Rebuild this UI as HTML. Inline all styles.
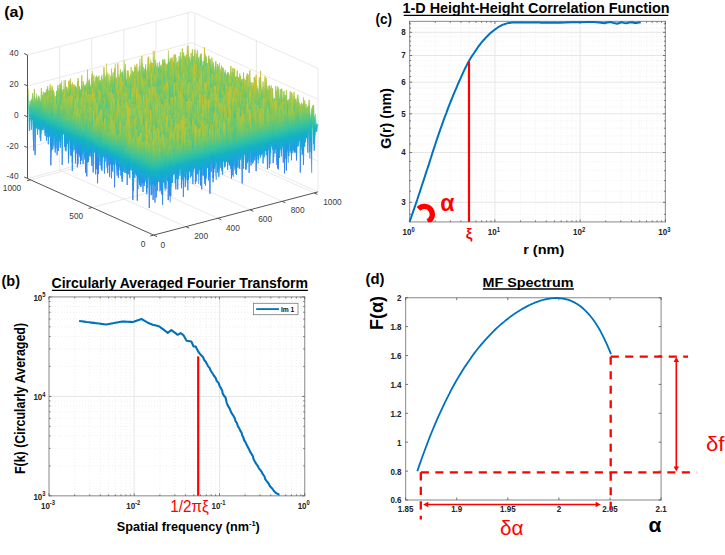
<!DOCTYPE html><html><head><meta charset="utf-8"><style>html,body{margin:0;padding:0;background:#fff;}svg{display:block;}</style></head><body>
<svg width="725" height="555" viewBox="0 0 725 555" font-family='"Liberation Sans", sans-serif'>
<rect width="725" height="555" fill="#fff"/>
<defs><linearGradient id="pz" gradientUnits="userSpaceOnUse" x1="0" y1="76" x2="0" y2="-80"><stop offset="0.000" stop-color="#f8d820"/><stop offset="0.167" stop-color="#f0b428"/><stop offset="0.244" stop-color="#c0c434"/><stop offset="0.321" stop-color="#84c858"/><stop offset="0.410" stop-color="#38c49c"/><stop offset="0.487" stop-color="#12b2c4"/><stop offset="0.577" stop-color="#1aa0e0"/><stop offset="0.718" stop-color="#2c80f2"/><stop offset="1.000" stop-color="#3050e8"/></linearGradient></defs>
<line x1="185.8" y1="226.7" x2="59.6" y2="170.1" stroke="#e3e3e3" stroke-width="0.8"/>
<line x1="217.9" y1="218.2" x2="91.7" y2="161.6" stroke="#e3e3e3" stroke-width="0.8"/>
<line x1="250" y1="209.8" x2="123.8" y2="153.2" stroke="#e3e3e3" stroke-width="0.8"/>
<line x1="282.1" y1="201.3" x2="155.9" y2="144.8" stroke="#e3e3e3" stroke-width="0.8"/>
<line x1="92.1" y1="207.5" x2="256.4" y2="164.3" stroke="#e3e3e3" stroke-width="0.8"/>
<line x1="30.5" y1="179.8" x2="194.8" y2="136.6" stroke="#e3e3e3" stroke-width="0.8"/>
<line x1="314.1" y1="192.9" x2="187.9" y2="136.3" stroke="#e3e3e3" stroke-width="0.8"/>
<line x1="27.5" y1="178.5" x2="191.8" y2="135.3" stroke="#e3e3e3" stroke-width="0.8"/>
<line x1="318" y1="191.9" x2="191.8" y2="135.3" stroke="#e3e3e3" stroke-width="0.8"/>
<line x1="59.6" y1="170.1" x2="59.6" y2="46.6" stroke="#e3e3e3" stroke-width="0.8"/>
<line x1="91.7" y1="161.6" x2="91.7" y2="38.1" stroke="#e3e3e3" stroke-width="0.8"/>
<line x1="123.8" y1="153.2" x2="123.8" y2="29.7" stroke="#e3e3e3" stroke-width="0.8"/>
<line x1="155.9" y1="144.8" x2="155.9" y2="21.2" stroke="#e3e3e3" stroke-width="0.8"/>
<line x1="187.9" y1="136.3" x2="187.9" y2="12.8" stroke="#e3e3e3" stroke-width="0.8"/>
<line x1="27.5" y1="147.6" x2="191.8" y2="104.4" stroke="#e3e3e3" stroke-width="0.8"/>
<line x1="27.5" y1="116.8" x2="191.8" y2="73.6" stroke="#e3e3e3" stroke-width="0.8"/>
<line x1="27.5" y1="85.9" x2="191.8" y2="42.7" stroke="#e3e3e3" stroke-width="0.8"/>
<line x1="27.5" y1="55" x2="191.8" y2="11.8" stroke="#e3e3e3" stroke-width="0.8"/>
<line x1="256.4" y1="164.3" x2="256.4" y2="40.8" stroke="#e3e3e3" stroke-width="0.8"/>
<line x1="194.8" y1="136.6" x2="194.8" y2="13.1" stroke="#e3e3e3" stroke-width="0.8"/>
<line x1="318" y1="161" x2="191.8" y2="104.4" stroke="#e3e3e3" stroke-width="0.8"/>
<line x1="318" y1="130.2" x2="191.8" y2="73.6" stroke="#e3e3e3" stroke-width="0.8"/>
<line x1="318" y1="99.3" x2="191.8" y2="42.7" stroke="#e3e3e3" stroke-width="0.8"/>
<line x1="318" y1="68.4" x2="191.8" y2="11.8" stroke="#e3e3e3" stroke-width="0.8"/>
<line x1="318" y1="191.9" x2="318" y2="68.4" stroke="#e3e3e3" stroke-width="0.8"/>
<g fill="url(#pz)" stroke="url(#pz)" stroke-width="0.45" stroke-linejoin="round">
<path transform="matrix(0.63192 -0.16615 0 -0.77187 28.762 117.316)" d="M-2,15.2l1,22 1-25 1,0 1,4 1-21 1,28 1-24 1,10 1-13 1-7 1,8 1-3 1,9 1,25 1-16 1-12 1,14 1-14 1,23 1-4 1-16 1,5 1,1 1-16 1-2 1,16 1-12 1,13 1,11 1-14 1,11 1,15 1-28 1,24 1-31 1-5 1,20 1-5 1-21 1,40 1-5 1-26 1,12 1,1 1-18 1,24 1-26 1-8 1,48 1-27 1-2 1,8 1-8 1,38 1-22 1,5 1,1 1,16 1-69 1,52 1-8 1-1 1,14 1-7 1-38 1,33 1-6 1,17 1-52 1,46 1-7 1,7 1-3 1-43 1,47 1-10 1-11 1,24 1-13 1,22 1-7 1-32 1,28 1-11 1,0 1-1 1,15 1-25 1,17 1-31 1,30 1-24 1-1 1,20 1-17 1,32 1-31 1,37 1-10 1-9 1,7 1-6 1,27 1-23 1-15 1,14 1-10 1,4 1-8 1,1 1,19 1-12 1,11 1-15 1,3 1-5 1,23 1,5 1-23 1,13 1-35 1,4 1,29 1-39 1,64 1-21 1,9 1-23 1-21 1,9 1,0 1,24 1-27 1,4 1,32 1-39 1,10 1,27 1,13 1-59 1-19 1,37 1,12 1-3 1-7 1-13 1,32 1-18 1-3 1,10 1,19 1-17 1,30 1-37 1,13 1-48 1,30 1,10 1-10 1-2 1,4 1-7 1,7 1,9 1,4 1-22 1,14 1-9 1,24 1,11 1-21 1,3 1-9 1,10 1-9 1-17 1,36 1,13 1-21 1-8 1,6 1,16 1-28 1,16 1-8 1-42 1,35 1,13 1-3 1-6 1-19 1,23 1-1 1,5 1,17 1-23 1,14 1-8 1,28 1-28 1,27 1-49 1-4 1,26 1-8 1,19 1-7 1,0 1-22 1,11 1,12 1-19 1,8 1,16 1-17 1,4 1,13 1-10 1-30 1,25 1-1 1,4 1,25 1-14 1-13 1-12 1,21 1-9 1,15 1-13 1,9 1-25 1,9 1,3 1-12 1,17 1-10 1,0 1-5 1,9 1-27 1,40 1-7 1,2 1,9 1-13 1-7 1,21 1-23 1,8 1-42 1,32 1,7 1,9 1-2 1,6 1-20 1,0 1,10 1-14L260,-14l-1-4 -1,27 -1,7 -1,0 -1-27 -1,13 -1,20 -1-37 -1,26 -1-19 -1,17 -1-1 -1,1 -1,3 -1-7 -1,12 -1,20 -1-20 -1-5 -1-7 -1,17 -1-44 -1,41 -1-29 -1-1 -1,6 -1,16 -1,19 -1,1 -1-42 -1,19 -1,4 -1,5 -1-32 -1,34 -1,9 -1-17 -1-1 -1-17 -1-30 -1,42 -1-3 -1-34 -1,52 -1-16 -1-3 -1,27 -1-21 -1,11 -1-39 -1,32 -1,9 -1,3 -1-46 -1,35 -1-6 -1-3 -1,1 -1,8 -1-18 -1,20 -1-17 -1,18 -1-59 -1,40 -1,16 -1-3 -1-11 -1,11 -1,1 -1-3 -1,7 -1,6 -1-21 -1,24 -1-12 -1-22 -1,12 -1,25 -1-19 -1,34 -1-30 -1,5 -1-27 -1,35 -1-39 -1,18 -1-22 -1-17 -1,45 -1,0 -1,8 -1-37 -1,36 -1,1 -1,8 -1-29 -1,17 -1-3 -1-62 -1,62 -1-6 -1-3 -1-4 -1,13 -1,3 -1,3 -1-14 -1-4 -1-3 -1,5 -1,27 -1-1 -1-13 -1,7 -1-7 -1,4 -1-7 -1-15 -1,4 -1,4 -1-5 -1-2 -1-29 -1,46 -1-8 -1-4 -1,14 -1-7 -1,5 -1,7 -1-49 -1,36 -1,1 -1,1 -1-7 -1,16 -1-21 -1,15 -1,3 -1-3 -1-14 -1,14 -1-3 -1-23 -1,27 -1-9 -1-21 -1,26 -1-17 -1-1 -1,25 -1,15 -1-38 -1,9 -1,10 -1-33 -1,41 -1-4 -1-13 -1-13 -1,16 -1,3 -1,12 -1-17 -1-16 -1,28 -1-9 -1-8 -1-5 -1,29 -1-5 -1-1 -1-23 -1,9 -1-4 -1-6 -1,22 -1-12 -1,20 -1-12 -1,23 -1-40 -1,12 -1-5 -1,24 -1-21 -1,8 -1-52 -1,42 -1-8 -1,6 -1,11 -1-14 -1,7 -1-16 -1,2 -1,9 -1,0 -1,9 -1,19 -1,0 -1-26 -1,5 -1,9 -1-3 -1-3 -1-2 -1,26 -1-2 -1-18 -1-28 -1,23 -1,24 -1-20 -1-3 -1,2 -1-24 -1-3 -1-17 -1,60 -1-16 -1-4 -1,1 -1,2 -1-6 -1-2 -1,26 -1-33 -1,39 -1-8 -1,4 -1-14 -1-6 -1,16 -1-33 -1,13 -1-11 -1,0 -1,16 -1-6 -1,5 -1,7 -1-26 -1,19 -1,2 -1-16 -1,13 -1,1 -1-12 -1,7 -1-50 -1,20 -1,31 -1,15 -1-38 -1,23 -1,15 -1-39 -1,28Z" vector-effect="non-scaling-stroke"/>
<path transform="matrix(0.63192 -0.16615 0 -0.77187 30.024 117.882)" d="M-2,11.2l1-28 1,39 1-15 1-23 1,38 1-15 1-31 1-20 1,50 1-7 1,12 1-1 1-13 1,16 1-2 1-19 1,26 1-7 1-5 1,6 1-16 1,0 1,11 1-13 1,33 1-16 1,6 1,14 1-4 1,8 1-39 1,33 1-26 1,2 1,6 1-2 1-1 1,4 1,16 1-60 1,17 1,3 1,24 1-2 1,3 1,20 1-24 1-23 1,28 1,18 1,2 1-26 1,2 1,3 1,3 1-9 1-5 1,26 1,0 1-19 1-9 1,0 1-9 1-2 1,16 1-7 1,14 1-11 1-6 1,8 1-42 1,52 1-8 1,21 1-24 1,5 1-12 1,40 1-23 1,12 1-20 1,12 1-22 1,6 1,4 1-9 1,23 1,1 1,5 1-29 1,5 1,8 1,9 1-28 1,16 1,17 1-12 1-3 1-16 1,13 1,13 1,4 1-41 1,33 1-10 1-9 1,38 1-15 1-25 1,1 1,17 1-26 1,21 1,9 1-27 1,23 1,3 1-14 1,14 1,3 1-3 1-15 1,21 1-16 1,7 1-1 1-1 1-36 1,49 1-7 1-5 1,7 1-14 1,4 1,8 1-46 1,29 1,2 1,5 1-4 1-4 1,15 1,7 1-4 1,7 1-7 1,13 1,1 1-27 1-5 1,3 1,4 1,14 1-3 1-3 1-13 1,4 1,3 1,6 1-62 1,62 1,3 1-17 1,29 1-8 1-1 1-36 1,37 1-8 1,0 1-45 1,17 1,22 1-18 1,39 1-35 1,27 1-5 1,30 1-34 1,19 1-25 1-12 1,22 1,12 1-24 1,21 1-6 1-7 1,3 1-1 1-11 1,11 1,3 1-16 1-40 1,59 1-18 1,17 1-20 1,18 1-8 1-1 1,3 1,6 1-35 1,46 1-3 1-9 1-32 1,39 1-11 1,21 1-27 1,3 1,16 1-52 1,34 1,3 1-42 1,30 1,17 1,1 1,17 1-9 1-34 1,32 1-5 1-4 1-19 1,42 1-1 1-19 1-16 1-6 1,1 1,29 1-41 1,44 1-17 1,7 1,5 1,20 1-20 1-12 1,7 1-3 1-1 1,1 1-17 1,19 1-26 1,37 1-20 1-13 1,27 1,0 1-7 1-27 1,4L260,15l-1-3 -1-17 -1-16 -1,44 -1-33 -1,5 -1,11 -1,7 -1-26 -1,19 -1,11 -1-8 -1,11 -1-6 -1,8 -1-19 -1-24 -1,29 -1-25 -1,18 -1-5 -1,38 -1-20 -1,15 -1-42 -1,18 -1,10 -1-41 -1,54 -1-6 -1-31 -1,15 -1,4 -1,11 -1-11 -1-9 -1,9 -1-17 -1,28 -1-8 -1-19 -1,6 -1-1 -1,7 -1-15 -1-4 -1,22 -1-9 -1,11 -1-35 -1,45 -1-6 -1-18 -1,17 -1,7 -1-5 -1-14 -1-1 -1,2 -1,3 -1,7 -1,9 -1-13 -1-25 -1,2 -1,22 -1,3 -1-36 -1,53 -1-25 -1,12 -1-5 -1-5 -1-4 -1-2 -1-5 -1,36 -1-27 -1,12 -1-8 -1-7 -1,0 -1,11 -1-2 -1-31 -1,25 -1-25 -1,14 -1,2 -1,13 -1,16 -1,6 -1,1 -1-1 -1-40 -1,17 -1,3 -1-10 -1,1 -1,6 -1,1 -1-6 -1,16 -1-16 -1,13 -1,3 -1-11 -1,6 -1,15 -1,4 -1-21 -1-1 -1-20 -1-3 -1-1 -1-17 -1,64 -1-13 -1-10 -1,11 -1-18 -1,17 -1,3 -1-15 -1,0 -1-13 -1,37 -1-21 -1-29 -1,5 -1,28 -1-17 -1,0 -1-2 -1-15 -1,7 -1,11 -1,18 -1,6 -1-7 -1-9 -1,21 -1-33 -1,19 -1-11 -1-5 -1,32 -1-19 -1,14 -1-18 -1,25 -1-21 -1,20 -1-18 -1,18 -1-21 -1,4 -1-9 -1,0 -1,2 -1-4 -1,2 -1,17 -1-17 -1-16 -1,40 -1-14 -1-8 -1,23 -1-33 -1,11 -1,14 -1-19 -1,4 -1,14 -1-12 -1,11 -1,4 -1-26 -1,15 -1-9 -1,5 -1,1 -1,21 -1-40 -1-6 -1,25 -1,3 -1-10 -1-3 -1-12 -1,39 -1-29 -1,8 -1,7 -1,25 -1-24 -1,22 -1-26 -1-40 -1,26 -1,23 -1-8 -1-64 -1,70 -1-3 -1-30 -1,24 -1,1 -1,6 -1-33 -1,19 -1,33 -1-22 -1-20 -1,17 -1,4 -1,14 -1-51 -1,41 -1-5 -1-1 -1-3 -1,15 -1-8 -1-5 -1-16 -1,22 -1,13 -1-17 -1-10 -1,3 -1,10 -1-31 -1,45 -1-2 -1-23 -1-9 -1,16 -1,5 -1-26 -1,21 -1-5 -1,13 -1-37 -1,38 -1,7 -1-27 -1,13 -1,13 -1-20 -1-55 -1,86 -1-12 -1-23 -1,30 -1-17 -1-6 -1,6 -1-4Z" vector-effect="non-scaling-stroke"/>
<path transform="matrix(0.63192 -0.16615 0 -0.77187 31.286 118.448)" d="M-2,11.2l1,4 1-6 1,6 1,17 1-30 1,23 1,12 1-86 1,55 1,20 1-13 1-13 1,27 1-7 1-38 1,37 1-13 1,5 1-21 1,26 1-5 1-16 1,9 1,23 1,2 1-45 1,31 1-10 1-3 1,10 1,17 1-13 1-22 1,16 1,5 1,8 1-15 1,3 1,1 1,5 1-41 1,51 1-14 1-4 1-17 1,20 1,22 1-33 1-19 1,33 1-6 1-1 1-24 1,30 1,3 1-70 1,64 1,8 1-23 1-26 1,40 1,26 1-22 1,24 1-25 1-7 1-8 1,29 1-39 1,12 1,3 1,10 1-3 1-25 1,6 1,40 1-21 1-1 1-5 1,9 1-15 1,26 1-4 1-11 1,12 1-14 1-4 1,19 1-14 1-11 1,33 1-23 1,8 1,14 1-40 1,16 1,17 1-17 1-2 1,4 1-2 1,0 1,9 1-4 1,21 1-18 1,18 1-20 1,21 1-25 1,18 1-14 1,19 1-32 1,5 1,11 1-19 1,33 1-21 1,9 1,7 1-6 1-18 1-11 1-7 1,15 1,2 1,0 1,17 1-28 1-5 1,29 1,21 1-37 1,13 1,0 1,15 1-3 1-17 1,18 1-11 1,10 1,13 1-64 1,17 1,1 1,3 1,20 1,1 1,21 1-4 1-15 1-6 1,11 1-3 1-13 1,16 1-16 1,6 1-1 1-6 1-1 1,10 1-3 1-17 1,40 1,1 1-1 1-6 1-16 1-13 1-2 1-14 1,25 1-25 1,31 1,2 1-11 1,0 1,7 1,8 1-12 1,27 1-36 1,5 1,2 1,4 1,5 1,5 1-12 1,25 1-53 1,36 1-3 1-22 1-2 1,25 1,13 1-9 1-7 1-3 1-2 1,1 1,14 1,5 1-7 1-17 1,18 1,6 1-45 1,35 1-11 1,9 1-22 1,4 1,15 1-7 1,1 1-6 1,19 1,8 1-28 1,17 1-9 1,9 1,11 1-11 1-4 1-15 1,31 1,6 1-54 1,41 1-10 1-18 1,42 1-15 1,20 1-38 1,5 1-18 1,25 1-29 1,24 1,19 1-8 1,6 1-11 1,8 1-11 1-19 1,26 1-7 1-11 1-5 1,33 1-44 1,16 1,17 1,3L260,-19l-1,22 -1,3 -1-28 -1,44 -1,4 -1-30 -1,7 -1,9 -1-11 -1,15 -1-24 -1,49 -1-37 -1-1 -1-11 -1,11 -1-11 -1,16 -1,4 -1-18 -1,29 -1-17 -1,8 -1-12 -1,4 -1,11 -1-2 -1,9 -1-20 -1,5 -1,14 -1-7 -1-14 -1-5 -1,3 -1,10 -1-3 -1,0 -1,2 -1-2 -1,19 -1-16 -1-11 -1-25 -1,49 -1-11 -1-5 -1,15 -1-37 -1,14 -1,21 -1,12 -1-29 -1-4 -1-2 -1,2 -1,1 -1,0 -1,0 -1-2 -1-3 -1-6 -1,19 -1-26 -1,26 -1-10 -1,9 -1-28 -1,25 -1,0 -1,2 -1-23 -1,22 -1,35 -1-1 -1-28 -1-11 -1,0 -1,5 -1,2 -1,9 -1,5 -1-8 -1-35 -1,32 -1,13 -1-31 -1-14 -1,39 -1,7 -1-26 -1,3 -1,18 -1,6 -1-13 -1,12 -1-7 -1-2 -1-6 -1-44 -1,45 -1,3 -1-8 -1,6 -1-9 -1,9 -1-27 -1,30 -1,0 -1-23 -1,18 -1,13 -1-23 -1,12 -1-3 -1-7 -1,7 -1-4 -1,3 -1,9 -1-24 -1,29 -1-6 -1-5 -1,9 -1-28 -1,29 -1-42 -1,32 -1,8 -1-18 -1,3 -1,17 -1-10 -1,6 -1-30 -1-34 -1,68 -1-19 -1,9 -1,0 -1,5 -1-43 -1,52 -1,18 -1-28 -1,0 -1,3 -1-27 -1,17 -1-25 -1,17 -1,9 -1,8 -1-24 -1,30 -1-10 -1,8 -1-19 -1,1 -1,6 -1-17 -1,10 -1,36 -1-32 -1,5 -1-8 -1-9 -1-3 -1-17 -1,71 -1-37 -1,5 -1,10 -1-14 -1,10 -1,3 -1-17 -1,20 -1-15 -1-2 -1-6 -1,21 -1-49 -1,15 -1,44 -1-20 -1-19 -1,33 -1-17 -1-19 -1,34 -1-24 -1-34 -1,59 -1-15 -1,2 -1-12 -1-2 -1,15 -1,2 -1-6 -1-23 -1,28 -1-1 -1,8 -1-36 -1-17 -1,53 -1-1 -1-14 -1-9 -1,12 -1-2 -1-9 -1,12 -1-3 -1,5 -1,6 -1-12 -1-11 -1,17 -1,0 -1-19 -1,11 -1,10 -1,21 -1-10 -1-67 -1,38 -1,4 -1,1 -1,0 -1-3 -1-10 -1,4 -1,20 -1-36 -1,45 -1-16 -1-24 -1,43 -1-30 -1,42 -1-31 -1,14 -1-15 -1-12 -1,21 -1,7 -1-28 -1,28 -1-31 -1,17 -1,1 -1-9 -1,20 -1-20 -1,3 -1,21Z" vector-effect="non-scaling-stroke"/>
<path transform="matrix(0.63192 -0.16615 0 -0.77187 32.548 119.014)" d="M-2,23.2l1-21 1-3 1,20 1-20 1,9 1-1 1-17 1,31 1-28 1,28 1-7 1-21 1,12 1,15 1-14 1,31 1-42 1,30 1-43 1,24 1,16 1-45 1,36 1-20 1-4 1,10 1,3 1,0 1-1 1-4 1-38 1,67 1,10 1-21 1-10 1-11 1,19 1,0 1-17 1,11 1,12 1-6 1-5 1,3 1-12 1,9 1,2 1-12 1,9 1,14 1,1 1-53 1,17 1,36 1-8 1,1 1-28 1,23 1,6 1-2 1-15 1,2 1,12 1-2 1,15 1-59 1,34 1,24 1-34 1,19 1,17 1-33 1,19 1,20 1-44 1-15 1,49 1-21 1,6 1,2 1,15 1-20 1,17 1-3 1-10 1,14 1-10 1-5 1,37 1-71 1,17 1,3 1,9 1,8 1-5 1,32 1-36 1-10 1,17 1-6 1-1 1,19 1-8 1,10 1-30 1,24 1-8 1-9 1-17 1,25 1-17 1,27 1-3 1,0 1,28 1-18 1-52 1,43 1-5 1,0 1-9 1,19 1-68 1,34 1,30 1-6 1,10 1-17 1-3 1,18 1-8 1-32 1,42 1-29 1,28 1-9 1,5 1,6 1-29 1,24 1-9 1-3 1,4 1-7 1,7 1,3 1-12 1,23 1-13 1-18 1,23 1,0 1-30 1,27 1-9 1,9 1-6 1,8 1-3 1-45 1,44 1,6 1,2 1,7 1-12 1,13 1-6 1-18 1-3 1,26 1-7 1-39 1,14 1,31 1-13 1-32 1,35 1,8 1-5 1-9 1-2 1-5 1,0 1,11 1,28 1,1 1-35 1-22 1,23 1-2 1,0 1-25 1,28 1-9 1,10 1-26 1,26 1-19 1,6 1,3 1,2 1,0 1,0 1-1 1-2 1,2 1,4 1,29 1-12 1-21 1-14 1,37 1-15 1,5 1,11 1-49 1,25 1,11 1,16 1-19 1,2 1-2 1,0 1,3 1-10 1-3 1,5 1,14 1,7 1-14 1-5 1,20 1-9 1,2 1-11 1-4 1,12 1-8 1,17 1-29 1,18 1-4 1-16 1,11 1-11 1,11 1,1 1,37 1-49 1,24 1-15 1,11 1-9 1-7 1,30 1-4 1-44 1,28 1-3 1-22L260,9l-1-19 -1,20 -1-25 -1,20 -1-40 -1,26 -1,45 -1-18 -1-1 -1-2 -1,1 -1,8 -1-7 -1,18 -1-31 -1-1 -1,27 -1-27 -1,9 -1,18 -1-22 -1-9 -1,4 -1,0 -1,14 -1,5 -1-35 -1,29 -1-29 -1,17 -1-2 -1,5 -1,1 -1-9 -1,8 -1,28 -1-27 -1,13 -1,1 -1-18 -1,25 -1-1 -1-32 -1,10 -1,17 -1-26 -1,28 -1-9 -1-15 -1,25 -1-24 -1,11 -1-5 -1-15 -1-13 -1,27 -1-6 -1-15 -1,20 -1,2 -1,11 -1-9 -1,14 -1-43 -1,45 -1,9 -1-41 -1,25 -1-17 -1,22 -1-31 -1,40 -1-24 -1,6 -1-3 -1-3 -1-17 -1,3 -1,14 -1-8 -1,17 -1,5 -1,4 -1-29 -1,9 -1,13 -1-4 -1,1 -1-28 -1,10 -1,18 -1-12 -1-13 -1,24 -1-8 -1-7 -1,6 -1,3 -1-4 -1-19 -1,33 -1-14 -1-22 -1,27 -1-32 -1,24 -1,5 -1-2 -1-7 -1,7 -1,0 -1-10 -1,43 -1-21 -1-5 -1-16 -1,20 -1-14 -1,16 -1-41 -1,49 -1-26 -1,1 -1-44 -1,48 -1-15 -1,9 -1,7 -1,11 -1,20 -1-39 -1,8 -1-13 -1,6 -1,23 -1,6 -1-21 -1-6 -1-15 -1,16 -1,7 -1-8 -1,25 -1-20 -1,0 -1-12 -1-13 -1,29 -1-1 -1,9 -1-26 -1,34 -1-11 -1-4 -1,16 -1-33 -1,11 -1,4 -1-13 -1-10 -1,7 -1,11 -1-4 -1-2 -1,15 -1-26 -1,8 -1-10 -1-2 -1,21 -1-1 -1,27 -1-32 -1,4 -1-3 -1,2 -1-19 -1,39 -1-23 -1,13 -1-19 -1,30 -1-13 -1-4 -1,15 -1-20 -1-20 -1,20 -1,6 -1,1 -1,12 -1-6 -1,2 -1-13 -1-4 -1,25 -1-19 -1,21 -1-20 -1,1 -1,7 -1-6 -1-6 -1,21 -1-9 -1,16 -1-28 -1,37 -1-39 -1-21 -1,46 -1,3 -1-21 -1-6 -1-1 -1,17 -1-6 -1-23 -1,16 -1-3 -1-25 -1,22 -1,10 -1,7 -1,7 -1-32 -1,19 -1-2 -1-8 -1-33 -1,43 -1,25 -1-51 -1,19 -1,9 -1,13 -1-35 -1,17 -1-7 -1,13 -1,18 -1-41 -1,10 -1,10 -1,19 -1-7 -1-13 -1,10 -1-14 -1,7 -1,13 -1-27 -1,7 -1-4 -1-2 -1,16 -1,9 -1-13 -1,11 -1-9Z" vector-effect="non-scaling-stroke"/>
<path transform="matrix(0.63192 -0.16615 0 -0.77187 33.810 119.580)" d="M-2,13.2l1,9 1-11 1,13 1-9 1-16 1,2 1,4 1-7 1,27 1-13 1-7 1,14 1-10 1,13 1,7 1-19 1-10 1-10 1,41 1-18 1-13 1,7 1-17 1,35 1-13 1-9 1-19 1,51 1-25 1-43 1,33 1,8 1,2 1-19 1,32 1-7 1-7 1-10 1-22 1,25 1,3 1-16 1,23 1,6 1-17 1,1 1,6 1,21 1-3 1-46 1,21 1,39 1-37 1,28 1-16 1,9 1-21 1,6 1,6 1-7 1-1 1,20 1-21 1,19 1-25 1,4 1,13 1-2 1,6 1-12 1-1 1-6 1-20 1,20 1,20 1-15 1,4 1,13 1-30 1,19 1-13 1,23 1-39 1,19 1-2 1,3 1-4 1,32 1-27 1,1 1-21 1,2 1,10 1-8 1,26 1-15 1,2 1,4 1-11 1-7 1,10 1,13 1-4 1-11 1,33 1-16 1,4 1,11 1-34 1,26 1-9 1,1 1-29 1,13 1,12 1,0 1,20 1-25 1,8 1-7 1-16 1,15 1,6 1,21 1-6 1-23 1-6 1,13 1-8 1,39 1-20 1-11 1-7 1-9 1,15 1-48 1,44 1-1 1,26 1-49 1,41 1-16 1,14 1-20 1,16 1,5 1,21 1-43 1,10 1,0 1-7 1,7 1,2 1-5 1-24 1,32 1-27 1,22 1,14 1-33 1,19 1,4 1-3 1-6 1,7 1,8 1-24 1,13 1,12 1-18 1-10 1,28 1-1 1,4 1-13 1-9 1,29 1-4 1-5 1-17 1,8 1-14 1-3 1,17 1,3 1,3 1-6 1,24 1-40 1,31 1-22 1,17 1-25 1,41 1-9 1-45 1,43 1-14 1,9 1-11 1-2 1-20 1,15 1,6 1-27 1,13 1,15 1,5 1-11 1,24 1-25 1,15 1,9 1-28 1,26 1-17 1-10 1,32 1,1 1-25 1,18 1-1 1-13 1,27 1-28 1-8 1,9 1-1 1-5 1,2 1-17 1,29 1-29 1,35 1-5 1-14 1,0 1-4 1,9 1,22 1-18 1-9 1,27 1-27 1,1 1,31 1-18 1,7 1-8 1-1 1,2 1,1 1,18 1-45 1-26 1,40 1-20 1,25 1-20 1,19L260,5l-1,29 -1-8 -1-45 -1,33 -1,22 -1-13 -1-27 -1,9 -1-9 -1-16 -1,16 -1-25 -1,29 -1,10 -1-20 -1,1 -1-11 -1-12 -1,53 -1-13 -1,4 -1-20 -1,44 -1-21 -1-12 -1,1 -1,2 -1-24 -1-2 -1-24 -1,58 -1-3 -1-41 -1,54 -1-32 -1,20 -1-11 -1,19 -1-15 -1,14 -1-16 -1-9 -1,14 -1-17 -1,7 -1,16 -1-17 -1,27 -1-27 -1,7 -1,22 -1,1 -1,7 -1-9 -1,3 -1-22 -1-5 -1-5 -1,20 -1-11 -1,27 -1-43 -1,12 -1-1 -1,11 -1-13 -1-18 -1,44 -1-17 -1,7 -1-15 -1,9 -1-16 -1,11 -1,18 -1,4 -1-43 -1,29 -1,7 -1-20 -1,1 -1-4 -1,4 -1,17 -1-24 -1,4 -1,9 -1-9 -1-16 -1,32 -1-14 -1,20 -1,15 -1-32 -1-1 -1,17 -1-27 -1,18 -1-16 -1,9 -1-41 -1,34 -1,12 -1,16 -1-33 -1,34 -1-60 -1,46 -1,8 -1-9 -1,24 -1-39 -1,14 -1,14 -1-72 -1,59 -1,1 -1-1 -1-21 -1,13 -1,7 -1-10 -1,15 -1-14 -1,2 -1-2 -1,12 -1-1 -1,13 -1-27 -1,21 -1,3 -1,0 -1-37 -1,18 -1,12 -1-3 -1,8 -1-9 -1,9 -1-11 -1,0 -1,3 -1-12 -1-9 -1,22 -1,2 -1,5 -1-13 -1,24 -1-27 -1,8 -1-36 -1,27 -1,18 -1-1 -1-31 -1,36 -1-10 -1-37 -1,46 -1-12 -1-1 -1-13 -1,16 -1-42 -1,35 -1,31 -1-67 -1,54 -1-22 -1,10 -1-12 -1,26 -1-3 -1-11 -1-1 -1,16 -1-32 -1,15 -1-15 -1,40 -1-35 -1,43 -1-31 -1-10 -1-3 -1,16 -1-8 -1,0 -1-27 -1,28 -1-2 -1,4 -1,4 -1-18 -1-1 -1-1 -1,30 -1-7 -1-49 -1,26 -1,5 -1,8 -1,8 -1-6 -1,7 -1-11 -1-6 -1,6 -1-9 -1-13 -1,17 -1,18 -1-15 -1,14 -1-42 -1,22 -1,16 -1-9 -1,21 -1-13 -1,5 -1-8 -1-22 -1,12 -1,9 -1,12 -1-9 -1-4 -1,12 -1-19 -1-12 -1,54 -1-35 -1-1 -1-11 -1,6 -1,19 -1-17 -1,25 -1-17 -1,21 -1-33 -1,13 -1-21 -1,2 -1,12 -1,3 -1-3 -1,6 -1-19 -1,36 -1-47 -1,15 -1,33 -1-18 -1,17 -1-29 -1,11Z" vector-effect="non-scaling-stroke"/>
<path transform="matrix(0.63192 -0.16615 0 -0.77187 35.072 120.146)" d="M-2,9.2l1-11 1,29 1-17 1,18 1-33 1-15 1,47 1-36 1,19 1-6 1,3 1-3 1-12 1-2 1,21 1-13 1,33 1-21 1,17 1-25 1,17 1-19 1-6 1,11 1,1 1,35 1-54 1,12 1,19 1-12 1,4 1,9 1-12 1-9 1-12 1,22 1,8 1-5 1,13 1-21 1,9 1-16 1-22 1,42 1-14 1,15 1-18 1-17 1,13 1,9 1-6 1,6 1,11 1-7 1,6 1-8 1-8 1-5 1-26 1,49 1,7 1-30 1,1 1,1 1,18 1-4 1-4 1,2 1-28 1,27 1,0 1,8 1-16 1,3 1,10 1,31 1-43 1,35 1-40 1,15 1-15 1,32 1-16 1,1 1,11 1,3 1-26 1,12 1-10 1,22 1-54 1,67 1-31 1-35 1,42 1-16 1,13 1,1 1,12 1-46 1,37 1,10 1-36 1,31 1,1 1-18 1-27 1,36 1-8 1,27 1-24 1,13 1-5 1-2 1-22 1,9 1,12 1-3 1,0 1,11 1-9 1,9 1-8 1,3 1-12 1-18 1,37 1,0 1-3 1-21 1,27 1-13 1,1 1-12 1,2 1-2 1,14 1-15 1,10 1-7 1-13 1,21 1,1 1-1 1-59 1,72 1-14 1-14 1,39 1-24 1,9 1-8 1-46 1,60 1-34 1,33 1-16 1-12 1-34 1,41 1-9 1,16 1-18 1,27 1-17 1,1 1,32 1-15 1-20 1,14 1-32 1,16 1,9 1-9 1-4 1,24 1-17 1-4 1,4 1-1 1,20 1-7 1-29 1,43 1-4 1-18 1-11 1,16 1-9 1,15 1-7 1,17 1-44 1,18 1,13 1-11 1,1 1-12 1,43 1-27 1,11 1-20 1,5 1,5 1,22 1-3 1,9 1-7 1-1 1-22 1-7 1,27 1-27 1,17 1-16 1-7 1,17 1-14 1,9 1,16 1-14 1,15 1-19 1,11 1-20 1,32 1-54 1,41 1,3 1-58 1,24 1,2 1,24 1-2 1-1 1,12 1,21 1-44 1,20 1-4 1,13 1-53 1,12 1,11 1-1 1,20 1-10 1-29 1,25 1-16 1,16 1,9 1-9 1,27 1,13 1-22 1-33 1,45 1,8 1-29L260,10l-1,1 -1,7 -1-21 -1,22 -1-22 -1-5 -1-15 -1,41 -1,11 -1-12 -1-18 -1,28 -1-31 -1,9 -1,21 -1-11 -1-1 -1-23 -1,8 -1-5 -1,24 -1-27 -1,14 -1,3 -1-27 -1,44 -1-19 -1-20 -1,31 -1-30 -1,32 -1-4 -1-28 -1,3 -1,25 -1-1 -1-10 -1,2 -1,4 -1-9 -1-24 -1,35 -1-9 -1,30 -1-33 -1-3 -1-8 -1,26 -1-3 -1,16 -1-13 -1-26 -1,18 -1-40 -1,37 -1,16 -1-21 -1,14 -1,9 -1-14 -1,20 -1-15 -1,16 -1-29 -1,10 -1-28 -1,47 -1-15 -1-9 -1-28 -1,2 -1,3 -1,41 -1-21 -1,2 -1-15 -1,10 -1,7 -1,15 -1-11 -1-5 -1-10 -1-1 -1,24 -1-16 -1-1 -1,24 -1-28 -1,6 -1,15 -1-15 -1,18 -1-4 -1-16 -1,7 -1,9 -1-13 -1-14 -1,39 -1-24 -1,20 -1-26 -1,21 -1-6 -1-14 -1-1 -1,17 -1-8 -1,19 -1-24 -1,14 -1-21 -1,1 -1-11 -1-7 -1,33 -1,1 -1,1 -1-43 -1,52 -1-20 -1-3 -1,25 -1-22 -1-5 -1,19 -1-12 -1,1 -1-33 -1,48 -1-17 -1,8 -1-17 -1,20 -1-13 -1,21 -1-11 -1,19 -1-13 -1,0 -1-22 -1,13 -1-4 -1,2 -1,10 -1-8 -1-15 -1,27 -1-16 -1-10 -1,19 -1-17 -1,18 -1-21 -1,28 -1-15 -1,5 -1-3 -1-10 -1,22 -1-7 -1-13 -1-14 -1,35 -1,6 -1-10 -1,3 -1-18 -1,11 -1-4 -1,3 -1-18 -1,22 -1-3 -1-16 -1,25 -1-40 -1,26 -1-8 -1-23 -1,34 -1,1 -1-29 -1,7 -1,17 -1-18 -1,21 -1,9 -1-52 -1,60 -1-22 -1-40 -1,43 -1,12 -1-25 -1,12 -1,2 -1-11 -1,19 -1-20 -1,13 -1,11 -1-25 -1-1 -1-5 -1,26 -1-1 -1-26 -1,38 -1-10 -1,13 -1-33 -1,8 -1,1 -1-1 -1,15 -1-42 -1,3 -1,14 -1,15 -1,16 -1-17 -1-15 -1,21 -1-5 -1-25 -1,30 -1-8 -1-10 -1,16 -1,9 -1-42 -1,52 -1-24 -1-3 -1,9 -1,5 -1,2 -1-12 -1,4 -1-6 -1-21 -1,23 -1,12 -1-13 -1,0 -1,25 -1-40 -1,11 -1,2 -1-27 -1,34 -1,10 -1-18 -1-15 -1,32 -1-26 -1-8 -1,25 -1-25Z" vector-effect="non-scaling-stroke"/>
<path transform="matrix(0.63192 -0.16615 0 -0.77187 36.334 120.712)" d="M-2,-9.8l1,25 1-25 1,8 1,26 1-32 1,15 1,18 1-10 1-34 1,27 1-2 1-11 1,40 1-25 1,0 1,13 1-12 1-23 1,21 1,6 1-4 1,12 1-2 1-5 1-9 1,3 1,24 1-52 1,42 1-9 1-16 1,10 1,8 1-30 1,25 1,5 1-21 1,15 1,17 1-16 1-15 1-14 1-3 1,42 1-15 1,1 1-1 1-8 1,33 1-13 1,10 1-38 1,26 1,1 1-26 1,5 1,1 1,25 1-11 1-13 1,20 1-19 1,11 1-2 1-12 1,25 1-12 1-43 1,40 1,22 1-60 1,52 1-9 1-21 1,18 1-17 1-7 1,29 1-1 1-34 1,23 1,8 1-26 1,40 1-25 1,16 1,3 1-22 1,18 1-3 1,4 1-11 1,18 1-3 1,10 1-6 1-35 1,14 1,13 1,7 1-22 1,10 1,3 1-5 1,15 1-28 1,21 1-18 1,17 1-19 1,10 1,16 1-27 1,15 1,8 1-10 1-2 1,4 1-13 1,22 1,0 1,13 1-19 1,11 1-21 1,13 1-20 1,17 1-8 1,17 1-48 1,33 1-1 1,12 1-19 1,5 1,22 1-25 1,3 1,20 1-52 1,43 1-1 1-1 1-33 1,7 1,11 1-1 1,21 1-14 1,24 1-19 1,8 1-17 1,1 1,14 1,6 1-21 1,26 1-20 1,24 1-39 1,14 1,13 1-9 1-7 1,16 1,4 1-18 1,15 1-15 1-6 1,28 1-24 1,1 1,16 1-24 1,1 1,10 1,5 1,11 1-15 1-7 1-10 1,15 1-2 1,21 1-41 1-3 1-2 1,28 1,9 1,15 1-47 1,28 1-10 1,29 1-16 1,15 1-20 1,14 1-9 1-14 1,21 1-16 1-37 1,40 1-18 1,26 1,13 1-16 1,3 1-26 1,8 1,3 1,33 1-30 1,9 1-35 1,24 1,9 1-4 1-2 1,10 1,1 1-25 1-3 1,28 1,4 1-32 1,30 1-31 1,20 1,19 1-44 1,27 1-3 1-14 1,27 1-24 1,5 1-8 1,23 1,1 1,11 1-21 1-9 1,31 1-28 1,18 1,12 1-11 1-41 1,15 1,5 1,22 1-22 1,21 1-7 1-1L260,30l-1-2 -1-15 -1,0 -1,14 -1-7 -1-24 -1,10 -1-26 -1,30 -1,13 -1-2 -1-42 -1,16 -1,7 -1,33 -1-38 -1-12 -1,46 -1-29 -1,16 -1,3 -1,9 -1-1 -1-28 -1,14 -1-7 -1,2 -1,6 -1,15 -1-11 -1-22 -1,11 -1-13 -1,34 -1-26 -1,7 -1-6 -1,4 -1,2 -1,21 -1-4 -1-20 -1-14 -1,5 -1-19 -1,20 -1,11 -1,12 -1-1 -1-22 -1,9 -1-26 -1,40 -1-22 -1-25 -1,35 -1-4 -1-3 -1-11 -1,6 -1,6 -1-11 -1,4 -1,8 -1-13 -1-24 -1,38 -1-15 -1,14 -1-24 -1,52 -1-25 -1,6 -1-21 -1,23 -1,6 -1-19 -1-6 -1-2 -1,14 -1-42 -1,59 -1,16 -1-23 -1-48 -1,38 -1-15 -1,11 -1,5 -1,7 -1-20 -1,32 -1-10 -1,15 -1-33 -1,3 -1-2 -1-31 -1,29 -1,21 -1-21 -1-8 -1,13 -1-6 -1-6 -1,0 -1-7 -1,27 -1,5 -1,5 -1,3 -1-11 -1-9 -1-13 -1,18 -1-15 -1-13 -1,26 -1-21 -1,14 -1,6 -1-10 -1,2 -1-12 -1-1 -1,36 -1-10 -1,14 -1-17 -1-17 -1,53 -1-64 -1,44 -1-9 -1,7 -1-15 -1-9 -1-18 -1,35 -1-26 -1,24 -1,5 -1-29 -1,20 -1-17 -1-30 -1,22 -1,38 -1-10 -1-46 -1,50 -1-33 -1,12 -1,18 -1-8 -1,0 -1,7 -1-1 -1-3 -1-6 -1-12 -1,0 -1,12 -1,7 -1-24 -1,48 -1-36 -1-9 -1,48 -1-23 -1,2 -1,6 -1,2 -1-34 -1,24 -1-9 -1-11 -1,6 -1-2 -1,32 -1-23 -1-5 -1-16 -1,28 -1,7 -1-10 -1-12 -1,10 -1-13 -1,26 -1-38 -1,35 -1-22 -1,7 -1-10 -1,20 -1,7 -1-19 -1,9 -1,21 -1-15 -1-27 -1,20 -1,1 -1-2 -1-3 -1,8 -1,1 -1-19 -1,0 -1,20 -1-20 -1,8 -1,1 -1-24 -1,27 -1-3 -1,3 -1,9 -1-18 -1-17 -1,14 -1,29 -1-2 -1-28 -1,16 -1-7 -1,10 -1-9 -1-12 -1,22 -1,5 -1-23 -1,1 -1,15 -1-39 -1,42 -1,10 -1-31 -1-1 -1,13 -1,17 -1-28 -1,3 -1,7 -1-31 -1,22 -1,12 -1-6 -1-4 -1,23 -1-16 -1-36 -1,32 -1,3 -1-19 -1,23 -1-11 -1-6 -1,11Z" vector-effect="non-scaling-stroke"/>
<path transform="matrix(0.63192 -0.16615 0 -0.77187 37.596 121.278)" d="M-2,6.2l1-11 1,6 1,11 1-23 1,19 1-3 1-32 1,36 1,16 1-23 1,4 1,6 1-12 1-22 1,31 1-7 1-3 1,28 1-17 1-13 1,1 1,31 1-10 1-42 1,39 1-15 1-1 1,23 1-5 1-22 1,12 1,9 1-10 1,7 1-16 1,28 1,2 1-29 1-14 1,17 1,18 1-9 1-3 1,3 1-27 1,24 1-1 1-8 1,20 1-20 1,0 1,19 1-1 1-8 1,3 1,2 1-1 1-20 1,27 1,15 1-21 1-9 1,19 1-7 1-20 1,10 1-7 1,22 1-35 1,38 1-26 1,13 1-10 1,12 1,10 1-7 1-28 1,16 1,5 1,23 1-32 1,2 1-6 1,11 1,9 1-24 1,34 1-2 1-6 1-2 1,23 1-48 1,9 1,36 1-48 1,24 1-7 1-12 1,0 1,12 1,6 1,3 1,1 1-7 1,0 1,8 1-18 1-12 1,33 1-50 1,46 1,10 1-38 1-22 1,30 1,17 1-20 1,29 1-5 1-24 1,26 1-35 1,18 1,9 1,15 1-7 1,9 1-44 1,64 1-53 1,17 1,17 1-14 1,10 1-36 1,1 1,12 1-2 1,10 1-6 1-14 1,21 1-26 1,13 1,15 1-18 1,13 1,9 1,11 1-3 1-5 1-5 1-27 1,7 1,0 1,6 1,6 1-13 1,8 1,21 1-21 1-29 1,31 1,2 1-3 1,33 1-15 1,10 1-32 1,20 1-7 1-5 1-11 1,15 1-38 1,48 1,23 1-16 1-59 1,42 1-14 1,2 1,6 1,19 1-6 1-23 1,21 1-6 1,25 1-52 1,24 1-14 1,15 1-38 1,24 1,13 1-8 1-4 1,11 1-6 1-6 1,11 1,3 1,4 1-35 1,25 1,22 1-40 1,26 1-9 1,22 1,1 1-12 1-11 1-20 1,19 1-5 1,14 1,20 1,4 1-21 1-2 1-4 1,6 1-7 1,26 1-34 1,13 1-11 1,22 1,11 1-15 1-6 1-2 1,7 1-14 1,28 1,1 1-9 1-3 1-16 1,29 1-46 1,12 1,38 1-33 1-7 1-16 1,42 1,2 1-13 1-30 1,26 1-10 1,24 1,7 1-14 1,0 1,15 1,2L260,12l-1,20 -1-34 -1-5 -1,25 -1-9 -1,7 -1-15 -1,15 -1-17 -1,12 -1,11 -1-75 -1,73 -1-23 -1,3 -1,25 -1-23 -1,13 -1-31 -1,38 -1-19 -1-3 -1,19 -1,15 -1-10 -1,9 -1-21 -1,11 -1-52 -1,11 -1,13 -1,26 -1,0 -1-36 -1-6 -1,30 -1-3 -1,11 -1,2 -1-13 -1,14 -1-6 -1,7 -1-8 -1-48 -1,42 -1-16 -1-44 -1,66 -1,0 -1-37 -1,32 -1-9 -1,3 -1,9 -1-2 -1-4 -1,1 -1-5 -1,13 -1,8 -1-13 -1,5 -1-4 -1,11 -1-21 -1,33 -1-24 -1,9 -1-48 -1,9 -1,24 -1,7 -1-8 -1-1 -1,17 -1,6 -1-6 -1,1 -1-13 -1-5 -1-15 -1,16 -1,13 -1-32 -1,37 -1-25 -1,15 -1-61 -1,44 -1,20 -1,6 -1-4 -1-24 -1,31 -1,1 -1-2 -1-6 -1-17 -1,2 -1-8 -1,12 -1,2 -1-15 -1,17 -1,14 -1-16 -1,16 -1,2 -1,6 -1-41 -1-3 -1,37 -1-14 -1,6 -1-25 -1,40 -1-20 -1-3 -1-4 -1-3 -1,24 -1-19 -1,14 -1-7 -1-21 -1,8 -1-8 -1,25 -1,1 -1-15 -1,9 -1,18 -1-21 -1-4 -1,1 -1-4 -1-6 -1,13 -1,7 -1-10 -1-11 -1,49 -1-29 -1-6 -1,14 -1-5 -1-16 -1,10 -1,6 -1-12 -1,31 -1-33 -1,8 -1,0 -1-16 -1-3 -1,14 -1-4 -1,8 -1-4 -1-7 -1,18 -1,3 -1-12 -1-8 -1,5 -1,11 -1,9 -1-20 -1,5 -1,12 -1,0 -1-15 -1,23 -1-5 -1-28 -1,16 -1-40 -1,23 -1-6 -1,3 -1,2 -1,17 -1-20 -1-9 -1,31 -1,18 -1-13 -1,10 -1-48 -1-24 -1,25 -1,27 -1-11 -1,10 -1,11 -1-6 -1-2 -1-22 -1,40 -1-30 -1,36 -1-34 -1-6 -1,17 -1-5 -1,0 -1-24 -1,20 -1,19 -1-17 -1,15 -1-26 -1-5 -1,31 -1-11 -1-28 -1,25 -1,6 -1-4 -1-19 -1,4 -1-2 -1,9 -1,11 -1-9 -1-1 -1,16 -1-26 -1,33 -1-23 -1,11 -1,6 -1-7 -1,8 -1-14 -1,9 -1-17 -1,16 -1,2 -1,0 -1-14 -1-25 -1,21 -1,13 -1,15 -1,4 -1-32 -1-8 -1,2 -1,21 -1,6 -1,15 -1-32 -1-3 -1-7 -1,30 -1-31 -1,23Z" vector-effect="non-scaling-stroke"/>
<path transform="matrix(0.63192 -0.16615 0 -0.77187 38.858 121.844)" d="M-2,14.2l1-23 1,31 1-30 1,7 1,3 1,32 1-15 1-6 1-21 1-2 1,8 1,32 1-4 1-15 1-13 1-21 1,25 1,14 1,0 1-2 1-16 1,17 1-9 1,14 1-8 1,7 1-6 1-11 1,23 1-33 1,26 1-16 1,1 1,9 1-11 1-9 1,2 1-4 1,19 1,4 1-6 1-25 1,28 1,11 1-31 1,5 1,26 1-15 1,17 1-19 1-20 1,24 1,0 1,5 1-17 1,6 1,34 1-36 1,30 1-40 1,22 1,2 1,6 1-11 1-10 1,11 1-27 1-25 1,24 1,48 1-10 1,13 1-18 1-31 1,9 1,20 1-17 1-2 1-3 1,6 1-23 1,40 1-16 1,28 1,5 1-23 1,15 1,0 1-12 1-5 1,20 1-9 1-11 1-5 1,8 1,12 1-3 1-18 1,7 1,4 1-8 1,4 1-14 1,3 1,16 1,0 1-8 1,33 1-31 1,12 1-6 1-10 1,16 1,5 1-14 1,6 1,29 1-49 1,11 1,10 1-7 1-13 1,6 1,4 1-1 1,4 1,21 1-18 1-9 1,15 1-1 1-25 1,8 1-8 1,21 1,7 1-14 1,19 1-24 1,3 1,4 1,3 1,20 1-40 1,25 1-6 1,14 1-37 1,3 1,41 1-6 1-2 1-16 1,16 1-14 1-17 1,15 1-2 1-12 1,8 1-2 1,17 1,6 1,2 1-1 1-31 1,24 1,4 1-6 1-20 1-44 1,61 1-15 1,25 1-37 1,32 1-13 1-16 1,15 1,5 1,13 1-1 1,6 1-6 1-17 1,1 1,8 1-7 1-24 1-9 1,48 1-9 1,24 1-33 1,21 1-11 1,4 1-5 1,13 1-8 1-13 1,5 1-1 1,4 1,2 1-9 1-3 1,9 1-32 1,37 1,0 1-66 1,44 1,16 1-42 1,48 1,8 1-7 1,6 1-14 1,13 1-2 1-11 1,3 1-30 1,6 1,36 1,0 1-26 1-13 1-11 1,52 1-11 1,21 1-9 1,10 1-15 1-19 1,3 1,19 1-38 1,31 1-13 1,23 1-25 1-3 1,23 1-73 1,75 1-11 1-12 1,17 1-15 1,15 1-7 1,9 1-25 1,5 1,34 1-20L260,1l-1-23 -1,17 -1,22 -1-8 -1-13 -1,2 -1-11 -1,42 -1-32 -1,2 -1-10 -1-9 -1,19 -1-21 -1,37 -1-1 -1,7 -1-36 -1,2 -1,17 -1,22 -1-7 -1-9 -1,5 -1,4 -1,18 -1-13 -1-12 -1,5 -1-24 -1,16 -1-7 -1,9 -1,6 -1,2 -1-13 -1,14 -1-16 -1-21 -1,26 -1-2 -1-5 -1-29 -1,37 -1-12 -1,15 -1-21 -1,35 -1-18 -1-4 -1,19 -1-50 -1-4 -1,15 -1,25 -1,1 -1-7 -1-17 -1,17 -1-12 -1,18 -1-20 -1,43 -1-2 -1-33 -1,15 -1-6 -1-2 -1-10 -1,4 -1,24 -1-24 -1,5 -1,3 -1,20 -1-12 -1-2 -1-22 -1,1 -1-6 -1,42 -1-11 -1-26 -1,6 -1,28 -1-26 -1,1 -1,7 -1,5 -1-43 -1,33 -1,11 -1-1 -1,1 -1,4 -1-5 -1,14 -1-49 -1,21 -1-40 -1,71 -1-17 -1,5 -1-19 -1,38 -1-6 -1-14 -1,3 -1-6 -1,15 -1-11 -1-10 -1-6 -1,11 -1-7 -1,2 -1,2 -1-18 -1,19 -1-18 -1,22 -1-4 -1,2 -1-39 -1,17 -1,30 -1-4 -1,7 -1-9 -1-4 -1-4 -1,6 -1,6 -1-7 -1,15 -1-26 -1,11 -1,11 -1-26 -1-25 -1,22 -1-5 -1,32 -1-21 -1,20 -1-35 -1,31 -1-1 -1,2 -1-38 -1,25 -1,20 -1-28 -1,3 -1,31 -1-41 -1,34 -1,8 -1-18 -1,0 -1,1 -1-10 -1-17 -1,31 -1-4 -1-10 -1,6 -1,6 -1,3 -1-11 -1,24 -1-15 -1-6 -1-14 -1,23 -1-14 -1-31 -1,26 -1-10 -1-21 -1-4 -1,8 -1,66 -1-73 -1,67 -1-19 -1-33 -1,41 -1-23 -1-1 -1,16 -1-12 -1,15 -1,8 -1-27 -1,15 -1-16 -1,6 -1,5 -1-17 -1,9 -1-5 -1-15 -1,34 -1-26 -1,25 -1,18 -1,6 -1-14 -1-15 -1,7 -1-8 -1,35 -1-31 -1-2 -1,3 -1-33 -1,31 -1-12 -1,9 -1-10 -1,34 -1-22 -1,0 -1-22 -1,23 -1,4 -1,3 -1,15 -1-23 -1,8 -1-12 -1-16 -1,8 -1,18 -1-18 -1,24 -1-6 -1,7 -1-6 -1,0 -1-1 -1,5 -1-26 -1-2 -1,24 -1-14 -1,8 -1-12 -1,13 -1,5 -1-9 -1,23 -1-24 -1,28 -1-14 -1-12 -1,8 -1-23 -1,20Z" vector-effect="non-scaling-stroke"/>
<path transform="matrix(0.63192 -0.16615 0 -0.77187 40.120 122.410)" d="M-2,14.2l1-20 1,23 1-8 1,12 1,14 1-28 1,24 1-23 1,9 1-5 1-13 1,12 1-8 1,14 1-24 1,2 1,26 1-5 1,1 1,0 1,6 1-7 1,6 1-24 1,18 1-18 1-8 1,16 1,12 1-8 1,23 1-15 1-3 1-4 1-23 1,22 1,0 1,22 1-34 1,10 1-9 1,12 1-31 1,33 1-3 1,2 1,31 1-35 1,8 1-7 1,15 1,14 1-6 1-18 1-25 1,26 1-34 1,15 1,5 1-9 1,17 1-5 1-6 1,16 1-15 1,27 1-8 1-15 1,12 1-16 1,1 1,23 1-41 1,33 1,19 1-67 1,73 1-66 1-8 1,4 1,21 1,10 1-26 1,31 1,14 1-23 1,14 1,6 1,15 1-24 1,11 1-3 1-6 1-6 1,10 1,4 1-31 1,17 1,10 1-1 1,0 1,18 1-8 1-34 1,41 1-31 1-3 1,28 1-20 1-25 1,38 1-2 1,1 1-31 1,35 1-20 1,21 1-32 1,5 1-22 1,25 1,26 1-11 1-11 1,26 1-15 1,7 1-6 1-6 1,4 1,4 1,9 1-7 1,4 1-30 1-17 1,39 1-2 1,4 1-22 1,18 1-19 1,18 1-2 1-2 1,7 1-11 1,6 1,10 1,11 1-15 1,6 1-3 1,14 1,6 1-38 1,19 1-5 1,17 1-71 1,40 1-21 1,49 1-14 1,5 1-4 1-1 1,1 1-11 1-33 1,43 1-5 1-7 1-1 1,26 1-28 1-6 1,26 1,11 1-42 1,6 1-1 1,22 1,2 1,12 1-20 1-3 1-5 1,24 1-24 1-4 1,10 1,2 1,6 1-15 1,33 1,2 1-43 1,20 1-18 1,12 1-17 1,17 1,7 1-1 1-25 1-15 1,4 1,50 1-19 1,4 1,18 1-35 1,21 1-15 1,12 1-37 1,29 1,5 1,2 1-26 1,21 1,16 1-14 1,13 1-2 1-6 1-9 1,7 1-16 1,24 1-5 1,12 1,13 1-18 1-4 1-5 1,9 1,7 1-22 1-17 1-2 1,36 1-7 1,1 1-37 1,21 1-19 1,9 1,10 1-2 1,32 1-42 1,11 1-2 1,13 1,8 1-22 1-17 1,23L260,20l-1-16 -1,14 -1-39 -1,45 -1-19 -1-53 -1,38 -1-40 -1,56 -1,22 -1-17 -1,25 -1-26 -1,8 -1,5 -1-36 -1,20 -1,10 -1-5 -1,2 -1-40 -1,12 -1,32 -1-6 -1-16 -1-13 -1,40 -1-21 -1,24 -1-5 -1,0 -1,8 -1-41 -1,44 -1-21 -1-23 -1,0 -1,18 -1-11 -1,5 -1-31 -1,52 -1-8 -1-8 -1,17 -1-3 -1-35 -1,25 -1,7 -1-14 -1-6 -1,34 -1-13 -1,6 -1,0 -1,1 -1-41 -1,46 -1,0 -1-47 -1,31 -1-17 -1,0 -1,11 -1,4 -1,3 -1,20 -1-27 -1,2 -1-8 -1-2 -1-1 -1,6 -1,4 -1,11 -1-25 -1,26 -1-7 -1,11 -1-22 -1,4 -1,5 -1-6 -1-4 -1,10 -1,9 -1-9 -1-3 -1-1 -1,19 -1-1 -1-27 -1,9 -1-4 -1,8 -1,2 -1,8 -1-47 -1,25 -1,20 -1-31 -1,36 -1-21 -1,6 -1,0 -1,17 -1,17 -1-28 -1,7 -1-9 -1-1 -1,14 -1-25 -1-2 -1,23 -1,2 -1-43 -1,35 -1,9 -1-12 -1-21 -1,23 -1-34 -1,11 -1,23 -1-4 -1-17 -1-12 -1,30 -1-23 -1,27 -1-25 -1,17 -1-11 -1-9 -1,47 -1-23 -1,20 -1-24 -1-12 -1,23 -1-4 -1-9 -1-52 -1,74 -1-15 -1-8 -1-18 -1,17 -1-12 -1,47 -1-39 -1-11 -1,35 -1-59 -1,54 -1-70 -1,53 -1,0 -1,7 -1-10 -1,36 -1-41 -1,26 -1-9 -1-31 -1,29 -1-2 -1,27 -1-30 -1,4 -1,0 -1-24 -1,6 -1,7 -1,15 -1-1 -1-40 -1,37 -1,7 -1-44 -1,39 -1-4 -1,14 -1-23 -1,13 -1-11 -1-11 -1,27 -1-20 -1,20 -1-17 -1,5 -1,17 -1-18 -1,9 -1-9 -1,5 -1,11 -1,8 -1-50 -1,15 -1,36 -1-23 -1-10 -1,13 -1-10 -1,12 -1-19 -1,9 -1-52 -1,56 -1-29 -1,21 -1,25 -1,0 -1,5 -1-7 -1,9 -1-7 -1-24 -1,15 -1,8 -1-21 -1-1 -1,25 -1-15 -1,18 -1-5 -1,7 -1-17 -1,3 -1-15 -1-16 -1,23 -1,9 -1-11 -1,7 -1-5 -1,9 -1-1 -1,19 -1-5 -1-31 -1,27 -1,1 -1,8 -1-2 -1-18 -1-38 -1,46 -1,2 -1,3 -1-25 -1,14 -1-25 -1,14 -1,7 -1,7 -1-37Z" vector-effect="non-scaling-stroke"/>
<path transform="matrix(0.63192 -0.16615 0 -0.77187 41.382 122.976)" d="M-2,-18.8l1,37 1-7 1-7 1-14 1,25 1-14 1,25 1-3 1-2 1-46 1,38 1,18 1,2 1-8 1-1 1-27 1,31 1,5 1-19 1,1 1-9 1,5 1-7 1,11 1-9 1-23 1,16 1,15 1-3 1,17 1-7 1,5 1-18 1,15 1-25 1,1 1,21 1-8 1-15 1,24 1,7 1-9 1,7 1-5 1,0 1-25 1-21 1,29 1-56 1,52 1-9 1,19 1-12 1,10 1-13 1,10 1,23 1-36 1-15 1,50 1-8 1-11 1-5 1,9 1-9 1,18 1-17 1-5 1,17 1-20 1,20 1-27 1,11 1,11 1-13 1,23 1-14 1,4 1-39 1,44 1-7 1-37 1,40 1,1 1-15 1-7 1-6 1,24 1,0 1-4 1,30 1-27 1,2 1-29 1,31 1,9 1-26 1,41 1-36 1,10 1-7 1,0 1-53 1,70 1-54 1,59 1-35 1,11 1,39 1-47 1,12 1-17 1,18 1,8 1,15 1-74 1,52 1,9 1,4 1-23 1,12 1,24 1-20 1,23 1-47 1,9 1,11 1-17 1,25 1-27 1,23 1-30 1,12 1,17 1,4 1-23 1-11 1,34 1-23 1,21 1,12 1-9 1-35 1,43 1-2 1-23 1,2 1,25 1-14 1,1 1,9 1-7 1,28 1-17 1-17 1,0 1-6 1,21 1-36 1,31 1-20 1-25 1,47 1-8 1-2 1-8 1,4 1-9 1,27 1,1 1-19 1,1 1,3 1,9 1-9 1-10 1,4 1,6 1-5 1-4 1,22 1-11 1,7 1-26 1,25 1-11 1-4 1-6 1,1 1,2 1,8 1-2 1,27 1-20 1-3 1-4 1-11 1,0 1,17 1-31 1,47 1,0 1-46 1,41 1-1 1,0 1-6 1,13 1-34 1,6 1,14 1-7 1-25 1,35 1,3 1-17 1,8 1,8 1-52 1,31 1-5 1,11 1-18 1,0 1,23 1,21 1-44 1,41 1-8 1,0 1,5 1-24 1,21 1-40 1,13 1,16 1,6 1-32 1-12 1,40 1-2 1,5 1-10 1-20 1,36 1-5 1-8 1,26 1-25 1,17 1-22 1-56 1,40 1-38 1,53 1,19 1-45 1,39 1-14 1,16L260,-49l-1,83 -1-18 -1,9 -1-34 -1,18 -1-3 -1-12 -1-6 -1,28 -1,5 -1-44 -1,14 -1-19 -1,17 -1,5 -1,27 -1-37 -1,20 -1-12 -1,28 -1-3 -1-34 -1,24 -1-5 -1-25 -1,14 -1,21 -1,22 -1,15 -1-29 -1,5 -1-56 -1,28 -1,4 -1,15 -1,16 -1-26 -1,15 -1-29 -1-8 -1,23 -1-11 -1,23 -1-6 -1-2 -1-15 -1-12 -1-6 -1,17 -1,11 -1-5 -1,4 -1,12 -1-21 -1,26 -1-3 -1-27 -1,5 -1,21 -1-9 -1-11 -1-8 -1-6 -1,14 -1,28 -1-14 -1-3 -1,1 -1,15 -1-18 -1-39 -1,38 -1-8 -1,12 -1-6 -1,5 -1-34 -1,39 -1-6 -1,6 -1-20 -1,24 -1-9 -1-20 -1,6 -1,25 -1-17 -1-1 -1-10 -1,16 -1-13 -1,13 -1-49 -1,31 -1,12 -1,18 -1-14 -1-6 -1,15 -1,2 -1-1 -1-5 -1-11 -1,23 -1-28 -1,24 -1,1 -1-8 -1-3 -1-13 -1,21 -1,21 -1-14 -1,11 -1-8 -1-24 -1-10 -1,22 -1,15 -1-5 -1-7 -1,3 -1-15 -1,32 -1-30 -1-5 -1-7 -1-9 -1,29 -1-13 -1,1 -1-11 -1,16 -1,4 -1-11 -1,6 -1,9 -1-5 -1-12 -1-6 -1,24 -1-1 -1-48 -1,39 -1,0 -1-4 -1,13 -1-5 -1,10 -1,1 -1-26 -1,2 -1,31 -1-8 -1-16 -1,9 -1-34 -1,26 -1,0 -1,26 -1-44 -1,11 -1,8 -1-2 -1-22 -1,28 -1,15 -1-18 -1,10 -1-14 -1,5 -1,6 -1-14 -1,18 -1-55 -1,71 -1-8 -1-40 -1,24 -1-11 -1-6 -1,10 -1,8 -1-6 -1,13 -1-44 -1,26 -1,9 -1-10 -1,19 -1-5 -1-9 -1-16 -1,33 -1-5 -1-26 -1-26 -1,29 -1,18 -1-25 -1,10 -1,2 -1,1 -1-33 -1,27 -1-1 -1,6 -1-21 -1,29 -1,20 -1,14 -1-46 -1,11 -1-11 -1,5 -1,16 -1-15 -1-13 -1,0 -1,11 -1-1 -1,1 -1,35 -1-18 -1-15 -1,4 -1,8 -1-11 -1,2 -1-15 -1,33 -1-50 -1,46 -1-10 -1,7 -1-8 -1-11 -1,29 -1-22 -1,1 -1,8 -1-7 -1,19 -1-12 -1-23 -1,36 -1-5 -1,4 -1-55 -1,34 -1,30 -1-48 -1,24 -1-20 -1,29 -1-16 -1,15 -1-9 -1,14 -1-32Z" vector-effect="non-scaling-stroke"/>
<path transform="matrix(0.63192 -0.16615 0 -0.77187 42.644 123.542)" d="M-2,-7.8l1,32 1-14 1,9 1-15 1,16 1-29 1,20 1-24 1,48 1-30 1-34 1,55 1-4 1,5 1-36 1,23 1,12 1-19 1,7 1-8 1-1 1,22 1-29 1,11 1,8 1-7 1,10 1-46 1,50 1-33 1,15 1-2 1,11 1-8 1-4 1,15 1,18 1-35 1-1 1,1 1-11 1,0 1,13 1,15 1-16 1-5 1,11 1-11 1,46 1-14 1-20 1-29 1,21 1-6 1,1 1-27 1,33 1-1 1-2 1-10 1,25 1-18 1-29 1,26 1,26 1,5 1-33 1,16 1,9 1,5 1-19 1,10 1-9 1-26 1,44 1-13 1,6 1-8 1-10 1,6 1,11 1-24 1,40 1,8 1-71 1,55 1-18 1,14 1-6 1-5 1,14 1-10 1,18 1-15 1-28 1,22 1,2 1-8 1-11 1,44 1-26 1,0 1-26 1,34 1-9 1,16 1,8 1-31 1-2 1,26 1-1 1-10 1,5 1-13 1,4 1,0 1-39 1,48 1,1 1-24 1,6 1,12 1,5 1-9 1-6 1,11 1-4 1-16 1,11 1-1 1,13 1-29 1,9 1,7 1,5 1,30 1-32 1,15 1-3 1,7 1,5 1-15 1-22 1,10 1,24 1,8 1-11 1,14 1-21 1-21 1,13 1,3 1,8 1-1 1-24 1,28 1-23 1,11 1,5 1,1 1-2 1-15 1,6 1,14 1-18 1-12 1-31 1,49 1-13 1,13 1-16 1,10 1,1 1,17 1-25 1-6 1,20 1,9 1-24 1,20 1-6 1,6 1-39 1,34 1-5 1,6 1-12 1,8 1-38 1,39 1,18 1-15 1-1 1,3 1,14 1-28 1-14 1,6 1,8 1,11 1,9 1-21 1-5 1,27 1,3 1-26 1,21 1-12 1-4 1,5 1-11 1-17 1,6 1,12 1,15 1,2 1,6 1-23 1,11 1-23 1,8 1,29 1-15 1,26 1-16 1-15 1-4 1-28 1,56 1-5 1,29 1-15 1-22 1-21 1-14 1,25 1,5 1-24 1,34 1,3 1-28 1,12 1-20 1,37 1-27 1-5 1-17 1,19 1-14 1,44 1-5 1-28 1,6 1,12 1,3 1-18 1,34 1-9 1,18 1-83L260,9l-1,21 -1,2 -1-12 -1-8 -1,4 -1-2 -1-11 -1,2 -1,7 -1-9 -1,8 -1-2 -1,0 -1,2 -1,20 -1-32 -1-17 -1,39 -1-39 -1,20 -1,7 -1,8 -1-13 -1,10 -1-13 -1,24 -1-25 -1,30 -1-19 -1-12 -1-14 -1,16 -1,5 -1-30 -1,26 -1,3 -1,0 -1-3 -1,17 -1-26 -1,4 -1,23 -1-11 -1-5 -1,7 -1,3 -1-10 -1,20 -1-31 -1,36 -1-27 -1-8 -1,23 -1-8 -1,2 -1,3 -1-20 -1-4 -1,11 -1,12 -1-9 -1,2 -1,16 -1-24 -1,23 -1-10 -1,5 -1,16 -1-20 -1,13 -1-24 -1-12 -1,20 -1,15 -1-24 -1,3 -1,23 -1-11 -1-15 -1,16 -1-4 -1,5 -1-15 -1-16 -1,17 -1,12 -1-14 -1,9 -1,14 -1-13 -1-46 -1,21 -1,27 -1-5 -1-2 -1,3 -1-5 -1-11 -1-5 -1-9 -1,47 -1,0 -1-24 -1,7 -1,9 -1-13 -1-14 -1,7 -1,22 -1-24 -1,4 -1,30 -1-24 -1-8 -1-7 -1,22 -1,5 -1-58 -1,55 -1,28 -1-49 -1,10 -1-14 -1,23 -1,25 -1-23 -1-46 -1,36 -1,19 -1-30 -1,37 -1-27 -1-17 -1,13 -1,20 -1-17 -1,6 -1-36 -1,37 -1,2 -1,11 -1-19 -1,1 -1,9 -1-65 -1,50 -1-1 -1,17 -1-1 -1-10 -1,20 -1-17 -1,25 -1-78 -1,69 -1-17 -1,30 -1-13 -1-4 -1-11 -1,1 -1-3 -1-19 -1,17 -1,18 -1-30 -1,20 -1-1 -1,3 -1-19 -1,18 -1-22 -1,10 -1,0 -1,31 -1,4 -1-18 -1-12 -1-22 -1,16 -1,13 -1,13 -1-42 -1,22 -1-4 -1,18 -1-13 -1-4 -1-7 -1,17 -1,15 -1-49 -1-17 -1,65 -1-11 -1-8 -1,3 -1-8 -1-16 -1,23 -1-63 -1,59 -1-1 -1,15 -1-14 -1-15 -1,8 -1-2 -1,25 -1,9 -1-12 -1-42 -1,5 -1,7 -1,20 -1-11 -1-2 -1,19 -1-16 -1,7 -1,11 -1-17 -1,19 -1-43 -1-14 -1,63 -1-27 -1-8 -1,28 -1-30 -1,12 -1,7 -1-14 -1,28 -1-42 -1,40 -1-4 -1,1 -1-3 -1-7 -1-7 -1,11 -1-21 -1,17 -1,16 -1-16 -1,21 -1-16 -1,16 -1-47 -1,44 -1-8 -1-1 -1-12 -1-13 -1,16 -1-3 -1,14 -1,3 -1-13Z" vector-effect="non-scaling-stroke"/>
<path transform="matrix(0.63192 -0.16615 0 -0.77187 43.906 124.108)" d="M-2,8.2l1,13 1-3 1-14 1,3 1-16 1,13 1,12 1,1 1,8 1-44 1,47 1-16 1,16 1-21 1,16 1-16 1-17 1,21 1-11 1,7 1,7 1,3 1-1 1,4 1-40 1,42 1-28 1,14 1-7 1-12 1,30 1-28 1,8 1,27 1-63 1,14 1,43 1-19 1,17 1-11 1-7 1,16 1-19 1,2 1,11 1-20 1-7 1-5 1,42 1,12 1-9 1-25 1,2 1-8 1,15 1,14 1-15 1,1 1-59 1,63 1-23 1,16 1,8 1-3 1,8 1,11 1-65 1,17 1,49 1-15 1-17 1,7 1,4 1,13 1-18 1,4 1-22 1,42 1-13 1-13 1-16 1,22 1,12 1,18 1-4 1-31 1,0 1-10 1,22 1-18 1,19 1-3 1,1 1-20 1,30 1-18 1-17 1,19 1,3 1-1 1,11 1,4 1,13 1-30 1,17 1-69 1,78 1-25 1,17 1-20 1,10 1,1 1-17 1,1 1-50 1,65 1-9 1-1 1,19 1-11 1-2 1-37 1,36 1-6 1,17 1-20 1-13 1,17 1,27 1-37 1,30 1-19 1-36 1,46 1,23 1-25 1-23 1,14 1-10 1,49 1-28 1-55 1,58 1-5 1-22 1,7 1,8 1,24 1-30 1-4 1,24 1-22 1-7 1,14 1,13 1-9 1-7 1,24 1,0 1-47 1,9 1,5 1,11 1,5 1-3 1,2 1,5 1-27 1-21 1,46 1,13 1-14 1-9 1,14 1-12 1-17 1,16 1,15 1-5 1,4 1-16 1,15 1,11 1-23 1-3 1,24 1-15 1-20 1,12 1,24 1-13 1,20 1-16 1-5 1,10 1-23 1,24 1-16 1-2 1,9 1-12 1-11 1,4 1,20 1-3 1-2 1,8 1-23 1,8 1,27 1-36 1,31 1-20 1,10 1-3 1-7 1,5 1,11 1-23 1-4 1,26 1-17 1,3 1,0 1-3 1-26 1,30 1-5 1-16 1,14 1,12 1,19 1-30 1,25 1-24 1,13 1-10 1,13 1-8 1-7 1-20 1,39 1-39 1,17 1,32 1-20 1-2 1,0 1,2 1-8 1,9 1-7 1-2 1,11 1,2 1-4 1,8 1,12 1-2 1-21L260,-12l-1,11 -1,5 -1-18 -1,12 -1-13 -1,9 -1,6 -1-2 -1,24 -1-15 -1-27 -1,30 -1-17 -1-1 -1,13 -1-7 -1,10 -1-8 -1-26 -1,27 -1-2 -1,18 -1-8 -1-13 -1-26 -1,21 -1,22 -1,6 -1-21 -1,9 -1,8 -1-10 -1,5 -1-26 -1,38 -1-13 -1-20 -1,6 -1,9 -1-34 -1,42 -1-12 -1-21 -1,13 -1,32 -1-14 -1-1 -1-9 -1,11 -1,2 -1,19 -1-8 -1-22 -1,18 -1,10 -1-27 -1,2 -1,1 -1,0 -1,8 -1-19 -1-2 -1,31 -1-12 -1-15 -1-7 -1,3 -1,24 -1,8 -1-34 -1,20 -1,2 -1-15 -1,11 -1-32 -1,32 -1-5 -1,0 -1,0 -1,12 -1,12 -1-36 -1,14 -1,17 -1-13 -1-8 -1-38 -1,78 -1-39 -1,13 -1-9 -1,35 -1-46 -1,11 -1-1 -1-11 -1,0 -1,10 -1,8 -1-13 -1,24 -1-8 -1-8 -1-9 -1-24 -1,33 -1-9 -1,14 -1-2 -1-13 -1,24 -1-22 -1-13 -1,20 -1,12 -1-9 -1-17 -1-14 -1,33 -1-12 -1,13 -1,4 -1-50 -1,30 -1,2 -1,21 -1-22 -1-23 -1,39 -1-41 -1,35 -1,14 -1,1 -1,11 -1-35 -1,8 -1-1 -1,24 -1-15 -1-10 -1,2 -1,8 -1-15 -1,30 -1-47 -1,42 -1-26 -1-3 -1,8 -1-1 -1-2 -1,11 -1,0 -1-2 -1,2 -1,1 -1-3 -1-6 -1,15 -1-33 -1,24 -1-29 -1,44 -1-33 -1,11 -1,0 -1,0 -1,9 -1-19 -1,18 -1-12 -1,8 -1,15 -1-11 -1,16 -1-28 -1-10 -1,19 -1-4 -1-13 -1,18 -1,12 -1-36 -1-10 -1,50 -1-18 -1-20 -1,21 -1,22 -1-26 -1-3 -1-20 -1,41 -1-37 -1,14 -1,29 -1-8 -1-2 -1-19 -1-1 -1,22 -1-18 -1,1 -1,11 -1,3 -1-15 -1,28 -1-10 -1-49 -1,41 -1,7 -1-15 -1,21 -1-20 -1,11 -1,17 -1-22 -1-18 -1-1 -1-24 -1-21 -1,56 -1,18 -1-3 -1-16 -1,14 -1-28 -1,34 -1-40 -1,23 -1,3 -1,9 -1-11 -1-15 -1,16 -1-2 -1,8 -1-3 -1-9 -1,2 -1,12 -1-19 -1,16 -1,26 -1-27 -1-33 -1,48 -1,4 -1,1 -1-32 -1-4 -1,3 -1,6 -1-14 -1,28 -1-8 -1-10 -1,2 -1,0 -1,26Z" vector-effect="non-scaling-stroke"/>
<path transform="matrix(0.63192 -0.16615 0 -0.77187 45.168 124.674)" d="M-2,29.2l1-26 1,0 1-2 1,10 1,8 1-28 1,14 1-6 1-3 1,4 1,32 1-1 1-4 1-48 1,33 1,27 1-26 1-16 1,19 1-12 1-2 1,9 1,3 1-8 1,2 1-16 1,15 1,11 1-9 1-3 1-23 1,40 1-34 1,28 1-14 1,16 1,3 1-18 1-56 1,21 1,24 1,1 1,18 1,22 1-17 1-11 1,20 1-21 1,15 1-7 1-41 1,49 1,10 1-28 1,15 1-3 1-11 1-1 1,18 1-22 1,1 1,19 1,2 1,8 1-29 1-14 1,37 1-41 1,20 1,3 1,26 1-22 1-21 1,20 1,18 1-50 1,10 1,36 1-12 1-18 1,13 1,4 1-19 1,10 1,28 1-16 1,11 1-15 1-8 1,12 1-18 1,19 1-9 1,0 1,0 1-11 1,33 1-44 1,29 1-24 1,33 1-15 1,6 1,3 1-1 1-2 1,2 1,0 1-11 1,2 1,1 1-8 1,3 1,26 1-42 1,47 1-30 1,15 1-8 1-2 1,10 1,15 1-24 1,1 1-8 1,35 1-11 1-1 1-14 1-35 1,41 1-39 1,23 1,22 1-21 1-2 1-30 1,50 1-4 1-13 1,12 1-33 1,14 1,17 1,9 1-12 1-20 1,13 1,22 1-24 1,13 1,2 1-14 1,9 1-33 1,24 1,9 1,8 1,8 1-24 1,13 1-8 1-10 1,0 1,11 1,1 1-11 1,46 1-35 1,9 1-13 1,39 1-78 1,38 1,8 1,13 1-17 1-14 1,36 1-12 1-12 1,0 1,0 1,5 1-32 1,32 1-11 1,15 1-2 1-20 1,34 1-8 1-24 1-3 1,7 1,15 1,12 1-31 1,2 1,19 1-8 1,0 1-1 1-2 1,27 1-10 1-18 1,22 1,8 1-19 1-2 1-11 1,9 1,1 1,14 1-32 1-13 1,21 1,12 1-42 1,34 1-9 1-6 1,20 1,13 1-38 1,26 1-5 1,10 1-8 1-9 1,21 1-6 1-22 1-21 1,26 1,13 1,8 1-18 1,2 1-27 1,26 1,8 1-10 1,7 1-13 1,1 1,17 1-30 1,27 1,15 1-24 1,2 1-6 1-9 1,13 1-12 1,18 1-5 1-11L260,29l-1-15 -1-11 -1-29 -1,39 -1-2 -1-26 -1,37 -1,24 -1-50 -1,1 -1,16 -1-1 -1,10 -1-6 -1-7 -1-36 -1,23 -1,22 -1,3 -1-22 -1,26 -1-34 -1,8 -1,9 -1-16 -1,3 -1-12 -1,30 -1-7 -1,5 -1-32 -1,27 -1,2 -1-45 -1,37 -1,19 -1-64 -1,66 -1-40 -1,48 -1-33 -1,8 -1-13 -1,31 -1-59 -1,22 -1,22 -1,2 -1-39 -1,32 -1,11 -1-5 -1,7 -1,1 -1,6 -1-53 -1,30 -1-1 -1,1 -1-2 -1-6 -1,29 -1,15 -1-37 -1,0 -1-9 -1-3 -1-15 -1,36 -1,0 -1,7 -1-5 -1-19 -1-27 -1,40 -1-16 -1,26 -1,8 -1-2 -1-9 -1-13 -1,13 -1,1 -1-36 -1,22 -1,20 -1-15 -1-38 -1,73 -1-17 -1-29 -1,36 -1-9 -1-1 -1,1 -1-56 -1,52 -1-8 -1-16 -1,31 -1-3 -1-43 -1,28 -1,19 -1-8 -1-14 -1,8 -1,9 -1-17 -1,17 -1-4 -1-12 -1,8 -1-5 -1-4 -1,3 -1-2 -1-9 -1,16 -1,1 -1,7 -1-35 -1,50 -1-39 -1,13 -1-10 -1,9 -1,11 -1-4 -1-9 -1-5 -1,15 -1-26 -1,39 -1-2 -1-12 -1-10 -1,12 -1,21 -1-13 -1-27 -1,18 -1-6 -1-4 -1,12 -1-3 -1-12 -1-1 -1-20 -1,24 -1-1 -1,8 -1-3 -1-54 -1,54 -1-14 -1,18 -1-12 -1,23 -1-6 -1,3 -1-10 -1,1 -1-7 -1-15 -1,21 -1-10 -1,36 -1-11 -1-14 -1,8 -1-49 -1,43 -1-25 -1,32 -1-25 -1,11 -1,1 -1-10 -1,27 -1-17 -1,20 -1-27 -1,2 -1,13 -1-6 -1,2 -1-17 -1,17 -1,6 -1-24 -1,4 -1-30 -1,45 -1,0 -1,13 -1-12 -1,13 -1-2 -1-18 -1-2 -1-13 -1,33 -1-12 -1-2 -1-16 -1,15 -1,35 -1-22 -1-12 -1,5 -1,7 -1,3 -1,11 -1-46 -1,29 -1,3 -1-16 -1,9 -1-5 -1,13 -1-20 -1-3 -1,14 -1,4 -1-2 -1,15 -1-41 -1,33 -1-18 -1,6 -1,2 -1-26 -1,23 -1-14 -1,25 -1-8 -1,1 -1-21 -1,14 -1,0 -1,13 -1-27 -1,1 -1,20 -1,14 -1-7 -1-26 -1,9 -1-38 -1,43 -1-9 -1,15 -1,1 -1,0 -1,23 -1-38 -1,15 -1-16 -1,38Z" vector-effect="non-scaling-stroke"/>
<path transform="matrix(0.63192 -0.16615 0 -0.77187 46.430 125.240)" d="M-2,37.2l1-38 1,16 1-15 1,38 1-23 1,0 1-1 1-15 1,9 1-43 1,38 1-9 1,26 1,7 1-14 1-20 1-1 1,27 1-13 1,0 1-14 1,21 1-1 1,8 1-25 1,14 1-23 1,26 1-2 1-6 1,18 1-33 1,41 1-15 1,2 1-4 1-14 1,3 1,20 1-13 1,5 1-9 1,16 1-3 1-29 1,46 1-11 1-3 1-7 1-5 1,12 1,22 1-35 1-15 1,16 1,2 1,12 1-33 1,13 1,2 1,18 1,2 1-13 1,12 1-13 1,0 1-45 1,30 1-4 1,24 1-6 1-17 1,17 1-2 1,6 1-13 1-2 1,27 1-20 1,17 1-27 1,10 1-1 1-11 1,25 1-32 1,25 1-43 1,49 1-8 1,14 1,11 1-36 1,10 1-21 1,15 1,7 1-1 1,10 1-3 1,6 1-23 1,12 1-18 1,14 1-54 1,54 1,3 1-8 1,1 1-24 1,20 1,1 1,12 1,3 1-12 1,4 1,6 1-18 1,27 1,13 1-21 1-12 1,10 1,12 1,2 1-39 1,26 1-15 1,5 1,9 1,4 1-11 1-9 1,10 1-13 1,39 1-50 1,35 1-7 1-1 1-16 1,9 1,2 1-3 1,4 1,5 1-8 1,12 1,4 1-17 1,17 1-9 1-8 1,14 1,8 1-19 1-28 1,43 1,3 1-31 1,16 1,8 1-52 1,56 1-1 1,1 1,9 1-36 1,29 1,17 1-73 1,38 1,15 1-20 1-22 1,36 1-1 1-13 1,13 1,9 1,2 1-8 1-26 1,16 1-40 1,27 1,19 1,5 1-7 1,0 1-36 1,15 1,3 1,9 1,0 1,37 1-15 1-29 1,6 1,2 1-1 1,1 1-30 1,53 1-6 1-1 1-7 1,5 1-11 1-32 1,39 1-2 1-22 1-22 1,59 1-31 1,13 1-8 1,33 1-48 1,40 1-66 1,64 1-19 1-37 1,45 1-2 1-27 1,32 1-5 1,7 1-30 1,12 1-3 1,16 1-9 1-8 1,34 1-26 1,22 1-3 1-22 1-23 1,36 1,7 1,6 1-10 1,1 1-16 1-1 1,50 1-24 1-37 1,26 1,2 1-39 1,29 1,11 1,15L260,19l-1,11 -1-4 -1-33 -1-9 -1,29 -1,7 -1-24 -1-6 -1,3 -1,5 -1,9 -1,5 -1,5 -1,4 -1-26 -1,16 -1-5 -1,7 -1-5 -1,17 -1-7 -1-7 -1,1 -1-3 -1,14 -1-23 -1,36 -1-20 -1,11 -1-24 -1-27 -1,37 -1-16 -1,22 -1,7 -1-60 -1,10 -1-27 -1,69 -1-14 -1,5 -1-7 -1-1 -1,25 -1-21 -1,14 -1-5 -1-9 -1,1 -1-13 -1,23 -1-13 -1-5 -1,19 -1-14 -1,45 -1-68 -1,9 -1,16 -1,13 -1,21 -1-87 -1,65 -1-6 -1-15 -1,23 -1-5 -1-39 -1,27 -1,20 -1-10 -1,7 -1-12 -1,4 -1,11 -1-10 -1-34 -1,22 -1,10 -1-4 -1,13 -1,4 -1,3 -1-26 -1-53 -1,59 -1-9 -1-8 -1-2 -1-10 -1,44 -1-36 -1,9 -1,18 -1-12 -1-7 -1,20 -1-27 -1,21 -1-7 -1,9 -1,8 -1,5 -1-31 -1,2 -1-9 -1-11 -1,14 -1-2 -1,34 -1-42 -1,25 -1,14 -1,7 -1-63 -1,39 -1-6 -1,29 -1-15 -1,4 -1-10 -1-22 -1,35 -1,14 -1-11 -1-41 -1,29 -1,14 -1,16 -1-80 -1,31 -1,15 -1,2 -1,7 -1-11 -1,24 -1-41 -1,49 -1-15 -1-7 -1,11 -1-13 -1,20 -1-19 -1,1 -1-3 -1-3 -1,15 -1-7 -1,21 -1-4 -1-24 -1,22 -1-42 -1,4 -1,16 -1,9 -1-6 -1,3 -1,15 -1-21 -1-8 -1,0 -1,5 -1,5 -1,13 -1,13 -1-30 -1,23 -1-26 -1,13 -1,15 -1-30 -1,16 -1,1 -1-3 -1-8 -1-8 -1,12 -1-17 -1,23 -1-14 -1-33 -1,41 -1-20 -1,9 -1,15 -1-15 -1,5 -1-19 -1,44 -1-17 -1,18 -1-24 -1-5 -1,14 -1,14 -1-6 -1,3 -1-11 -1-8 -1-16 -1,16 -1,3 -1,11 -1,8 -1-27 -1-7 -1,37 -1-26 -1,8 -1-11 -1,21 -1-19 -1,23 -1-28 -1,21 -1-11 -1,3 -1,1 -1-27 -1,36 -1-22 -1-17 -1,25 -1,4 -1,14 -1-13 -1-7 -1,21 -1-5 -1-29 -1,16 -1-24 -1,45 -1-6 -1-7 -1,0 -1-19 -1,26 -1-18 -1,9 -1-19 -1,27 -1-21 -1,8 -1,2 -1-24 -1,23 -1-9 -1-22 -1,32 -1-6 -1-9 -1,25 -1,2 -1-23 -1,4 -1-6 -1,23Z" vector-effect="non-scaling-stroke"/>
<path transform="matrix(0.63192 -0.16615 0 -0.77187 47.692 125.806)" d="M-2,21.2l1-23 1,6 1-4 1,23 1-2 1-25 1,9 1,6 1-32 1,22 1,9 1-23 1,24 1-2 1-8 1,21 1-27 1,19 1-9 1,18 1-26 1,19 1,0 1,7 1,6 1-45 1,24 1-16 1,29 1,5 1-21 1,7 1,13 1-14 1-4 1-25 1,17 1,22 1-36 1,27 1-1 1-3 1,11 1-21 1,28 1-23 1,19 1-21 1,11 1-8 1,26 1-37 1,7 1,27 1-8 1-11 1-3 1-16 1,16 1,8 1,11 1-3 1,6 1-14 1-14 1,5 1,24 1-18 1,17 1-44 1,19 1-5 1,15 1-15 1-9 1,20 1-41 1,33 1,14 1-23 1,17 1-12 1,8 1,8 1,3 1-1 1-16 1,30 1-15 1-13 1,26 1-23 1,30 1-13 1-13 1-5 1-5 1,0 1,8 1,21 1-15 1-3 1,6 1-9 1-16 1-4 1,42 1-22 1,24 1,4 1-21 1,7 1-15 1,3 1,3 1-1 1,19 1-20 1,13 1-11 1,7 1,15 1-49 1,41 1-24 1,11 1-7 1-2 1-15 1-31 1,80 1-16 1-14 1-29 1,41 1,11 1-14 1-35 1,22 1,10 1-4 1,15 1-29 1,6 1-39 1,63 1-7 1-14 1-25 1,42 1-34 1,2 1-14 1,11 1,9 1-2 1,31 1-5 1-8 1-9 1,7 1-21 1,27 1-20 1,7 1,12 1-18 1-9 1,36 1-44 1,10 1,2 1,8 1,9 1-59 1,53 1,26 1-3 1-4 1-13 1,4 1-10 1-22 1,34 1,10 1-11 1-4 1,12 1-7 1,10 1-20 1-27 1,39 1,5 1-23 1,15 1,6 1-65 1,87 1-21 1-13 1-16 1-9 1,68 1-45 1,14 1-19 1,5 1,13 1-23 1,13 1-1 1,9 1,5 1-14 1,21 1-25 1,1 1,7 1-5 1,14 1-69 1,27 1-10 1,60 1-7 1-22 1,16 1-37 1,27 1,24 1-11 1,20 1-36 1,23 1-14 1,3 1-1 1,7 1,7 1-17 1,5 1-7 1,5 1-16 1,26 1-4 1-5 1-5 1-9 1-5 1-3 1,6 1,24 1-7 1-29 1,9 1,33 1,4 1-11L260,12l-1-14 -1,1 -1-3 -1,12 -1,28 -1-12 -1-43 -1,39 -1-42 -1,15 -1,15 -1,9 -1-18 -1,17 -1,7 -1,1 -1-16 -1-10 -1-21 -1,24 -1,24 -1-6 -1-22 -1,17 -1,6 -1-4 -1-21 -1,21 -1-2 -1-14 -1,9 -1-2 -1,17 -1-14 -1-6 -1,24 -1-42 -1,31 -1-21 -1-7 -1,29 -1-15 -1,3 -1,2 -1,7 -1,1 -1-6 -1,29 -1-8 -1-40 -1,8 -1-2 -1,15 -1-20 -1,15 -1-12 -1,30 -1-36 -1-5 -1,33 -1,4 -1-30 -1,11 -1,5 -1-3 -1,23 -1-19 -1-26 -1,11 -1,11 -1,8 -1,7 -1-9 -1-19 -1,11 -1-13 -1,25 -1-9 -1-10 -1,16 -1-2 -1,22 -1-9 -1-14 -1-3 -1,12 -1-12 -1,23 -1-12 -1,13 -1-24 -1,18 -1,8 -1-32 -1,13 -1-13 -1-15 -1,21 -1,17 -1-5 -1,14 -1-10 -1-7 -1-21 -1,9 -1,10 -1-15 -1,26 -1-8 -1-3 -1,15 -1,0 -1-20 -1,3 -1,17 -1-21 -1-10 -1-36 -1,40 -1,17 -1,4 -1-32 -1,27 -1,0 -1,5 -1-17 -1-17 -1,0 -1,8 -1,29 -1-7 -1,5 -1-31 -1,19 -1-18 -1,21 -1-20 -1,19 -1-13 -1,0 -1,6 -1-3 -1-15 -1,23 -1-3 -1-5 -1-8 -1,10 -1,5 -1,21 -1-7 -1-7 -1-14 -1,16 -1-2 -1-6 -1,7 -1-23 -1,5 -1-8 -1,6 -1,21 -1-37 -1,25 -1,28 -1-10 -1-7 -1-26 -1,35 -1-33 -1,38 -1-34 -1,17 -1-4 -1-1 -1-23 -1,25 -1-10 -1,29 -1-19 -1-36 -1-2 -1,38 -1-16 -1,7 -1,12 -1-16 -1,1 -1-4 -1,21 -1-17 -1-4 -1,11 -1-6 -1,10 -1-3 -1-20 -1,32 -1-20 -1,3 -1,31 -1-18 -1-56 -1,44 -1,3 -1-17 -1,23 -1-21 -1,16 -1,4 -1-1 -1-15 -1,19 -1,17 -1-10 -1-14 -1,2 -1-30 -1,20 -1-7 -1,31 -1-21 -1-2 -1-9 -1-1 -1,16 -1,3 -1,5 -1,10 -1-40 -1,37 -1-23 -1-16 -1,37 -1-7 -1,18 -1-16 -1-4 -1-11 -1,4 -1-12 -1-9 -1,32 -1,0 -1-20 -1,5 -1,13 -1-5 -1-20 -1,10 -1,26 -1-6 -1-39 -1,27 -1,21 -1-32 -1-4 -1,32 -1-15 -1,4Z" vector-effect="non-scaling-stroke"/>
<path transform="matrix(0.63192 -0.16615 0 -0.77187 48.954 126.372)" d="M-2,12.2l1-4 1,15 1-32 1,4 1,32 1-21 1-27 1,39 1,6 1-26 1-10 1,20 1,5 1-13 1-5 1,20 1,0 1-32 1,9 1,12 1-4 1,11 1,4 1,16 1-18 1,7 1-37 1,16 1,23 1-37 1,40 1-10 1-5 1-3 1-16 1,1 1,9 1,2 1,21 1-31 1,7 1-20 1,30 1-2 1,14 1,10 1-17 1-19 1,15 1,1 1-4 1-16 1,21 1-23 1,17 1-3 1-44 1,56 1,18 1-31 1-3 1,20 1-32 1,20 1,3 1-10 1,6 1-11 1,4 1,17 1-21 1,4 1-1 1,16 1-12 1-7 1,16 1-38 1,2 1,36 1,19 1-29 1,10 1-25 1,23 1,1 1,4 1-17 1,34 1-38 1,33 1-35 1,26 1,7 1,10 1-28 1-25 1,37 1-21 1-6 1,8 1-5 1,23 1-7 1,6 1,2 1-16 1,14 1,7 1,7 1-21 1-5 1-10 1,8 1,5 1,3 1-23 1,15 1,3 1-6 1,0 1,13 1-19 1,20 1-21 1,18 1-19 1,31 1-5 1,7 1-29 1-8 1,0 1,17 1,17 1-5 1,0 1-27 1,32 1-4 1-17 1-40 1,36 1,10 1,21 1-17 1-3 1,20 1,0 1-15 1,3 1,8 1-26 1,15 1-10 1-9 1,21 1,7 1,10 1-14 1,5 1-17 1-21 1,15 1,13 1-13 1,32 1-8 1-18 1,24 1-13 1,12 1-23 1,12 1-12 1,3 1,14 1,9 1-22 1,2 1-16 1,10 1,9 1-25 1,13 1-11 1,19 1,9 1-7 1-8 1-11 1-11 1,26 1,19 1-23 1,3 1-5 1-11 1,30 1-4 1-33 1,5 1,36 1-30 1,12 1-15 1,20 1-15 1,2 1-8 1,40 1,8 1-29 1,6 1-1 1-7 1-2 1-3 1,15 1-29 1,7 1,21 1-31 1,42 1-24 1,6 1,14 1-17 1,2 1-9 1,14 1,2 1-21 1,21 1,4 1-6 1-17 1,22 1,6 1-24 1-24 1,21 1,10 1,16 1-1 1-7 1-17 1,18 1-9 1-15 1-15 1,42 1-39 1,43 1,12 1-28 1-12 1,3 1-1 1,14L260,27l-1-20 -1,6 -1,4 -1-6 -1-3 -1-7 -1,12 -1-34 -1,49 -1-10 -1-10 -1-10 -1-9 -1,7 -1,12 -1,0 -1-11 -1,14 -1-20 -1,27 -1-34 -1,48 -1-31 -1,12 -1-6 -1-8 -1,8 -1-6 -1,23 -1-11 -1,13 -1-18 -1-2 -1,17 -1-2 -1-2 -1-12 -1,0 -1,4 -1-4 -1-26 -1,11 -1-4 -1-14 -1,48 -1-17 -1,1 -1,27 -1-10 -1-21 -1,17 -1-14 -1,7 -1,13 -1-27 -1,5 -1,0 -1-24 -1,39 -1-30 -1,11 -1,22 -1,12 -1-13 -1,0 -1,4 -1-15 -1-4 -1,14 -1-34 -1,35 -1,6 -1-57 -1,41 -1,2 -1-7 -1,7 -1-10 -1,16 -1-23 -1,5 -1,21 -1-35 -1,8 -1-2 -1,18 -1-17 -1,12 -1,0 -1-3 -1,12 -1,0 -1,5 -1-16 -1,13 -1-8 -1-33 -1,59 -1-21 -1-7 -1-10 -1,16 -1-14 -1,6 -1,2 -1-5 -1,19 -1-12 -1,23 -1-25 -1,3 -1,18 -1-2 -1-19 -1,0 -1-13 -1-7 -1-5 -1,28 -1-3 -1,12 -1-34 -1,15 -1,22 -1-26 -1,15 -1-6 -1-30 -1,33 -1,8 -1-44 -1,36 -1-2 -1-7 -1,41 -1-27 -1-8 -1,6 -1-6 -1,2 -1,23 -1-22 -1-11 -1,2 -1-39 -1,76 -1-32 -1,0 -1,13 -1-16 -1-5 -1,25 -1,1 -1-11 -1-17 -1,11 -1,0 -1-22 -1,29 -1,0 -1-22 -1,18 -1,16 -1-8 -1-8 -1-17 -1,6 -1,30 -1,4 -1-37 -1,13 -1-9 -1,18 -1-25 -1,17 -1,11 -1-3 -1-20 -1-18 -1,34 -1-16 -1,7 -1,3 -1,13 -1-6 -1,7 -1-23 -1,2 -1,7 -1-18 -1-31 -1,44 -1-6 -1,1 -1,24 -1,1 -1-4 -1-7 -1-2 -1,19 -1-8 -1-23 -1,17 -1,3 -1-17 -1,38 -1-59 -1,31 -1,1 -1,13 -1-5 -1-23 -1-8 -1,44 -1-3 -1-19 -1,4 -1-35 -1,19 -1,15 -1-4 -1,3 -1-3 -1,20 -1,7 -1-12 -1-18 -1,21 -1-32 -1,17 -1-7 -1,9 -1-8 -1,7 -1,4 -1-20 -1,17 -1-11 -1-12 -1,21 -1,9 -1-23 -1,21 -1-18 -1-34 -1,69 -1-18 -1-19 -1,2 -1,22 -1-3 -1-10 -1,8 -1,5 -1-20 -1,3 -1-3 -1-1 -1-13 -1,34Z" vector-effect="non-scaling-stroke"/>
<path transform="matrix(0.63192 -0.16615 0 -0.77187 50.216 126.938)" d="M-2,22.2l1-34 1,13 1,1 1,3 1-3 1,20 1-5 1-8 1,10 1,3 1-22 1-2 1,19 1,18 1-69 1,34 1,18 1-21 1,23 1-9 1-21 1,12 1,11 1-17 1,20 1-4 1-7 1,8 1-9 1,7 1-17 1,32 1-21 1,18 1,12 1-7 1-20 1,3 1-3 1,4 1-15 1-19 1,35 1-4 1,19 1,3 1-44 1,8 1,23 1,5 1-13 1-1 1-31 1,59 1-38 1,17 1-3 1-17 1,23 1,8 1-19 1,2 1,7 1,4 1-1 1-24 1-1 1,6 1-44 1,31 1,18 1-7 1-2 1,23 1-7 1,6 1-13 1-3 1-7 1,16 1-34 1,18 1,20 1,3 1-11 1-17 1,25 1-18 1,9 1-13 1,37 1-4 1-30 1-6 1,17 1,8 1,8 1-16 1-18 1,22 1,0 1-29 1,22 1,0 1-11 1,17 1,11 1-1 1-25 1,5 1,16 1-13 1,0 1,32 1-76 1,39 1-2 1,11 1,22 1-23 1-2 1,6 1-6 1,8 1,27 1-41 1,7 1,2 1-36 1,44 1-8 1-33 1,30 1,6 1-15 1,26 1-22 1-15 1,34 1-12 1,3 1-28 1,5 1,7 1,13 1,0 1,19 1,2 1-18 1-3 1,25 1-23 1,12 1-19 1,5 1-2 1-6 1,14 1-16 1,10 1,7 1,21 1-59 1,33 1,8 1-13 1,16 1-5 1,0 1-12 1,3 1,0 1-12 1,17 1-18 1,2 1-8 1,35 1-21 1-5 1,23 1-16 1,10 1-7 1,7 1-2 1-41 1,57 1-6 1-35 1,34 1-14 1,4 1,15 1-4 1,0 1,13 1-12 1-22 1-11 1,30 1-39 1,24 1,0 1-5 1,27 1-13 1-7 1,14 1-17 1,21 1,10 1-27 1-1 1,17 1-48 1,14 1,4 1-11 1,26 1,4 1-4 1,0 1,12 1,2 1,2 1-17 1,2 1,18 1-13 1,11 1-23 1,6 1-8 1,8 1,6 1-12 1,31 1-48 1,34 1-27 1,20 1-14 1,11 1,0 1-12 1-7 1,9 1,10 1,10 1,10 1-49 1,34 1-12 1,7 1,3 1,6 1-4 1-6 1,20L260,8l-1-10 -1-1 -1,21 -1-12 -1,14 -1-29 -1,18 -1-2 -1,6 -1-31 -1,34 -1-29 -1,24 -1,2 -1-4 -1-2 -1,16 -1-22 -1,18 -1,0 -1,4 -1-19 -1,4 -1-19 -1,23 -1-25 -1,16 -1,22 -1-55 -1,44 -1-32 -1,1 -1,8 -1,20 -1-1 -1,12 -1-19 -1,17 -1-19 -1,14 -1-6 -1,3 -1,9 -1-18 -1,3 -1-18 -1,43 -1-8 -1-5 -1-38 -1-25 -1,49 -1-20 -1,30 -1-5 -1-15 -1,14 -1-1 -1-3 -1,8 -1,21 -1-32 -1-18 -1,23 -1,2 -1,8 -1,33 -1-45 -1,12 -1-22 -1,29 -1-16 -1-7 -1,10 -1,5 -1-9 -1-1 -1-1 -1,7 -1-3 -1-13 -1,18 -1,4 -1-12 -1,3 -1-4 -1,0 -1,2 -1,3 -1-4 -1,33 -1-28 -1-1 -1-6 -1-11 -1,8 -1-1 -1,9 -1-16 -1,23 -1,9 -1-13 -1,7 -1-29 -1,19 -1-19 -1,28 -1-18 -1,2 -1-6 -1,1 -1,7 -1-3 -1,11 -1,7 -1-7 -1-6 -1,0 -1,5 -1,13 -1-12 -1-4 -1-3 -1-10 -1,24 -1-5 -1-44 -1,47 -1-19 -1,20 -1-11 -1-4 -1-10 -1,19 -1-4 -1,2 -1-31 -1,44 -1-15 -1,0 -1,17 -1-28 -1-13 -1,24 -1-16 -1-5 -1,55 -1-25 -1-8 -1-10 -1,7 -1-28 -1,10 -1,40 -1-20 -1,5 -1-4 -1-7 -1-17 -1,21 -1,14 -1-6 -1,9 -1-14 -1,9 -1-6 -1,4 -1,0 -1-7 -1,5 -1-6 -1-6 -1,3 -1,10 -1-9 -1-8 -1,8 -1-9 -1,8 -1,21 -1-27 -1,27 -1-32 -1,14 -1,13 -1-4 -1-65 -1,57 -1-13 -1,10 -1,1 -1,9 -1-10 -1-12 -1-12 -1,25 -1-4 -1-2 -1-26 -1,42 -1-24 -1,8 -1,16 -1-19 -1,12 -1,0 -1-1 -1,21 -1-15 -1-14 -1-1 -1,7 -1,0 -1-15 -1,38 -1,0 -1-51 -1,35 -1-13 -1-49 -1,62 -1-26 -1,3 -1,21 -1,4 -1,8 -1-23 -1,27 -1-4 -1-21 -1,0 -1,14 -1,6 -1-11 -1-8 -1-11 -1,48 -1-55 -1,52 -1-35 -1,8 -1,1 -1-21 -1,31 -1-33 -1,0 -1,13 -1-8 -1-32 -1,31 -1,26 -1-53 -1,13 -1,38 -1-8 -1-5 -1-9 -1-14 -1-30 -1,64Z" vector-effect="non-scaling-stroke"/>
<path transform="matrix(0.63192 -0.16615 0 -0.77187 51.478 127.504)" d="M-2,15.2l1-64 1,30 1,14 1,9 1,5 1,8 1-38 1-13 1,53 1-26 1-31 1,32 1,8 1-13 1,0 1,33 1-31 1,21 1-1 1-8 1,35 1-52 1,55 1-48 1,11 1,8 1,11 1-6 1-14 1,0 1,21 1,4 1-27 1,23 1-8 1-4 1-21 1-3 1,26 1-62 1,49 1,13 1-35 1,51 1,0 1-38 1,15 1,0 1-7 1,1 1,14 1,15 1-21 1,1 1,0 1-12 1,19 1-16 1-8 1,24 1-42 1,26 1,2 1,4 1-25 1,12 1,12 1,10 1-9 1-1 1-10 1,13 1-57 1,65 1,4 1-13 1-14 1,32 1-27 1,27 1-21 1-8 1,9 1-8 1,8 1,9 1-10 1-3 1,6 1,6 1-5 1,7 1,0 1-4 1,6 1-9 1,14 1-9 1,6 1-14 1-21 1,17 1,7 1,4 1-5 1,20 1-40 1-10 1,28 1-7 1,10 1,8 1,25 1-55 1,5 1,16 1-24 1,13 1,28 1-17 1,0 1,15 1-44 1,31 1-2 1,4 1-19 1,10 1,4 1,11 1-20 1,19 1-47 1,44 1,5 1-24 1,10 1,3 1,4 1,12 1-13 1-5 1,0 1,6 1,7 1-7 1-11 1,3 1-7 1-1 1,6 1-2 1,18 1-28 1,19 1-19 1,29 1-7 1,13 1-9 1-23 1,16 1-9 1,1 1-8 1,11 1,6 1,1 1,28 1-33 1,4 1-3 1-2 1,0 1,4 1-3 1,12 1-4 1-18 1,13 1,3 1-7 1,1 1,1 1,9 1-5 1-10 1,7 1,16 1-29 1,22 1-12 1,45 1-33 1-8 1-2 1-23 1,18 1,32 1-21 1-8 1,3 1,1 1-14 1,15 1,5 1-30 1,20 1-49 1,25 1,38 1,5 1,8 1-43 1,18 1-3 1,18 1-9 1-3 1,6 1-14 1,19 1-17 1,19 1-12 1,1 1-20 1-8 1-1 1,32 1-44 1,55 1-22 1-16 1,25 1-23 1,19 1-4 1,19 1-4 1,0 1-18 1,22 1-16 1,2 1,4 1-2 1-24 1,29 1-34 1,31 1-6 1,2 1-18 1,29 1-14 1,12 1-21 1,1 1,10L260,27l-1-19 -1,0 -1-9 -1-36 -1,43 -1-9 -1,21 -1-25 -1-7 -1,9 -1,42 -1-47 -1-3 -1,36 -1-40 -1,4 -1,20 -1,4 -1-12 -1,5 -1-5 -1,17 -1,13 -1-20 -1-53 -1,75 -1-58 -1,25 -1,10 -1,14 -1-22 -1,12 -1,12 -1-61 -1,66 -1-15 -1,16 -1-13 -1-6 -1,18 -1-52 -1,23 -1-3 -1-1 -1,30 -1-19 -1,25 -1-21 -1-3 -1,1 -1-7 -1-4 -1-22 -1,8 -1,14 -1,8 -1,8 -1-19 -1,18 -1,17 -1-13 -1-5 -1-39 -1,21 -1,17 -1,2 -1-6 -1-12 -1,24 -1-4 -1-5 -1,0 -1,8 -1-6 -1-37 -1,33 -1,2 -1,13 -1-11 -1,4 -1-22 -1,20 -1-15 -1,28 -1-24 -1-15 -1,4 -1,25 -1-31 -1,30 -1-6 -1-5 -1,11 -1-19 -1,9 -1,28 -1-9 -1-26 -1,12 -1,1 -1,3 -1-27 -1,21 -1-15 -1,12 -1-10 -1,7 -1-4 -1,30 -1-24 -1,2 -1,9 -1,8 -1-20 -1,21 -1-33 -1,3 -1,15 -1,2 -1-14 -1,6 -1,10 -1-13 -1,0 -1,5 -1,16 -1-32 -1,5 -1,10 -1-12 -1,12 -1,8 -1-2 -1-14 -1,19 -1-12 -1,13 -1,4 -1-3 -1-34 -1,25 -1,10 -1,6 -1-25 -1,14 -1-37 -1,52 -1-33 -1,8 -1,2 -1-4 -1,35 -1-57 -1,6 -1,20 -1-45 -1,48 -1,5 -1,1 -1,0 -1-16 -1,12 -1-3 -1,0 -1,17 -1,7 -1-37 -1,9 -1-2 -1,16 -1,7 -1,1 -1-9 -1-22 -1,24 -1-14 -1,7 -1,17 -1-13 -1-69 -1,38 -1,3 -1,42 -1-3 -1-16 -1-9 -1,11 -1-12 -1,25 -1-30 -1,6 -1,18 -1-4 -1-10 -1,4 -1,11 -1-9 -1,5 -1-10 -1,5 -1-6 -1-24 -1,20 -1,10 -1-6 -1-2 -1,5 -1,10 -1-4 -1,7 -1,9 -1-32 -1,0 -1,25 -1-16 -1-4 -1,8 -1,1 -1-46 -1,63 -1-16 -1-4 -1,17 -1-32 -1,14 -1-13 -1,20 -1,0 -1-32 -1,14 -1,9 -1,5 -1,22 -1-15 -1-23 -1,7 -1,4 -1-9 -1,9 -1,8 -1-4 -1,19 -1-24 -1,8 -1-5 -1,3 -1,8 -1-3 -1,3 -1-21 -1-6 -1,17 -1-1 -1-23 -1,37 -1,6 -1-52 -1-6 -1,10 -1,31Z" vector-effect="non-scaling-stroke"/>
<path transform="matrix(0.63192 -0.16615 0 -0.77187 52.740 128.070)" d="M-2,13.2l1-31 1-10 1,6 1,52 1-6 1-37 1,23 1,1 1-17 1,6 1,21 1-3 1,3 1-8 1-3 1,5 1-8 1,24 1-19 1,4 1-8 1-9 1,9 1-4 1-7 1,23 1,15 1-22 1-5 1-9 1-14 1,32 1,0 1-20 1,13 1-14 1,32 1-17 1,4 1,16 1-63 1,46 1-1 1-8 1,4 1,16 1-25 1,0 1,32 1-9 1-7 1,4 1-10 1-5 1,2 1,6 1-10 1-20 1,24 1,6 1-5 1,10 1-5 1,9 1-11 1-4 1,10 1,4 1-18 1-6 1,30 1-25 1,12 1-11 1,9 1,16 1,3 1-42 1-3 1-38 1,69 1,13 1-17 1-7 1,14 1-24 1,22 1,9 1-1 1-7 1-16 1,2 1-9 1,37 1-7 1-17 1,0 1,3 1-12 1,16 1,0 1-1 1-5 1-48 1,45 1-20 1-6 1,57 1-35 1,4 1-2 1-8 1,33 1-52 1,37 1-14 1,25 1-6 1-10 1-25 1,34 1,3 1-4 1-13 1,12 1-19 1,14 1,2 1-8 1-12 1,12 1-10 1-5 1,32 1-16 1-5 1,0 1,13 1-10 1-6 1,14 1-2 1-15 1-3 1,33 1-21 1,20 1-8 1-9 1-2 1,24 1-30 1,4 1-7 1,10 1-12 1,15 1-21 1,27 1-3 1-1 1-12 1,26 1,9 1-28 1-9 1,19 1-11 1,5 1,6 1-30 1,31 1-25 1-4 1,15 1,24 1-28 1,15 1-20 1,22 1-4 1,11 1-13 1-2 1-33 1,37 1,6 1-8 1,0 1,5 1,4 1-24 1,12 1,6 1-2 1-17 1-21 1,39 1,5 1,13 1-17 1-18 1,19 1-8 1-8 1-14 1-8 1,22 1,4 1,7 1-1 1,3 1,21 1-25 1,19 1-30 1,1 1,3 1-23 1,52 1-18 1,6 1,13 1-16 1,15 1-66 1,61 1-12 1-12 1,22 1-14 1-10 1-25 1,58 1-75 1,53 1,20 1-13 1-17 1,5 1-5 1,12 1-4 1-20 1-4 1,40 1-36 1,3 1,47 1-42 1-9 1,7 1,25 1-21 1,9 1-43 1,36 1,9 1,0 1,19L260,8l-1,9 -1-40 -1,3 -1,11 -1-2 -1,15 -1,3 -1,30 -1-20 -1-4 -1-23 -1,28 -1-11 -1-22 -1,24 -1,1 -1,3 -1,2 -1-2 -1-20 -1,2 -1,16 -1,9 -1-7 -1-8 -1-5 -1-29 -1,44 -1-22 -1-10 -1,38 -1-3 -1,5 -1-3 -1-6 -1-29 -1,47 -1-8 -1-11 -1,22 -1-35 -1,21 -1-1 -1-17 -1,4 -1,2 -1-9 -1,3 -1,6 -1-7 -1,1 -1-2 -1,17 -1,6 -1,8 -1-31 -1,19 -1-31 -1,20 -1-3 -1,38 -1-34 -1-7 -1,17 -1-9 -1-5 -1-15 -1,19 -1,22 -1-28 -1-7 -1,5 -1-1 -1,32 -1-41 -1,33 -1-14 -1,8 -1-17 -1,17 -1,26 -1-37 -1,4 -1,12 -1-30 -1,18 -1-28 -1,31 -1-3 -1-20 -1,22 -1-16 -1,21 -1-38 -1,32 -1-1 -1,16 -1-26 -1-5 -1,16 -1-17 -1,26 -1-58 -1,35 -1,20 -1-45 -1,48 -1-10 -1,4 -1,7 -1,19 -1-40 -1,5 -1,4 -1,14 -1-2 -1-7 -1-38 -1,33 -1-28 -1-14 -1,28 -1,10 -1-13 -1-36 -1,68 -1-52 -1,55 -1-31 -1,23 -1,4 -1-8 -1-12 -1,18 -1-27 -1,10 -1-12 -1,11 -1-1 -1,8 -1-2 -1,16 -1-19 -1-3 -1,8 -1-14 -1,9 -1,17 -1-75 -1,72 -1-14 -1-34 -1,23 -1,0 -1,9 -1-12 -1,14 -1-6 -1,23 -1-10 -1-1 -1,2 -1,6 -1-3 -1-53 -1,37 -1,12 -1,5 -1-11 -1,0 -1-4 -1-11 -1,25 -1-12 -1-9 -1,27 -1-6 -1-1 -1-10 -1-23 -1-2 -1,27 -1-12 -1,24 -1-13 -1-37 -1,6 -1,30 -1,4 -1,4 -1,7 -1-22 -1,7 -1,26 -1-39 -1,31 -1-19 -1,9 -1,7 -1-32 -1-15 -1,30 -1-5 -1-14 -1,42 -1-20 -1-5 -1,13 -1-12 -1,6 -1,4 -1,4 -1-5 -1-35 -1-13 -1,39 -1,1 -1,8 -1-9 -1,11 -1-3 -1,1 -1,9 -1-3 -1-11 -1-8 -1,22 -1-6 -1-16 -1,12 -1-2 -1,2 -1-10 -1,24 -1-42 -1,41 -1,0 -1-14 -1-9 -1,14 -1-14 -1,5 -1-1 -1,20 -1-34 -1,26 -1-12 -1-16 -1,24 -1-13 -1,4 -1,12 -1-11 -1-21 -1,40 -1-28 -1,8 -1,24 -1-31 -1,8Z" vector-effect="non-scaling-stroke"/>
<path transform="matrix(0.63192 -0.16615 0 -0.77187 54.002 128.636)" d="M-2,7.2l1-8 1,31 1-24 1-8 1,28 1-40 1,21 1,11 1-12 1-4 1,13 1-24 1,16 1,12 1-26 1,34 1-20 1,1 1-5 1,14 1-14 1,9 1,14 1,0 1-41 1,42 1-24 1,10 1-2 1,2 1-12 1,16 1,6 1-22 1,8 1,11 1,3 1-9 1-1 1,3 1-11 1,9 1-8 1-1 1-39 1,13 1,35 1,5 1-4 1-4 1-6 1,12 1-13 1,5 1,20 1-42 1,14 1,5 1-30 1,15 1,32 1-7 1-9 1,19 1-31 1,39 1-26 1-7 1,22 1-7 1-4 1-4 1-30 1-6 1,37 1,13 1-24 1,12 1-27 1,2 1,23 1,10 1,1 1,6 1-27 1,9 1,12 1-25 1,11 1,4 1,0 1,11 1-5 1-12 1-37 1,53 1,3 1-6 1-2 1,1 1,10 1-23 1,6 1-14 1,12 1-9 1,0 1-23 1,34 1,14 1-72 1,75 1-17 1-9 1,14 1-8 1,3 1,19 1-16 1,2 1-8 1,1 1-11 1,12 1-10 1,27 1-18 1,12 1,8 1-4 1-23 1,31 1-55 1,52 1-68 1,36 1,13 1-10 1-28 1,14 1,28 1-33 1,38 1,7 1,2 1-14 1-4 1-5 1,40 1-19 1-7 1-4 1,10 1-48 1,45 1-20 1-35 1,58 1-26 1,17 1-16 1,5 1,26 1-16 1,1 1-32 1,38 1-21 1,16 1-22 1,20 1,3 1-31 1,28 1-18 1,30 1-12 1-4 1,37 1-26 1-17 1,17 1-8 1,14 1-33 1,41 1-32 1,1 1-5 1,7 1,28 1-22 1-19 1,15 1,5 1,9 1-17 1,7 1,34 1-38 1,3 1-20 1,31 1-19 1,31 1-8 1-6 1-17 1,2 1-1 1,7 1-6 1-3 1,9 1-2 1-4 1,17 1,1 1-21 1,35 1-22 1,11 1,8 1-47 1,29 1,6 1,3 1-5 1,3 1-38 1,10 1,22 1-44 1,29 1,5 1,8 1,7 1-9 1-16 1-2 1,20 1,2 1-2 1-3 1-1 1-24 1,22 1,11 1-28 1,23 1,4 1,20 1-30 1-3 1-15 1,2 1-11 1-3 1,40 1-9L260,16l-1,12 -1-31 -1,7 -1,20 -1-13 -1-2 -1,7 -1-3 -1-21 -1-21 -1,41 -1,0 -1-3 -1-16 -1,31 -1-12 -1,4 -1-13 -1,8 -1-5 -1-7 -1,11 -1-17 -1,8 -1,25 -1-32 -1,17 -1-1 -1-19 -1,17 -1,13 -1-13 -1-27 -1,39 -1-11 -1,8 -1-5 -1-24 -1,45 -1-35 -1,27 -1-8 -1-2 -1-9 -1,13 -1-16 -1,20 -1-37 -1,32 -1-12 -1-13 -1,4 -1,22 -1,9 -1-33 -1,13 -1,19 -1-38 -1,13 -1-2 -1-16 -1,5 -1,9 -1,16 -1-16 -1,21 -1-25 -1-3 -1,23 -1-6 -1,1 -1-34 -1,31 -1-4 -1-1 -1-2 -1,6 -1,0 -1,4 -1,0 -1,1 -1,14 -1-25 -1-1 -1,5 -1-22 -1,36 -1-11 -1,27 -1-14 -1-7 -1-3 -1-3 -1,15 -1-42 -1,15 -1,7 -1,7 -1,4 -1,5 -1-27 -1,18 -1-29 -1,50 -1-5 -1-9 -1-13 -1,15 -1-17 -1-2 -1-9 -1,22 -1-14 -1,12 -1,24 -1-21 -1-13 -1,9 -1,24 -1-30 -1-7 -1,27 -1-47 -1,51 -1-36 -1,28 -1-5 -1-25 -1-7 -1,45 -1-26 -1,8 -1-14 -1,5 -1,33 -1-25 -1,8 -1,3 -1-24 -1,32 -1-10 -1-9 -1,13 -1,7 -1,2 -1-5 -1-76 -1,70 -1-6 -1-7 -1-11 -1,1 -1,23 -1-13 -1,39 -1-33 -1,11 -1-12 -1-4 -1-27 -1,24 -1,18 -1,5 -1-13 -1-8 -1,8 -1-11 -1-6 -1-12 -1,13 -1,6 -1-11 -1,15 -1-3 -1,30 -1-24 -1-35 -1,21 -1-3 -1,14 -1-30 -1,25 -1-9 -1,15 -1-15 -1,27 -1-23 -1,33 -1,4 -1-37 -1,29 -1-13 -1-20 -1,14 -1,3 -1,2 -1-7 -1,11 -1-29 -1-1 -1,45 -1-27 -1,18 -1-7 -1,7 -1-15 -1-4 -1,20 -1-14 -1,5 -1,13 -1-43 -1,24 -1,30 -1-31 -1-12 -1-45 -1,64 -1,16 -1-43 -1,34 -1-12 -1,3 -1,8 -1-13 -1-8 -1,29 -1,1 -1-30 -1,11 -1-60 -1,74 -1-18 -1,24 -1-23 -1,30 -1-30 -1,5 -1,3 -1,1 -1,7 -1,9 -1-7 -1-2 -1-14 -1-14 -1,19 -1-25 -1,16 -1,24 -1-31 -1-2 -1,19 -1-6 -1,3 -1,19 -1-21 -1,32 -1-35 -1,15Z" vector-effect="non-scaling-stroke"/>
<path transform="matrix(0.63192 -0.16615 0 -0.77187 55.264 129.202)" d="M-2,23.2l1-15 1,35 1-32 1,21 1-19 1-3 1,6 1-19 1,2 1,31 1-24 1-16 1,25 1-19 1,14 1,14 1,2 1,7 1-9 1-7 1-1 1-3 1-5 1,30 1-30 1,23 1-24 1,18 1-74 1,60 1-11 1,30 1-1 1-29 1,8 1,13 1-8 1-3 1,12 1-34 1,43 1-16 1-64 1,45 1,12 1,31 1-30 1-24 1,43 1-13 1-5 1,14 1-20 1,4 1,15 1-7 1,7 1-18 1,27 1-45 1,1 1,29 1-11 1,7 1-2 1-3 1-14 1,20 1,13 1-29 1,37 1-4 1-33 1,23 1-27 1,15 1-15 1,9 1-25 1,30 1-14 1,3 1-21 1,35 1,24 1-30 1,3 1-15 1,11 1-6 1-13 1,12 1,6 1,11 1-8 1,8 1,13 1-5 1-18 1-24 1,27 1,4 1,12 1-11 1,33 1-39 1,13 1-23 1-1 1,11 1,7 1,6 1-70 1,76 1,5 1-2 1-7 1-13 1,9 1,10 1-32 1,24 1-3 1-8 1,25 1-33 1-5 1,14 1-8 1,26 1-45 1,7 1,25 1,5 1-28 1,36 1-51 1,47 1-27 1,7 1,30 1-24 1-9 1,13 1,21 1-24 1-12 1,14 1-22 1,9 1,2 1,17 1-15 1,13 1,9 1,5 1-50 1,29 1-18 1,27 1-5 1-4 1-7 1-7 1-15 1,42 1-15 1,3 1,3 1,7 1,14 1-27 1,11 1-36 1,22 1-5 1,1 1,25 1-14 1-1 1,0 1-4 1,0 1-6 1,2 1,1 1,4 1-31 1,34 1-1 1,6 1-23 1,3 1,25 1-21 1,16 1-16 1-9 1-5 1,16 1,2 1-13 1,38 1-19 1-13 1,33 1-9 1-22 1-4 1,13 1,12 1-32 1,37 1-20 1,16 1-13 1,9 1,2 1,8 1-27 1,35 1-45 1,24 1,5 1-8 1,11 1-39 1,27 1,13 1-13 1-17 1,19 1,1 1-17 1,32 1-25 1-8 1,17 1-11 1,7 1,5 1-8 1,13 1-4 1,12 1-31 1,16 1,3 1,0 1-41 1,21 1,21 1,3 1-7 1,2 1,13 1-20 1-7 1,31 1-12L260,1l-1,13 -1-40 -1,5 -1,25 -1,3 -1-27 -1,35 -1-43 -1,41 -1-37 -1,39 -1,4 -1-33 -1,32 -1-25 -1,20 -1-9 -1,7 -1-26 -1,40 -1-13 -1,8 -1-17 -1,10 -1-4 -1,6 -1-20 -1-7 -1,45 -1-31 -1,9 -1-20 -1,16 -1-18 -1-5 -1,32 -1-43 -1,28 -1-31 -1,48 -1-23 -1,12 -1,2 -1-3 -1-6 -1,31 -1-10 -1-5 -1-25 -1,9 -1-3 -1-1 -1-18 -1,38 -1-1 -1,5 -1-15 -1-6 -1,8 -1,6 -1,12 -1-4 -1-13 -1,4 -1-25 -1-14 -1,58 -1-58 -1,14 -1-6 -1,17 -1,19 -1-8 -1-29 -1,36 -1-31 -1,23 -1-10 -1,17 -1-16 -1-1 -1,26 -1,4 -1-20 -1-14 -1,32 -1-17 -1-9 -1,18 -1-20 -1,15 -1-1 -1-7 -1,6 -1-25 -1,31 -1-23 -1,24 -1-6 -1-48 -1,37 -1,26 -1-30 -1,6 -1-12 -1,16 -1,13 -1,10 -1-14 -1,3 -1-16 -1,19 -1-23 -1,17 -1-4 -1,16 -1-26 -1,5 -1,24 -1-32 -1-17 -1,24 -1-18 -1,18 -1,0 -1-7 -1-3 -1,27 -1,19 -1-58 -1,33 -1-12 -1-11 -1,20 -1-17 -1,28 -1,0 -1-3 -1-23 -1,13 -1,7 -1-8 -1-2 -1-26 -1,34 -1-4 -1,3 -1-32 -1,34 -1-30 -1,12 -1-4 -1-1 -1,44 -1-14 -1-29 -1,15 -1,5 -1-13 -1,7 -1,21 -1,15 -1-16 -1-26 -1-1 -1,23 -1-11 -1-11 -1-5 -1-6 -1,17 -1,12 -1-28 -1,23 -1-7 -1-2 -1,16 -1-26 -1-13 -1-23 -1,40 -1-25 -1,36 -1,12 -1-8 -1,8 -1-38 -1,35 -1,8 -1-27 -1,3 -1,9 -1-18 -1,14 -1-25 -1,11 -1-28 -1,27 -1-11 -1,32 -1,1 -1-13 -1-54 -1,67 -1-25 -1,32 -1-4 -1-6 -1-16 -1-28 -1,67 -1-35 -1,0 -1-16 -1,7 -1-12 -1,14 -1,15 -1,5 -1-37 -1,32 -1-39 -1,20 -1,13 -1-21 -1,6 -1,6 -1,15 -1-17 -1,22 -1,0 -1-21 -1,43 -1-22 -1-2 -1-45 -1,50 -1-27 -1,27 -1-13 -1,10 -1-10 -1-3 -1,34 -1-11 -1-16 -1-5 -1-3 -1-2 -1,29 -1-25 -1,11 -1-6 -1-7 -1-3 -1,0 -1,21 -1-27 -1-18 -1,34Z" vector-effect="non-scaling-stroke"/>
<path transform="matrix(0.63192 -0.16615 0 -0.77187 56.526 129.768)" d="M-2,10.2l1-34 1,18 1,27 1-21 1,0 1,3 1,7 1,6 1-11 1,25 1-29 1,2 1,3 1,5 1,16 1,11 1-34 1,3 1,10 1-10 1,13 1-27 1,27 1-50 1,45 1,2 1,22 1-43 1,21 1,0 1-22 1,17 1-15 1-6 1-6 1,21 1-13 1-20 1,39 1-32 1,37 1-5 1-15 1-14 1,12 1-7 1,16 1,0 1,35 1-67 1,28 1,16 1,6 1,4 1-32 1,25 1-67 1,54 1,13 1-1 1-32 1,11 1-27 1,28 1-11 1,25 1-14 1,18 1-9 1-3 1,27 1-8 1-35 1,38 1-8 1,8 1-12 1-36 1,25 1-40 1,23 1,13 1,26 1-16 1,2 1,7 1-23 1,28 1-12 1-17 1,6 1,5 1,11 1,11 1-23 1,1 1,26 1,16 1-15 1-21 1-7 1,13 1-5 1-15 1,29 1,14 1-44 1,1 1,4 1-12 1,30 1-34 1,32 1-3 1,4 1-34 1,26 1,2 1,8 1-7 1-13 1,23 1,3 1,0 1-28 1,17 1-20 1,11 1,12 1-33 1,58 1-19 1-27 1,3 1,7 1,0 1-18 1,18 1-24 1,17 1,32 1-24 1-5 1,26 1-16 1,4 1-17 1,23 1-19 1,16 1-3 1,14 1-10 1-13 1-16 1,12 1-6 1,30 1-26 1-37 1,48 1,6 1-24 1,23 1-31 1,25 1-6 1,7 1,1 1-15 1,20 1-18 1,9 1,17 1-32 1,14 1,20 1-4 1-26 1,1 1,16 1-17 1,10 1-23 1,31 1-36 1,29 1,8 1-19 1-17 1,6 1-14 1,58 1-58 1,14 1,25 1-4 1,13 1,4 1-12 1-6 1-8 1,6 1,15 1-5 1,1 1-38 1,18 1,1 1,3 1-9 1,25 1,5 1,10 1-31 1,6 1,3 1-2 1-12 1,23 1-48 1,31 1-28 1,43 1-32 1,5 1,18 1-16 1,20 1-9 1,31 1-45 1,7 1,20 1-6 1,4 1-10 1,17 1-8 1,13 1-40 1,26 1-7 1,9 1-20 1,25 1-32 1,33 1-4 1-39 1,37 1-41 1,43 1-35 1,27 1-3 1-25 1-5 1,40 1-13L260,13l-1-17 -1,18 -1-22 -1,17 -1,2 -1-9 -1-4 -1,6 -1-2 -1-2 -1,7 -1-6 -1,30 -1-24 -1,14 -1-4 -1-9 -1-35 -1,25 -1,7 -1,0 -1,20 -1-4 -1-18 -1,13 -1-26 -1,9 -1,19 -1-6 -1-5 -1-44 -1,39 -1,9 -1-16 -1,27 -1-31 -1,34 -1-14 -1,7 -1-40 -1,45 -1-17 -1-5 -1-1 -1,17 -1-2 -1-8 -1-21 -1,30 -1-20 -1,7 -1,20 -1-29 -1,19 -1,18 -1-29 -1-1 -1,14 -1-14 -1,2 -1-11 -1,10 -1,11 -1-9 -1-4 -1,3 -1,12 -1-1 -1-6 -1-1 -1,9 -1,5 -1-6 -1-5 -1-1 -1,22 -1-26 -1,9 -1-10 -1,16 -1-7 -1-23 -1,14 -1-20 -1,33 -1,10 -1-12 -1-13 -1,17 -1-25 -1-32 -1,61 -1-17 -1,6 -1,1 -1,8 -1-18 -1-1 -1-9 -1,17 -1,1 -1,7 -1-9 -1,13 -1,12 -1-43 -1,34 -1-1 -1-11 -1,14 -1-14 -1-5 -1,17 -1-9 -1-31 -1,24 -1-22 -1-10 -1,42 -1-29 -1,32 -1-4 -1-41 -1,26 -1,17 -1,24 -1-27 -1-36 -1,18 -1-12 -1,22 -1-41 -1,45 -1-3 -1-9 -1-27 -1,51 -1-27 -1,2 -1-3 -1-14 -1,22 -1,13 -1-42 -1-3 -1,0 -1,28 -1-7 -1,33 -1,5 -1-21 -1-8 -1-11 -1,7 -1,10 -1-23 -1,7 -1,7 -1,9 -1-6 -1-8 -1,2 -1,1 -1,26 -1-21 -1,6 -1-11 -1,2 -1-20 -1,7 -1-13 -1,46 -1-5 -1-9 -1-2 -1,7 -1,6 -1-6 -1,7 -1-17 -1,12 -1,2 -1,0 -1-1 -1-2 -1-29 -1,39 -1-11 -1-24 -1,16 -1-6 -1,6 -1,21 -1-31 -1,27 -1,1 -1-18 -1,11 -1-7 -1-1 -1,5 -1-17 -1,8 -1-10 -1,18 -1,3 -1,6 -1-3 -1,0 -1-14 -1,4 -1,0 -1-16 -1,18 -1,23 -1-11 -1-10 -1,4 -1,5 -1-10 -1-9 -1,27 -1-1 -1-27 -1,7 -1-23 -1,48 -1-21 -1,12 -1,4 -1-19 -1-1 -1,17 -1-20 -1-6 -1,22 -1-6 -1,13 -1-26 -1,16 -1-4 -1,6 -1-40 -1,23 -1,10 -1-22 -1,14 -1,11 -1-8 -1,8 -1-2 -1-14 -1-5 -1,18 -1-2 -1,8 -1-6 -1-17 -1,8 -1-16Z" vector-effect="non-scaling-stroke"/>
<path transform="matrix(0.63192 -0.16615 0 -0.77187 57.788 130.334)" d="M-2,-12.8l1,16 1-8 1,17 1,6 1-8 1,2 1-18 1,5 1,14 1,2 1-8 1,8 1-11 1-14 1,22 1-10 1-23 1,40 1-6 1,4 1-16 1,26 1-13 1,6 1-22 1,6 1,20 1-17 1,1 1,19 1-4 1-12 1,21 1-48 1,23 1-7 1,27 1,1 1-27 1,9 1,10 1-5 1-4 1,10 1,11 1-23 1-18 1,16 1,0 1-4 1,14 1,0 1,3 1-6 1-3 1-18 1,10 1-8 1,17 1-5 1,1 1,7 1-11 1,18 1-1 1-27 1,31 1-21 1-6 1,6 1-16 1,24 1,11 1-39 1,29 1,2 1,1 1,0 1-2 1-12 1,17 1-7 1,6 1-6 1-7 1,2 1,9 1,5 1-46 1,13 1-7 1,20 1-2 1,11 1-6 1,21 1-26 1-1 1-2 1,8 1,6 1-9 1-7 1-7 1,23 1-10 1-7 1,11 1,8 1,21 1-5 1-33 1,7 1-28 1,0 1,3 1,42 1-13 1-22 1,14 1,3 1-2 1,27 1-51 1,27 1,9 1,3 1-45 1,41 1-22 1,12 1-18 1,36 1,27 1-24 1-17 1-26 1,41 1,4 1-32 1,29 1-42 1,10 1,22 1-24 1,31 1,9 1-17 1,5 1,14 1-14 1,11 1,1 1-34 1,43 1-12 1-13 1,9 1-7 1-1 1-17 1,9 1,1 1,18 1-8 1-1 1-6 1,17 1-61 1,32 1,25 1-17 1,13 1,12 1-10 1-33 1,20 1-14 1,23 1,7 1-16 1,10 1-9 1,26 1-22 1,1 1,5 1,6 1-5 1-9 1,1 1,6 1,1 1-12 1-3 1,4 1,9 1-11 1-10 1,11 1-2 1,14 1-14 1,1 1,29 1-18 1-19 1,29 1-20 1-7 1,20 1-30 1,21 1,8 1,2 1-17 1,1 1,5 1,17 1-45 1,40 1-7 1,14 1-34 1,31 1-27 1,16 1-9 1-39 1,44 1,5 1,6 1-19 1-9 1,26 1-13 1,18 1,4 1-20 1,0 1-7 1-25 1,35 1,9 1,4 1-14 1,24 1-30 1,6 1-7 1,2 1,2 1-6 1,4 1,9 1-2 1-17 1,22 1-18 1,17L260,-16l-1,18 -1-2 -1-13 -1,35 -1-7 -1-19 -1,8 -1-2 -1-6 -1,40 -1-40 -1,10 -1,24 -1-35 -1,9 -1-12 -1-3 -1,26 -1-27 -1,43 -1-25 -1,3 -1-32 -1,24 -1-35 -1,21 -1,18 -1,15 -1-28 -1-9 -1,32 -1-8 -1-7 -1,5 -1,15 -1,1 -1-29 -1,22 -1-19 -1,23 -1-9 -1,6 -1-4 -1-2 -1,3 -1-13 -1,31 -1-20 -1,0 -1,17 -1-7 -1,7 -1-23 -1-2 -1,6 -1-10 -1-20 -1,31 -1-55 -1,42 -1,14 -1-16 -1,15 -1,14 -1-10 -1-17 -1,1 -1,6 -1,1 -1,26 -1-28 -1,34 -1-44 -1,19 -1-13 -1-3 -1,1 -1,28 -1-26 -1,17 -1-27 -1,28 -1,0 -1-65 -1,58 -1-34 -1,26 -1,18 -1,4 -1-7 -1-10 -1,3 -1,0 -1-5 -1-4 -1,21 -1-21 -1,25 -1-30 -1,29 -1-33 -1,12 -1-11 -1,32 -1-5 -1-7 -1-8 -1,7 -1-12 -1,5 -1-9 -1,15 -1,3 -1,4 -1-29 -1,20 -1-7 -1,10 -1,3 -1,1 -1,17 -1-15 -1-17 -1-3 -1,13 -1,28 -1-23 -1,0 -1-10 -1,4 -1,3 -1-34 -1,39 -1,6 -1-23 -1-7 -1,18 -1-9 -1-38 -1,21 -1,34 -1,6 -1-19 -1,2 -1-21 -1,16 -1,13 -1,8 -1-13 -1-7 -1-24 -1,31 -1,21 -1-23 -1,10 -1-20 -1,26 -1-19 -1-7 -1-18 -1,37 -1-6 -1,1 -1-26 -1,32 -1,3 -1-2 -1-22 -1,18 -1-14 -1,8 -1,6 -1,7 -1-16 -1,8 -1-8 -1,5 -1-26 -1,8 -1,30 -1-19 -1-52 -1,70 -1-7 -1,3 -1-17 -1-52 -1,20 -1,26 -1,1 -1-14 -1,38 -1-15 -1,0 -1,24 -1-11 -1-18 -1-12 -1,29 -1-14 -1-5 -1,20 -1-14 -1,3 -1,30 -1-45 -1,14 -1,18 -1-21 -1,3 -1-7 -1,4 -1-25 -1,44 -1-21 -1,10 -1-4 -1-8 -1-24 -1,29 -1-12 -1,10 -1-9 -1,9 -1,21 -1-31 -1,24 -1-22 -1,17 -1-7 -1-1 -1,6 -1,9 -1,6 -1-36 -1-22 -1,21 -1,33 -1-13 -1,4 -1,16 -1-21 -1,16 -1-3 -1,18 -1-32 -1-22 -1-4 -1,0 -1,28 -1-11 -1,7 -1-13 -1,17 -1,4 -1-13 -1-13 -1,30 -1-8 -1,0Z" vector-effect="non-scaling-stroke"/>
<path transform="matrix(0.63192 -0.16615 0 -0.77187 59.050 130.900)" d="M-2,9.2l1,0 1,8 1-30 1,13 1,13 1-4 1-17 1,13 1-7 1,11 1-28 1,0 1,4 1,22 1,32 1-18 1,3 1-16 1,21 1-16 1-4 1,13 1-33 1-21 1,22 1,36 1-6 1-9 1-6 1,1 1,7 1-17 1,22 1-24 1,31 1-21 1-9 1,9 1-10 1,12 1-29 1,24 1,8 1,4 1-10 1,21 1-44 1,25 1-4 1,7 1-3 1,21 1-18 1-14 1,45 1-30 1-3 1,14 1-20 1,5 1,14 1-29 1,12 1,18 1,11 1-24 1,0 1,15 1-38 1,14 1-1 1-26 1-20 1,52 1,17 1-3 1,7 1-70 1,52 1,19 1-30 1-8 1,26 1-5 1,8 1-8 1,16 1-7 1-6 1-8 1,14 1-18 1,22 1,2 1-3 1-32 1,26 1-1 1,6 1-37 1,18 1,7 1,19 1-26 1,20 1-10 1,23 1-21 1-31 1,24 1,7 1,13 1-8 1-13 1-16 1,21 1-2 1,19 1-6 1-34 1-21 1,38 1,9 1-18 1,7 1,23 1-6 1-39 1,34 1-3 1-4 1,10 1,0 1,23 1-28 1-13 1,3 1,17 1,15 1-17 1-1 1-3 1-10 1,7 1-20 1,29 1-4 1-3 1-15 1,9 1-5 1,12 1-7 1,8 1,7 1,5 1-32 1,11 1-12 1,33 1-29 1,30 1-25 1,21 1-21 1,4 1,5 1,0 1-3 1,10 1,7 1-4 1-18 1-26 1,34 1-58 1,65 1,0 1-28 1,27 1-17 1,26 1-28 1-1 1,3 1,13 1-19 1,44 1-34 1,28 1-26 1-1 1-6 1-1 1,17 1,10 1-14 1-15 1,16 1-14 1-42 1,55 1-31 1,20 1,10 1-6 1,2 1,23 1-7 1,7 1-17 1,0 1,20 1-31 1,13 1-3 1,2 1,4 1-6 1,9 1-23 1,19 1-22 1,29 1-1 1-15 1-5 1,7 1,8 1-32 1,9 1,28 1-15 1-18 1-21 1,35 1-24 1,32 1-3 1,25 1-43 1,27 1-26 1,3 1,12 1-9 1,35 1-24 1-10 1,40 1-40 1,6 1,2 1-8 1,19 1,7 1-35 1,13 1,2 1-18L260,7l-1,6 -1-9 -1-18 -1,18 -1,11 -1-58 -1,49 -1-7 -1-16 -1,18 -1-1 -1-9 -1-11 -1,20 -1-4 -1,24 -1-26 -1,8 -1,6 -1,2 -1,17 -1-32 -1,6 -1,3 -1,25 -1-20 -1-5 -1,22 -1,3 -1-32 -1,3 -1,0 -1-5 -1,21 -1-32 -1,28 -1-12 -1,23 -1,9 -1-22 -1-30 -1,33 -1,27 -1-25 -1-11 -1,9 -1,2 -1,18 -1-29 -1,11 -1,8 -1-16 -1-35 -1,29 -1-1 -1,23 -1,11 -1-48 -1,35 -1-29 -1,29 -1-20 -1-2 -1,20 -1,2 -1,7 -1-19 -1,0 -1,2 -1-4 -1,2 -1,4 -1-2 -1-4 -1-51 -1,67 -1-11 -1-27 -1,28 -1-17 -1,14 -1-9 -1-10 -1,2 -1,23 -1,12 -1-25 -1-5 -1-27 -1,33 -1,8 -1-13 -1-3 -1,23 -1-20 -1-1 -1,4 -1,5 -1,12 -1-5 -1,10 -1-27 -1,24 -1,2 -1,0 -1-37 -1,31 -1,0 -1-17 -1,2 -1,20 -1-12 -1,9 -1-6 -1,6 -1-42 -1,45 -1-7 -1-20 -1,32 -1-10 -1,9 -1-23 -1,16 -1-6 -1-6 -1-12 -1-5 -1-1 -1,17 -1,3 -1-20 -1-4 -1,17 -1,10 -1,0 -1,9 -1-30 -1,27 -1-36 -1,2 -1,40 -1-43 -1,22 -1,0 -1-2 -1,10 -1-14 -1-1 -1,23 -1-1 -1-4 -1-31 -1,13 -1-5 -1-1 -1,11 -1,4 -1-9 -1,11 -1,5 -1-2 -1-12 -1-8 -1,20 -1,3 -1,4 -1-19 -1-14 -1,28 -1,5 -1-22 -1,14 -1-11 -1,12 -1-11 -1,10 -1,2 -1-55 -1,52 -1,3 -1-9 -1,3 -1-1 -1,4 -1-11 -1,12 -1-9 -1-13 -1,0 -1,11 -1,3 -1,2 -1,13 -1,19 -1-18 -1-6 -1-21 -1-3 -1,31 -1,2 -1-8 -1-4 -1,13 -1-28 -1,26 -1,25 -1-18 -1-16 -1-9 -1,12 -1-14 -1-12 -1-24 -1,8 -1,31 -1,4 -1-9 -1,2 -1,33 -1-12 -1-23 -1,20 -1,14 -1-7 -1-13 -1-52 -1,61 -1-11 -1-2 -1,13 -1-21 -1-4 -1,20 -1,4 -1-10 -1-21 -1,25 -1-29 -1,46 -1-51 -1,31 -1-3 -1-7 -1,27 -1,2 -1,6 -1-16 -1-15 -1,8 -1,7 -1-15 -1,2 -1,0 -1,24 -1-21 -1,4 -1-21 -1,27 -1-29Z" vector-effect="non-scaling-stroke"/>
<path transform="matrix(0.63192 -0.16615 0 -0.77187 60.312 131.466)" d="M-2,-8.8l1,29 1-27 1,21 1-4 1,21 1-24 1,0 1-2 1,15 1-7 1-8 1,15 1,16 1-6 1-2 1-27 1,7 1,3 1-31 1,51 1-46 1,29 1-25 1,21 1,10 1-4 1-20 1,4 1,21 1-13 1,2 1,11 1-61 1,52 1,13 1,7 1-14 1-20 1,23 1,12 1-33 1-2 1,9 1-4 1-31 1-8 1,24 1,12 1,14 1-12 1,9 1,16 1,18 1-25 1-26 1,28 1-13 1,4 1,8 1-2 1-31 1,3 1,21 1,6 1,18 1-19 1-13 1-2 1-3 1-11 1,0 1,13 1,9 1-12 1,11 1-4 1,1 1-3 1,9 1-3 1-52 1,55 1-2 1-10 1,11 1-12 1,11 1-14 1,22 1-5 1-28 1,14 1,19 1-4 1-3 1-20 1,8 1,12 1,2 1-5 1-11 1,9 1-4 1-11 1,1 1,5 1-13 1,31 1,4 1,1 1-23 1,1 1,14 1-10 1,2 1,0 1-22 1,43 1-40 1-2 1,36 1-27 1,30 1-9 1,0 1-10 1-17 1,4 1,20 1-3 1-17 1,1 1,5 1,12 1,6 1,6 1-16 1,23 1-9 1,10 1-32 1,20 1,7 1-45 1,42 1-6 1,6 1-9 1,12 1-20 1-2 1,17 1,0 1-31 1,37 1,0 1-2 1-24 1,27 1-10 1,5 1-12 1-5 1-4 1,1 1,20 1-23 1,3 1,13 1-8 1-33 1,27 1,5 1,25 1-12 1-23 1-2 1,10 1,9 1-14 1,17 1-28 1,27 1,11 1-67 1,51 1,4 1,2 1-4 1-2 1,4 1-2 1,0 1,19 1-7 1-2 1-20 1,2 1,20 1-29 1,29 1-35 1,48 1-11 1-23 1,1 1-29 1,35 1,16 1-8 1-11 1,29 1-18 1-2 1-9 1,11 1,25 1-27 1-33 1,30 1,22 1-9 1-23 1,12 1-28 1,32 1-21 1,5 1,0 1-3 1,32 1-3 1-22 1,5 1,20 1-25 1-3 1-6 1,32 1-17 1-2 1-6 1-8 1,26 1-24 1,4 1-20 1,11 1,9 1,1 1-18 1,16 1,7 1-49 1,58 1-11 1-18 1,18 1,9 1-6L260,17l-1,4 -1-10 -1-4 -1,0 -1,0 -1-19 -1,13 -1-8 -1,20 -1,18 -1-21 -1-12 -1-25 -1,1 -1,33 -1-4 -1,6 -1,5 -1,2 -1-16 -1,5 -1,9 -1-23 -1,18 -1-23 -1,13 -1-13 -1-5 -1,43 -1-1 -1,12 -1-38 -1-16 -1,24 -1,17 -1,4 -1-28 -1-19 -1,33 -1,11 -1-10 -1-1 -1,7 -1-12 -1,6 -1-15 -1,32 -1-35 -1-10 -1,27 -1-8 -1,4 -1,6 -1-17 -1-10 -1,34 -1-12 -1-29 -1,48 -1-19 -1,9 -1-19 -1,18 -1,16 -1-26 -1-5 -1,17 -1-6 -1,1 -1-11 -1,31 -1-16 -1-19 -1,16 -1,12 -1-10 -1-7 -1,14 -1-8 -1-4 -1,11 -1-12 -1-6 -1,9 -1,15 -1-59 -1,49 -1-15 -1,5 -1-5 -1,25 -1-15 -1-20 -1,22 -1-3 -1,4 -1-12 -1,7 -1,10 -1-2 -1-15 -1,20 -1-19 -1,6 -1,0 -1-18 -1-11 -1,31 -1-1 -1,0 -1-13 -1-1 -1,27 -1-43 -1,37 -1-28 -1,13 -1,11 -1-7 -1-6 -1,14 -1-28 -1,24 -1-39 -1,27 -1-27 -1,7 -1,43 -1-8 -1-37 -1,21 -1,19 -1-11 -1,7 -1-14 -1-11 -1,38 -1,6 -1-34 -1-10 -1-2 -1,40 -1-19 -1,8 -1-6 -1,16 -1-17 -1-8 -1,2 -1,13 -1-22 -1,1 -1,14 -1-20 -1-12 -1,17 -1,25 -1,9 -1-23 -1-6 -1,10 -1,3 -1-14 -1-1 -1,39 -1-16 -1-29 -1,37 -1-8 -1-12 -1,3 -1,3 -1-17 -1-8 -1,1 -1,14 -1,24 -1-23 -1,19 -1-24 -1,32 -1-25 -1,27 -1-37 -1,19 -1-10 -1,8 -1-25 -1,30 -1,6 -1-31 -1,6 -1,4 -1-13 -1,6 -1,20 -1,20 -1-45 -1,24 -1-16 -1,9 -1-8 -1,5 -1-16 -1,25 -1-29 -1,12 -1,31 -1-11 -1-3 -1-41 -1,30 -1,4 -1-6 -1-5 -1,40 -1-30 -1-4 -1,7 -1,5 -1-25 -1,28 -1-1 -1-30 -1,25 -1-3 -1,20 -1-18 -1-7 -1,10 -1-29 -1,3 -1,19 -1-42 -1,22 -1,18 -1-12 -1,24 -1-14 -1,7 -1,4 -1-17 -1,44 -1-39 -1,20 -1-31 -1-8 -1,9 -1,22 -1,1 -1-27 -1,16 -1,16 -1-16 -1,15 -1,1 -1-65 -1,49 -1-16 -1-10Z" vector-effect="non-scaling-stroke"/>
<path transform="matrix(0.63192 -0.16615 0 -0.77187 61.574 132.032)" d="M-2,-19.8l1,10 1,16 1-49 1,65 1-1 1-15 1,16 1-16 1-16 1,27 1-1 1-22 1-9 1,8 1,31 1-20 1,39 1-44 1,17 1-4 1-7 1,14 1-24 1,12 1-18 1-22 1,42 1-19 1-3 1,29 1-10 1,7 1,18 1-20 1,3 1-25 1,30 1,1 1-28 1,25 1-5 1-7 1,4 1,30 1-40 1,5 1,6 1-4 1-30 1,41 1,3 1,11 1-31 1-12 1,29 1-25 1,16 1-5 1,8 1-9 1,16 1-24 1,45 1-20 1-20 1-6 1,13 1-4 1-6 1,31 1-6 1-30 1,25 1-8 1,10 1-19 1,37 1-27 1,25 1-32 1,24 1-19 1,23 1-24 1-14 1-1 1,8 1,17 1-3 1-3 1,12 1,8 1-37 1,29 1,16 1-39 1,1 1,14 1-3 1-10 1,6 1,23 1-9 1-25 1-17 1,12 1,20 1-14 1-1 1,22 1-13 1-2 1,8 1,17 1-16 1,6 1-8 1,19 1-40 1,2 1,10 1,34 1-6 1-38 1,11 1,14 1-7 1,11 1-19 1-21 1,37 1,8 1-43 1-7 1,27 1-27 1,39 1-24 1,28 1-14 1,6 1,7 1-11 1-13 1,28 1-37 1,43 1-27 1,1 1,13 1,0 1,1 1-31 1,11 1,18 1,0 1-6 1,19 1-20 1,15 1,2 1-10 1-7 1,12 1-4 1,3 1-22 1,20 1,15 1-25 1,5 1-5 1,15 1-49 1,59 1-15 1-9 1,6 1,12 1-11 1,4 1,8 1-14 1,7 1,10 1-12 1-16 1,19 1,16 1-31 1,11 1-1 1,6 1-17 1,5 1,26 1-16 1-18 1,19 1-9 1,19 1-48 1,29 1,12 1-34 1,10 1,17 1-6 1-4 1,8 1-27 1,10 1,35 1-32 1,15 1-6 1,12 1-7 1,1 1,10 1-11 1-33 1,19 1,28 1-4 1-17 1-24 1,16 1,38 1-12 1,1 1-43 1,5 1,13 1-13 1,23 1-18 1,23 1-9 1-5 1,16 1-2 1-5 1-6 1,4 1-33 1-1 1,25 1,12 1,21 1-18 1-20 1,8 1-13 1,19 1,0 1,0 1,4 1,10 1-4L260,-3l-1,16 -1-4 -1-36 -1,25 -1,24 -1-32 -1,26 -1-2 -1,5 -1,0 -1-30 -1,20 -1-5 -1-6 -1-24 -1,50 -1-7 -1-7 -1,19 -1-22 -1,1 -1-22 -1,15 -1,1 -1,9 -1,10 -1,1 -1-8 -1-12 -1,4 -1,13 -1-14 -1-1 -1-17 -1,15 -1-6 -1-5 -1,32 -1-14 -1,9 -1-34 -1-6 -1,47 -1-32 -1-14 -1,27 -1,18 -1-17 -1,7 -1,31 -1-29 -1-22 -1-2 -1,37 -1-10 -1-19 -1,21 -1-14 -1,9 -1-10 -1-18 -1,15 -1,15 -1-6 -1-13 -1-19 -1,13 -1,27 -1-12 -1-31 -1,16 -1,18 -1,1 -1,6 -1-6 -1,3 -1-5 -1,4 -1-4 -1,6 -1-24 -1,19 -1-13 -1-7 -1,13 -1,3 -1,7 -1-27 -1,31 -1-30 -1-13 -1,50 -1-55 -1,28 -1,8 -1,14 -1-32 -1,32 -1-29 -1,3 -1,28 -1-32 -1-31 -1,49 -1-3 -1,18 -1-16 -1-5 -1,11 -1-3 -1-1 -1-8 -1-16 -1,17 -1-29 -1,20 -1,7 -1,0 -1,21 -1-14 -1,14 -1-10 -1,14 -1-28 -1-11 -1,25 -1-3 -1-22 -1,4 -1,40 -1,5 -1-21 -1-38 -1,35 -1,1 -1-19 -1,19 -1-2 -1-42 -1,43 -1,11 -1-20 -1-5 -1,47 -1-26 -1-4 -1,9 -1,9 -1-7 -1-65 -1,56 -1,2 -1,14 -1-13 -1-25 -1,27 -1-7 -1-3 -1-17 -1,17 -1-7 -1,3 -1-6 -1,30 -1-29 -1-12 -1-10 -1,38 -1,2 -1-16 -1-32 -1,38 -1-13 -1,10 -1-3 -1,14 -1-20 -1,28 -1-18 -1-2 -1,8 -1-11 -1,25 -1-29 -1,31 -1-14 -1-1 -1-25 -1,17 -1,12 -1,3 -1-31 -1,28 -1-6 -1-15 -1-2 -1,22 -1-6 -1-36 -1,10 -1,13 -1-28 -1,39 -1,1 -1,15 -1-22 -1-18 -1,51 -1-59 -1,12 -1,15 -1,10 -1-12 -1,21 -1-37 -1,42 -1-18 -1-59 -1,62 -1-8 -1-22 -1,31 -1-6 -1-17 -1,8 -1,11 -1-3 -1-27 -1,23 -1-1 -1-15 -1,38 -1-8 -1-52 -1,28 -1,2 -1,33 -1-27 -1,28 -1-12 -1-4 -1-7 -1,0 -1,15 -1-19 -1,20 -1-16 -1-5 -1,16 -1-2 -1,10 -1-31 -1,3 -1,0 -1,23 -1-12 -1-8 -1,15 -1,4 -1-13Z" vector-effect="non-scaling-stroke"/>
<path transform="matrix(0.63192 -0.16615 0 -0.77187 62.836 132.598)" d="M-2,8.2l1,13 1-4 1-15 1,8 1,12 1-23 1,0 1-3 1,31 1-10 1,2 1-16 1,5 1,16 1-20 1,19 1-15 1,0 1,7 1,4 1,12 1-28 1,27 1-33 1-2 1-28 1,52 1,8 1-38 1,15 1,1 1-23 1,27 1,3 1-11 1-8 1,17 1,6 1-31 1,22 1,8 1-62 1,59 1,18 1-42 1,37 1-21 1,12 1-10 1-15 1-12 1,59 1-51 1,18 1,22 1-15 1-1 1-39 1,28 1-13 1-10 1,36 1,6 1-22 1,2 1,15 1,6 1-28 1,31 1-3 1-12 1-17 1,25 1,1 1,14 1-31 1,29 1-25 1,11 1-8 1,2 1,18 1-28 1,20 1-14 1,3 1-10 1,13 1-38 1,32 1,16 1-2 1-38 1,10 1,12 1,29 1-30 1,6 1-3 1,7 1-17 1,17 1,3 1,7 1-27 1,25 1,13 1-14 1-2 1-56 1,65 1,7 1-9 1-9 1,4 1,26 1-47 1,5 1,20 1-11 1-43 1,42 1,2 1-19 1,19 1-1 1-35 1,38 1,21 1-5 1-40 1-4 1,22 1,3 1-25 1,11 1,28 1-14 1,10 1-14 1,14 1-21 1,0 1-7 1-20 1,29 1-17 1,16 1,8 1,1 1,3 1-11 1,5 1,16 1-18 1,3 1-49 1,31 1,32 1-28 1-3 1,29 1-32 1,32 1-14 1-8 1-28 1,55 1-50 1,13 1,30 1-31 1,27 1-7 1-3 1-13 1,7 1,13 1-19 1,24 1-6 1,4 1-4 1,5 1-3 1,6 1-6 1-1 1-18 1-16 1,31 1,12 1-27 1-13 1,19 1,13 1,6 1-15 1-15 1,18 1,10 1-9 1,14 1-21 1,19 1,10 1-37 1,2 1,22 1,29 1-31 1-7 1,17 1-18 1-27 1,14 1,32 1-47 1,6 1,34 1-9 1,14 1-32 1,5 1,6 1-15 1,17 1,1 1,14 1-13 1-4 1,12 1,8 1-1 1-10 1-9 1-1 1-15 1,22 1-1 1,22 1-19 1,7 1,7 1-50 1,24 1,6 1,5 1-20 1,30 1,0 1-5 1,2 1-26 1,32 1-24 1-25 1,36 1,4 1-16L260,16l-1,3 -1-6 -1-15 -1-33 -1,16 -1,47 -1,2 -1-29 -1,16 -1,6 -1-21 -1,13 -1-2 -1-7 -1,9 -1-20 -1,17 -1-6 -1,3 -1-4 -1-19 -1,4 -1-8 -1,8 -1,7 -1,22 -1-71 -1,51 -1,11 -1-16 -1,11 -1-17 -1,34 -1-13 -1-3 -1-14 -1,14 -1,8 -1-6 -1-3 -1-1 -1,9 -1-30 -1,23 -1,13 -1-14 -1-22 -1,18 -1,13 -1-6 -1-35 -1-18 -1,38 -1,20 -1-27 -1,23 -1-1 -1-27 -1,28 -1-6 -1,2 -1,0 -1,9 -1-4 -1-13 -1,31 -1-27 -1-9 -1,27 -1,3 -1-38 -1,1 -1,13 -1-4 -1,14 -1,16 -1-28 -1,20 -1-18 -1-4 -1,3 -1-3 -1,34 -1-17 -1-2 -1-27 -1,29 -1-1 -1,19 -1-26 -1-3 -1,0 -1,20 -1-26 -1,27 -1-9 -1-17 -1-16 -1,15 -1,33 -1-29 -1,34 -1-27 -1,11 -1-30 -1,19 -1-5 -1,18 -1,4 -1-16 -1,5 -1-3 -1,0 -1-5 -1-9 -1-6 -1,27 -1-34 -1,18 -1,47 -1-38 -1-12 -1,0 -1-9 -1,5 -1,1 -1-2 -1,14 -1-8 -1,11 -1-29 -1,16 -1,20 -1-11 -1,2 -1,9 -1-28 -1,26 -1-11 -1-10 -1,19 -1-19 -1,34 -1-3 -1-15 -1,21 -1-10 -1-15 -1-11 -1,22 -1-12 -1,2 -1-2 -1-11 -1,6 -1-3 -1,21 -1-4 -1,4 -1,2 -1-10 -1,2 -1,5 -1,11 -1-22 -1,29 -1-19 -1-9 -1,7 -1,14 -1-21 -1,19 -1-13 -1-9 -1,8 -1,18 -1-16 -1-5 -1,1 -1,24 -1-35 -1,2 -1-6 -1,3 -1,38 -1-24 -1,17 -1,1 -1-45 -1,32 -1-6 -1-20 -1,22 -1,1 -1-1 -1-9 -1,12 -1-5 -1-18 -1-11 -1,27 -1,10 -1-23 -1,34 -1,3 -1-37 -1,20 -1-26 -1,45 -1-27 -1,18 -1-22 -1,9 -1-31 -1,36 -1,5 -1-8 -1-18 -1,29 -1-13 -1-13 -1,11 -1,2 -1-16 -1,41 -1-23 -1,1 -1-1 -1-32 -1,22 -1,30 -1-80 -1,65 -1-22 -1,8 -1-50 -1,49 -1-20 -1,22 -1,10 -1-2 -1-1 -1-6 -1,0 -1,13 -1-15 -1,18 -1-9 -1,12 -1-28 -1,8 -1-5 -1-15 -1,42 -1-36 -1,17 -1,16 -1-5 -1-16 -1-4Z" vector-effect="non-scaling-stroke"/>
<path transform="matrix(0.63192 -0.16615 0 -0.77187 64.098 133.164)" d="M-2,0.2l1,4 1,16 1,5 1-16 1-17 1,36 1-42 1,15 1,5 1-8 1,28 1-12 1,9 1-18 1,15 1-13 1,0 1,6 1,1 1,2 1-10 1-22 1,20 1-49 1,50 1-8 1,22 1-65 1,80 1-30 1-22 1,32 1,1 1-1 1,23 1-41 1,16 1-2 1-11 1,13 1,13 1-29 1,18 1,8 1-5 1-36 1,31 1-9 1,22 1-18 1,27 1-45 1,26 1-20 1,37 1-3 1-34 1,23 1-10 1-27 1,11 1,18 1,5 1-12 1,9 1,1 1-1 1-22 1,20 1,6 1-32 1,45 1-1 1-17 1,24 1-38 1-3 1,6 1-2 1,35 1-24 1-1 1,5 1,16 1-18 1-8 1,9 1,13 1-19 1,21 1-14 1-7 1,9 1,19 1-29 1,22 1-11 1-5 1-2 1,10 1-2 1-4 1,4 1-21 1,3 1-6 1,11 1,2 1-2 1,12 1-22 1,11 1,15 1,10 1-21 1,15 1,3 1-34 1,19 1-19 1,10 1,11 1-26 1,28 1-9 1-2 1,11 1-20 1-16 1,29 1-11 1,8 1-14 1,2 1-1 1-5 1,9 1,0 1,12 1,38 1-47 1-18 1,34 1-27 1,6 1,9 1,5 1,0 1,3 1-5 1,16 1-4 1-18 1,5 1-19 1,30 1-11 1,27 1-34 1,29 1-33 1-15 1,16 1,17 1,9 1-27 1,26 1-20 1,0 1,3 1,26 1-19 1,1 1-29 1,27 1,2 1,17 1-34 1,3 1-3 1,4 1,18 1-20 1,28 1-16 1-14 1,4 1-13 1-1 1,38 1-3 1-27 1,9 1,27 1-31 1,13 1,4 1-9 1,0 1-2 1,6 1-28 1,27 1,1 1-23 1,27 1-20 1-38 1,18 1,35 1,6 1-13 1-18 1,22 1,14 1-13 1-23 1,30 1-9 1,1 1,3 1,6 1-8 1-14 1,14 1,3 1,13 1-34 1,17 1-11 1,16 1-11 1-51 1,71 1-22 1-7 1-8 1,8 1-4 1,19 1,4 1-3 1,6 1-17 1,20 1-9 1,7 1,2 1-13 1,21 1-6 1-16 1,29 1-2 1-47 1-16 1,33 1,15 1,6 1-3L260,-5l-1,10 -1-30 -1,31 -1-23 -1,26 -1-1 -1,2 -1-15 -1,17 -1,1 -1,21 -1-74 -1,44 -1-9 -1-3 -1,12 -1-4 -1-1 -1,25 -1-24 -1,16 -1-19 -1,15 -1,5 -1,0 -1-27 -1,19 -1-2 -1,6 -1,16 -1-4 -1-3 -1-9 -1-34 -1,31 -1,11 -1-16 -1,22 -1-49 -1,18 -1,19 -1-17 -1,24 -1-22 -1,16 -1-25 -1,1 -1,27 -1-16 -1,17 -1-16 -1,15 -1-32 -1,24 -1-17 -1-1 -1,2 -1,23 -1-15 -1,16 -1-25 -1,15 -1-7 -1,2 -1,2 -1,21 -1-34 -1,16 -1,1 -1-4 -1,13 -1-16 -1-4 -1,24 -1-14 -1,21 -1-16 -1-17 -1,31 -1-1 -1-31 -1,30 -1,1 -1-8 -1-36 -1,5 -1,17 -1,7 -1-11 -1,16 -1,0 -1-4 -1,8 -1-9 -1-5 -1-18 -1,21 -1,3 -1,4 -1,13 -1-21 -1,11 -1-39 -1,33 -1-11 -1,8 -1,17 -1-18 -1,3 -1,4 -1-35 -1,31 -1,15 -1-9 -1-8 -1-1 -1-7 -1,5 -1-31 -1,18 -1,22 -1-5 -1-26 -1,35 -1-18 -1,28 -1-8 -1-20 -1,26 -1-17 -1,8 -1-9 -1,19 -1-22 -1,1 -1,6 -1-11 -1-43 -1,37 -1,14 -1-24 -1,23 -1,8 -1-4 -1-6 -1,11 -1-18 -1-30 -1,51 -1-67 -1,56 -1,9 -1-22 -1-4 -1,10 -1-2 -1,20 -1-13 -1-1 -1,0 -1-9 -1-20 -1,15 -1,22 -1-13 -1,3 -1-24 -1,16 -1-23 -1,29 -1-7 -1-28 -1,47 -1-21 -1,17 -1-16 -1-4 -1,7 -1,19 -1-8 -1,9 -1-19 -1,15 -1-14 -1-1 -1,9 -1,22 -1-13 -1-13 -1,9 -1-14 -1,17 -1-19 -1,21 -1-7 -1-13 -1,7 -1,1 -1,10 -1,1 -1,8 -1-48 -1,38 -1,0 -1-3 -1-12 -1,12 -1-10 -1-57 -1,37 -1,19 -1,1 -1-6 -1,44 -1-38 -1,5 -1-15 -1,27 -1,20 -1-30 -1-33 -1,49 -1-20 -1-6 -1,11 -1,17 -1-30 -1,12 -1-11 -1-11 -1,7 -1,2 -1,5 -1,10 -1,9 -1-13 -1-19 -1,20 -1,32 -1-41 -1,12 -1-8 -1-7 -1,2 -1,11 -1,14 -1-23 -1,15 -1-49 -1,33 -1,6 -1-12 -1,33 -1-2 -1-18 -1-22 -1-4 -1,39 -1-22 -1,20Z" vector-effect="non-scaling-stroke"/>
<path transform="matrix(0.63192 -0.16615 0 -0.77187 65.360 133.730)" d="M-2,20.2l1-20 1,22 1-39 1,4 1,22 1,18 1,2 1-33 1,12 1-6 1-33 1,49 1-15 1,23 1-14 1-11 1-2 1,7 1,8 1-12 1,41 1-32 1-20 1,19 1,13 1-9 1-10 1-5 1-2 1-7 1,11 1,11 1-12 1,30 1-17 1-11 1,6 1,20 1-49 1,33 1,30 1-20 1-27 1,15 1-5 1,38 1-44 1,6 1-1 1-19 1-37 1,57 1,10 1-12 1,12 1,3 1,0 1-38 1,48 1-8 1-1 1-10 1-1 1-7 1,13 1,7 1-21 1,19 1-17 1,14 1-9 1,13 1,13 1-22 1-9 1,1 1,14 1-15 1,19 1-9 1,8 1-19 1-7 1,4 1,16 1-17 1,21 1-47 1,28 1,7 1-29 1,23 1-16 1,24 1-3 1,13 1-22 1-15 1,20 1,9 1,0 1,1 1,13 1-20 1,2 1-10 1,4 1,22 1-9 1-56 1,67 1-51 1,30 1,18 1-11 1,6 1,4 1-8 1-23 1,24 1-14 1-37 1,43 1,11 1-6 1-1 1,22 1-19 1,9 1-8 1,17 1-26 1,20 1,8 1-28 1,18 1-35 1,26 1,5 1-22 1-18 1,31 1-5 1,7 1,1 1,8 1,9 1-15 1-31 1,35 1-4 1-3 1,18 1-17 1-8 1,11 1-33 1,39 1-11 1,21 1-13 1-4 1-3 1-21 1,18 1,5 1,9 1-8 1,4 1,0 1-16 1,11 1-7 1-17 1-5 1,36 1,8 1-1 1-30 1,31 1,1 1-31 1,17 1,16 1-21 1,14 1-24 1,4 1,16 1-13 1,4 1-1 1-16 1,34 1-21 1-2 1-2 1,7 1-15 1,25 1-16 1,15 1-23 1-2 1,1 1,17 1-24 1,32 1-15 1,16 1-17 1,16 1-27 1-1 1,25 1-16 1,22 1-24 1,17 1-19 1-18 1,49 1-22 1,16 1-11 1-31 1,34 1,9 1,3 1,4 1-16 1-6 1,2 1-19 1,27 1,0 1-5 1-15 1,19 1-16 1,24 1-25 1,1 1,4 1-12 1,3 1,9 1-44 1,74 1-21 1-1 1-17 1,15 1-2 1,1 1-26 1,23 1-31 1,30 1-10L260,3l-1,12 -1-7 -1-12 -1,27 -1-24 -1-1 -1,17 -1-16 -1,11 -1-7 -1,10 -1-3 -1,0 -1-18 -1,11 -1,20 -1-15 -1-3 -1-5 -1-18 -1,36 -1-19 -1,18 -1-2 -1-36 -1,27 -1-6 -1-12 -1,7 -1,24 -1-32 -1,4 -1-5 -1-7 -1,29 -1,6 -1,2 -1-18 -1,22 -1-20 -1-2 -1,18 -1-13 -1,11 -1-13 -1,0 -1,14 -1-28 -1,6 -1,9 -1,5 -1,9 -1,15 -1-28 -1,11 -1,3 -1-16 -1,30 -1-46 -1,20 -1,12 -1,1 -1,0 -1-11 -1,9 -1-7 -1-18 -1,6 -1,18 -1-12 -1,22 -1,3 -1-11 -1-13 -1,2 -1-5 -1,9 -1,1 -1-7 -1,11 -1,22 -1-33 -1-10 -1-6 -1,19 -1,13 -1-15 -1,18 -1-14 -1-20 -1,15 -1,20 -1-12 -1-27 -1-17 -1,31 -1-8 -1,23 -1-5 -1,17 -1-20 -1-2 -1,14 -1-4 -1-19 -1,5 -1,1 -1,10 -1,18 -1-16 -1-3 -1-17 -1,11 -1,16 -1-24 -1,1 -1-31 -1,64 -1-20 -1-1 -1,2 -1-23 -1,7 -1,6 -1,14 -1,6 -1-53 -1,44 -1-9 -1,5 -1,7 -1-10 -1,13 -1,13 -1-21 -1-18 -1-16 -1,39 -1,9 -1-19 -1-9 -1,17 -1,11 -1-52 -1,44 -1-12 -1,2 -1,10 -1-12 -1-2 -1,11 -1-4 -1-4 -1,8 -1-31 -1,8 -1,19 -1,14 -1-50 -1,27 -1,24 -1,7 -1-33 -1,5 -1-14 -1,43 -1-27 -1,19 -1-31 -1,9 -1,11 -1,5 -1-7 -1-16 -1,1 -1,23 -1,8 -1-9 -1-17 -1,18 -1-2 -1-14 -1-7 -1-1 -1,21 -1-9 -1-18 -1,33 -1,5 -1-28 -1,23 -1-47 -1,43 -1-12 -1,4 -1-11 -1,0 -1,19 -1-14 -1,21 -1,0 -1-4 -1-10 -1-25 -1,2 -1,26 -1-33 -1,42 -1-18 -1,24 -1-45 -1,21 -1,2 -1,2 -1,1 -1-2 -1,16 -1-28 -1-19 -1,12 -1,31 -1-31 -1,8 -1,2 -1,20 -1-6 -1,11 -1-27 -1-2 -1,20 -1-5 -1-5 -1-25 -1,9 -1,10 -1,3 -1,7 -1-7 -1-6 -1,12 -1-12 -1,26 -1,1 -1-15 -1-16 -1-16 -1,42 -1-8 -1-4 -1,8 -1,10 -1-16 -1-11 -1-7 -1,19 -1,9 -1,6 -1-23 -1-24 -1,41Z" vector-effect="non-scaling-stroke"/>
<path transform="matrix(0.63192 -0.16615 0 -0.77187 66.622 134.296)" d="M-2,19.2l1-41 1,24 1,23 1-6 1-9 1-19 1,7 1,11 1,16 1-10 1-8 1,4 1,8 1-42 1,16 1,16 1,15 1-1 1-26 1,12 1-12 1,6 1,7 1-7 1-3 1-10 1-9 1,25 1,5 1,5 1-20 1,2 1,27 1-11 1,6 1-20 1-2 1-8 1,31 1-31 1-12 1,19 1,28 1-16 1,2 1-1 1-2 1-2 1-21 1,45 1-24 1,18 1-42 1,33 1-26 1-2 1,25 1,10 1,4 1,0 1-21 1,14 1-19 1,0 1,11 1-4 1,12 1-43 1,47 1-23 1,28 1-5 1-33 1,18 1,9 1-21 1,1 1,7 1,14 1,2 1-18 1,17 1,9 1-8 1-23 1-1 1,16 1,7 1-5 1-11 1-9 1,31 1-19 1,27 1-43 1,14 1-5 1,33 1-7 1-24 1-27 1,50 1-14 1-19 1-8 1,31 1-8 1,4 1,4 1-11 1,2 1,12 1-10 1-2 1,12 1-44 1,52 1-11 1-17 1,9 1,19 1-9 1-39 1,16 1,18 1,21 1-13 1-13 1,10 1-7 1-5 1,9 1-44 1,53 1-6 1-14 1-6 1-7 1,23 1-2 1,1 1,20 1-64 1,31 1-1 1,24 1-16 1-11 1,17 1,3 1,16 1-18 1-10 1-1 1-5 1,19 1,4 1-14 1,2 1,20 1-17 1,5 1-23 1,8 1-31 1,17 1,27 1,12 1-20 1-15 1,20 1,14 1-18 1,15 1-13 1-19 1,6 1,10 1,33 1-22 1-11 1,7 1-1 1-9 1,5 1-2 1,13 1,11 1-3 1-22 1,12 1-18 1-6 1,18 1,7 1-9 1,11 1,0 1-1 1-12 1-20 1,46 1-30 1,16 1-3 1-11 1,28 1-15 1-9 1-5 1-9 1-6 1,28 1-14 1,0 1,13 1-11 1,13 1-18 1,2 1,20 1-22 1,18 1-2 1-6 1-29 1,7 1,5 1-4 1,32 1-24 1-7 1,12 1,6 1-27 1,36 1,2 1-18 1,19 1-36 1,18 1,5 1,3 1,15 1-20 1-11 1,18 1,0 1,3 1-10 1,7 1-11 1,16 1-17 1,1 1,24 1-27 1,12 1,7 1-12L260,15l-1-20 -1,25 -1-24 -1,8 -1-4 -1-17 -1,15 -1,21 -1,10 -1-8 -1,1 -1-17 -1-22 -1,7 -1,16 -1,11 -1-4 -1-4 -1,20 -1-16 -1-1 -1,17 -1-17 -1-6 -1,20 -1-16 -1,0 -1-12 -1,5 -1,8 -1,9 -1,2 -1-16 -1,19 -1-28 -1,24 -1-10 -1-21 -1,33 -1-11 -1-12 -1,14 -1,6 -1-22 -1-19 -1,26 -1,1 -1-42 -1,62 -1-15 -1,14 -1-32 -1-25 -1,40 -1,13 -1-6 -1-18 -1,16 -1-33 -1,21 -1,6 -1,14 -1-3 -1-48 -1,27 -1-11 -1-4 -1-32 -1,74 -1-34 -1,11 -1,32 -1-44 -1,14 -1,36 -1-23 -1-35 -1,38 -1-49 -1,44 -1-53 -1,52 -1-19 -1,12 -1,0 -1,16 -1-24 -1,11 -1,17 -1-9 -1,2 -1-29 -1-1 -1,30 -1-30 -1,17 -1-3 -1-2 -1,2 -1-8 -1,3 -1,14 -1,10 -1-20 -1,29 -1-8 -1-32 -1,8 -1,12 -1-7 -1-2 -1,8 -1-20 -1,18 -1,5 -1-8 -1,8 -1-6 -1,9 -1-20 -1-2 -1,18 -1-28 -1,17 -1-11 -1,26 -1-8 -1-6 -1,2 -1,9 -1-11 -1,28 -1-32 -1,9 -1,1 -1,5 -1-57 -1,65 -1-23 -1,13 -1-20 -1,20 -1-24 -1,8 -1,7 -1-3 -1,33 -1-24 -1,13 -1-30 -1,29 -1-21 -1,10 -1,20 -1-40 -1,19 -1-10 -1-3 -1,13 -1,0 -1,11 -1-12 -1,4 -1,11 -1-30 -1-3 -1-6 -1,7 -1,24 -1,19 -1-13 -1-22 -1,12 -1,4 -1-50 -1,55 -1-2 -1-37 -1,33 -1-40 -1,38 -1-2 -1-9 -1-8 -1,35 -1-11 -1-3 -1,3 -1,23 -1-12 -1-23 -1-5 -1-12 -1-33 -1,60 -1-10 -1,1 -1,9 -1-5 -1,26 -1-27 -1-21 -1,17 -1,16 -1-16 -1,3 -1,13 -1-32 -1,18 -1-12 -1,1 -1-14 -1,25 -1-8 -1,39 -1-9 -1-27 -1-10 -1,36 -1-10 -1-1 -1-9 -1-9 -1,7 -1,25 -1-35 -1,18 -1,0 -1,12 -1-24 -1-1 -1,12 -1-8 -1,23 -1-14 -1,30 -1-22 -1-14 -1,1 -1-12 -1,2 -1,22 -1-31 -1,26 -1,9 -1-11 -1,3 -1-21 -1,10 -1-15 -1,1 -1,27 -1-6 -1,13 -1-26 -1,14 -1,3 -1-8 -1,13 -1-12Z" vector-effect="non-scaling-stroke"/>
<path transform="matrix(0.63192 -0.16615 0 -0.77187 67.884 134.862)" d="M-2,10.2l1,12 1-13 1,8 1-3 1-14 1,26 1-13 1,6 1-27 1-1 1,15 1-10 1,21 1-3 1,11 1-9 1-26 1,31 1-22 1-2 1,12 1-1 1,14 1,22 1-30 1,14 1-23 1,8 1-12 1,1 1,24 1-12 1,0 1-18 1,35 1-25 1-7 1,9 1,9 1,1 1,10 1-36 1,10 1,27 1,9 1-39 1,8 1-25 1,14 1-1 1,12 1-18 1,32 1-13 1-3 1,16 1-16 1-17 1,21 1,27 1-26 1,5 1-9 1-1 1,10 1-60 1,33 1,12 1,5 1,23 1,12 1-23 1-3 1,3 1,11 1-35 1,8 1,9 1,2 1-38 1,40 1-33 1,37 1,2 1-55 1,50 1-4 1-12 1,22 1,13 1-19 1-24 1-7 1,6 1,3 1,30 1-11 1-4 1,12 1-11 1,0 1-13 1,3 1,10 1-19 1,40 1-20 1-10 1,21 1-29 1,30 1-13 1,24 1-33 1,3 1-7 1-8 1,24 1-20 1,20 1-13 1,23 1-65 1,57 1-5 1-1 1-9 1,32 1-28 1,11 1-9 1-2 1,6 1,8 1-26 1,11 1-17 1,28 1-18 1,2 1,20 1-9 1,6 1-8 1,8 1-5 1-18 1,20 1-8 1,2 1,7 1-12 1-8 1,32 1,8 1-29 1,20 1-10 1-14 1-3 1,8 1-2 1,2 1,3 1-17 1,30 1-30 1,1 1,29 1-2 1,9 1-17 1-11 1,24 1-16 1,0 1-12 1,19 1-52 1,53 1-44 1,49 1-38 1,35 1,23 1-36 1-14 1,44 1-32 1-11 1,34 1-74 1,32 1,4 1,11 1-27 1,48 1,3 1-14 1-6 1-21 1,33 1-16 1,18 1,6 1-13 1-40 1,25 1,32 1-14 1,15 1-62 1,42 1-1 1-26 1,19 1,22 1-6 1-14 1,12 1,11 1-33 1,21 1,10 1-24 1,28 1-19 1,16 1-2 1-9 1-8 1-5 1,12 1,0 1,16 1-20 1,6 1,17 1-17 1,1 1,16 1-20 1,4 1,4 1-11 1-16 1-7 1,22 1,17 1-1 1,8 1-10 1-21 1-15 1,17 1,4 1-8 1,24 1-25 1,20L260,16l-1-11 -1-18 -1,20 -1,3 -1,11 -1-30 -1,2 -1-18 -1,23 -1,9 -1-34 -1,8 -1,16 -1,31 -1-40 -1,7 -1,25 -1-4 -1-9 -1,2 -1-6 -1,8 -1-16 -1,8 -1,20 -1-25 -1,0 -1,20 -1-5 -1-4 -1-2 -1,7 -1-6 -1-16 -1,12 -1-13 -1-6 -1,56 -1-24 -1,7 -1-5 -1-28 -1,26 -1,1 -1,18 -1-35 -1-11 -1-18 -1,36 -1-4 -1-1 -1,11 -1-16 -1,22 -1-37 -1,24 -1-17 -1-7 -1,41 -1-25 -1,10 -1,3 -1,17 -1-14 -1-14 -1,17 -1-23 -1-9 -1,19 -1,4 -1-27 -1-2 -1,31 -1-6 -1,12 -1-29 -1-2 -1,25 -1,12 -1,12 -1-36 -1,12 -1-16 -1,18 -1-13 -1,13 -1-2 -1-14 -1,12 -1,13 -1-3 -1,1 -1-13 -1-5 -1,16 -1,3 -1-2 -1-21 -1,1 -1,18 -1,3 -1-27 -1,19 -1-5 -1,19 -1-50 -1,54 -1-59 -1,59 -1-5 -1-9 -1-18 -1,22 -1-20 -1,13 -1-10 -1-5 -1,0 -1-7 -1-6 -1,1 -1,26 -1-16 -1,18 -1-15 -1,29 -1-50 -1,13 -1,20 -1-4 -1-21 -1,35 -1-40 -1-13 -1,43 -1-21 -1-24 -1,43 -1-24 -1,15 -1-20 -1,25 -1,0 -1-1 -1,24 -1-24 -1,1 -1-10 -1,1 -1,17 -1,1 -1-41 -1,38 -1-16 -1,44 -1-22 -1-2 -1,24 -1-50 -1,16 -1,20 -1-12 -1-16 -1,19 -1,3 -1-19 -1,6 -1-20 -1,17 -1-2 -1,17 -1-9 -1-1 -1,1 -1-13 -1,21 -1-13 -1,18 -1-24 -1,43 -1-53 -1,36 -1-38 -1,36 -1-4 -1-16 -1,2 -1-13 -1,47 -1-31 -1,0 -1,16 -1-8 -1-2 -1-3 -1-10 -1,10 -1,5 -1-36 -1,41 -1-5 -1-38 -1,28 -1,20 -1-14 -1-4 -1-8 -1-4 -1,10 -1-26 -1,18 -1,15 -1,3 -1-4 -1-8 -1-1 -1,33 -1-67 -1,34 -1-5 -1,11 -1,5 -1-7 -1-8 -1-11 -1,26 -1-18 -1,16 -1-10 -1-24 -1,48 -1-9 -1-23 -1,13 -1,27 -1-61 -1,14 -1,15 -1-5 -1,1 -1,10 -1-27 -1,24 -1,26 -1-29 -1,5 -1-15 -1,39 -1-11 -1-6 -1-1 -1,1 -1-2 -1,12 -1-34 -1,12 -1,6 -1,14 -1-58 -1,45Z" vector-effect="non-scaling-stroke"/>
<path transform="matrix(0.63192 -0.16615 0 -0.77187 69.146 135.428)" d="M-2,9.2l1-45 1,58 1-14 1-6 1-12 1,34 1-12 1,2 1-1 1,1 1,6 1,11 1-39 1,15 1-5 1,29 1-26 1-24 1,27 1-10 1-1 1,5 1-15 1-14 1,61 1-27 1-13 1,23 1,9 1-48 1,24 1,10 1-16 1,18 1-26 1,11 1,8 1,7 1-5 1-11 1,5 1-34 1,67 1-33 1,1 1,8 1,4 1-3 1-15 1-18 1,26 1-10 1,4 1,8 1,4 1,14 1-20 1-28 1,38 1,5 1-41 1,36 1-5 1-10 1,10 1,3 1,2 1,8 1-16 1,0 1,31 1-47 1,13 1-2 1,16 1,4 1-36 1,38 1-36 1,53 1-43 1,24 1-18 1,13 1-21 1,13 1-1 1,1 1,9 1-17 1,2 1-17 1,20 1-6 1,19 1-3 1-19 1,16 1,12 1-20 1-16 1,50 1-24 1,2 1,22 1-44 1,16 1-38 1,41 1-1 1-17 1-1 1,10 1-1 1,24 1-24 1,1 1,0 1-25 1,20 1-15 1,24 1-43 1,24 1,21 1-43 1,13 1,40 1-35 1,21 1,4 1-20 1-13 1,50 1-29 1,15 1-18 1,16 1-26 1-1 1,6 1,7 1,0 1,5 1,10 1-13 1,20 1-22 1,18 1,9 1,5 1-59 1,59 1-54 1,50 1-19 1,5 1-19 1,27 1-3 1-18 1-1 1,21 1,2 1-3 1-16 1,5 1,13 1-1 1,3 1-13 1-12 1,14 1,2 1-13 1,13 1-18 1,16 1-12 1,36 1-12 1-12 1-25 1,2 1,29 1-12 1,6 1-31 1,2 1,27 1-4 1-19 1,9 1,23 1-17 1,14 1,14 1-17 1-3 1-10 1,25 1-41 1,7 1,17 1-24 1,37 1-22 1,16 1-11 1,1 1,4 1-36 1,18 1,11 1,35 1-18 1-1 1-26 1,28 1,5 1-7 1,24 1-56 1,6 1,13 1-12 1,16 1,6 1-7 1,2 1,4 1,5 1-20 1,0 1,25 1-20 1-8 1,16 1-8 1,6 1-2 1,9 1,4 1-25 1-7 1,40 1-31 1-16 1-8 1,34 1-9 1-23 1,18 1-2 1,30 1-11 1-3 1-20 1,18 1,11L260,26l-1-16 -1-18 -1-3 -1,29 -1-1 -1-23 -1-17 -1,50 -1-19 -1-10 -1,17 -1,8 -1-32 -1,6 -1,18 -1,9 -1-11 -1,12 -1-7 -1,1 -1,16 -1-10 -1-21 -1,14 -1-3 -1-60 -1,70 -1-16 -1,4 -1-35 -1,40 -1-16 -1,24 -1-29 -1,15 -1-3 -1,0 -1-15 -1,28 -1,8 -1-34 -1-8 -1-2 -1,29 -1-12 -1-13 -1,32 -1-42 -1,45 -1,2 -1-7 -1-19 -1,0 -1,5 -1,11 -1-12 -1,6 -1,13 -1-7 -1-2 -1-10 -1-12 -1-19 -1,23 -1,21 -1-14 -1,6 -1-13 -1-12 -1,36 -1,7 -1-23 -1-5 -1,20 -1-32 -1,26 -1-22 -1,28 -1-62 -1,52 -1-1 -1,7 -1,14 -1-42 -1,20 -1-3 -1-1 -1-12 -1,4 -1,19 -1-16 -1,7 -1,9 -1-24 -1,15 -1,17 -1-18 -1-3 -1,17 -1-11 -1,1 -1,2 -1-50 -1,68 -1-26 -1,18 -1,2 -1-28 -1,35 -1-27 -1,0 -1-1 -1,10 -1,5 -1-25 -1,28 -1-23 -1,14 -1-11 -1-5 -1,9 -1-6 -1,4 -1,25 -1-17 -1-36 -1,6 -1,23 -1,22 -1-36 -1,19 -1,15 -1-9 -1-38 -1,12 -1-3 -1,17 -1-2 -1-2 -1,23 -1-57 -1,40 -1,6 -1-8 -1,11 -1,3 -1,2 -1-7 -1-14 -1,33 -1-49 -1,23 -1-10 -1,15 -1-40 -1,54 -1,4 -1-2 -1-44 -1,31 -1,13 -1-43 -1,0 -1,39 -1-23 -1,4 -1-15 -1,23 -1-4 -1,4 -1-28 -1,15 -1-9 -1,15 -1,1 -1,6 -1,20 -1-31 -1,14 -1,1 -1,7 -1-6 -1-6 -1-6 -1,16 -1-9 -1,15 -1-39 -1,40 -1-21 -1,18 -1,10 -1-75 -1,45 -1,10 -1-5 -1-3 -1,3 -1,7 -1,6 -1-21 -1-18 -1,25 -1,0 -1,19 -1-26 -1-3 -1,12 -1-22 -1,11 -1-1 -1,14 -1-12 -1,10 -1,1 -1-10 -1-53 -1,71 -1-6 -1,9 -1,2 -1-41 -1,21 -1,4 -1,15 -1-27 -1-1 -1,9 -1,22 -1-31 -1,35 -1-26 -1,1 -1,20 -1-25 -1,31 -1-46 -1,28 -1-14 -1,25 -1-2 -1-12 -1-38 -1,11 -1,36 -1-10 -1-52 -1,66 -1-23 -1,46 -1-38 -1,10 -1-12 -1,19 -1-71 -1,69 -1-15 -1-6 -1,15 -1,9Z" vector-effect="non-scaling-stroke"/>
<path transform="matrix(0.63192 -0.16615 0 -0.77187 70.408 135.994)" d="M-2,26.2l1-9 1-15 1,6 1,15 1-69 1,71 1-19 1,12 1-10 1,38 1-46 1,23 1-66 1,52 1,10 1-36 1-11 1,38 1,12 1,2 1-25 1,14 1-28 1,46 1-31 1,25 1-20 1-1 1,26 1-35 1,31 1-22 1-9 1,1 1,27 1-15 1-4 1-21 1,41 1-2 1-9 1,6 1-71 1,53 1,10 1-1 1-10 1,12 1-14 1,1 1-11 1,22 1-12 1,3 1,26 1-19 1,0 1-25 1,18 1,21 1-6 1-7 1-3 1,3 1,5 1-10 1-45 1,75 1-10 1-18 1,21 1-40 1,39 1-15 1,9 1-16 1,6 1,6 1,6 1-7 1-1 1-14 1,31 1-20 1-6 1-1 1-15 1,9 1-15 1,28 1-4 1,4 1-23 1,15 1-4 1,23 1-39 1,0 1,43 1-13 1-31 1,44 1,2 1-4 1-54 1,40 1-15 1,10 1-23 1,49 1-33 1,14 1,7 1-2 1-3 1-11 1,8 1-6 1-40 1,57 1-23 1,2 1,2 1-17 1,3 1-12 1,38 1,9 1-15 1-19 1,36 1-22 1-23 1-6 1,36 1,17 1-25 1-4 1,6 1-9 1,5 1,11 1-14 1,23 1-28 1,25 1-5 1-10 1,1 1,0 1,27 1-35 1,28 1-2 1-18 1,26 1-68 1,50 1-2 1-1 1,11 1-17 1,3 1,18 1-17 1-15 1,24 1-9 1-7 1,16 1-19 1-4 1,12 1,1 1,3 1-20 1,42 1-14 1-7 1,1 1-52 1,62 1-28 1,22 1-26 1,32 1-20 1,5 1,23 1-7 1-36 1,12 1,13 1-6 1,14 1-21 1-23 1,19 1,12 1,10 1,2 1,7 1-13 1-6 1,12 1-11 1-5 1,0 1,19 1,7 1-2 1-45 1,42 1-32 1,13 1,12 1-29 1,2 1,8 1,34 1-8 1-28 1,15 1,0 1,3 1-15 1,29 1-24 1,16 1-40 1,35 1-4 1,16 1-70 1,60 1,3 1-14 1,21 1,10 1-16 1-1 1,7 1-12 1,11 1-9 1-18 1-6 1,32 1-8 1-17 1,10 1,19 1-50 1,17 1,23 1,1 1-29 1,3 1,18 1,16L260,-21l-1,14 -1,34 -1-18 -1-8 -1,9 -1,26 -1-37 -1,8 -1-11 -1,12 -1,21 -1-34 -1,27 -1-21 -1,5 -1-20 -1,38 -1,2 -1-42 -1,10 -1-1 -1,4 -1,10 -1-43 -1,24 -1,40 -1-21 -1-16 -1,43 -1-41 -1,26 -1-13 -1,24 -1-55 -1,55 -1-22 -1-30 -1,23 -1-8 -1,9 -1-10 -1,14 -1-4 -1,21 -1-25 -1,14 -1-11 -1-1 -1,15 -1-9 -1,19 -1-14 -1-8 -1,2 -1-12 -1,4 -1,27 -1-16 -1-21 -1,31 -1-17 -1,0 -1,5 -1-2 -1,1 -1-22 -1,21 -1,10 -1,4 -1,0 -1-12 -1-6 -1-8 -1,15 -1-17 -1,11 -1,18 -1-28 -1,26 -1-23 -1,15 -1-2 -1,4 -1-9 -1-6 -1,17 -1-20 -1,18 -1-3 -1-8 -1,28 -1-17 -1-60 -1,53 -1-5 -1,2 -1-10 -1,21 -1,8 -1,6 -1-32 -1,5 -1,12 -1,8 -1,12 -1-8 -1,12 -1-50 -1,18 -1,29 -1-6 -1-13 -1-5 -1,16 -1-7 -1,7 -1-1 -1-2 -1,1 -1-5 -1-21 -1,16 -1-6 -1-6 -1,9 -1,7 -1-10 -1,10 -1,19 -1-54 -1,37 -1-51 -1,44 -1,0 -1,0 -1-19 -1,33 -1,3 -1-14 -1-21 -1,34 -1-9 -1-3 -1-4 -1,3 -1-3 -1,9 -1-3 -1,11 -1-40 -1,43 -1-48 -1,19 -1,0 -1,9 -1-9 -1-1 -1,3 -1,13 -1-4 -1-8 -1,3 -1,0 -1,2 -1-2 -1-7 -1,11 -1-30 -1,20 -1-12 -1-20 -1,68 -1-60 -1,28 -1,1 -1-8 -1,24 -1-12 -1,7 -1-33 -1,21 -1,4 -1-12 -1,14 -1,19 -1-7 -1-30 -1,7 -1,10 -1-19 -1,12 -1,30 -1-20 -1,1 -1-22 -1,3 -1,18 -1-3 -1,6 -1,2 -1-7 -1-7 -1-1 -1-1 -1-23 -1,19 -1-7 -1-10 -1,32 -1-7 -1-9 -1-9 -1,8 -1-2 -1,9 -1,4 -1,8 -1-24 -1,32 -1-12 -1,18 -1-34 -1,16 -1-5 -1,21 -1-51 -1,42 -1,8 -1-30 -1-4 -1,0 -1,35 -1-22 -1,3 -1,15 -1-77 -1,44 -1,32 -1-5 -1,10 -1-11 -1-14 -1-14 -1,18 -1-6 -1,4 -1,21 -1,8 -1-44 -1,15 -1,2 -1-3 -1-12 -1,39 -1-5 -1-8 -1-17 -1-1 -1,4 -1,7Z" vector-effect="non-scaling-stroke"/>
<path transform="matrix(0.63192 -0.16615 0 -0.77187 71.670 136.560)" d="M-2,12.2l1-7 1-4 1,1 1,17 1,8 1,5 1-39 1,12 1,3 1-2 1-15 1,44 1-8 1-21 1-4 1,6 1-18 1,14 1,14 1,11 1-10 1,5 1-32 1-44 1,77 1-15 1-3 1,22 1-35 1,0 1,4 1,30 1-8 1-42 1,51 1-21 1,5 1-16 1,34 1-18 1,12 1-32 1,24 1-8 1-4 1-9 1,2 1-8 1,9 1,9 1,7 1-32 1,10 1,7 1-19 1,23 1,1 1,1 1,7 1,7 1-2 1-6 1,3 1-18 1-3 1,22 1-1 1,20 1-30 1-12 1,19 1-10 1-7 1,30 1,7 1-19 1-14 1,12 1-4 1-21 1,33 1-7 1,12 1-24 1,8 1-1 1-28 1,60 1-68 1,20 1,12 1-20 1,30 1-11 1,7 1,2 1-2 1,0 1-3 1,8 1,4 1-13 1-3 1,1 1,9 1-9 1,0 1-19 1,48 1-43 1,40 1-11 1,3 1-9 1,3 1-3 1,4 1,3 1,9 1-34 1,21 1,14 1-3 1-33 1,19 1,0 1,0 1-44 1,51 1-37 1,54 1-19 1-10 1,10 1-7 1-9 1,6 1,6 1-16 1,21 1,5 1-1 1,2 1,1 1-7 1,7 1-16 1,5 1,13 1,6 1-29 1-18 1,50 1-12 1,8 1-12 1-8 1-12 1-5 1,32 1-6 1-8 1-21 1,10 1-2 1,5 1-53 1,60 1,17 1-28 1,8 1,3 1-18 1,20 1-17 1,6 1,9 1-4 1,2 1-15 1,23 1-26 1,28 1-18 1-11 1,17 1-15 1,8 1,6 1,12 1,0 1-4 1-10 1-21 1,22 1-1 1,2 1-5 1,0 1,17 1-31 1,21 1,16 1-27 1-4 1,12 1-2 1,8 1,14 1-19 1,9 1-15 1,1 1,11 1-14 1,25 1-21 1,4 1-14 1,10 1-9 1,8 1-23 1,30 1,22 1-55 1,55 1-24 1,13 1-26 1,41 1-43 1,16 1,21 1-40 1-24 1,43 1-10 1-4 1,1 1-10 1,42 1-2 1-38 1,20 1-5 1,21 1-27 1,34 1-21 1-12 1,11 1-8 1,37 1-26 1-9 1,8 1,18 1-34 1-14L260,16l-1-3 -1,3 -1-17 -1-4 -1,24 -1-12 -1-8 -1-2 -1,5 -1-42 -1,57 -1-50 -1,36 -1,10 -1-15 -1,7 -1-29 -1,34 -1-4 -1-8 -1,25 -1-32 -1,4 -1,22 -1-7 -1,5 -1-14 -1-5 -1,36 -1-35 -1-8 -1,14 -1-4 -1,7 -1,17 -1-7 -1-4 -1-16 -1,6 -1-8 -1,5 -1,24 -1-34 -1,25 -1,0 -1,4 -1,4 -1-5 -1-14 -1,4 -1-7 -1,23 -1-30 -1-6 -1,20 -1-2 -1-19 -1,19 -1-53 -1,65 -1-24 -1,4 -1,6 -1,8 -1,31 -1-39 -1,17 -1,0 -1-10 -1-11 -1,11 -1,1 -1-12 -1,24 -1-15 -1-7 -1,23 -1-20 -1-14 -1-6 -1,22 -1,14 -1-10 -1,6 -1-16 -1,21 -1-27 -1,20 -1-6 -1,6 -1-8 -1-2 -1-1 -1,22 -1-34 -1,15 -1-22 -1,23 -1,4 -1,0 -1-34 -1,37 -1-14 -1,15 -1-1 -1-15 -1,3 -1-9 -1,28 -1-5 -1-11 -1,20 -1-31 -1,8 -1,29 -1-17 -1-19 -1-3 -1,21 -1,13 -1-11 -1,2 -1-8 -1-13 -1,14 -1-16 -1,6 -1,21 -1-1 -1-24 -1,12 -1,1 -1,4 -1-8 -1,9 -1-11 -1-24 -1,37 -1-42 -1,38 -1-4 -1,6 -1-18 -1,13 -1-10 -1,20 -1-38 -1,33 -1-21 -1-21 -1,20 -1,19 -1-5 -1-11 -1,2 -1,9 -1-1 -1-6 -1,10 -1-7 -1-15 -1,15 -1-1 -1-17 -1-16 -1,38 -1,12 -1,8 -1-16 -1,2 -1-8 -1-3 -1,6 -1-2 -1-2 -1,14 -1-9 -1,8 -1,11 -1-25 -1,2 -1-11 -1,35 -1-8 -1-8 -1-24 -1,11 -1,25 -1-20 -1-3 -1-4 -1-42 -1,17 -1,35 -1,6 -1-19 -1,13 -1-4 -1,6 -1,5 -1,9 -1-1 -1,4 -1-10 -1,5 -1-21 -1,5 -1-26 -1,26 -1,2 -1,19 -1-6 -1-2 -1-4 -1,6 -1-32 -1,7 -1,13 -1-16 -1-8 -1,27 -1-26 -1-10 -1,7 -1,35 -1,8 -1-5 -1-13 -1,11 -1-1 -1,5 -1-33 -1,0 -1,16 -1,19 -1-37 -1,14 -1-13 -1,47 -1-33 -1-10 -1,23 -1-12 -1,7 -1,2 -1,15 -1-14 -1-30 -1,23 -1-26 -1,25 -1-4 -1,26 -1-24 -1-12 -1,31 -1-7 -1,11 -1-3 -1-10Z" vector-effect="non-scaling-stroke"/>
<path transform="matrix(0.63192 -0.16615 0 -0.77187 72.932 137.126)" d="M-2,14.2l1,10 1,3 1-11 1,7 1-31 1,12 1,24 1-26 1,4 1-25 1,26 1-23 1,30 1,14 1-15 1-2 1-7 1,12 1-23 1,10 1,33 1-47 1,13 1-14 1,37 1-19 1-16 1,0 1,33 1-5 1,1 1-11 1,13 1,5 1-8 1-35 1-7 1,10 1,26 1-27 1,8 1,16 1-13 1-7 1,32 1-6 1,4 1,2 1,6 1-19 1-2 1-26 1,26 1-5 1,21 1-5 1,10 1-4 1,1 1-9 1-5 1-6 1,4 1-13 1,19 1-6 1-35 1-17 1,42 1,4 1,3 1,20 1-25 1-11 1,24 1,8 1,8 1-35 1,11 1-2 1,25 1-11 1-8 1,9 1-14 1,2 1,2 1-6 1,3 1,8 1-2 1,16 1-8 1-12 1-38 1,16 1,17 1,1 1-15 1,15 1,7 1-10 1,6 1,1 1-9 1-2 1,11 1,5 1-19 1-20 1,21 1,21 1-33 1,38 1-20 1,10 1-13 1,18 1-6 1,4 1-38 1,42 1-37 1,24 1,11 1-9 1,8 1-4 1-1 1-12 1,24 1,1 1-21 1-6 1,16 1-14 1,13 1,8 1-2 1,11 1-13 1-21 1,3 1,19 1,17 1-29 1-8 1,31 1-20 1,11 1,5 1-28 1,9 1-3 1,15 1,1 1-15 1,14 1-37 1,34 1,0 1-4 1-23 1,22 1-15 1,34 1-22 1,1 1,2 1,8 1-6 1,6 1-20 1,27 1-21 1,16 1-6 1,10 1-14 1-22 1,6 1,14 1,20 1-23 1,7 1,15 1-24 1,12 1-1 1-11 1,11 1,10 1,0 1-17 1,39 1-31 1-8 1-6 1-4 1,24 1-65 1,53 1-19 1,19 1,2 1-20 1,6 1,30 1-23 1,7 1-4 1,14 1,5 1-4 1-4 1,0 1-25 1,34 1-24 1-5 1,8 1-6 1,16 1,4 1,7 1-17 1-7 1,4 1-14 1,8 1,35 1-36 1,5 1,14 1-5 1,7 1-22 1-4 1,32 1-25 1,8 1,4 1-34 1,29 1-7 1,15 1-10 1-36 1,50 1-57 1,42 1-5 1,2 1,8 1,12 1-24 1,4 1,17 1-3 1,3L260,-6l-1-6 -1,35 -1-8 -1-17 -1,36 -1-29 -1,30 -1-32 -1,15 -1-12 -1,8 -1-19 -1-2 -1,18 -1,3 -1-11 -1,18 -1-55 -1,63 -1-8 -1-7 -1,9 -1-7 -1-5 -1-6 -1-22 -1,27 -1,7 -1,0 -1-26 -1,1 -1,19 -1-1 -1-12 -1,33 -1-26 -1,8 -1,1 -1-2 -1-22 -1,20 -1,7 -1-7 -1,6 -1-8 -1,21 -1-27 -1,5 -1,16 -1-25 -1,21 -1-14 -1,16 -1-14 -1-28 -1,21 -1-6 -1,35 -1-20 -1,3 -1,9 -1-15 -1,24 -1-12 -1-15 -1,30 -1-26 -1,7 -1-19 -1,0 -1,15 -1-5 -1-5 -1-6 -1,12 -1,16 -1-33 -1,21 -1,2 -1,8 -1-33 -1,48 -1-23 -1,18 -1-14 -1,12 -1-7 -1-8 -1-3 -1,13 -1-7 -1-30 -1,20 -1,23 -1-23 -1,10 -1,2 -1-2 -1,13 -1-31 -1,0 -1-30 -1,42 -1-3 -1,1 -1,13 -1-14 -1,5 -1,4 -1-15 -1,36 -1-24 -1,16 -1-55 -1,25 -1,3 -1-4 -1,6 -1,21 -1-5 -1-11 -1,8 -1-20 -1,8 -1,6 -1-3 -1,4 -1-10 -1-5 -1,25 -1-17 -1,5 -1-4 -1-12 -1,19 -1-29 -1,29 -1-16 -1,29 -1-5 -1-21 -1,11 -1-2 -1-8 -1-16 -1,22 -1-1 -1,16 -1-25 -1,21 -1,6 -1-43 -1,5 -1,12 -1,25 -1-21 -1,15 -1-10 -1,0 -1-39 -1,52 -1-7 -1,14 -1-26 -1-3 -1,0 -1,38 -1-41 -1,31 -1-2 -1-15 -1-25 -1,25 -1,18 -1-18 -1,23 -1-13 -1-15 -1-4 -1-4 -1,7 -1,5 -1-23 -1,25 -1-1 -1,6 -1-16 -1-5 -1,30 -1-24 -1-4 -1,11 -1-16 -1,21 -1,4 -1-16 -1-2 -1,19 -1-5 -1,10 -1,5 -1-14 -1,3 -1-10 -1-11 -1,23 -1,6 -1-22 -1,23 -1-41 -1,20 -1-10 -1,24 -1,3 -1-21 -1-26 -1,49 -1-19 -1-2 -1-52 -1,60 -1,8 -1-42 -1-12 -1,66 -1-33 -1,0 -1-6 -1,31 -1-8 -1,18 -1-26 -1,18 -1,0 -1-12 -1-20 -1,34 -1-15 -1-35 -1,49 -1-13 -1,3 -1,3 -1,4 -1-21 -1-14 -1-4 -1,50 -1-48 -1,27 -1-26 -1-7 -1,52 -1-25 -1-12 -1,12 -1,6 -1-15 -1,8 -1-5Z" vector-effect="non-scaling-stroke"/>
<path transform="matrix(0.63192 -0.16615 0 -0.77187 74.194 137.692)" d="M-2,1.2l1,5 1-8 1,15 1-6 1-12 1,12 1,25 1-52 1,7 1,26 1-27 1,48 1-50 1,4 1,14 1,21 1-4 1-3 1-3 1,13 1-49 1,35 1,15 1-34 1,20 1,12 1,0 1-18 1,26 1-18 1,8 1-31 1,6 1,0 1,33 1-66 1,12 1,42 1-8 1-60 1,52 1,2 1,19 1-49 1,26 1,21 1-3 1-24 1,10 1-20 1,41 1-23 1,22 1-6 1-23 1,11 1,10 1-3 1,14 1-5 1-10 1,5 1-19 1,2 1,16 1-4 1-21 1,16 1-11 1,4 1,24 1-30 1,5 1,16 1-6 1,1 1-25 1,23 1-5 1-7 1,4 1,4 1,15 1,13 1-23 1,18 1-18 1-25 1,25 1,15 1,2 1-31 1,41 1-38 1,0 1,3 1,26 1-14 1,7 1-52 1,39 1,0 1,10 1-15 1,21 1-25 1-12 1-5 1,43 1-6 1-21 1,25 1-16 1,1 1-22 1,16 1,8 1,2 1-11 1,21 1,5 1-29 1,16 1-29 1,29 1-19 1,12 1,4 1-5 1,17 1-25 1,5 1,10 1-4 1,3 1-6 1-8 1,20 1-8 1,11 1,5 1-21 1-6 1,4 1-3 1-25 1,55 1-16 1,24 1-36 1,15 1-4 1-5 1,14 1-13 1-1 1,3 1-42 1,30 1,0 1,31 1-13 1,2 1-2 1-10 1,23 1-23 1-20 1,30 1,7 1-13 1,3 1,8 1,7 1-12 1,14 1-18 1,23 1-48 1,33 1-8 1-2 1-21 1,33 1-16 1-12 1,6 1,5 1,5 1-15 1,0 1,19 1-7 1,26 1-30 1,15 1,12 1-24 1,15 1-9 1-3 1,20 1-35 1,6 1-21 1,28 1,14 1-16 1,14 1-21 1,25 1-16 1-5 1,27 1-21 1,8 1-6 1,7 1-7 1-20 1,22 1,2 1-1 1-8 1,26 1-33 1,12 1,1 1-19 1-1 1,26 1,0 1-7 1-27 1,22 1,6 1,5 1,7 1-9 1,7 1,8 1-63 1,55 1-18 1,11 1-3 1-18 1,2 1,19 1-8 1,12 1-15 1,32 1-30 1,29 1-36 1,17 1,8 1-35 1,6L260,21l-1-12 -1-8 -1,10 -1-2 -1-27 -1,23 -1,25 -1-25 -1-2 -1,13 -1-13 -1,8 -1-12 -1,22 -1,0 -1-9 -1,9 -1-10 -1-11 -1,4 -1-2 -1-5 -1-16 -1,38 -1-10 -1-16 -1,23 -1-10 -1,10 -1,31 -1-47 -1-20 -1,26 -1,4 -1-13 -1,10 -1-2 -1,4 -1,20 -1-28 -1-10 -1-11 -1,21 -1,11 -1-25 -1,41 -1-1 -1-12 -1,8 -1-15 -1-2 -1-4 -1,7 -1-6 -1,19 -1,2 -1-14 -1-14 -1,20 -1-10 -1,10 -1-14 -1,6 -1-8 -1,18 -1-43 -1,45 -1-12 -1,8 -1-8 -1-2 -1-3 -1,7 -1,5 -1,8 -1-18 -1-12 -1,36 -1-27 -1-19 -1,20 -1-1 -1-1 -1,32 -1-17 -1-16 -1,21 -1-8 -1-3 -1-25 -1,29 -1-2 -1,5 -1-42 -1,31 -1-4 -1-14 -1,32 -1-3 -1-6 -1-14 -1,26 -1-24 -1,20 -1-29 -1,11 -1-14 -1,35 -1-42 -1,2 -1,12 -1,20 -1-8 -1,0 -1-8 -1,3 -1,17 -1-17 -1,6 -1-30 -1,30 -1-19 -1,35 -1-11 -1,5 -1,5 -1-14 -1,8 -1-4 -1-19 -1,14 -1-12 -1,20 -1-5 -1-4 -1-20 -1,26 -1-21 -1,38 -1,7 -1-60 -1,44 -1,8 -1-36 -1,33 -1-7 -1-1 -1-27 -1,19 -1-25 -1,16 -1,17 -1-22 -1,28 -1-30 -1,3 -1-20 -1,48 -1-9 -1-10 -1-15 -1,20 -1-21 -1,26 -1-21 -1,23 -1-13 -1,7 -1-3 -1,6 -1-9 -1-17 -1,34 -1-36 -1,16 -1-34 -1,25 -1,19 -1,15 -1-41 -1,34 -1-31 -1,32 -1,7 -1-26 -1,20 -1-25 -1,8 -1-1 -1-8 -1-1 -1,1 -1-6 -1,17 -1-12 -1,17 -1-1 -1,3 -1,0 -1-21 -1-20 -1,36 -1,15 -1-24 -1,6 -1,11 -1-16 -1-7 -1,9 -1-18 -1,28 -1-7 -1,5 -1-41 -1,46 -1-19 -1,11 -1,19 -1-9 -1-11 -1,3 -1,3 -1-6 -1,30 -1-38 -1,12 -1-1 -1-13 -1,12 -1-8 -1-1 -1-5 -1,7 -1,8 -1,16 -1-39 -1,26 -1,0 -1-1 -1-2 -1,15 -1-25 -1,12 -1-13 -1,10 -1-5 -1,12 -1,3 -1,6 -1-26 -1,19 -1,3 -1-16 -1-8 -1,18 -1,19 -1-6 -1-62 -1,44 -1-21Z" vector-effect="non-scaling-stroke"/>
<path transform="matrix(0.63192 -0.16615 0 -0.77187 75.456 138.258)" d="M-2,-9.8l1,21 1-44 1,62 1,6 1-19 1-18 1,8 1,16 1-3 1-19 1,26 1-6 1-3 1-12 1,5 1-10 1,13 1-12 1,25 1-15 1,2 1,1 1,0 1-26 1,39 1-16 1-8 1-7 1,5 1,1 1,8 1-12 1,13 1,1 1-12 1,38 1-30 1,6 1-3 1-3 1,11 1,9 1-19 1-11 1,19 1-46 1,41 1-5 1,7 1-28 1,18 1-9 1,7 1,16 1-11 1-6 1,24 1-15 1-36 1,20 1,21 1,0 1-3 1,1 1-17 1,12 1-17 1,6 1-1 1,1 1,8 1,1 1-8 1,25 1-20 1,26 1-7 1-32 1,31 1-34 1,41 1-15 1-19 1-25 1,34 1-16 1,36 1-34 1,17 1,9 1-6 1,3 1-7 1,13 1-23 1,21 1-26 1,21 1-20 1,15 1,10 1,9 1-48 1,20 1-3 1,30 1-28 1,22 1-17 1-16 1,25 1-19 1,27 1,1 1,7 1-33 1,36 1-8 1-44 1,60 1-7 1-38 1,21 1-26 1,20 1,4 1,5 1-20 1,12 1-14 1,19 1,4 1-8 1,14 1-5 1-5 1,11 1-35 1,19 1-30 1,30 1-6 1,17 1-17 1-3 1,8 1,0 1,8 1-20 1-12 1-2 1,42 1-35 1,14 1-11 1,29 1-20 1,24 1-26 1,14 1,6 1,3 1-32 1,14 1,4 1-31 1,42 1-5 1,2 1-29 1,25 1,3 1,8 1-21 1,16 1,17 1-32 1,1 1,1 1-20 1,19 1,27 1-36 1,12 1,18 1-8 1-5 1-7 1,3 1,2 1,8 1-8 1,12 1-45 1,43 1-18 1,8 1-6 1,14 1-10 1,10 1-20 1,14 1,14 1-2 1-19 1,6 1-7 1,4 1,2 1,15 1-8 1,12 1,1 1-41 1,25 1-11 1-21 1,11 1,10 1,28 1-20 1-4 1,2 1-10 1,13 1-4 1-26 1,20 1,47 1-31 1-10 1,10 1-23 1,16 1,10 1-38 1,16 1,5 1,2 1-4 1,11 1,10 1-9 1,9 1,0 1-22 1,12 1-8 1,13 1-13 1,2 1,25 1-25 1-23 1,27 1,2 1-10 1,8 1,12L260,9l-1-25 -1,24 -1,6 -1,2 -1,1 -1-12 -1-5 -1,25 -1-10 -1-19 -1,23 -1-14 -1,15 -1-24 -1,16 -1,4 -1-9 -1-27 -1,15 -1,23 -1-8 -1-14 -1,16 -1-20 -1,21 -1-18 -1,31 -1-20 -1,19 -1-10 -1-10 -1,1 -1,14 -1-23 -1,17 -1-25 -1,30 -1-7 -1-11 -1-12 -1,30 -1-8 -1,16 -1-35 -1,26 -1-40 -1,16 -1,5 -1,31 -1-10 -1,13 -1-32 -1,20 -1-22 -1,17 -1,1 -1-22 -1,9 -1-3 -1,17 -1,14 -1-4 -1-21 -1,15 -1-9 -1,16 -1-17 -1,20 -1-30 -1-8 -1,30 -1-28 -1,41 -1-12 -1-49 -1,34 -1,4 -1-16 -1,11 -1-3 -1,6 -1-18 -1,30 -1-14 -1-5 -1-30 -1,39 -1,4 -1,3 -1,14 -1-52 -1,11 -1,7 -1,6 -1,7 -1,5 -1,11 -1-59 -1,67 -1-31 -1,9 -1-18 -1,16 -1,11 -1-5 -1-5 -1-19 -1-11 -1,15 -1,19 -1-43 -1,38 -1-11 -1-3 -1,42 -1-27 -1-6 -1,2 -1-10 -1,0 -1-44 -1,37 -1,36 -1-7 -1-29 -1,18 -1-14 -1,16 -1-6 -1,5 -1-29 -1,16 -1,26 -1-7 -1-16 -1,5 -1,1 -1-6 -1,1 -1-11 -1,23 -1,12 -1-10 -1-19 -1,25 -1,3 -1-23 -1,15 -1-16 -1,4 -1,9 -1,11 -1,2 -1-31 -1,6 -1,4 -1-24 -1,5 -1,30 -1-13 -1-38 -1,62 -1-14 -1-43 -1,19 -1,15 -1-7 -1-2 -1-20 -1,22 -1,4 -1,4 -1,23 -1-2 -1-29 -1,7 -1,5 -1-4 -1,6 -1,13 -1-3 -1-2 -1-4 -1-27 -1,8 -1,37 -1-46 -1,31 -1-15 -1,2 -1,4 -1-6 -1,0 -1-23 -1,27 -1,7 -1-11 -1-3 -1,3 -1-6 -1,19 -1-52 -1,56 -1-15 -1,3 -1-10 -1,0 -1,5 -1,13 -1-35 -1,12 -1,5 -1,22 -1-7 -1-5 -1-33 -1,44 -1-34 -1,29 -1-23 -1-7 -1,11 -1,15 -1-3 -1-24 -1,6 -1,7 -1,8 -1-20 -1,29 -1-15 -1,26 -1-19 -1,9 -1-7 -1-34 -1,38 -1,7 -1-13 -1,9 -1-5 -1,3 -1-26 -1,9 -1,19 -1-15 -1-5 -1-33 -1,34 -1,19 -1-4 -1-27 -1,29 -1-10 -1,2 -1-13 -1,42 -1-4 -1-43 -1,35Z" vector-effect="non-scaling-stroke"/>
<path transform="matrix(0.63192 -0.16615 0 -0.77187 76.718 138.824)" d="M-2,25.2l1-35 1,43 1,4 1-42 1,13 1-2 1,10 1-29 1,27 1,4 1-19 1-34 1,33 1,5 1,15 1-19 1-9 1,26 1-3 1,5 1-9 1,13 1-7 1-38 1,34 1,7 1-9 1,19 1-26 1,15 1-29 1,20 1-8 1-7 1-6 1,24 1,3 1-15 1-11 1,7 1,23 1-29 1,34 1-44 1,33 1,5 1,7 1-22 1-5 1-12 1,35 1-13 1-5 1,0 1,10 1-3 1,15 1-56 1,52 1-19 1,6 1-3 1,3 1,11 1-7 1-27 1,23 1,0 1,6 1-4 1-2 1,15 1-31 1,46 1-37 1-8 1,27 1,4 1,2 1,3 1-13 1-6 1,4 1-5 1-7 1,29 1,2 1-23 1-4 1-4 1-22 1,20 1,2 1,7 1-15 1-19 1,43 1,14 1-62 1,38 1,13 1-30 1-5 1,24 1-4 1-6 1,31 1-2 1-11 1-9 1-4 1,16 1-15 1,23 1-3 1-25 1,19 1,10 1-12 1-23 1,11 1-1 1,6 1-1 1-5 1,16 1,7 1-26 1-16 1,29 1-5 1,6 1-16 1,14 1-18 1,29 1,7 1-36 1-37 1,44 1,0 1,10 1-2 1,6 1,27 1-42 1,3 1,11 1-38 1,43 1-19 1-15 1,11 1,19 1,5 1,5 1-11 1-16 1,18 1-9 1,31 1-67 1,59 1-11 1-5 1-7 1-6 1-7 1-11 1,52 1-14 1-3 1-4 1-39 1,30 1,5 1,14 1-30 1,18 1-6 1,3 1-11 1,16 1-4 1-34 1,49 1,12 1-41 1,28 1-30 1,8 1,30 1-20 1,17 1-16 1,9 1-15 1,21 1,4 1-14 1-17 1,3 1-9 1,22 1-1 1-17 1,22 1-20 1,32 1-13 1,10 1-31 1-5 1-16 1,40 1-26 1,35 1-16 1,8 1-30 1,12 1,11 1,7 1-30 1,25 1-17 1,23 1-14 1-1 1,10 1,10 1-19 1,20 1-31 1,18 1-21 1,20 1-16 1,14 1,8 1-23 1-15 1,27 1,9 1-4 1-16 1,24 1-15 1,14 1-23 1,19 1,10 1-25 1,5 1,12 1-1 1-2 1-6 1-24 1,25L260,7l-1,18 -1-32 -1,7 -1,3 -1-13 -1,44 -1-27 -1-3 -1,4 -1-7 -1-26 -1,8 -1,11 -1,3 -1,23 -1-10 -1,7 -1-11 -1-7 -1,9 -1-10 -1-1 -1,21 -1,14 -1-24 -1,16 -1-12 -1-8 -1-8 -1-3 -1,22 -1,4 -1-23 -1,30 -1-30 -1,19 -1,18 -1-14 -1,18 -1-19 -1-9 -1,10 -1-15 -1-19 -1,29 -1,24 -1-48 -1,26 -1,1 -1-15 -1-1 -1,23 -1-19 -1,3 -1,18 -1-35 -1,25 -1-25 -1,5 -1-8 -1,15 -1,15 -1-8 -1-5 -1-2 -1,3 -1,12 -1-15 -1,21 -1-56 -1,47 -1-6 -1-16 -1,24 -1-3 -1-10 -1-2 -1,7 -1,23 -1-17 -1-7 -1-31 -1,28 -1-2 -1-6 -1,21 -1-1 -1-25 -1,15 -1,8 -1-12 -1-4 -1-8 -1,9 -1-3 -1,26 -1,1 -1-12 -1-33 -1,30 -1-5 -1-12 -1,24 -1,2 -1-18 -1-13 -1-22 -1,46 -1-25 -1,33 -1-13 -1-14 -1,25 -1-19 -1,30 -1-23 -1-8 -1,14 -1-7 -1,7 -1,14 -1-40 -1,34 -1-45 -1,33 -1-3 -1-20 -1,7 -1,12 -1,11 -1-30 -1,15 -1,17 -1-53 -1,32 -1,45 -1-31 -1-17 -1-24 -1,38 -1,5 -1-19 -1-8 -1,18 -1,5 -1,13 -1-27 -1,4 -1,5 -1,26 -1-37 -1,12 -1,15 -1-57 -1,44 -1-6 -1,12 -1-18 -1,41 -1-34 -1,4 -1,7 -1-8 -1-18 -1,41 -1-12 -1-16 -1-3 -1,14 -1-11 -1,12 -1-27 -1,19 -1,10 -1,12 -1-35 -1,24 -1-15 -1,15 -1-18 -1,22 -1,9 -1-5 -1-7 -1-10 -1-14 -1,12 -1-18 -1-4 -1,34 -1-10 -1,13 -1-24 -1,12 -1-1 -1-9 -1,4 -1,21 -1-23 -1,18 -1-10 -1,10 -1-5 -1-18 -1,27 -1-25 -1,28 -1-15 -1,8 -1-22 -1,17 -1,17 -1-62 -1,63 -1-18 -1-10 -1,5 -1,10 -1-12 -1-21 -1,35 -1-8 -1,8 -1-20 -1-3 -1-47 -1,86 -1-19 -1,2 -1-6 -1-5 -1,6 -1,6 -1-10 -1-11 -1,24 -1-46 -1,37 -1,25 -1-14 -1-22 -1,3 -1-5 -1-27 -1,26 -1,32 -1-12 -1,2 -1-16 -1-4 -1,8 -1,9 -1-46 -1,53 -1-21 -1,0 -1-3 -1,23 -1-21 -1,14Z" vector-effect="non-scaling-stroke"/>
<path transform="matrix(0.63192 -0.16615 0 -0.77187 77.980 139.390)" d="M-2,16.2l1-14 1,21 1-23 1,3 1,0 1,21 1-53 1,46 1-9 1-8 1,4 1,16 1-2 1,12 1-32 1-26 1,27 1,5 1-3 1,22 1,14 1-25 1-37 1,46 1-24 1,11 1,10 1-6 1-6 1,5 1,6 1-2 1,19 1-86 1,47 1,3 1,20 1-8 1,8 1-35 1,21 1,12 1-10 1-5 1,10 1,18 1-63 1,62 1-17 1-17 1,22 1-8 1,15 1-28 1,25 1-27 1,18 1,5 1-10 1,10 1-18 1,23 1-21 1-4 1,9 1,1 1-12 1,24 1-13 1,10 1-34 1,4 1,18 1-12 1,14 1,10 1,7 1,5 1-9 1-22 1,18 1-15 1,15 1-24 1,35 1-12 1-10 1-19 1,27 1-12 1,11 1-14 1,3 1,16 1,12 1-41 1,18 1,8 1-7 1-4 1,34 1-41 1,18 1-12 1,6 1-44 1,57 1-15 1-12 1,37 1-26 1-5 1-4 1,27 1-13 1-5 1-18 1,8 1,19 1-5 1-38 1,24 1,17 1,31 1-45 1-32 1,53 1-17 1-15 1,30 1-11 1-12 1-7 1,20 1,3 1-33 1,45 1-34 1,40 1-14 1-7 1,7 1-14 1,8 1,23 1-30 1,19 1-25 1,14 1,13 1-33 1,25 1-46 1,22 1,13 1,18 1-2 1-24 1,12 1,5 1-30 1,33 1,12 1-1 1-26 1,3 1-9 1,8 1,4 1,12 1-8 1-15 1,25 1,1 1-21 1,6 1,2 1-28 1,31 1,7 1,17 1-23 1-7 1,2 1,10 1,3 1-24 1,16 1,6 1-47 1,56 1-21 1,15 1-12 1-3 1,2 1,5 1,8 1-15 1-15 1,8 1-5 1,25 1-25 1,35 1-18 1-3 1,19 1-23 1,1 1,15 1-1 1-26 1,48 1-24 1-29 1,19 1,15 1-10 1,9 1,19 1-18 1,14 1-18 1-19 1,30 1-30 1,23 1-4 1-22 1,3 1,8 1,8 1,12 1-16 1,24 1-14 1-21 1,1 1,10 1-9 1,7 1,11 1-7 1,10 1-23 1-3 1-11 1-8 1,26 1,7 1-4 1,3 1,27 1-44 1,13 1-3 1-7 1,32 1-18L260,-22l-1,42 -1-5 -1-36 -1,32 -1-34 -1,27 -1-20 -1,22 -1-10 -1,0 -1,10 -1-6 -1,23 -1-26 -1-38 -1,43 -1,1 -1-11 -1,1 -1-11 -1,11 -1,4 -1,0 -1,18 -1-29 -1-6 -1-7 -1,44 -1-47 -1,59 -1-33 -1,15 -1-5 -1-22 -1,31 -1,0 -1,14 -1-51 -1,23 -1,12 -1-22 -1,28 -1-27 -1,8 -1,13 -1-4 -1-25 -1,20 -1,10 -1,7 -1,2 -1-8 -1-25 -1,34 -1-28 -1-7 -1,24 -1-30 -1,19 -1,5 -1-16 -1,24 -1-11 -1-23 -1,66 -1-49 -1,9 -1,16 -1-18 -1-9 -1,6 -1,13 -1,8 -1-23 -1,23 -1-27 -1,28 -1-23 -1-42 -1,67 -1-22 -1,17 -1-30 -1,45 -1-10 -1-28 -1,3 -1-1 -1-19 -1,42 -1-1 -1-34 -1,27 -1-4 -1,27 -1-44 -1,26 -1-24 -1,21 -1,4 -1,0 -1-1 -1-4 -1,1 -1-28 -1,16 -1-14 -1,25 -1-9 -1-10 -1,14 -1-8 -1,6 -1,4 -1-8 -1-1 -1,18 -1-26 -1-4 -1,33 -1-28 -1-14 -1,15 -1,25 -1-9 -1,15 -1-24 -1-24 -1,26 -1,4 -1-8 -1,6 -1,15 -1-28 -1,9 -1-4 -1,9 -1-7 -1-3 -1-5 -1,4 -1,17 -1-15 -1-4 -1,10 -1,0 -1,35 -1-40 -1,2 -1-1 -1,11 -1,11 -1-20 -1-45 -1,57 -1-35 -1,27 -1-15 -1,19 -1-29 -1,26 -1,12 -1-23 -1,41 -1-29 -1-34 -1,69 -1-34 -1-6 -1-17 -1,33 -1-28 -1,20 -1-7 -1-14 -1,17 -1-6 -1-12 -1,43 -1-29 -1-4 -1,2 -1,11 -1-26 -1,1 -1,37 -1-26 -1-3 -1,19 -1-18 -1,18 -1-23 -1,28 -1-16 -1,12 -1-1 -1-12 -1,0 -1-5 -1,29 -1-48 -1,22 -1,37 -1-33 -1-26 -1,43 -1-64 -1,51 -1-2 -1,12 -1-5 -1-3 -1-7 -1-3 -1,17 -1-11 -1,1 -1,7 -1-31 -1,10 -1,30 -1-16 -1,7 -1,14 -1-17 -1-4 -1-7 -1,0 -1-4 -1,27 -1-13 -1,7 -1-20 -1-15 -1,7 -1,12 -1-3 -1-9 -1,8 -1,26 -1-52 -1,51 -1-35 -1,27 -1-14 -1-54 -1,62 -1-8 -1,25 -1-9 -1-11 -1,6 -1-9 -1-11 -1,25 -1-14 -1-6 -1,7 -1,1 -1-4Z" vector-effect="non-scaling-stroke"/>
<path transform="matrix(0.63192 -0.16615 0 -0.77187 79.242 139.956)" d="M-2,4.2l1,4 1-1 1-7 1,6 1,14 1-25 1,11 1,9 1-6 1,11 1,9 1-25 1,8 1-62 1,54 1,14 1-27 1,35 1-51 1,52 1-26 1-8 1,9 1,3 1-12 1-7 1,15 1,20 1-7 1,13 1-27 1,4 1,0 1,7 1,4 1,17 1-14 1-7 1,16 1-30 1-10 1,31 1-7 1-1 1,11 1-17 1,3 1,7 1,3 1,5 1-12 1,2 1-51 1,64 1-43 1,26 1,33 1-37 1-22 1,48 1-29 1,5 1,0 1,12 1,1 1-12 1,16 1-28 1,23 1-18 1,18 1-19 1,3 1,26 1-37 1-1 1,26 1-11 1-2 1,4 1,29 1-43 1,12 1,6 1-17 1,14 1,7 1-20 1,28 1-33 1,17 1,6 1,34 1-69 1,34 1,29 1-41 1,23 1-12 1-26 1,29 1-19 1,15 1-27 1,35 1-57 1,45 1,20 1-11 1-11 1,1 1-2 1,40 1-35 1,0 1-10 1,4 1,15 1-17 1-4 1,5 1,3 1,7 1-9 1,4 1-9 1,28 1-15 1-6 1,8 1-4 1-26 1,24 1,24 1-15 1,9 1-25 1-15 1,14 1,28 1-33 1,4 1,26 1-18 1,1 1,8 1-4 1-6 1,8 1-14 1,10 1,9 1-25 1,14 1-16 1,28 1-1 1,4 1,1 1,0 1-4 1-21 1,24 1-26 1,44 1-27 1,4 1-27 1,34 1,1 1-42 1,19 1,1 1-3 1,28 1,10 1-45 1,30 1-17 1,22 1-67 1,42 1,23 1-28 1,27 1-23 1,23 1-8 1-13 1-6 1,9 1,18 1-16 1-9 1,49 1-66 1,23 1,11 1-24 1,16 1-5 1-19 1,30 1-24 1,7 1,28 1-34 1,25 1,8 1-2 1-7 1-10 1-20 1,25 1,4 1-13 1-8 1,27 1-28 1,22 1-12 1-23 1,51 1-14 1,0 1-31 1,22 1,5 1-15 1,33 1-59 1,47 1-44 1,7 1,6 1,29 1-18 1,0 1-4 1-11 1,11 1-1 1,11 1-1 1-43 1,38 1,26 1-23 1,6 1-10 1,0 1,10 1-22 1,20 1-27 1,34 1-32 1,36 1,5 1-42L260,-20l-1,18 -1,13 -1,12 -1-37 -1,35 -1-39 -1,30 -1-5 -1-31 -1,40 -1,3 -1-37 -1-1 -1,58 -1-32 -1-26 -1,24 -1,6 -1,24 -1,0 -1-9 -1-23 -1,28 -1-21 -1,6 -1,1 -1-8 -1,5 -1,5 -1-11 -1,19 -1,2 -1-13 -1-14 -1,5 -1,26 -1-24 -1,4 -1,2 -1,4 -1-7 -1-9 -1,22 -1-15 -1-4 -1,7 -1-11 -1-13 -1,7 -1,4 -1,9 -1,2 -1-21 -1,21 -1-12 -1,11 -1-23 -1,24 -1-20 -1,32 -1-17 -1,21 -1-8 -1-17 -1,9 -1-12 -1,46 -1-39 -1-35 -1,19 -1,30 -1-16 -1-17 -1,7 -1,7 -1-20 -1,26 -1,8 -1-13 -1,8 -1-5 -1,1 -1-14 -1,14 -1,2 -1,14 -1,11 -1-28 -1,15 -1,6 -1-12 -1,16 -1-24 -1,9 -1-2 -1-21 -1,31 -1-14 -1,7 -1,3 -1-5 -1-2 -1-35 -1,19 -1,5 -1,23 -1-10 -1-7 -1,20 -1-29 -1,24 -1,1 -1-42 -1,12 -1,13 -1,10 -1-7 -1-6 -1-5 -1,24 -1-7 -1,1 -1-13 -1-15 -1,14 -1,13 -1-15 -1,21 -1-4 -1-15 -1,9 -1-2 -1,21 -1-34 -1,21 -1-3 -1-9 -1,17 -1-39 -1,23 -1,13 -1-1 -1-11 -1,37 -1-3 -1-35 -1-19 -1,15 -1-23 -1-8 -1,43 -1,11 -1-34 -1,10 -1,25 -1-47 -1,27 -1,10 -1,7 -1-21 -1,8 -1-3 -1-2 -1,10 -1,4 -1-42 -1,13 -1,15 -1,34 -1-66 -1,54 -1-20 -1,8 -1-5 -1-20 -1,16 -1,8 -1,7 -1-17 -1,0 -1,2 -1,9 -1-3 -1-22 -1,36 -1-31 -1,13 -1-7 -1,13 -1-38 -1,54 -1-24 -1-9 -1,32 -1-66 -1,50 -1-3 -1-23 -1,35 -1-14 -1-23 -1,37 -1-7 -1,12 -1-23 -1-5 -1,19 -1-23 -1,11 -1,24 -1-7 -1-10 -1,11 -1-20 -1,2 -1-51 -1,36 -1,12 -1,6 -1,1 -1-4 -1,1 -1,6 -1,8 -1-13 -1,1 -1,12 -1-19 -1,25 -1-25 -1,8 -1,10 -1-26 -1,21 -1-25 -1,18 -1-1 -1,6 -1-14 -1-37 -1,40 -1-20 -1,36 -1-19 -1-13 -1,16 -1-1 -1-4 -1,13 -1,8 -1-43 -1,49 -1-12 -1,4 -1-16 -1,12 -1,7 -1-11 -1,19 -1,7Z" vector-effect="non-scaling-stroke"/>
<path transform="matrix(0.63192 -0.16615 0 -0.77187 80.504 140.522)" d="M-2,35.2l1-7 1-19 1,11 1-7 1-12 1,16 1-4 1,12 1-49 1,43 1-8 1-13 1,4 1,1 1-16 1,13 1,19 1-36 1,20 1-40 1,37 1,14 1-6 1,1 1-18 1,25 1-21 1,26 1-10 1-8 1,25 1-25 1,19 1-12 1-1 1,13 1-8 1-6 1-1 1,4 1-1 1-6 1-12 1-36 1,51 1-2 1,20 1-11 1,10 1,7 1-24 1-11 1,23 1-19 1,5 1,23 1-12 1,7 1-37 1,23 1,14 1-35 1,23 1,3 1-50 1,66 1-32 1,9 1,24 1-54 1,38 1-13 1,7 1-13 1,31 1-36 1,22 1,3 1-9 1-2 1,0 1,17 1-7 1-8 1-16 1,20 1,5 1-8 1,20 1-54 1,66 1-34 1-15 1-13 1,42 1-4 1-10 1,2 1,3 1-8 1,21 1-7 1-10 1-27 1,47 1-25 1-10 1,34 1-11 1-43 1,8 1,23 1-15 1,19 1,35 1,3 1-37 1,11 1,1 1-13 1-23 1,39 1-17 1,9 1,3 1-21 1,34 1-21 1,2 1-9 1,15 1,4 1-21 1,15 1-13 1-14 1,15 1,13 1-1 1,7 1-24 1,5 1,6 1,7 1-10 1-13 1-12 1,42 1-1 1-24 1,29 1-20 1,7 1,10 1-23 1-5 1-19 1,35 1,2 1,5 1-3 1-7 1,14 1-31 1,21 1,2 1-9 1,24 1-16 1,12 1-6 1-15 1,28 1-11 1-14 1-2 1-14 1,14 1-1 1,5 1-8 1,13 1-8 1-26 1,20 1-7 1-7 1,17 1,16 1-30 1-19 1,35 1,39 1-46 1,12 1-9 1,17 1,8 1-21 1,17 1-32 1,20 1-24 1,23 1-11 1,12 1-21 1,21 1-2 1-9 1-4 1-7 1,13 1,11 1-7 1,4 1,15 1-22 1,9 1,7 1-4 1-2 1-4 1,24 1-26 1-5 1,14 1,13 1-2 1-19 1,11 1-5 1-5 1,8 1-1 1-6 1,21 1-28 1,23 1,9 1,0 1-24 1-6 1-24 1,26 1,32 1-58 1,1 1,37 1-3 1-40 1,31 1,5 1-30 1,39 1-35 1,37 1-12 1-13 1-18L260,-4l-1,2 -1,25 -1-21 -1,10 -1-8 -1-7 -1,13 -1-13 -1,4 -1-4 -1,0 -1,24 -1-11 -1-17 -1,5 -1,28 -1-34 -1,39 -1-19 -1-12 -1,14 -1-14 -1-13 -1,28 -1-20 -1,11 -1-2 -1,23 -1-8 -1,7 -1,5 -1-29 -1,22 -1,16 -1-43 -1-9 -1,23 -1-24 -1,27 -1-6 -1-3 -1-5 -1-13 -1-3 -1,19 -1,19 -1-13 -1,17 -1-29 -1,9 -1,7 -1-13 -1,21 -1-25 -1,11 -1,32 -1-39 -1,13 -1-11 -1-10 -1,19 -1,2 -1,21 -1-24 -1,14 -1-13 -1,16 -1-29 -1,13 -1-20 -1,23 -1,27 -1-37 -1-10 -1,2 -1,19 -1,12 -1-35 -1-21 -1,62 -1-33 -1,8 -1,1 -1,2 -1-2 -1-21 -1,50 -1-36 -1-12 -1,25 -1-38 -1,33 -1,0 -1-1 -1,20 -1-20 -1,8 -1-15 -1-16 -1-7 -1,17 -1,17 -1-4 -1,5 -1-8 -1-32 -1,52 -1-22 -1-9 -1,14 -1-28 -1,61 -1-66 -1,29 -1,1 -1-7 -1,18 -1-27 -1,29 -1-56 -1,39 -1,0 -1,16 -1-7 -1-35 -1,19 -1,15 -1-4 -1-17 -1,0 -1,19 -1-19 -1,6 -1,11 -1,6 -1-7 -1-6 -1-13 -1,25 -1,0 -1-4 -1,19 -1-22 -1,24 -1-6 -1,7 -1-2 -1-23 -1,0 -1-1 -1-16 -1,25 -1-25 -1,21 -1-1 -1-8 -1,1 -1-3 -1,33 -1-14 -1-7 -1-1 -1,8 -1,6 -1-34 -1,5 -1,45 -1-46 -1,25 -1-32 -1,44 -1-8 -1,3 -1,3 -1-35 -1,38 -1-6 -1-61 -1,49 -1-3 -1-11 -1,4 -1-16 -1,21 -1,27 -1-57 -1,45 -1-9 -1,8 -1,4 -1-17 -1-16 -1,9 -1-6 -1,22 -1,0 -1-42 -1,57 -1-32 -1,29 -1,11 -1-65 -1,9 -1,9 -1,16 -1,2 -1,13 -1-65 -1,35 -1,28 -1,18 -1-39 -1,17 -1-13 -1,3 -1,1 -1-18 -1,19 -1,7 -1-20 -1,31 -1-34 -1,17 -1-4 -1,0 -1-12 -1,12 -1,17 -1,9 -1-12 -1-13 -1-4 -1-18 -1,51 -1-19 -1-21 -1,25 -1-12 -1-6 -1-9 -1,12 -1,0 -1,19 -1-12 -1,10 -1,1 -1-19 -1,6 -1-43 -1,36 -1,10 -1,10 -1-4 -1-8 -1-2 -1,6 -1-36 -1,23 -1,14 -1-20Z" vector-effect="non-scaling-stroke"/>
<path transform="matrix(0.63192 -0.16615 0 -0.77187 81.766 141.088)" d="M-2,-0.8l1,20 1-14 1-23 1,36 1-6 1,2 1,8 1,4 1-10 1-10 1-36 1,43 1-6 1,19 1-1 1-10 1,12 1-19 1,0 1-12 1,9 1,6 1,12 1-25 1,21 1,19 1-51 1,18 1,4 1,13 1,12 1-9 1-17 1-12 1,12 1,0 1,4 1-17 1,34 1-31 1,20 1-7 1-19 1,18 1-1 1-3 1,13 1-17 1,39 1-18 1-28 1-35 1,65 1-13 1-2 1-16 1-9 1-9 1,65 1-11 1-29 1,32 1-57 1,42 1,0 1-22 1,6 1-9 1,16 1,17 1-4 1-8 1,9 1-45 1,57 1-27 1-21 1,16 1-4 1,11 1,3 1-49 1,61 1,6 1-38 1,35 1-3 1-3 1,8 1-44 1,32 1-25 1,46 1-45 1-5 1,34 1-6 1-8 1,1 1,7 1,14 1-33 1,3 1-1 1,8 1,1 1-21 1,25 1-25 1,16 1,1 1,0 1,23 1,2 1-7 1,6 1-24 1,22 1-19 1,4 1,0 1-25 1,13 1,6 1,7 1-6 1-11 1-6 1,19 1-19 1,0 1,17 1,4 1-15 1-19 1,35 1,7 1-16 1,0 1-39 1,56 1-29 1,27 1-18 1,7 1-1 1-29 1,66 1-61 1,28 1-14 1,9 1,22 1-52 1,32 1,8 1-5 1,4 1-17 1-17 1,7 1,16 1,15 1-8 1,20 1-20 1,1 1,0 1-33 1,38 1-25 1,12 1,36 1-50 1,21 1,2 1-2 1-1 1-8 1,33 1-62 1,21 1,35 1-12 1-19 1-2 1,10 1,37 1-27 1-23 1,20 1-13 1,29 1-16 1,13 1-14 1,24 1-21 1-2 1-19 1,10 1,11 1-13 1,39 1-32 1-11 1,25 1-21 1,13 1-7 1-9 1,29 1-17 1,13 1-19 1-19 1,3 1,13 1,5 1,3 1,6 1-27 1,24 1-23 1,9 1,43 1-16 1-22 1,29 1-5 1-7 1,8 1-23 1,2 1-11 1,20 1-28 1,13 1,14 1-14 1,12 1,19 1-39 1,34 1-28 1-5 1,17 1,11 1-24 1,0 1,4 1-4 1,13 1-13 1,7 1,8 1-10 1,21 1-25 1-2L260,0l-1,10 -1,9 -1-10 -1-35 -1,11 -1,28 -1,0 -1-8 -1,25 -1-19 -1-1 -1,7 -1,2 -1-16 -1,2 -1,12 -1-17 -1-4 -1,14 -1-5 -1,15 -1-26 -1,36 -1-37 -1,22 -1-2 -1-17 -1,15 -1,1 -1,12 -1-13 -1-9 -1,1 -1,18 -1-2 -1-1 -1-21 -1,5 -1,5 -1,13 -1,2 -1-7 -1,5 -1-3 -1-14 -1,4 -1-9 -1-9 -1,31 -1-2 -1-27 -1,7 -1-34 -1,53 -1,2 -1-22 -1,15 -1-10 -1-3 -1,21 -1-11 -1-10 -1,7 -1,2 -1-3 -1,9 -1-13 -1,21 -1-15 -1,7 -1-12 -1,14 -1,13 -1-27 -1-4 -1,13 -1-23 -1,37 -1-15 -1-2 -1-8 -1,10 -1-12 -1-1 -1,6 -1,23 -1-37 -1,12 -1,2 -1,14 -1-3 -1,11 -1,11 -1-16 -1-24 -1,2 -1,5 -1-3 -1,23 -1-24 -1-6 -1,12 -1,13 -1-29 -1,31 -1-14 -1,10 -1,1 -1-23 -1,17 -1,2 -1-18 -1,15 -1,10 -1-21 -1-24 -1,40 -1-14 -1,4 -1-13 -1,18 -1-49 -1-13 -1,68 -1-4 -1-13 -1-49 -1,50 -1,6 -1,10 -1,5 -1-24 -1,8 -1-13 -1,10 -1,0 -1,19 -1-6 -1,20 -1-25 -1-2 -1,5 -1,17 -1-28 -1-35 -1,42 -1-38 -1,38 -1-13 -1,24 -1-7 -1-19 -1,34 -1-21 -1-2 -1-17 -1,27 -1,24 -1-29 -1,4 -1,9 -1-30 -1-39 -1,46 -1-2 -1,15 -1-16 -1,33 -1-19 -1-3 -1-24 -1,30 -1-13 -1-3 -1,23 -1-14 -1,15 -1-3 -1,11 -1-25 -1-28 -1,22 -1,6 -1,4 -1-14 -1,8 -1,6 -1-18 -1,12 -1,11 -1-2 -1,0 -1,21 -1-25 -1,11 -1,14 -1-18 -1-2 -1-4 -1-7 -1,2 -1,20 -1-10 -1,14 -1-11 -1-4 -1-2 -1,11 -1-3 -1-15 -1,28 -1-66 -1,23 -1,22 -1-5 -1,2 -1,9 -1-42 -1,50 -1-18 -1-14 -1,35 -1-38 -1,5 -1,17 -1-6 -1,6 -1-20 -1,9 -1,12 -1,9 -1-43 -1,11 -1-4 -1,23 -1,11 -1-9 -1,10 -1-14 -1-1 -1,13 -1-11 -1-6 -1,3 -1-8 -1,10 -1,19 -1-19 -1,8 -1,15 -1-32 -1,9 -1-15 -1,20 -1-37 -1,43 -1-3 -1-6 -1-3 -1,21Z" vector-effect="non-scaling-stroke"/>
<path transform="matrix(0.63192 -0.16615 0 -0.77187 83.028 141.654)" d="M-2,28.2l1-21 1,3 1,6 1,3 1-43 1,37 1-20 1,15 1-9 1,32 1-15 1-8 1,19 1-19 1-10 1,8 1-3 1,6 1,11 1-13 1,1 1,14 1-10 1,9 1-11 1-23 1,4 1-11 1,43 1-9 1-12 1-9 1,20 1-6 1,6 1-17 1-5 1,38 1-35 1,14 1,18 1-50 1,42 1-9 1-2 1,5 1-22 1-23 1,66 1-28 1,15 1,3 1-11 1,2 1,4 1,11 1-14 1,10 1-20 1-2 1,7 1,4 1,2 1,18 1-14 1-11 1,25 1-21 1,0 1,2 1-11 1-12 1,18 1-6 1-8 1,14 1-4 1-6 1-22 1,28 1,25 1-11 1,3 1-15 1,14 1-23 1,3 1,13 1-30 1,24 1,3 1,19 1-33 1,16 1-15 1,2 1-46 1,39 1,30 1-9 1-4 1,29 1-24 1-27 1,17 1,2 1,21 1-34 1,19 1,7 1-24 1,13 1-38 1,38 1-42 1,35 1,28 1-17 1-5 1,2 1,25 1-20 1,6 1-19 1,0 1-10 1,13 1-8 1,24 1-5 1-10 1-6 1-50 1,49 1,13 1,4 1-68 1,13 1,49 1-18 1,13 1-4 1,14 1-40 1,24 1,21 1-10 1-15 1,18 1-2 1-17 1,23 1-1 1-10 1,14 1-31 1,29 1-13 1-12 1,6 1,24 1-23 1,3 1-5 1-2 1,24 1,16 1-11 1-11 1,3 1-14 1-2 1-12 1,37 1-23 1-6 1,1 1,12 1-10 1,8 1,2 1,15 1-37 1,23 1-13 1,4 1,27 1-13 1-14 1,12 1-7 1,15 1-21 1,13 1-9 1,3 1-2 1-7 1,10 1,11 1-21 1,3 1,10 1-15 1,22 1-2 1-53 1,34 1-7 1,27 1,2 1-31 1,9 1,9 1-4 1,14 1,3 1-5 1,7 1-2 1-13 1-5 1-5 1,21 1,1 1,2 1-18 1-1 1,9 1,13 1-12 1-1 1-15 1,17 1,2 1-22 1,37 1-36 1,26 1-15 1,5 1-14 1,4 1,17 1-12 1-2 1,16 1-2 1-7 1,1 1,19 1-25 1,8 1,0 1-28 1-11 1,35 1,10 1-9 1-10L260,24l-1,6 -1-47 -1,21 -1,0 -1,1 -1,7 -1-8 -1-4 -1,10 -1,11 -1-22 -1,2 -1,24 -1,5 -1-17 -1-7 -1,18 -1-9 -1-12 -1-31 -1,45 -1-13 -1-32 -1,33 -1-1 -1,4 -1-4 -1,4 -1-8 -1,32 -1-19 -1,12 -1-34 -1,10 -1-4 -1,7 -1-18 -1,9 -1,9 -1,6 -1-3 -1-18 -1,1 -1,48 -1-28 -1,4 -1,3 -1,4 -1-20 -1-8 -1-6 -1-10 -1,51 -1-25 -1-10 -1,9 -1-6 -1-1 -1,9 -1-11 -1,41 -1-29 -1,12 -1,8 -1-28 -1,26 -1-27 -1,38 -1-45 -1,0 -1,17 -1,5 -1-3 -1-4 -1,6 -1,19 -1-32 -1-13 -1,22 -1-18 -1,33 -1-10 -1-25 -1,8 -1,36 -1-39 -1,6 -1,5 -1,24 -1-5 -1-14 -1,2 -1,3 -1,3 -1-15 -1-5 -1,17 -1-15 -1,12 -1-14 -1-1 -1-16 -1,35 -1-9 -1-10 -1,15 -1-16 -1,24 -1-2 -1-16 -1,27 -1-9 -1-3 -1-11 -1,3 -1,9 -1-22 -1-6 -1-5 -1,18 -1,14 -1,1 -1-13 -1,17 -1-12 -1,18 -1-13 -1-1 -1,7 -1-17 -1,3 -1,6 -1-17 -1,6 -1,11 -1-43 -1,46 -1-21 -1,17 -1-16 -1-1 -1,36 -1-25 -1,35 -1-41 -1,22 -1-1 -1-28 -1,2 -1,30 -1-28 -1,40 -1-39 -1,25 -1-71 -1,85 -1-35 -1,33 -1-15 -1-3 -1-1 -1-9 -1,3 -1,11 -1-6 -1,3 -1-27 -1,19 -1,6 -1,6 -1-20 -1,25 -1-12 -1,4 -1-11 -1,1 -1-21 -1,33 -1-28 -1,37 -1-2 -1-4 -1-10 -1-11 -1,13 -1,8 -1-13 -1,19 -1-23 -1-32 -1,47 -1-4 -1-10 -1,15 -1-30 -1,21 -1-13 -1,7 -1-31 -1,44 -1,2 -1-18 -1-26 -1,13 -1,16 -1-3 -1,7 -1-6 -1,20 -1,3 -1-16 -1-10 -1-9 -1,20 -1-16 -1-28 -1,61 -1-10 -1-21 -1,4 -1-3 -1-8 -1,18 -1-26 -1,13 -1,1 -1,21 -1-4 -1-26 -1,25 -1-17 -1,9 -1-7 -1,36 -1-23 -1-9 -1,10 -1,11 -1-13 -1,1 -1,3 -1-17 -1,10 -1,9 -1-7 -1-6 -1,18 -1-2 -1-19 -1-19 -1,38 -1-25 -1,9 -1,13 -1-23 -1,14 -1,6 -1,3 -1,4 -1-7Z" vector-effect="non-scaling-stroke"/>
<path transform="matrix(0.63192 -0.16615 0 -0.77187 84.290 142.220)" d="M-2,13.2l1,7 1-4 1-3 1-6 1-14 1,23 1-13 1-9 1,25 1-38 1,19 1,19 1,2 1-18 1,6 1,7 1-9 1-10 1,17 1-3 1-1 1,13 1-11 1-10 1,9 1,23 1-36 1,7 1-9 1,17 1-25 1,26 1,4 1-21 1-1 1-13 1,26 1-18 1,8 1,3 1-4 1,21 1,10 1-61 1,28 1,16 1-20 1,9 1,10 1,16 1-3 1-20 1,6 1-7 1,3 1-16 1-13 1,26 1,18 1-2 1-44 1,31 1-7 1,13 1-21 1,30 1-15 1,10 1,4 1-47 1,32 1,23 1-19 1,13 1-8 1-13 1,11 1,10 1,4 1,2 1-37 1,28 1-33 1,21 1-1 1,11 1-4 1,12 1-25 1,20 1-6 1-6 1-19 1,27 1-3 1,6 1-11 1-3 1,9 1,1 1,3 1,15 1-33 1,35 1-85 1,71 1-25 1,39 1-40 1,28 1-30 1-2 1,28 1,1 1-22 1,41 1-35 1,25 1-36 1,1 1,16 1-17 1,21 1-46 1,43 1-11 1-6 1,17 1-6 1-3 1,17 1-7 1,1 1,13 1-18 1,12 1-17 1,13 1-1 1-14 1-18 1,5 1,6 1,22 1-9 1-3 1,11 1,3 1,9 1-27 1,16 1,2 1-24 1,16 1-15 1,10 1,9 1-35 1,16 1,1 1,14 1-12 1,15 1-17 1,5 1,15 1-3 1-3 1-2 1,14 1,5 1-24 1-5 1-6 1,39 1-36 1-8 1,25 1,10 1-33 1,18 1-22 1,13 1,32 1-19 1-6 1,4 1,3 1-5 1-17 1,0 1,45 1-38 1,27 1-26 1,28 1-8 1-12 1,29 1-41 1,11 1-9 1,1 1,6 1-9 1,10 1,25 1-51 1,10 1,6 1,8 1,20 1-4 1-3 1-4 1,28 1-48 1-1 1,18 1,3 1-6 1-9 1-9 1,18 1-7 1,4 1-10 1,34 1-12 1,19 1-32 1,8 1-4 1,4 1-4 1,1 1-33 1,32 1,13 1-45 1,31 1,12 1,9 1-18 1,7 1,17 1-5 1-24 1-2 1,22 1-11 1-10 1,4 1,8 1-7 1-1 1,0 1-21 1,47 1-6L260,-5l-1,21 -1-10 -1,6 -1-5 -1-23 -1,24 -1-2 -1,30 -1-85 -1,41 -1,4 -1,10 -1,4 -1,26 -1-57 -1,16 -1-16 -1,44 -1-7 -1,10 -1-7 -1,11 -1-24 -1-5 -1,22 -1-17 -1-35 -1,32 -1-5 -1,20 -1-28 -1,1 -1,29 -1,5 -1-35 -1,9 -1,9 -1-44 -1,55 -1-5 -1-10 -1,5 -1,5 -1-10 -1,7 -1-13 -1,16 -1-50 -1,38 -1,7 -1-58 -1,54 -1-7 -1,13 -1,3 -1-29 -1,31 -1-5 -1,6 -1-7 -1-11 -1,10 -1-11 -1,13 -1-22 -1,15 -1,4 -1,3 -1-10 -1-6 -1,16 -1,4 -1-59 -1,72 -1-9 -1-27 -1,13 -1,20 -1-14 -1-10 -1-4 -1-50 -1,86 -1-30 -1,18 -1-25 -1-8 -1,4 -1,30 -1-14 -1-1 -1,7 -1-4 -1,1 -1,6 -1-32 -1,30 -1,2 -1-20 -1,18 -1-43 -1,23 -1-4 -1,30 -1-10 -1,9 -1-2 -1,21 -1-42 -1,35 -1-44 -1,29 -1-5 -1-41 -1,49 -1-7 -1-8 -1,3 -1-21 -1,19 -1-8 -1,14 -1,17 -1-21 -1,1 -1-30 -1,23 -1-14 -1,25 -1-18 -1,5 -1,28 -1-2 -1-20 -1-56 -1,71 -1-18 -1,19 -1-23 -1-51 -1,46 -1-2 -1-11 -1,2 -1,35 -1-10 -1-10 -1,10 -1,8 -1-34 -1,21 -1,4 -1,7 -1-17 -1,0 -1-9 -1,43 -1-32 -1-29 -1,43 -1-5 -1-12 -1,2 -1,30 -1,2 -1-3 -1-19 -1-3 -1,1 -1-16 -1,18 -1,6 -1-4 -1-32 -1,37 -1-30 -1,27 -1,11 -1-43 -1,23 -1-28 -1,27 -1-6 -1,12 -1,25 -1-34 -1,27 -1,1 -1-44 -1,24 -1,6 -1,0 -1-19 -1,18 -1-5 -1-42 -1,8 -1,5 -1,3 -1,30 -1,1 -1,12 -1-13 -1-3 -1,13 -1,7 -1-27 -1-2 -1,11 -1,2 -1-20 -1,2 -1,16 -1,6 -1,14 -1-6 -1-21 -1-10 -1,13 -1-10 -1,8 -1,25 -1-20 -1,12 -1-12 -1-4 -1,7 -1,12 -1-32 -1,4 -1,15 -1,6 -1-21 -1,34 -1-13 -1-5 -1-5 -1,12 -1,9 -1-18 -1-22 -1,3 -1,17 -1,12 -1,3 -1-11 -1-1 -1,10 -1-32 -1,43 -1-39 -1,22 -1,0 -1-41 -1,24 -1,9 -1,0 -1,4 -1-2 -1,8Z" vector-effect="non-scaling-stroke"/>
<path transform="matrix(0.63192 -0.16615 0 -0.77187 85.552 142.786)" d="M-2,18.2l1-8 1,2 1-4 1,0 1-9 1-24 1,41 1,0 1-22 1,39 1-43 1,32 1-10 1,1 1,11 1-3 1-12 1-17 1-3 1,22 1,18 1-9 1-12 1,5 1,5 1,13 1-34 1,21 1-6 1-15 1-4 1,32 1-12 1-7 1,4 1,12 1-12 1,20 1-25 1-8 1,10 1-13 1,10 1,21 1,6 1-14 1-6 1-16 1-2 1,20 1-2 1-11 1,2 1,27 1-7 1-13 1,3 1,13 1-12 1-1 1-30 1-3 1-5 1-8 1,42 1,5 1-18 1,19 1,0 1-6 1-24 1,44 1-1 1-27 1,34 1-25 1-12 1,6 1-27 1,28 1-23 1,43 1-11 1-27 1,30 1-37 1,32 1,4 1-6 1-18 1,16 1-1 1,3 1,19 1,3 1-2 1-30 1-2 1,12 1,5 1-43 1,29 1,32 1-43 1,9 1,0 1,17 1-7 1-4 1-21 1,34 1-8 1-10 1,10 1,10 1-35 1-2 1,11 1,2 1-46 1,51 1,23 1-19 1,18 1-71 1,56 1,20 1,2 1-28 1-5 1,18 1-25 1,14 1-23 1,30 1-1 1,21 1-17 1-14 1,8 1-19 1,21 1-3 1,8 1,7 1-49 1,41 1,5 1-29 1,44 1-35 1,42 1-21 1,2 1-9 1,10 1-30 1,4 1-23 1,43 1-18 1,20 1-2 1-30 1,32 1-6 1-1 1,4 1-7 1,1 1,14 1-30 1-4 1,8 1,25 1-18 1,30 1-86 1,50 1,4 1,10 1,14 1-20 1-13 1,27 1,9 1-72 1,59 1-4 1-16 1,6 1,10 1-3 1-4 1-15 1,22 1-13 1,11 1-10 1,11 1,7 1-6 1,5 1-31 1,29 1-3 1-13 1,7 1-54 1,58 1-7 1-38 1,50 1-16 1,13 1-7 1,10 1-5 1-5 1,10 1,5 1-55 1,44 1-9 1-9 1,35 1-5 1-29 1-1 1,28 1-20 1,5 1-32 1,35 1,17 1-22 1,5 1,24 1-11 1,7 1-10 1,7 1-44 1,16 1-16 1,57 1-26 1-4 1-10 1-4 1-41 1,85 1-30 1,2 1-24 1,23 1,5 1-6 1,10 1-21L260,8l-1-5 -1,4 -1,6 -1,5 -1,4 -1-16 -1,8 -1-15 -1,9 -1-10 -1,24 -1-16 -1,16 -1-29 -1,36 -1,4 -1-7 -1-40 -1,42 -1-11 -1,18 -1-9 -1-39 -1,5 -1-3 -1,21 -1,2 -1-26 -1,27 -1,3 -1-13 -1,19 -1-18 -1,1 -1,19 -1-13 -1-23 -1-7 -1-15 -1,40 -1-4 -1,8 -1,0 -1,4 -1,2 -1-27 -1,14 -1,21 -1-34 -1,13 -1-4 -1,9 -1-10 -1,8 -1-18 -1-7 -1,40 -1-14 -1,13 -1-43 -1,14 -1,18 -1-32 -1,44 -1-28 -1,34 -1-5 -1-2 -1-5 -1-7 -1-5 -1-18 -1,29 -1,15 -1-9 -1-22 -1,41 -1-55 -1,50 -1-33 -1,14 -1-11 -1-10 -1,27 -1-13 -1-7 -1,7 -1-8 -1,22 -1-17 -1,26 -1-31 -1,26 -1-5 -1-15 -1,7 -1,19 -1-1 -1-33 -1,5 -1,14 -1,0 -1-19 -1,5 -1-11 -1,1 -1,15 -1-36 -1,41 -1-5 -1-13 -1-12 -1,16 -1-4 -1,2 -1-13 -1,12 -1,22 -1,11 -1-44 -1,17 -1,5 -1-13 -1,19 -1-8 -1,8 -1-11 -1,12 -1,5 -1,14 -1-35 -1,1 -1,11 -1-19 -1,25 -1-8 -1-33 -1,27 -1-21 -1,26 -1,0 -1-3 -1-3 -1,3 -1,16 -1,2 -1-25 -1,8 -1-3 -1-6 -1-9 -1,12 -1,18 -1,6 -1-13 -1,2 -1-14 -1,7 -1-18 -1,27 -1-20 -1,30 -1-17 -1-5 -1,7 -1,17 -1-32 -1,11 -1-20 -1,9 -1,34 -1,9 -1-4 -1-30 -1,6 -1-25 -1,14 -1,9 -1,16 -1-12 -1,2 -1-25 -1,10 -1,6 -1,0 -1,1 -1-15 -1,27 -1-6 -1-12 -1,21 -1-4 -1,11 -1-28 -1,5 -1,35 -1-62 -1,42 -1-10 -1,11 -1-6 -1-3 -1,3 -1-20 -1-41 -1,57 -1,8 -1,22 -1-38 -1-22 -1,33 -1-4 -1-14 -1-24 -1,38 -1-19 -1,16 -1-31 -1,28 -1-4 -1,19 -1-8 -1,18 -1-14 -1-13 -1,15 -1-11 -1,7 -1-18 -1,14 -1,1 -1-18 -1,20 -1-14 -1,10 -1,3 -1,9 -1-5 -1-8 -1-15 -1,17 -1-4 -1,18 -1-4 -1-12 -1,3 -1,3 -1-8 -1-4 -1,11 -1,6 -1-28 -1,19 -1,6 -1-6 -1,2 -1-14 -1-1 -1,7 -1-3Z" vector-effect="non-scaling-stroke"/>
<path transform="matrix(0.63192 -0.16615 0 -0.77187 86.814 143.352)" d="M-2,0.2l1,3 1-7 1,1 1,14 1-2 1,6 1-6 1-19 1,28 1-6 1-11 1,4 1,8 1-3 1-3 1,12 1,4 1-18 1,4 1-17 1,15 1,8 1,5 1-9 1-3 1-10 1,14 1-20 1,18 1-1 1-14 1,18 1-7 1,11 1-15 1,13 1,14 1-18 1,8 1-19 1,4 1-28 1,31 1-16 1,19 1-38 1,24 1,14 1,4 1-33 1,22 1,38 1-22 1-8 1-57 1,41 1,20 1-3 1,3 1,6 1-11 1,10 1-42 1,62 1-35 1-5 1,28 1-11 1,4 1-21 1,12 1,6 1-27 1,15 1-1 1,0 1-6 1-10 1,25 1-2 1,12 1-16 1-9 1-14 1,25 1-6 1,30 1,4 1-9 1-34 1-9 1,20 1-11 1,32 1-17 1-7 1,5 1,17 1-30 1,20 1-27 1,18 1-7 1,14 1-2 1,13 1-6 1-18 1-12 1,9 1,6 1,3 1-8 1,25 1-2 1-16 1-3 1,3 1,3 1,0 1-26 1,21 1-27 1,33 1,8 1-25 1,19 1-11 1-1 1,35 1-14 1-5 1-12 1,11 1-8 1,8 1-19 1,13 1-5 1-17 1,44 1-11 1-22 1-12 1,13 1-2 1,4 1-16 1,12 1,13 1,5 1-41 1,36 1-15 1-1 1,11 1-5 1,19 1,0 1-14 1-5 1,33 1,1 1-19 1-7 1,15 1,5 1-26 1,31 1-26 1,17 1-22 1,8 1-7 1,7 1,13 1-27 1,10 1,11 1-14 1,33 1-50 1,55 1-41 1,22 1,9 1-15 1-29 1,18 1,5 1,7 1,5 1,2 1,5 1-34 1,28 1-44 1,32 1-18 1-14 1,43 1-13 1,14 1-40 1,7 1,18 1-8 1,10 1-9 1,4 1-13 1,34 1-21 1-14 1,27 1-2 1-4 1,0 1-8 1,4 1-40 1,15 1,7 1,23 1,13 1-19 1-1 1,18 1-19 1,13 1-3 1-27 1,26 1-2 1-21 1,3 1-5 1,39 1,9 1-18 1,11 1-42 1,40 1,7 1-4 1-36 1,29 1-16 1,16 1-24 1,10 1-9 1,15 1-8 1,16 1-4 1-5 1-6 1-4 1,5L260,-2l-1,11 -1,30 -1-8 -1-29 -1,0 -1,34 -1-29 -1-30 -1,51 -1-14 -1,1 -1-25 -1,30 -1-9 -1,1 -1,8 -1-25 -1,20 -1-6 -1,25 -1-16 -1-13 -1,8 -1-44 -1,28 -1,17 -1-7 -1,1 -1-3 -1-16 -1-3 -1,34 -1-9 -1,9 -1-3 -1-34 -1,39 -1-40 -1,11 -1,39 -1-55 -1,9 -1,22 -1,7 -1,5 -1-13 -1-6 -1-1 -1,5 -1,11 -1-31 -1,41 -1-40 -1,5 -1,6 -1,9 -1,6 -1,11 -1-25 -1,21 -1-8 -1,4 -1-19 -1,5 -1,16 -1-20 -1,12 -1,8 -1,11 -1-4 -1-2 -1-4 -1-12 -1-7 -1-25 -1,19 -1,29 -1-10 -1,10 -1-30 -1,10 -1,2 -1-3 -1,9 -1-13 -1,22 -1-9 -1,10 -1-15 -1,11 -1-20 -1,37 -1-8 -1-1 -1-14 -1,4 -1-24 -1-19 -1,63 -1-25 -1-4 -1,3 -1,12 -1-3 -1-11 -1-4 -1,2 -1,14 -1-32 -1,7 -1,13 -1-2 -1,26 -1,6 -1-29 -1,15 -1-49 -1,39 -1,1 -1-24 -1,34 -1-21 -1-15 -1,10 -1,11 -1,8 -1-22 -1,8 -1-8 -1,20 -1-62 -1,75 -1-24 -1-40 -1,40 -1-24 -1,18 -1,16 -1-40 -1,25 -1,19 -1-2 -1-18 -1,17 -1,0 -1-26 -1,31 -1,3 -1-22 -1,17 -1-2 -1-38 -1,46 -1-28 -1,2 -1,13 -1-13 -1,15 -1,2 -1-16 -1,16 -1-18 -1,22 -1-10 -1-4 -1,1 -1,0 -1,8 -1-17 -1,47 -1-31 -1-24 -1,43 -1,0 -1-28 -1,18 -1-37 -1-15 -1,40 -1-2 -1,9 -1,7 -1-5 -1,0 -1-10 -1,3 -1,18 -1-26 -1,9 -1-8 -1,2 -1,7 -1-29 -1,33 -1,12 -1-7 -1-13 -1,7 -1,3 -1-24 -1,24 -1,0 -1-12 -1,11 -1-7 -1-7 -1,8 -1-13 -1,14 -1-21 -1,4 -1,28 -1-34 -1,22 -1,7 -1-24 -1,25 -1-5 -1,4 -1-36 -1,37 -1,0 -1-4 -1-1 -1-17 -1,14 -1-1 -1-18 -1,25 -1-16 -1-9 -1,12 -1,15 -1-16 -1-11 -1,34 -1-8 -1-23 -1,12 -1,2 -1-5 -1-12 -1,22 -1-28 -1-1 -1,37 -1-23 -1-4 -1-1 -1-35 -1,40 -1-2 -1,14 -1-12 -1,0 -1,3 -1,16 -1,6 -1-13 -1-24Z" vector-effect="non-scaling-stroke"/>
<path transform="matrix(0.63192 -0.16615 0 -0.77187 88.076 143.918)" d="M-2,-10.8l1,24 1,13 1-6 1-16 1-3 1,0 1,12 1-14 1,2 1-40 1,35 1,1 1,4 1,23 1-37 1,1 1,28 1-22 1,12 1,5 1-2 1-12 1,23 1,8 1-34 1,11 1,16 1-15 1-12 1,9 1,16 1-25 1,18 1,1 1-14 1,17 1,1 1,4 1,0 1-37 1,36 1-4 1,5 1-25 1,24 1-7 1-22 1,34 1-28 1-4 1,21 1-14 1,13 1-8 1,7 1,7 1-11 1,12 1,0 1-24 1,24 1-3 1-7 1,13 1,7 1-12 1-33 1,29 1-7 1-2 1,8 1-9 1,26 1-18 1-3 1,10 1,0 1,5 1-7 1-9 1,2 1-40 1,15 1,37 1-18 1,28 1,0 1-43 1,24 1,31 1-47 1,17 1-8 1,0 1-1 1,4 1,10 1-22 1,18 1-16 1,16 1-2 1-15 1,13 1-13 1-2 1,28 1-46 1,38 1,2 1-17 1,22 1-3 1-31 1,26 1,0 1-17 1,18 1,2 1-19 1-25 1,40 1-16 1-18 1,24 1-40 1,40 1,24 1-75 1,62 1-20 1,8 1-8 1,22 1-8 1-11 1-10 1,15 1,21 1-34 1,24 1-1 1-39 1,49 1-15 1,29 1-6 1-26 1,2 1-13 1-7 1,32 1-14 1-2 1,4 1,11 1,3 1-12 1-3 1,4 1,25 1-63 1,19 1,24 1-4 1,14 1,1 1,8 1-37 1,20 1-11 1,15 1-10 1,9 1-22 1,13 1-9 1,3 1-2 1-10 1,30 1-10 1,10 1-29 1-19 1,25 1,7 1,12 1,4 1,2 1,4 1-11 1-8 1-12 1,20 1-16 1-5 1,19 1-4 1,8 1-21 1,25 1-11 1-6 1-9 1-6 1-5 1,40 1-41 1,31 1-11 1-5 1,1 1,6 1,13 1-5 1-7 1-22 1-9 1,55 1-39 1-11 1,40 1-39 1,34 1,3 1-9 1,9 1-34 1,3 1,16 1,3 1-1 1,7 1-17 1-28 1,44 1-8 1,13 1,16 1-25 1,6 1-20 1,25 1-8 1-1 1,9 1-30 1,25 1-1 1,14 1-51 1,30 1,29 1-34 1,0 1,29 1,8 1-30 1-11L260,6l-1-22 -1,24 -1,1 -1,0 -1-22 -1,24 -1-3 -1-5 -1,2 -1,3 -1,11 -1-73 -1,57 -1,0 -1-10 -1,18 -1,0 -1,11 -1-19 -1,12 -1-14 -1,27 -1-11 -1-11 -1-16 -1,15 -1,20 -1-24 -1,5 -1,20 -1-5 -1-22 -1-17 -1,23 -1,2 -1-7 -1,2 -1,2 -1,18 -1-28 -1-11 -1,21 -1,19 -1-8 -1,0 -1-45 -1,49 -1-23 -1,12 -1-17 -1,4 -1,4 -1,10 -1-4 -1,2 -1,4 -1,6 -1,9 -1-40 -1,18 -1-23 -1,42 -1-16 -1-25 -1,5 -1,43 -1-29 -1-11 -1-1 -1,32 -1-9 -1,16 -1-18 -1-5 -1-13 -1-3 -1,22 -1-16 -1,23 -1,3 -1-10 -1-39 -1,49 -1,8 -1-27 -1,36 -1-37 -1,10 -1,0 -1-6 -1,12 -1-3 -1-12 -1,21 -1-13 -1-7 -1,9 -1-1 -1,6 -1-3 -1-59 -1,49 -1-14 -1,30 -1-46 -1,40 -1-8 -1-5 -1,13 -1,2 -1,20 -1-31 -1,27 -1-38 -1,20 -1-38 -1,30 -1,5 -1-10 -1-18 -1,30 -1-11 -1,20 -1-18 -1,0 -1-4 -1,30 -1-24 -1,25 -1-38 -1,25 -1-2 -1,2 -1-10 -1,11 -1-15 -1,15 -1-15 -1,4 -1,16 -1-20 -1,3 -1,14 -1-40 -1,33 -1-26 -1,39 -1,4 -1-46 -1,17 -1,10 -1-14 -1,26 -1,7 -1-22 -1,8 -1,13 -1-29 -1,6 -1,10 -1-25 -1,12 -1-10 -1-18 -1,19 -1-2 -1,2 -1,25 -1,7 -1-27 -1-13 -1,21 -1-28 -1,23 -1-2 -1,6 -1-13 -1,25 -1,13 -1-25 -1-3 -1,6 -1,12 -1-5 -1-11 -1-7 -1,2 -1,8 -1-2 -1-7 -1,8 -1,0 -1-9 -1,3 -1,7 -1-8 -1,20 -1-16 -1,6 -1,2 -1,15 -1,3 -1-25 -1-6 -1,17 -1-4 -1-4 -1-2 -1-1 -1,29 -1-32 -1,9 -1,22 -1-8 -1-16 -1-2 -1-18 -1,23 -1-7 -1,13 -1-32 -1,43 -1-13 -1-27 -1,26 -1-66 -1,48 -1,5 -1,10 -1-7 -1,17 -1-17 -1,8 -1,10 -1-10 -1-5 -1,10 -1-12 -1,5 -1-17 -1,13 -1-14 -1,24 -1-44 -1,58 -1-26 -1,10 -1-58 -1,39 -1,11 -1,5 -1,7 -1-7 -1,10 -1-16 -1,10 -1,1 -1-6 -1-33 -1,22Z" vector-effect="non-scaling-stroke"/>
<path transform="matrix(0.63192 -0.16615 0 -0.77187 89.338 144.484)" d="M-2,2.2l1-22 1,33 1,6 1-1 1-10 1,16 1-10 1,7 1-7 1-5 1-11 1-39 1,58 1-10 1,26 1-58 1,44 1-24 1,14 1-13 1,17 1-5 1,12 1-10 1,5 1,10 1-10 1-8 1,17 1-17 1,7 1-10 1-5 1-48 1,66 1-26 1,27 1,13 1-43 1,32 1-13 1,7 1-23 1,18 1,2 1,16 1,8 1-22 1-9 1,32 1-29 1,1 1,2 1,4 1,4 1-17 1,6 1,25 1-3 1-15 1-2 1-6 1,16 1-20 1,8 1-7 1-3 1,9 1,0 1-8 1,7 1,2 1-8 1-2 1,7 1,11 1,5 1-12 1-6 1,3 1,25 1-13 1-25 1,13 1-6 1,2 1-23 1,28 1-21 1,13 1,27 1-7 1-25 1-2 1,2 1-19 1,18 1,10 1-12 1,25 1-10 1-6 1,29 1-13 1-8 1,22 1-7 1-26 1,14 1-10 1-17 1,46 1-4 1-39 1,26 1-33 1,40 1-14 1-3 1,20 1-16 1-4 1,15 1-15 1,15 1-11 1,10 1-2 1,2 1-25 1,38 1-25 1,24 1-30 1,4 1,0 1,18 1-20 1,11 1-30 1,18 1,10 1-5 1-30 1,38 1-20 1,38 1-27 1,31 1-20 1-2 1-13 1,5 1,8 1-40 1,46 1-30 1,14 1-49 1,59 1,3 1-6 1,1 1-9 1,7 1,13 1-21 1,12 1,3 1-12 1,6 1,0 1-10 1,37 1-36 1,27 1-8 1-49 1,39 1,10 1-3 1-23 1,16 1-22 1,3 1,13 1,5 1,18 1-16 1,9 1-32 1,1 1,11 1,29 1-43 1-5 1,25 1,16 1-42 1,23 1-18 1,40 1-9 1-6 1-4 1-2 1,4 1-10 1-4 1-4 1,17 1-12 1,23 1-49 1,45 1,0 1,8 1-19 1-21 1,11 1,28 1-18 1-2 1-2 1,7 1-2 1-23 1,17 1,22 1,5 1-20 1-5 1,24 1-20 1-15 1,16 1,11 1,11 1-27 1,14 1-12 1,19 1-11 1,0 1-18 1,10 1,0 1-57 1,73 1-11 1-3 1-2 1,5 1,3 1-24 1,22 1,0 1-1 1-24 1,22L260,-7l-1,9 -1,1 -1,8 -1-19 -1-24 -1,47 -1-45 -1,35 -1-19 -1,33 -1-18 -1,9 -1-7 -1,21 -1-1 -1-17 -1,10 -1,17 -1-27 -1,18 -1-39 -1,38 -1-13 -1-13 -1,11 -1,22 -1-34 -1,11 -1,9 -1-2 -1-5 -1,1 -1,9 -1-25 -1,8 -1,18 -1-15 -1-30 -1,26 -1,0 -1,9 -1-2 -1,4 -1,8 -1-11 -1-14 -1,13 -1,8 -1-11 -1,4 -1-1 -1,8 -1,1 -1-45 -1,45 -1-13 -1-3 -1,6 -1-12 -1,29 -1-21 -1,20 -1-27 -1-13 -1,15 -1,4 -1,9 -1,3 -1-29 -1,20 -1-14 -1,32 -1-18 -1,7 -1,29 -1-8 -1-45 -1,13 -1,19 -1-11 -1,12 -1-21 -1-6 -1-11 -1,29 -1,9 -1-16 -1,22 -1-8 -1-5 -1,19 -1-6 -1-49 -1,34 -1-5 -1-28 -1,31 -1-14 -1,25 -1,4 -1-16 -1-1 -1,12 -1-23 -1-7 -1,30 -1-15 -1,9 -1-4 -1-21 -1-19 -1,35 -1,26 -1-15 -1,14 -1-23 -1,15 -1,11 -1-12 -1,3 -1-12 -1-26 -1,21 -1-8 -1-13 -1,7 -1-7 -1-11 -1,51 -1-28 -1,9 -1-9 -1,10 -1-30 -1-11 -1,46 -1,3 -1-23 -1,25 -1-5 -1,6 -1-72 -1,59 -1,0 -1-4 -1,11 -1-11 -1,16 -1,1 -1,6 -1-16 -1-53 -1,52 -1-21 -1,18 -1-7 -1,11 -1,4 -1-12 -1-12 -1,35 -1-23 -1,18 -1-33 -1,18 -1-2 -1,9 -1-12 -1,29 -1-33 -1,8 -1,7 -1-12 -1-7 -1,38 -1-29 -1-9 -1,31 -1-11 -1-23 -1,26 -1-22 -1,6 -1,37 -1-25 -1-3 -1,24 -1-31 -1-16 -1,8 -1,0 -1,14 -1-14 -1,15 -1-6 -1,25 -1-17 -1-32 -1,13 -1,48 -1-40 -1,17 -1-8 -1,7 -1,6 -1,6 -1-27 -1-11 -1,43 -1-4 -1-22 -1,31 -1-21 -1-22 -1,0 -1,21 -1,8 -1-1 -1-20 -1,28 -1-4 -1-20 -1-5 -1,23 -1-14 -1-7 -1-35 -1,33 -1-7 -1,7 -1,8 -1,2 -1-26 -1,24 -1-22 -1,24 -1-14 -1-5 -1,23 -1-8 -1-5 -1,15 -1-4 -1,11 -1-2 -1-6 -1-68 -1,72 -1-6 -1-10 -1-7 -1,7 -1,6 -1,2 -1,2 -1-4 -1-16 -1,10 -1,14 -1-9Z" vector-effect="non-scaling-stroke"/>
<path transform="matrix(0.63192 -0.16615 0 -0.77187 90.600 145.050)" d="M-2,9.2l1,9 1-14 1-10 1,16 1,4 1-2 1-2 1-6 1-7 1,7 1,10 1,6 1-72 1,68 1,6 1,2 1-11 1,4 1-15 1,5 1,8 1-23 1,5 1,14 1-24 1,22 1-24 1,26 1-2 1-8 1-7 1,7 1-33 1,35 1,7 1,14 1-23 1,5 1,20 1,4 1-28 1,20 1,1 1-8 1-21 1,0 1,22 1,21 1-31 1,22 1,4 1-43 1,11 1,27 1-6 1-6 1-7 1,8 1-17 1,40 1-48 1-13 1,32 1,17 1-25 1,6 1-15 1,14 1-14 1,0 1-8 1,16 1,31 1-24 1,3 1,25 1-37 1-6 1,22 1-26 1,23 1,11 1-31 1,9 1,29 1-38 1,7 1,12 1-7 1-8 1,33 1-29 1,12 1-9 1,2 1-18 1,33 1-18 1,23 1-35 1,12 1,12 1-4 1-11 1,7 1-18 1,21 1-52 1,53 1,16 1-6 1-1 1-16 1,11 1-11 1,4 1,0 1-59 1,72 1-6 1,5 1-25 1,23 1-3 1-46 1,11 1,30 1-10 1,9 1-9 1,28 1-51 1,11 1,7 1-7 1,13 1,8 1-21 1,26 1,12 1-3 1,12 1-11 1-15 1,23 1-14 1,15 1-26 1-35 1,19 1,21 1,4 1-9 1,15 1-30 1,7 1,23 1-12 1,1 1,16 1-4 1-25 1,14 1-31 1,28 1,5 1-34 1,49 1,6 1-19 1,5 1,8 1-22 1,16 1-9 1-29 1,11 1,6 1,21 1-12 1,11 1-19 1-13 1,45 1,8 1-29 1-7 1,18 1-32 1,14 1-20 1,29 1-3 1-9 1-4 1-15 1,13 1,27 1-20 1,21 1-29 1,12 1-6 1,3 1,13 1-45 1,45 1-1 1-8 1,1 1-4 1,11 1-8 1-13 1,14 1,11 1-8 1-4 1,2 1-9 1,0 1-26 1,30 1,15 1-18 1-8 1,25 1-9 1-1 1,5 1,2 1-9 1-11 1,34 1-22 1-11 1,13 1,13 1-38 1,39 1-18 1,27 1-17 1-10 1,17 1,1 1-21 1,7 1-9 1,18 1-33 1,19 1-35 1,45 1-47 1,24 1,19 1-8 1-1 1-9L260,32l-1-22 -1,11 -1-10 -1-6 -1-10 -1,17 -1,0 -1-10 -1-1 -1-5 -1,13 -1,6 -1-11 -1,5 -1-9 -1,10 -1,7 -1-18 -1,4 -1,15 -1-15 -1-15 -1,2 -1,31 -1-20 -1,10 -1-6 -1-17 -1,30 -1-15 -1,6 -1-21 -1,20 -1,22 -1,3 -1-21 -1-14 -1,20 -1,0 -1,26 -1-85 -1,52 -1-8 -1,5 -1,3 -1-7 -1-5 -1-24 -1,45 -1-7 -1-3 -1-8 -1,21 -1,2 -1-33 -1-7 -1,11 -1,30 -1-9 -1-12 -1,18 -1-5 -1,0 -1,4 -1-8 -1-6 -1-18 -1,37 -1-43 -1,31 -1-8 -1,4 -1-3 -1-7 -1-17 -1,39 -1-6 -1-15 -1-12 -1,18 -1,5 -1,5 -1-21 -1-2 -1-13 -1,25 -1-17 -1,16 -1-5 -1,4 -1,2 -1-9 -1-14 -1,21 -1,5 -1,21 -1-32 -1,10 -1,4 -1-6 -1,7 -1,5 -1-37 -1,15 -1-47 -1,57 -1,15 -1-12 -1,11 -1-21 -1,27 -1-31 -1,24 -1-59 -1,47 -1-55 -1,82 -1-37 -1,9 -1-13 -1,6 -1,14 -1,13 -1-28 -1,3 -1-34 -1,46 -1-25 -1,21 -1-7 -1,4 -1-11 -1,19 -1-21 -1,21 -1,3 -1-28 -1,30 -1-12 -1-8 -1-8 -1,22 -1,20 -1-14 -1-2 -1-8 -1-25 -1,24 -1,6 -1-2 -1-5 -1-17 -1,16 -1-18 -1,35 -1-19 -1-2 -1,9 -1-12 -1,15 -1-56 -1,24 -1,25 -1,2 -1-4 -1,8 -1-9 -1-37 -1,40 -1,11 -1-4 -1-17 -1,4 -1,0 -1-5 -1-5 -1-7 -1,23 -1,2 -1-14 -1,5 -1,2 -1,13 -1,20 -1-38 -1,16 -1,1 -1-25 -1,23 -1,2 -1-25 -1,36 -1-23 -1,10 -1-6 -1-2 -1,0 -1,11 -1,20 -1-25 -1,0 -1-1 -1-8 -1-18 -1,24 -1-6 -1-3 -1,7 -1,1 -1-8 -1,24 -1-20 -1,8 -1,14 -1-24 -1,3 -1,5 -1-9 -1,1 -1-2 -1,2 -1,19 -1-14 -1,0 -1,7 -1-3 -1-6 -1-12 -1,29 -1-3 -1,4 -1-41 -1,9 -1,30 -1-9 -1-14 -1-5 -1,24 -1-5 -1-5 -1,0 -1-16 -1,52 -1-25 -1,3 -1-20 -1,17 -1-15 -1,12 -1,17 -1-25 -1,0 -1-11 -1,7 -1-2 -1,11 -1-8 -1,6 -1,6 -1,4Z" vector-effect="non-scaling-stroke"/>
<path transform="matrix(0.63192 -0.16615 0 -0.77187 91.862 145.616)" d="M-2,20.2l1-4 1-6 1-6 1,8 1-11 1,2 1-7 1,11 1,0 1,25 1-17 1-12 1,15 1-17 1,20 1-3 1,25 1-52 1,16 1,0 1,5 1,5 1-24 1,5 1,14 1,9 1-30 1-9 1,41 1-4 1,3 1-29 1,12 1,6 1,3 1-7 1,0 1,14 1-19 1-2 1,2 1-1 1,9 1-5 1-3 1,24 1-14 1-8 1,20 1-24 1,8 1-1 1-7 1,3 1,6 1-24 1,18 1,8 1,1 1,0 1,25 1-20 1-11 1,0 1,2 1,6 1-10 1,23 1-36 1,25 1-2 1-23 1,25 1-1 1-16 1,38 1-20 1-13 1-2 1-5 1,14 1-2 1-23 1,7 1,5 1,5 1,0 1-4 1,17 1,4 1-11 1-40 1,37 1,9 1-8 1,4 1-2 1-25 1-24 1,56 1-15 1,12 1-9 1,2 1,19 1-35 1,18 1-16 1,17 1,5 1,2 1-6 1-24 1,25 1,8 1,2 1,14 1-20 1-22 1,8 1,8 1,12 1-30 1,28 1-3 1-21 1,21 1-19 1,11 1-4 1,7 1-21 1,25 1-46 1,34 1-3 1,28 1-13 1-14 1-6 1,13 1-9 1,37 1-82 1,55 1-47 1,59 1-24 1,31 1-27 1,21 1-11 1,12 1-15 1-57 1,47 1-15 1,37 1-5 1-7 1,6 1-4 1-10 1,32 1-21 1-5 1-21 1,14 1,9 1-2 1-4 1,5 1-16 1,17 1-25 1,13 1,2 1,21 1-5 1-5 1-18 1,12 1,15 1,6 1-39 1,17 1,7 1,3 1-4 1,8 1-31 1,43 1-37 1,18 1,6 1,8 1-4 1,0 1,5 1-18 1,12 1,9 1-30 1-11 1,7 1,33 1-2 1-21 1,8 1,3 1,7 1-45 1,24 1,5 1,7 1-3 1-5 1,8 1-52 1,85 1-26 1,0 1-20 1,14 1,21 1-3 1-22 1-20 1,21 1-6 1,15 1-30 1,17 1,6 1-10 1,20 1-31 1-2 1,15 1,15 1-15 1-4 1,18 1-7 1-10 1,9 1-5 1,11 1-6 1-13 1,5 1,1 1,10 1,0 1-17 1,10 1,6 1,10 1-11 1,22L260,22l-1-14 -1-10 -1,4 -1-18 -1,21 -1,3 -1,1 -1-10 -1,2 -1,5 -1,11 -1-21 -1-2 -1,13 -1-2 -1-27 -1,18 -1,17 -1-7 -1-15 -1,26 -1-33 -1,26 -1,15 -1-9 -1-44 -1,35 -1,4 -1-20 -1,25 -1-24 -1-4 -1,40 -1-20 -1,5 -1-8 -1,4 -1-31 -1,26 -1,12 -1-8 -1-5 -1,6 -1,1 -1,13 -1-11 -1-15 -1,20 -1-12 -1,6 -1-2 -1-7 -1,20 -1-37 -1,20 -1-18 -1-10 -1,37 -1-8 -1,21 -1-40 -1,14 -1-26 -1,29 -1-11 -1,27 -1-31 -1,19 -1-17 -1,16 -1,2 -1-8 -1,10 -1-9 -1-4 -1,16 -1-13 -1-13 -1,13 -1,41 -1-41 -1,3 -1,13 -1,1 -1-51 -1,29 -1,31 -1-11 -1-10 -1,10 -1,0 -1,2 -1-17 -1,14 -1,1 -1,18 -1-24 -1-1 -1-5 -1-10 -1-18 -1-8 -1,46 -1-6 -1-2 -1-19 -1,28 -1-18 -1,5 -1-7 -1,20 -1-10 -1,21 -1-1 -1-31 -1,27 -1-35 -1-13 -1,30 -1,17 -1-22 -1-2 -1,18 -1-3 -1-36 -1,47 -1-21 -1,12 -1-5 -1-2 -1,11 -1-20 -1,5 -1-9 -1,4 -1,27 -1-6 -1-7 -1,4 -1-20 -1,22 -1-44 -1,44 -1-38 -1,2 -1,1 -1,18 -1-1 -1,11 -1-13 -1-28 -1-8 -1,30 -1,13 -1,15 -1,5 -1-11 -1-10 -1,8 -1-18 -1,17 -1-43 -1,25 -1,33 -1-10 -1-19 -1,18 -1-9 -1-8 -1,18 -1-6 -1-7 -1,40 -1-20 -1,0 -1-6 -1-12 -1-7 -1-9 -1,9 -1-14 -1,37 -1-10 -1,8 -1,14 -1-35 -1-16 -1,26 -1,12 -1-32 -1,21 -1-10 -1,36 -1-28 -1,12 -1,3 -1-15 -1-17 -1,9 -1,11 -1-15 -1-3 -1,13 -1,17 -1-10 -1-11 -1,30 -1-2 -1-25 -1-9 -1,16 -1,24 -1-46 -1,6 -1,10 -1,7 -1-16 -1,18 -1-5 -1,19 -1,9 -1-20 -1-26 -1,27 -1-14 -1-21 -1,32 -1,14 -1-77 -1,36 -1,43 -1-21 -1,5 -1,5 -1-60 -1,46 -1,11 -1-6 -1,2 -1,2 -1-5 -1,1 -1,14 -1-44 -1,19 -1,0 -1,18 -1-30 -1,16 -1,17 -1,11 -1-23 -1,27 -1-24 -1-4 -1,18 -1-6 -1,3 -1-12 -1-4Z" vector-effect="non-scaling-stroke"/>
<path transform="matrix(0.63192 -0.16615 0 -0.77187 93.124 146.182)" d="M-2,7.2l1,4 1,12 1-3 1,6 1-18 1,4 1,24 1-27 1,23 1-11 1-17 1-16 1,30 1-18 1,0 1-19 1,44 1-14 1-1 1,5 1-2 1-2 1,6 1-11 1-46 1,60 1-5 1-5 1,21 1-43 1-36 1,77 1-14 1-32 1,21 1,14 1-27 1,26 1,20 1-9 1-19 1,5 1-18 1,16 1-7 1-10 1-6 1,46 1-24 1-16 1,9 1,25 1,2 1-30 1,11 1,10 1-17 1-13 1,3 1,15 1-11 1-9 1,17 1,15 1-3 1-12 1,28 1-36 1,10 1-21 1,32 1-12 1-26 1,16 1,35 1-14 1-8 1,10 1-37 1,14 1-9 1,9 1,7 1,12 1,6 1,0 1,20 1-40 1,7 1,6 1-18 1,8 1,9 1-18 1,19 1,10 1-33 1-25 1,43 1-17 1,18 1-8 1,10 1,11 1-5 1-15 1-13 1-30 1,8 1,28 1,13 1-11 1,1 1-18 1-1 1-2 1,38 1-44 1,44 1-22 1,20 1-4 1,7 1,6 1-27 1-4 1,9 1-5 1,20 1-11 1,2 1,5 1-12 1,21 1-47 1,36 1,3 1-18 1,2 1,22 1-17 1-30 1,13 1,35 1-27 1,31 1,1 1-21 1,10 1-20 1,7 1-5 1,18 1-28 1,19 1,2 1,6 1-46 1,8 1,18 1,10 1,5 1,1 1,24 1-18 1-1 1-14 1,17 1-2 1,0 1-10 1,10 1,11 1-31 1-29 1,51 1-1 1-13 1-3 1,41 1-41 1-13 1,13 1,13 1-16 1,4 1,9 1-10 1,8 1-2 1-16 1,17 1-19 1,31 1-27 1,11 1-29 1,26 1-14 1,40 1-21 1,8 1-37 1,10 1,18 1-20 1,37 1-20 1,7 1,2 1-6 1,12 1-20 1,15 1,11 1-13 1-1 1-6 1,5 1,8 1-12 1-26 1,31 1-4 1,8 1-5 1,20 1-40 1,4 1,24 1-25 1,20 1-4 1-35 1,44 1,9 1-15 1-26 1,33 1-26 1,15 1,7 1-17 1-18 1,27 1,2 1-13 1,2 1,21 1-11 1-5 1-2 1,10 1-1 1-3 1-21 1,18 1-4 1,10 1,14L260,15l-1,8 -1-17 -1,5 -1-3 -1-4 -1,8 -1-26 -1,27 -1-1 -1-10 -1-1 -1,25 -1-19 -1,2 -1,31 -1-18 -1,9 -1-19 -1,20 -1-19 -1,8 -1-14 -1-5 -1,11 -1-16 -1-2 -1,23 -1-3 -1-3 -1-26 -1,22 -1,11 -1-13 -1,7 -1,5 -1-1 -1-23 -1,6 -1,16 -1,2 -1-2 -1-7 -1,14 -1-19 -1-7 -1,26 -1-37 -1,35 -1-1 -1-18 -1,11 -1-6 -1,4 -1-15 -1,31 -1-20 -1-10 -1-49 -1,64 -1,4 -1-67 -1,84 -1-6 -1-4 -1-45 -1,36 -1-15 -1,17 -1-54 -1,49 -1-4 -1,27 -1-34 -1,21 -1,1 -1-24 -1,22 -1-2 -1-29 -1,8 -1,22 -1-28 -1,16 -1,10 -1-27 -1,27 -1-3 -1-11 -1-1 -1-14 -1,22 -1,11 -1-20 -1,18 -1,0 -1,2 -1-9 -1,12 -1-19 -1,14 -1-34 -1,22 -1,10 -1-9 -1-9 -1-18 -1,42 -1,7 -1-31 -1,12 -1,5 -1-7 -1,8 -1-15 -1-6 -1,31 -1-9 -1,12 -1-18 -1,4 -1-11 -1,1 -1-10 -1-5 -1,22 -1,19 -1-19 -1,8 -1-7 -1-9 -1,11 -1,6 -1-12 -1-6 -1-12 -1,34 -1-15 -1-32 -1,41 -1-4 -1-9 -1,0 -1-7 -1,8 -1-2 -1,5 -1,16 -1-31 -1-4 -1,3 -1,10 -1,11 -1-7 -1,26 -1-16 -1,2 -1-16 -1,34 -1-35 -1-5 -1-23 -1,15 -1,26 -1-8 -1,9 -1,1 -1-22 -1,15 -1-7 -1,3 -1,6 -1-23 -1,42 -1-26 -1,12 -1-1 -1,5 -1-7 -1,14 -1-35 -1,19 -1-14 -1,2 -1-2 -1-25 -1,37 -1-42 -1,46 -1,4 -1-4 -1,2 -1-20 -1-15 -1,12 -1-25 -1,53 -1-42 -1,26 -1-13 -1-9 -1,37 -1-12 -1,2 -1-19 -1,17 -1,20 -1-20 -1-11 -1,13 -1-11 -1,23 -1-11 -1-15 -1,21 -1-1 -1-4 -1-2 -1-12 -1,7 -1,13 -1-7 -1-6 -1,20 -1-11 -1-9 -1,8 -1-24 -1,14 -1-6 -1,28 -1-25 -1,32 -1-20 -1,9 -1-22 -1,7 -1-5 -1,9 -1,6 -1-1 -1-41 -1,33 -1-12 -1,4 -1-7 -1-29 -1,44 -1,3 -1-34 -1,48 -1,12 -1-26 -1,9 -1-7 -1,9 -1-14 -1,8 -1-9 -1,37 -1-29Z" vector-effect="non-scaling-stroke"/>
<path transform="matrix(0.63192 -0.16615 0 -0.77187 94.386 146.748)" d="M-2,17.2l1,29 1-37 1,9 1-8 1,14 1-9 1,7 1-9 1,26 1-12 1-48 1,34 1-3 1-44 1,29 1,7 1-4 1,12 1-33 1,41 1,1 1-6 1-9 1,5 1-7 1,22 1-9 1,20 1-32 1,25 1-28 1,6 1-14 1,24 1-8 1,9 1,11 1-20 1,6 1,7 1-13 1-7 1,12 1,2 1,4 1,1 1-21 1,15 1,11 1-23 1,11 1-13 1,11 1,20 1-20 1-17 1,19 1-2 1,12 1-37 1,9 1,13 1-26 1,42 1-53 1,25 1-12 1,15 1,20 1-2 1,4 1-4 1-46 1,42 1-37 1,25 1,2 1-2 1,14 1-19 1,35 1-14 1,7 1-5 1,1 1-12 1,26 1-42 1,23 1-6 1-3 1,7 1-15 1,22 1-1 1-9 1,8 1-26 1-15 1,23 1,5 1,35 1-34 1,16 1-2 1,16 1-26 1,7 1-11 1-10 1-3 1,4 1,31 1-16 1-5 1,2 1-8 1,7 1,0 1,9 1,4 1-41 1,32 1,15 1-34 1,12 1,6 1,12 1-6 1-11 1,9 1,7 1-8 1,19 1-19 1-22 1,5 1,10 1-1 1,11 1-4 1,18 1-12 1,9 1-31 1,6 1,15 1-8 1,7 1-5 1-12 1,31 1-7 1-42 1,18 1,9 1,9 1-10 1-22 1,34 1-14 1,19 1-12 1,9 1-2 1,0 1-18 1,20 1-11 1-22 1,14 1,1 1,11 1,3 1-27 1,27 1-10 1-16 1,28 1-22 1-8 1,29 1,2 1-22 1,24 1-1 1-21 1,34 1-27 1,4 1-49 1,54 1-17 1,15 1-36 1,45 1,4 1,6 1-84 1,67 1-4 1-64 1,49 1,10 1,20 1-31 1,15 1-4 1,6 1-11 1,18 1,1 1-35 1,37 1-26 1,7 1,19 1-14 1,7 1,2 1-2 1-16 1-6 1,23 1,1 1-5 1-7 1,13 1-11 1-22 1,26 1,3 1,3 1-23 1,2 1,16 1-11 1,5 1,14 1-8 1,19 1-20 1,19 1-9 1,18 1-31 1-2 1,19 1-25 1,1 1,10 1,1 1-27 1,26 1-8 1,4 1,3 1-5 1,17 1-8L260,5l-1-10 -1,11 -1-13 -1,20 -1-4 -1,2 -1-17 -1,22 -1-16 -1,19 -1-16 -1,9 -1-30 -1,13 -1,15 -1-5 -1-8 -1-9 -1-24 -1,44 -1-4 -1-12 -1-19 -1,31 -1,16 -1-19 -1,22 -1-24 -1,28 -1-40 -1,44 -1-18 -1,14 -1-22 -1,22 -1,5 -1-7 -1-14 -1-13 -1,6 -1,0 -1-6 -1,15 -1-13 -1,27 -1-26 -1,12 -1,5 -1-11 -1,12 -1-23 -1,8 -1,11 -1,4 -1-12 -1-22 -1,31 -1,19 -1-45 -1-34 -1,64 -1-28 -1,3 -1-8 -1,39 -1-15 -1-3 -1-29 -1,28 -1-1 -1,16 -1-2 -1-4 -1-18 -1,20 -1-9 -1-24 -1,4 -1,37 -1-22 -1,19 -1-23 -1-9 -1,14 -1,1 -1-4 -1,5 -1,5 -1-23 -1,13 -1,5 -1,10 -1-5 -1,14 -1-3 -1-19 -1,12 -1-24 -1,30 -1-11 -1-26 -1,5 -1-20 -1,41 -1,19 -1-43 -1,13 -1-2 -1-3 -1-7 -1,10 -1,14 -1,7 -1,4 -1-13 -1,2 -1-9 -1,18 -1-8 -1,11 -1-43 -1,18 -1-2 -1,0 -1-1 -1,10 -1,19 -1-39 -1,16 -1,21 -1-13 -1,26 -1-28 -1-6 -1,1 -1,23 -1,12 -1-31 -1-4 -1,11 -1-5 -1,22 -1-22 -1-35 -1,41 -1-43 -1,50 -1-9 -1-26 -1,20 -1,12 -1-2 -1-39 -1,28 -1,12 -1,7 -1-28 -1,11 -1-9 -1,7 -1-9 -1,18 -1,0 -1,12 -1,0 -1-15 -1,22 -1-55 -1,16 -1-17 -1,15 -1,35 -1-49 -1,20 -1,5 -1,6 -1,7 -1-6 -1,0 -1,23 -1-40 -1,11 -1,3 -1-6 -1-11 -1-8 -1,37 -1-18 -1,25 -1-1 -1-36 -1,24 -1-17 -1-24 -1,29 -1-1 -1,17 -1,3 -1-4 -1-12 -1,13 -1-14 -1-15 -1-1 -1,15 -1-4 -1-9 -1,0 -1,16 -1,2 -1,2 -1-4 -1,1 -1,27 -1-19 -1,6 -1-36 -1,30 -1-18 -1,11 -1-6 -1,12 -1-1 -1,12 -1-42 -1,33 -1-12 -1,16 -1,1 -1,0 -1-12 -1-6 -1-30 -1,33 -1,19 -1-15 -1-5 -1,5 -1-13 -1-4 -1,9 -1-12 -1,25 -1-16 -1,23 -1-25 -1,28 -1-26 -1,10 -1,18 -1-53 -1,38 -1,15 -1-2 -1-28 -1,39 -1-24 -1-24 -1,45 -1-39Z" vector-effect="non-scaling-stroke"/>
<path transform="matrix(0.63192 -0.16615 0 -0.77187 95.648 147.314)" d="M-2,-4.8l1,39 1-45 1,24 1,24 1-39 1,28 1,2 1-15 1-38 1,53 1-18 1-10 1,26 1-28 1,25 1-23 1,16 1-25 1,12 1-9 1,4 1,13 1-5 1,5 1,15 1-19 1-33 1,30 1,6 1,12 1,0 1-1 1-16 1,12 1-33 1,42 1-12 1,1 1-12 1,6 1-11 1,18 1-30 1,36 1-6 1,19 1-27 1-1 1,4 1-2 1-2 1-16 1,0 1,9 1,4 1-15 1,1 1,15 1,14 1-13 1,12 1,4 1-3 1-17 1,1 1-29 1,24 1,17 1-24 1,36 1,1 1-25 1,18 1-37 1,8 1,11 1,6 1-3 1-11 1,40 1-23 1,0 1,6 1-7 1-6 1-5 1-20 1,49 1-35 1-15 1,17 1-16 1,55 1-22 1,15 1,0 1-12 1,0 1-18 1,9 1-7 1,9 1-11 1,28 1-7 1-12 1-28 1,39 1,2 1-12 1-20 1,26 1,9 1-50 1,43 1-41 1,35 1,22 1-22 1,5 1-11 1,4 1,31 1-12 1-23 1-1 1,6 1,28 1-26 1,13 1-21 1-16 1,39 1-19 1-10 1,1 1,0 1,2 1-18 1,43 1-11 1,8 1-18 1,9 1-2 1,13 1-4 1-7 1-14 1-10 1,7 1,3 1,2 1-13 1,43 1-19 1-41 1,20 1-5 1,26 1,11 1-30 1,24 1-12 1,19 1,3 1-14 1,5 1-10 1-5 1-13 1,23 1-5 1-5 1,4 1-1 1-14 1,9 1,23 1-19 1,22 1-37 1-4 1,24 1,9 1-20 1,18 1,4 1,2 1-16 1,1 1-28 1,29 1,3 1,15 1-39 1,8 1-3 1,28 1-64 1,34 1,45 1-19 1-31 1,22 1,12 1-4 1-11 1-8 1,23 1-12 1,11 1-5 1-12 1,26 1-27 1,13 1-15 1,6 1,0 1-6 1,13 1,14 1,7 1-5 1-22 1,22 1-14 1,18 1-44 1,40 1-28 1,24 1-22 1,19 1-16 1-31 1,19 1,12 1,4 1-44 1,24 1,9 1,8 1,5 1-15 1-13 1,30 1-9 1,16 1-19 1,16 1-22 1,17 1-2 1,4 1-20 1,13 1-11 1,10L260,10l-1,2 -1-13 -1,5 -1-10 -1,4 -1-2 -1,13 -1-13 -1,41 -1-30 -1-5 -1,0 -1-4 -1-13 -1,24 -1,7 -1-44 -1-6 -1,23 -1,22 -1,1 -1-12 -1,23 -1-7 -1-11 -1-15 -1,32 -1-22 -1-3 -1,15 -1-28 -1,27 -1-1 -1,14 -1-22 -1,8 -1-1 -1,2 -1,9 -1-10 -1,17 -1-31 -1-7 -1,6 -1,22 -1-2 -1-19 -1,22 -1-1 -1,15 -1-34 -1,36 -1-23 -1,13 -1-36 -1,35 -1-14 -1,9 -1-27 -1,25 -1-22 -1,11 -1,18 -1-17 -1-2 -1,36 -1-63 -1,36 -1,0 -1,13 -1-77 -1,70 -1-18 -1,20 -1,11 -1-26 -1,16 -1-16 -1,2 -1-7 -1-5 -1-6 -1,9 -1,18 -1,3 -1-2 -1-7 -1-8 -1,20 -1-28 -1,0 -1-2 -1,2 -1-43 -1,42 -1-25 -1,23 -1-12 -1,26 -1,3 -1-21 -1,29 -1,6 -1-25 -1-14 -1-4 -1,14 -1,27 -1-42 -1,36 -1-9 -1,11 -1-18 -1,6 -1-18 -1,16 -1,10 -1,5 -1,3 -1-9 -1-16 -1,31 -1-19 -1,7 -1,25 -1-28 -1-6 -1-21 -1,2 -1,2 -1,1 -1,26 -1-4 -1-2 -1,2 -1-12 -1-3 -1,5 -1,24 -1,3 -1-15 -1-35 -1,48 -1-19 -1,1 -1-15 -1,3 -1,17 -1-18 -1,20 -1-12 -1,18 -1-23 -1-11 -1,13 -1,14 -1-7 -1-12 -1,38 -1-20 -1-2 -1-2 -1-16 -1,13 -1,6 -1-4 -1-4 -1,10 -1-48 -1,14 -1,44 -1-41 -1,34 -1-25 -1,24 -1-10 -1,15 -1-11 -1,16 -1-14 -1-33 -1,36 -1,14 -1-26 -1,4 -1-14 -1,7 -1-6 -1,15 -1-2 -1,7 -1-31 -1,34 -1,2 -1-55 -1,1 -1,65 -1-20 -1-3 -1,26 -1-27 -1-14 -1,9 -1,35 -1-21 -1-7 -1-24 -1,45 -1-9 -1-32 -1,17 -1,1 -1,2 -1-24 -1,33 -1-18 -1,9 -1,16 -1-25 -1,0 -1,6 -1,19 -1-10 -1-10 -1-12 -1,6 -1,9 -1,12 -1-10 -1,16 -1-16 -1,7 -1-4 -1,1 -1-13 -1,14 -1,5 -1-8 -1-4 -1,2 -1,13 -1,3 -1-11 -1-15 -1,29 -1-66 -1,35 -1,6 -1,1 -1,9 -1-44 -1,27 -1,13 -1-14 -1-9 -1,4 -1,22 -1-9 -1,21 -1-21Z" vector-effect="non-scaling-stroke"/>
<path transform="matrix(0.63192 -0.16615 0 -0.77187 96.910 147.880)" d="M-2,5.2l1,21 1-21 1,9 1-22 1-4 1,9 1,14 1-13 1-27 1,44 1-9 1-1 1-6 1-35 1,66 1-29 1,15 1,11 1-3 1-13 1-2 1,4 1,8 1-5 1-14 1,13 1-1 1,4 1-7 1,16 1-16 1,10 1-12 1-9 1-6 1,12 1,10 1,10 1-19 1-6 1,0 1,25 1-16 1-9 1,18 1-33 1,24 1-2 1-1 1-17 1,32 1,9 1-45 1,24 1,7 1,21 1-35 1-9 1,14 1,27 1-26 1,3 1,20 1-65 1-1 1,55 1-2 1-34 1,31 1-7 1,2 1-15 1,6 1-7 1,14 1-4 1,26 1-14 1-36 1,33 1,14 1-16 1,11 1-15 1,10 1-24 1,25 1-34 1,41 1-44 1-14 1,48 1-10 1,4 1,4 1-6 1-13 1,16 1,2 1,2 1,20 1-38 1,12 1,7 1-14 1-13 1,11 1,23 1-18 1,12 1-20 1,18 1-17 1-3 1,15 1-1 1,19 1-48 1,35 1,15 1-3 1-24 1-5 1,3 1,12 1-2 1,2 1,4 1-26 1-1 1-2 1-2 1,21 1,6 1,28 1-25 1-7 1,19 1-31 1,16 1,9 1-3 1-5 1-10 1-16 1,18 1-6 1,18 1-11 1,9 1-36 1,42 1-27 1-14 1,4 1,14 1,25 1-6 1-29 1,21 1-3 1-26 1,12 1-23 1,25 1-42 1,43 1-2 1,2 1,0 1,28 1-20 1,8 1,7 1,2 1-3 1-18 1-9 1,6 1,5 1,7 1-2 1,16 1-16 1,26 1-11 1-20 1,18 1-70 1,77 1-13 1,0 1-36 1,63 1-36 1,2 1,17 1-18 1-11 1,22 1-25 1,27 1-9 1,14 1-35 1,36 1-13 1,23 1-36 1,34 1-15 1,1 1-22 1,19 1,2 1-22 1-6 1,7 1,31 1-17 1,10 1-9 1-2 1,1 1-8 1,22 1-14 1,1 1-27 1,28 1-15 1,3 1,22 1-32 1,15 1,11 1,7 1-23 1,12 1-1 1-22 1-23 1,6 1,44 1-7 1-24 1,13 1,4 1,0 1,5 1,30 1-41 1,13 1-13 1,2 1-4 1,10 1-5 1,13 1-2L260,7l-1,37 -1-45 -1,37 -1-37 -1-14 -1,12 -1,17 -1,16 -1-24 -1,4 -1,21 -1-5 -1-33 -1,12 -1-4 -1,16 -1-16 -1-14 -1,20 -1-3 -1-15 -1-8 -1,37 -1-14 -1,31 -1-12 -1-1 -1-19 -1,29 -1-27 -1,3 -1-46 -1,41 -1-31 -1,31 -1,9 -1,24 -1-68 -1,62 -1-10 -1-12 -1,17 -1-24 -1,13 -1-12 -1,32 -1-18 -1,12 -1,0 -1-20 -1-3 -1-3 -1,17 -1-11 -1,29 -1-68 -1,45 -1,1 -1,7 -1-11 -1,1 -1-14 -1-21 -1,22 -1,24 -1-11 -1-37 -1,31 -1,11 -1-10 -1,13 -1-5 -1-31 -1,56 -1-76 -1,58 -1-34 -1,26 -1-17 -1-1 -1,7 -1-18 -1,11 -1,1 -1,2 -1,18 -1-44 -1-3 -1,49 -1,0 -1,2 -1-26 -1,23 -1-10 -1-5 -1,6 -1-9 -1,19 -1,0 -1-40 -1,41 -1-12 -1-24 -1,9 -1,30 -1-14 -1,9 -1,15 -1-23 -1,3 -1-32 -1,6 -1-21 -1-1 -1,54 -1,3 -1-31 -1,1 -1,5 -1,26 -1-6 -1-12 -1-9 -1,40 -1-24 -1-31 -1,31 -1-4 -1-10 -1-7 -1-8 -1,12 -1,36 -1-35 -1,11 -1,33 -1-36 -1,11 -1-3 -1-38 -1,55 -1-55 -1,21 -1,7 -1-22 -1,19 -1,11 -1,11 -1-4 -1,0 -1-6 -1-7 -1-3 -1-4 -1,13 -1-15 -1-8 -1,22 -1-10 -1,25 -1-20 -1,14 -1-7 -1,4 -1-24 -1,17 -1,29 -1-34 -1,23 -1-16 -1-50 -1,53 -1,5 -1,8 -1-30 -1,28 -1-6 -1-14 -1,6 -1,20 -1-28 -1-9 -1-13 -1,24 -1,25 -1-24 -1-7 -1,28 -1-39 -1,17 -1-4 -1,17 -1-7 -1-24 -1,15 -1,1 -1,20 -1-29 -1-4 -1,23 -1-11 -1,22 -1-68 -1,43 -1,6 -1,17 -1-18 -1,30 -1-15 -1-44 -1,36 -1,22 -1-42 -1,31 -1-30 -1,21 -1,0 -1,2 -1,8 -1-71 -1,29 -1,29 -1-46 -1,32 -1-12 -1,26 -1-5 -1-2 -1-32 -1,18 -1,8 -1,35 -1-28 -1-10 -1-29 -1,24 -1,20 -1-14 -1,7 -1,10 -1-38 -1,58 -1-11 -1,2 -1-17 -1,5 -1,14 -1-16 -1-13 -1,16 -1-26 -1,35 -1-5 -1,8 -1-27 -1,11 -1-6 -1,5 -1,13 -1-17Z" vector-effect="non-scaling-stroke"/>
<path transform="matrix(0.63192 -0.16615 0 -0.77187 98.172 148.446)" d="M-2,3.2l1,17 1-13 1-5 1,6 1-11 1,27 1-8 1,5 1-35 1,26 1-16 1,13 1,16 1-14 1-5 1,17 1-2 1,11 1-58 1,38 1-10 1-7 1,14 1-20 1-24 1,29 1,10 1,28 1-35 1-8 1-18 1,32 1,2 1,5 1-26 1,12 1-32 1,46 1-29 1-29 1,71 1-8 1-2 1,0 1-21 1,30 1-31 1,42 1-22 1-36 1,44 1,15 1-30 1,18 1-17 1-6 1-43 1,68 1-22 1,11 1-23 1,4 1,29 1-20 1-1 1-15 1,24 1,7 1-17 1,4 1-17 1,39 1-28 1,7 1,24 1-25 1-24 1,13 1,9 1,28 1-20 1-6 1,14 1,6 1-28 1,30 1-8 1-5 1-53 1,50 1,16 1-23 1,34 1-29 1-17 1,24 1-4 1,7 1-14 1,20 1-25 1,10 1-22 1,8 1,15 1-13 1,4 1,3 1,7 1,6 1,0 1,4 1-11 1-11 1-19 1,22 1-7 1-21 1,55 1-55 1,38 1,3 1-11 1,36 1-33 1-11 1,35 1-36 1-12 1,8 1,7 1,10 1,4 1-31 1,31 1,24 1-40 1,9 1,12 1,6 1-26 1-5 1-1 1,31 1-3 1-54 1,1 1,21 1-6 1,32 1-3 1,23 1-15 1-9 1,14 1-30 1-9 1,24 1,12 1-41 1,40 1,0 1-19 1,9 1-6 1,5 1,10 1-23 1,26 1-2 1,0 1-49 1,3 1,44 1-18 1-2 1-1 1-11 1,18 1-7 1,1 1,17 1-26 1,34 1-58 1,76 1-56 1,31 1,5 1-13 1,10 1-11 1-31 1,37 1,11 1-24 1-22 1,21 1,14 1-1 1,11 1-7 1-1 1-45 1,68 1-29 1,11 1-17 1,3 1,3 1,20 1,0 1-12 1,18 1-32 1,12 1-13 1,24 1-17 1,12 1,10 1-62 1,68 1-24 1-9 1-31 1,31 1-41 1,46 1-3 1,27 1-29 1,19 1,1 1,12 1-31 1,14 1-37 1,8 1,15 1,3 1-20 1,14 1,16 1-16 1,4 1-12 1,33 1,5 1-21 1-4 1,24 1-16 1-17 1-12 1,14 1,37 1-37 1,45 1-37L260,13l-1,1 -1-12 -1,36 -1-35 -1,12 -1-13 -1,13 -1-11 -1,20 -1-4 -1-10 -1,9 -1,11 -1-40 -1,15 -1,7 -1-3 -1,3 -1,12 -1-34 -1,14 -1,13 -1-18 -1,30 -1-8 -1-13 -1-7 -1,8 -1,0 -1-19 -1,11 -1-22 -1,19 -1,21 -1-6 -1-32 -1,18 -1-20 -1,6 -1,19 -1,0 -1,21 -1-39 -1,21 -1,4 -1-47 -1,46 -1-10 -1,17 -1-18 -1,4 -1,33 -1-30 -1-4 -1-7 -1,21 -1-24 -1,19 -1-8 -1-21 -1,28 -1,8 -1-17 -1-41 -1,45 -1,0 -1,6 -1-8 -1-10 -1,19 -1-5 -1-20 -1,8 -1-34 -1,43 -1-24 -1,40 -1,13 -1-11 -1-5 -1,9 -1,5 -1-56 -1,28 -1-21 -1,30 -1-4 -1,10 -1-8 -1-2 -1-5 -1-2 -1,20 -1,2 -1-35 -1,14 -1-4 -1,24 -1-22 -1,17 -1,10 -1-8 -1-1 -1-30 -1-1 -1,6 -1,3 -1-15 -1,14 -1,44 -1-20 -1-23 -1,11 -1,7 -1,2 -1-20 -1,8 -1,9 -1-14 -1-6 -1,17 -1-4 -1,9 -1-8 -1-1 -1,11 -1-10 -1,10 -1-25 -1-17 -1,9 -1,28 -1-3 -1-28 -1-3 -1,48 -1-16 -1-20 -1-5 -1,46 -1-42 -1,4 -1-8 -1,16 -1-1 -1,13 -1-13 -1,1 -1,8 -1-12 -1,44 -1-65 -1,33 -1-10 -1,8 -1-1 -1,11 -1-13 -1,9 -1-9 -1,10 -1-19 -1,12 -1-16 -1,14 -1,7 -1-17 -1-9 -1,19 -1-29 -1,36 -1,22 -1-18 -1-13 -1,6 -1,5 -1-39 -1-7 -1,47 -1,18 -1-51 -1,29 -1-18 -1,30 -1-5 -1,15 -1-21 -1-37 -1,24 -1,22 -1,10 -1-53 -1,26 -1-1 -1-10 -1-6 -1,36 -1-9 -1-38 -1,29 -1,13 -1-9 -1,11 -1-28 -1,20 -1-2 -1,12 -1-9 -1,0 -1,28 -1-13 -1,14 -1-31 -1,9 -1-3 -1,9 -1,1 -1-18 -1-5 -1-15 -1,12 -1-9 -1,17 -1,6 -1,0 -1-14 -1,5 -1,15 -1-18 -1,16 -1-28 -1-4 -1,2 -1,20 -1-36 -1,17 -1,6 -1-11 -1,22 -1,9 -1-7 -1-3 -1,6 -1-13 -1,1 -1,1 -1,5 -1,4 -1,11 -1-7 -1,8 -1-6 -1-19 -1,4 -1,24 -1-32 -1,9 -1-7 -1,23 -1-15Z" vector-effect="non-scaling-stroke"/>
<path transform="matrix(0.63192 -0.16615 0 -0.77187 99.434 149.012)" d="M-2,4.2l1,15 1-23 1,7 1-9 1,32 1-24 1-4 1,19 1,6 1-8 1,7 1-11 1-4 1-5 1-1 1-1 1,13 1-6 1,3 1,7 1-9 1-22 1,11 1-6 1-17 1,36 1-20 1-2 1,4 1,28 1-16 1,18 1-15 1-5 1,14 1,0 1-6 1-17 1,9 1-12 1,15 1,5 1,18 1-1 1-9 1,3 1-9 1,31 1-14 1,13 1-28 1,0 1,9 1-12 1,2 1-20 1,28 1-11 1,9 1-13 1-29 1,38 1,9 1-36 1,6 1,10 1,1 1-26 1,53 1-10 1-22 1-24 1,37 1,21 1-15 1,5 1-30 1,18 1-29 1,51 1-18 1-47 1,7 1,39 1-5 1-6 1,13 1,18 1-22 1-36 1,29 1-19 1,9 1,17 1-7 1-14 1,16 1-12 1,19 1-10 1,9 1-9 1,13 1-11 1,1 1-8 1,10 1-33 1,65 1-44 1,12 1-8 1-1 1,13 1-13 1,1 1-16 1,8 1-4 1,42 1-46 1,5 1,20 1,16 1-48 1,3 1,28 1,3 1-28 1-9 1,17 1,25 1-10 1,10 1-11 1,1 1,8 1-9 1,4 1-17 1,6 1,14 1-9 1-8 1,20 1-2 1-7 1-11 1,23 1,20 1-44 1-14 1,15 1-3 1-6 1,1 1,30 1,1 1,8 1-10 1-17 1,22 1-24 1,4 1-14 1,35 1-2 1-20 1,2 1,5 1,2 1,8 1-10 1,4 1-30 1,21 1-28 1,56 1-5 1-9 1,5 1,11 1-13 1-40 1,24 1-43 1,34 1-8 1,20 1,5 1-19 1,10 1,8 1-6 1,0 1-45 1,41 1,17 1-8 1-28 1,21 1,8 1-19 1,24 1-21 1,7 1,4 1,30 1-33 1-4 1,18 1-17 1,10 1-46 1,47 1-4 1-21 1,39 1-21 1,0 1-19 1-6 1,20 1-18 1,32 1,6 1-21 1-19 1,22 1-11 1,19 1,0 1-8 1,7 1,13 1,8 1-30 1,18 1-13 1-14 1,34 1-12 1-3 1,3 1-7 1-15 1,40 1-11 1-9 1,10 1,4 1-20 1,11 1-13 1,13 1-12 1,35 1-36 1,12 1-1L260,-16l-1,29 -1-2 -1,9 -1-12 -1-6 -1,2 -1-8 -1,17 -1-10 -1-13 -1,16 -1-12 -1,18 -1-3 -1,4 -1-2 -1-33 -1,45 -1,3 -1,9 -1-62 -1,7 -1,31 -1-11 -1,31 -1-31 -1,22 -1-6 -1-22 -1,14 -1-4 -1,11 -1-19 -1,12 -1,19 -1-28 -1,22 -1-57 -1,21 -1,24 -1,6 -1-13 -1,7 -1-10 -1-7 -1,17 -1-10 -1,28 -1-27 -1,7 -1,4 -1,8 -1-15 -1-4 -1,11 -1-7 -1-3 -1,25 -1-8 -1-23 -1-1 -1-11 -1,19 -1-5 -1-4 -1,22 -1,1 -1-25 -1,19 -1-18 -1,32 -1-20 -1,21 -1-17 -1,18 -1-13 -1-14 -1,1 -1,12 -1,8 -1,4 -1-16 -1-19 -1,25 -1-3 -1,9 -1-15 -1,0 -1,12 -1-6 -1,0 -1,10 -1-17 -1,25 -1-21 -1-12 -1,26 -1-11 -1-21 -1,41 -1-50 -1,29 -1-3 -1-7 -1,12 -1-7 -1-6 -1-36 -1,29 -1,34 -1-7 -1,5 -1-50 -1,37 -1-16 -1,2 -1-3 -1-1 -1,9 -1,19 -1-36 -1,37 -1-32 -1,12 -1,9 -1-18 -1,20 -1-8 -1-27 -1,44 -1-13 -1,1 -1-13 -1-11 -1,13 -1,15 -1-13 -1,13 -1-3 -1,3 -1,6 -1-24 -1-1 -1-6 -1,21 -1,1 -1-23 -1,14 -1,16 -1-19 -1,28 -1-23 -1-2 -1-11 -1,46 -1-37 -1,6 -1,26 -1-19 -1,17 -1,7 -1-16 -1-16 -1-7 -1-19 -1-1 -1,20 -1,6 -1,3 -1-5 -1-5 -1,25 -1-14 -1,0 -1-19 -1,14 -1,16 -1,7 -1-52 -1,42 -1-36 -1,6 -1,12 -1,7 -1,2 -1,29 -1-22 -1-2 -1-6 -1-3 -1,12 -1-9 -1,29 -1-33 -1-21 -1,25 -1,11 -1-13 -1,19 -1-28 -1,36 -1-32 -1-15 -1,20 -1,20 -1-13 -1-14 -1,5 -1,8 -1-11 -1,11 -1,11 -1-37 -1,18 -1,1 -1,9 -1-6 -1,17 -1-17 -1,4 -1-26 -1,21 -1-27 -1,26 -1,7 -1-10 -1,14 -1,15 -1-44 -1,19 -1,19 -1-6 -1-8 -1,11 -1-2 -1,5 -1-9 -1-8 -1,6 -1,10 -1,13 -1-19 -1,9 -1-13 -1-18 -1,15 -1,13 -1-32 -1,14 -1,3 -1,30 -1-5 -1-33 -1-3 -1,38 -1-34 -1,15 -1-7 -1-5 -1,4Z" vector-effect="non-scaling-stroke"/>
<path transform="matrix(0.63192 -0.16615 0 -0.77187 100.696 149.578)" d="M-2,9.2l1-4 1,5 1,7 1-15 1,34 1-38 1,3 1,33 1,5 1-30 1-3 1-14 1,32 1-13 1-15 1,18 1,13 1-9 1,19 1-13 1-10 1-6 1,8 1,9 1-5 1,2 1-11 1,8 1,6 1-19 1-19 1,44 1-15 1-14 1,10 1-7 1-26 1,27 1-21 1,26 1-4 1,17 1-17 1,6 1-9 1-1 1-18 1,37 1-11 1-11 1,11 1-8 1-5 1,14 1,13 1-20 1-20 1,15 1,32 1-36 1,28 1-19 1,13 1-11 1-25 1,21 1,33 1-29 1,9 1-12 1,3 1,6 1,2 1,22 1-29 1-2 1-7 1-12 1-6 1,36 1-42 1,52 1-7 1-16 1-14 1,19 1,0 1,14 1-25 1,5 1,5 1-3 1-6 1-20 1,1 1,19 1,7 1,16 1,16 1-7 1-17 1,19 1-26 1-6 1,37 1-46 1,11 1,2 1,23 1-28 1,19 1-16 1-14 1,23 1-1 1-21 1,6 1,1 1,24 1-6 1-3 1,3 1-13 1,13 1-15 1-13 1,11 1,13 1-1 1,13 1-44 1,27 1,8 1-20 1,18 1-9 1-12 1,32 1-37 1,36 1-19 1-9 1,1 1,3 1-2 1,16 1-37 1,50 1-5 1,7 1-34 1-29 1,36 1,6 1,7 1-12 1,7 1,3 1-29 1,50 1-41 1,21 1,11 1-26 1,12 1,21 1-25 1,17 1-10 1,0 1,6 1-12 1,0 1,15 1-9 1,3 1-25 1,19 1,16 1-4 1-8 1-12 1-1 1,14 1,13 1-18 1,17 1-21 1,20 1-32 1,18 1-19 1,25 1-1 1-22 1,4 1,5 1-19 1,11 1,1 1,23 1,8 1-25 1,3 1,7 1-11 1,4 1,15 1-8 1-4 1-7 1,27 1-28 1,10 1-17 1,7 1,10 1-7 1,13 1-6 1-24 1-21 1,57 1-22 1,28 1-19 1-12 1,19 1-11 1,4 1-14 1,22 1,6 1-22 1,31 1-31 1,11 1-31 1-7 1,62 1-9 1-3 1-45 1,33 1,2 1-4 1,3 1-18 1,12 1-16 1,13 1,10 1-17 1,8 1-2 1,6 1,12 1-9 1,2 1-29L260,2l-1-7 -1,24 -1-2 -1-35 -1,28 -1,12 -1-22 -1,1 -1,11 -1-21 -1,18 -1-7 -1,22 -1-25 -1,15 -1,5 -1-70 -1,40 -1,30 -1,8 -1-14 -1-24 -1,29 -1-17 -1,2 -1-6 -1-10 -1,3 -1,17 -1,0 -1-17 -1,53 -1-42 -1,4 -1,8 -1,0 -1,20 -1-50 -1,5 -1,19 -1,10 -1-3 -1,6 -1-11 -1,13 -1-13 -1,9 -1-5 -1,4 -1-16 -1,1 -1-2 -1-11 -1,15 -1-7 -1,22 -1-4 -1,6 -1-15 -1-6 -1,3 -1,12 -1-27 -1,28 -1-9 -1-4 -1-36 -1-12 -1,51 -1,5 -1-29 -1,1 -1,21 -1,4 -1-11 -1,15 -1-2 -1,33 -1-46 -1,21 -1-9 -1-8 -1,14 -1-20 -1,24 -1-14 -1-27 -1,35 -1,12 -1-7 -1-8 -1-57 -1,54 -1,8 -1-6 -1-39 -1,48 -1-19 -1,31 -1-38 -1,2 -1-26 -1,55 -1-25 -1,28 -1-12 -1-22 -1,10 -1-5 -1,15 -1-11 -1,13 -1,2 -1-31 -1,34 -1-19 -1-25 -1,21 -1,12 -1-7 -1-2 -1-11 -1,6 -1,10 -1-33 -1,41 -1,16 -1-30 -1,6 -1,12 -1-18 -1,15 -1-15 -1,29 -1-19 -1,27 -1-42 -1,8 -1,26 -1-12 -1-10 -1,6 -1,10 -1-38 -1,32 -1-18 -1,18 -1,15 -1-25 -1-4 -1,9 -1-37 -1,21 -1,6 -1,2 -1,1 -1,8 -1,12 -1,0 -1-28 -1-17 -1,36 -1,1 -1-3 -1,6 -1,9 -1-2 -1-35 -1-31 -1,40 -1-7 -1,19 -1,7 -1-11 -1,0 -1-29 -1,18 -1,12 -1-18 -1,19 -1-8 -1,18 -1-28 -1,29 -1-23 -1,6 -1,5 -1-14 -1-17 -1,19 -1,17 -1,5 -1-13 -1,13 -1,15 -1-45 -1,36 -1,6 -1-42 -1,3 -1-27 -1,31 -1-1 -1,36 -1-31 -1-4 -1,21 -1-21 -1-10 -1,31 -1-7 -1-39 -1,54 -1-11 -1-15 -1,3 -1,19 -1-17 -1,12 -1-28 -1,23 -1-15 -1,9 -1,10 -1-9 -1,9 -1-28 -1,46 -1-30 -1,14 -1,11 -1-24 -1-14 -1,34 -1-22 -1,2 -1-20 -1,42 -1-6 -1,4 -1,11 -1-44 -1,24 -1,13 -1-8 -1-4 -1-5 -1-13 -1,7 -1,11 -1,13 -1-28 -1,3 -1,8 -1-9 -1,11 -1-3 -1-20 -1,22 -1-21Z" vector-effect="non-scaling-stroke"/>
<path transform="matrix(0.63192 -0.16615 0 -0.77187 101.958 150.144)" d="M-2,-7.8l1,21 1-22 1,20 1,3 1-11 1,9 1-8 1-3 1,28 1-13 1-11 1-7 1,13 1,5 1,4 1,8 1-13 1-24 1,44 1-11 1-4 1,6 1-42 1,20 1-2 1,22 1-34 1,14 1,24 1-11 1-14 1,30 1-46 1,28 1-9 1,9 1-10 1-9 1,15 1-23 1,28 1-12 1,17 1-19 1-3 1,15 1,11 1-54 1,39 1,7 1-31 1,10 1,21 1-21 1,4 1,31 1-36 1,1 1-31 1,27 1-3 1,42 1-6 1-36 1,45 1-15 1-13 1,13 1-5 1-17 1-19 1,17 1,14 1-5 1-6 1,23 1-29 1,28 1-18 1,8 1-19 1,18 1-12 1-18 1,29 1,0 1,11 1-7 1-19 1,7 1-40 1,31 1,35 1,2 1-9 1-6 1,3 1-1 1-36 1,17 1,28 1,0 1-12 1-8 1-1 1-2 1-6 1-21 1,37 1-9 1,4 1,25 1-15 1-18 1,18 1-32 1,38 1-10 1-6 1,10 1,12 1-26 1-8 1,42 1-27 1,19 1-29 1,15 1-15 1,18 1-12 1-6 1,30 1-16 1-41 1,33 1-10 1-6 1,11 1,2 1,7 1-12 1-21 1,25 1,19 1-34 1,31 1-2 1-13 1,11 1-15 1,5 1-10 1,22 1,12 1-28 1,25 1-55 1,26 1-2 1,38 1-31 1,19 1-48 1,39 1,6 1-8 1-54 1,57 1,8 1,7 1-12 1-35 1,27 1,14 1-24 1,20 1-14 1,8 1,9 1-21 1,46 1-33 1,2 1-15 1,11 1-4 1-21 1-1 1,29 1-5 1-51 1,12 1,36 1,4 1,9 1-28 1,27 1-12 1-3 1,6 1,15 1-6 1,4 1-22 1,7 1-15 1,11 1,2 1-1 1,16 1-4 1,5 1-9 1,13 1-13 1,11 1-6 1,3 1-10 1-19 1-5 1,50 1-20 1,0 1-8 1-4 1,42 1-53 1,17 1,0 1-17 1-3 1,10 1,6 1-2 1,17 1-29 1,24 1,14 1-8 1-30 1-40 1,70 1-5 1-15 1,25 1-22 1,7 1-18 1,21 1-11 1-1 1,22 1-12 1-28 1,35 1,2 1-24 1,7L260,9l-1,17 -1,14 -1-33 -1-3 -1-35 -1,36 -1,8 -1-8 -1-15 -1-6 -1,43 -1-30 -1,16 -1,10 -1-31 -1,31 -1-13 -1-3 -1,7 -1-25 -1-8 -1-14 -1,38 -1-4 -1,5 -1-5 -1,7 -1,16 -1-14 -1-3 -1-12 -1,7 -1,8 -1,9 -1-7 -1-6 -1-28 -1,30 -1-3 -1,11 -1,5 -1-3 -1-26 -1,28 -1-15 -1,3 -1,14 -1-17 -1,1 -1,29 -1-37 -1,9 -1,5 -1-8 -1-8 -1,12 -1-17 -1,41 -1-13 -1-26 -1-1 -1,21 -1,15 -1-18 -1-23 -1,38 -1-5 -1-36 -1,27 -1-10 -1,9 -1,0 -1-23 -1,31 -1-7 -1,6 -1,13 -1,3 -1-24 -1,13 -1-26 -1,1 -1,32 -1-57 -1,32 -1,6 -1,7 -1-15 -1,28 -1-35 -1,31 -1-12 -1-4 -1,3 -1-8 -1,5 -1-5 -1-1 -1-3 -1-4 -1,28 -1-26 -1,2 -1,9 -1-3 -1-17 -1,35 -1-14 -1,2 -1-1 -1-5 -1-29 -1,49 -1-48 -1,29 -1-11 -1,8 -1,6 -1-11 -1,5 -1-4 -1-6 -1,8 -1,8 -1-14 -1-14 -1,41 -1,0 -1-77 -1,40 -1,21 -1-19 -1,20 -1,12 -1-34 -1,11 -1-7 -1,12 -1,7 -1,10 -1-9 -1-14 -1,23 -1-7 -1-12 -1,12 -1-33 -1,33 -1,6 -1,11 -1-30 -1,12 -1-3 -1,26 -1-29 -1,9 -1-1 -1-16 -1-9 -1,37 -1-21 -1,22 -1-25 -1,17 -1-18 -1-5 -1,5 -1,12 -1-3 -1-6 -1,1 -1,1 -1-2 -1,17 -1-6 -1-33 -1,14 -1-24 -1,5 -1,32 -1-20 -1,31 -1-6 -1-3 -1,11 -1-7 -1-1 -1-16 -1,30 -1-10 -1-19 -1-7 -1,13 -1,4 -1,8 -1-4 -1-18 -1,37 -1-20 -1-1 -1-2 -1-8 -1,7 -1,11 -1-6 -1-34 -1,24 -1,0 -1,0 -1,6 -1,13 -1-3 -1,6 -1-21 -1,10 -1-5 -1-6 -1,28 -1-16 -1-9 -1,20 -1-33 -1,9 -1-23 -1,40 -1-4 -1-8 -1,10 -1-15 -1-12 -1,30 -1-24 -1,4 -1-18 -1,13 -1,9 -1,7 -1-10 -1,26 -1-25 -1,1 -1,10 -1-3 -1-11 -1-7 -1,14 -1,7 -1,2 -1-3 -1-1 -1,10 -1-25 -1-2 -1,7 -1,27 -1-4 -1-14 -1-7 -1,2 -1,4Z" vector-effect="non-scaling-stroke"/>
<path transform="matrix(0.63192 -0.16615 0 -0.77187 103.220 150.710)" d="M-2,10.2l1-4 1-2 1,7 1,14 1,4 1-27 1-7 1,2 1,25 1-10 1,1 1,3 1-2 1-7 1-14 1,7 1,11 1,3 1-10 1-1 1,25 1-26 1,10 1-7 1-9 1-13 1,18 1-4 1,24 1-30 1,12 1,15 1-10 1,8 1,4 1-40 1,23 1-9 1,33 1-20 1,9 1,16 1-28 1,6 1,5 1-10 1,21 1-6 1,3 1-13 1-6 1,0 1,0 1-24 1,34 1,6 1-11 1-7 1,8 1,2 1,1 1,20 1-37 1,18 1,4 1-8 1-4 1-13 1,7 1,19 1,10 1-30 1,16 1,1 1,7 1-11 1,3 1,6 1-31 1,20 1-32 1-5 1,24 1-14 1,33 1,6 1-17 1,2 1-1 1-1 1,6 1,3 1-12 1-5 1,5 1,18 1-17 1,25 1-22 1,21 1-37 1,9 1,16 1,1 1-9 1,29 1-26 1,3 1-12 1,30 1-11 1-6 1-33 1,33 1-12 1,12 1,7 1-23 1,14 1,9 1-10 1-7 1-12 1,7 1-11 1,34 1-12 1-20 1,19 1-21 1-40 1,77 1,0 1-41 1,14 1,14 1-8 1-8 1,6 1,4 1-5 1,11 1-6 1-8 1,11 1-29 1,48 1-49 1,29 1,5 1,1 1-2 1,14 1-35 1,17 1,3 1-9 1-2 1,26 1-28 1,4 1,3 1,1 1,5 1-5 1,8 1-3 1,4 1,12 1-31 1,35 1-28 1,15 1-7 1-6 1-32 1,57 1-32 1-1 1,26 1-13 1,24 1-3 1-13 1-6 1,7 1-31 1,23 1,0 1-9 1,10 1-27 1,36 1,5 1-38 1,23 1,18 1-15 1-21 1,1 1,26 1,13 1-41 1,17 1-12 1,8 1,8 1-5 1-9 1,37 1-29 1-1 1,17 1-14 1-3 1,15 1-28 1,26 1,3 1-5 1-11 1,3 1-30 1,28 1,6 1,7 1-9 1-8 1-7 1,12 1,3 1,14 1-16 1-7 1,5 1-5 1,4 1-38 1,14 1,8 1,25 1-7 1,3 1,13 1-31 1,31 1-10 1-16 1,30 1-43 1,6 1,15 1,8 1-8 1-36 1,35 1,3 1,33 1-14 1-17L260,23l-1-4 -1-22 -1,17 -1-2 -1-9 -1-47 -1,63 -1-7 -1,6 -1-11 -1,29 -1-11 -1-13 -1-20 -1,23 -1-31 -1,28 -1,13 -1-23 -1,17 -1-37 -1-5 -1,38 -1-7 -1,0 -1-6 -1-14 -1,12 -1,5 -1-14 -1,15 -1,35 -1-47 -1-8 -1,35 -1-10 -1-6 -1,19 -1-31 -1,9 -1,12 -1-8 -1-25 -1,23 -1-34 -1,17 -1,12 -1,35 -1-19 -1,1 -1-14 -1,20 -1,7 -1-55 -1,40 -1-20 -1,14 -1,32 -1-34 -1,13 -1,0 -1-32 -1,36 -1-7 -1-12 -1-28 -1,35 -1-23 -1,48 -1-28 -1,1 -1,12 -1-29 -1,8 -1,23 -1-16 -1-14 -1,5 -1,11 -1,18 -1-23 -1,1 -1,11 -1-44 -1,33 -1-13 -1,12 -1,14 -1-49 -1,40 -1,22 -1-42 -1,39 -1-14 -1,13 -1-32 -1,21 -1,12 -1-51 -1,35 -1-6 -1,4 -1-7 -1-4 -1,2 -1,23 -1-16 -1-24 -1,13 -1,28 -1-20 -1,12 -1-9 -1,4 -1-2 -1-12 -1,25 -1-14 -1,2 -1-10 -1-4 -1,24 -1-48 -1,33 -1,6 -1,12 -1-24 -1,35 -1-24 -1-1 -1-5 -1,27 -1-55 -1,14 -1-5 -1,14 -1,22 -1,8 -1-4 -1-14 -1,1 -1,10 -1-49 -1,29 -1-24 -1,47 -1-27 -1-49 -1,13 -1,12 -1,27 -1,29 -1-46 -1,14 -1,11 -1-2 -1-4 -1,2 -1,15 -1-18 -1,20 -1-17 -1,18 -1-25 -1,30 -1,0 -1-28 -1-4 -1,2 -1,22 -1-12 -1,12 -1-5 -1,12 -1,13 -1-35 -1-5 -1,16 -1-48 -1,21 -1,33 -1-19 -1,0 -1-7 -1-3 -1-3 -1,15 -1,6 -1-11 -1,15 -1-13 -1-19 -1,22 -1,4 -1,6 -1-12 -1,6 -1,7 -1,1 -1,14 -1-10 -1,18 -1-42 -1,14 -1-12 -1,22 -1-33 -1,44 -1-53 -1,35 -1-2 -1-32 -1,36 -1-24 -1,24 -1-7 -1,11 -1,11 -1-12 -1-1 -1,32 -1-53 -1,6 -1,16 -1,6 -1-35 -1,25 -1-7 -1-7 -1,17 -1,9 -1-12 -1-4 -1-3 -1-28 -1,23 -1-5 -1-36 -1,20 -1,31 -1-7 -1,20 -1-6 -1-38 -1,22 -1-32 -1,38 -1,12 -1-19 -1,12 -1-15 -1,5 -1-18 -1,17 -1,4 -1-1 -1-16 -1,10 -1-10 -1,33Z" vector-effect="non-scaling-stroke"/>
<path transform="matrix(0.63192 -0.16615 0 -0.77187 104.482 151.276)" d="M-2,26.2l1-33 1,10 1-10 1,16 1,1 1-4 1-17 1,18 1-5 1,15 1-12 1,19 1-12 1-38 1,32 1-22 1,38 1,6 1-20 1,7 1-31 1-20 1,36 1,5 1-23 1,28 1,3 1,4 1,12 1-9 1-17 1,7 1,7 1-25 1,35 1-6 1-16 1-6 1,53 1-32 1,1 1,12 1-11 1-11 1,7 1-24 1,24 1-36 1,32 1,2 1-35 1,53 1-44 1,33 1-22 1,12 1-14 1,42 1-18 1,10 1-14 1-1 1-7 1-6 1,12 1-6 1-4 1-22 1,19 1,13 1-15 1,11 1-6 1-15 1,3 1,3 1,7 1,0 1,19 1-33 1-21 1,48 1-16 1,5 1,35 1-13 1-12 1,5 1-12 1,12 1-22 1-2 1,4 1,28 1,0 1-30 1,25 1-18 1,17 1-20 1,18 1-15 1-2 1,4 1,2 1-11 1-14 1,46 1-29 1-27 1-12 1-13 1,49 1,27 1-47 1,24 1-29 1,49 1-10 1-1 1,14 1,4 1-8 1-22 1-14 1,5 1-14 1,55 1-27 1,5 1,1 1,24 1-35 1,24 1-12 1-6 1-33 1,48 1-24 1,4 1,10 1-2 1,14 1-25 1,12 1,2 1-4 1,9 1-12 1,20 1-28 1-13 1,24 1,16 1-23 1-2 1,4 1,7 1-4 1,6 1-35 1,51 1-12 1-21 1,32 1-13 1,14 1-39 1,42 1-22 1-40 1,49 1-14 1-12 1,13 1-33 1,44 1-11 1-1 1,23 1-18 1-11 1-5 1,14 1,16 1-23 1-8 1,29 1-12 1-1 1,28 1-48 1,23 1-35 1,28 1,12 1,7 1-36 1,32 1,0 1-13 1,34 1-32 1-14 1,20 1-40 1,55 1-7 1-20 1,14 1-1 1,19 1-35 1-12 1-17 1,34 1-23 1,25 1,8 1-12 1-9 1,31 1-19 1,6 1,10 1-35 1,8 1,47 1-35 1-15 1,14 1-5 1-12 1,14 1,6 1,0 1,7 1-38 1,5 1,37 1-17 1,23 1-13 1-28 1,31 1-23 1,20 1,13 1,11 1-29 1,11 1-6 1,7 1-63 1,47 1,9 1,2 1-17 1,22 1,4L260,12l-1,10 -1-8 -1-17 -1,11 -1-29 -1,40 -1-6 -1-7 -1-1 -1,18 -1-12 -1-14 -1,14 -1-4 -1,20 -1-12 -1-36 -1,37 -1-45 -1,55 -1-13 -1-34 -1,48 -1-23 -1,3 -1-34 -1,15 -1,11 -1,4 -1,5 -1,42 -1-51 -1-21 -1,24 -1-18 -1,35 -1-4 -1-19 -1-13 -1,21 -1,8 -1-7 -1-8 -1-3 -1,18 -1,13 -1,6 -1-16 -1-21 -1,38 -1-23 -1,16 -1-13 -1-5 -1-4 -1,6 -1,16 -1-3 -1-11 -1-5 -1-2 -1,33 -1-46 -1-8 -1,49 -1-15 -1-16 -1,31 -1-81 -1,64 -1-36 -1,6 -1,36 -1-15 -1-18 -1,10 -1,14 -1,12 -1-16 -1,16 -1,0 -1-24 -1,25 -1,12 -1-33 -1-10 -1-28 -1,20 -1,31 -1,8 -1,13 -1-57 -1,30 -1-10 -1,7 -1-12 -1-5 -1,14 -1-19 -1,21 -1,14 -1-15 -1,2 -1-36 -1,54 -1-10 -1-16 -1,4 -1-22 -1,41 -1-4 -1,10 -1-37 -1,18 -1,9 -1-33 -1,28 -1-11 -1,6 -1,6 -1-22 -1,41 -1-17 -1-16 -1,1 -1-4 -1,25 -1-26 -1-4 -1,4 -1,10 -1,2 -1-3 -1,12 -1-14 -1,3 -1,24 -1-38 -1,19 -1-18 -1,12 -1-1 -1,10 -1-8 -1,2 -1-11 -1,20 -1-17 -1-16 -1,28 -1,11 -1-20 -1-4 -1,6 -1-5 -1-14 -1,20 -1-9 -1-1 -1,34 -1-38 -1,13 -1-18 -1,15 -1,14 -1-7 -1,0 -1-30 -1,27 -1,23 -1-3 -1-35 -1,22 -1-42 -1,39 -1-3 -1-8 -1,30 -1-25 -1,9 -1-32 -1,26 -1,17 -1-28 -1,33 -1-13 -1,0 -1,8 -1-17 -1,9 -1-11 -1,9 -1-14 -1,22 -1-32 -1,35 -1-43 -1,31 -1-17 -1,18 -1-26 -1,13 -1,0 -1,11 -1-4 -1-14 -1,14 -1-37 -1,44 -1-11 -1-2 -1,6 -1-23 -1,32 -1-19 -1,33 -1-25 -1,20 -1-12 -1-14 -1,3 -1-35 -1,7 -1,31 -1-21 -1,27 -1,0 -1,9 -1-32 -1,17 -1,15 -1-11 -1-2 -1-6 -1,22 -1-10 -1-9 -1-36 -1,0 -1,35 -1,14 -1-3 -1,9 -1-11 -1-25 -1,20 -1-21 -1,38 -1,10 -1-14 -1-27 -1-3 -1-5 -1,13 -1-18 -1,42 -1-14 -1-3 -1-2 -1,8Z" vector-effect="non-scaling-stroke"/>
<path transform="matrix(0.63192 -0.16615 0 -0.77187 105.744 151.842)" d="M-2,14.2l1-8 1,2 1,3 1,14 1-42 1,18 1-13 1,5 1,3 1,27 1,14 1-10 1-38 1,21 1-20 1,25 1,11 1-9 1,3 1-14 1-35 1,0 1,36 1,9 1,10 1-22 1,6 1,2 1,11 1-15 1-17 1,32 1-9 1,0 1-27 1,21 1-31 1-7 1,35 1-3 1,14 1,12 1-20 1,25 1-33 1,19 1-32 1,23 1-6 1,2 1,11 1-44 1,37 1-14 1,14 1,4 1-11 1,0 1-13 1,26 1-18 1,17 1-31 1,43 1-35 1,32 1-22 1,14 1-9 1,11 1-9 1,17 1-8 1,0 1,13 1-33 1,28 1-17 1-26 1,32 1-9 1,25 1-30 1,8 1,3 1-39 1,42 1-22 1,35 1,3 1-23 1-27 1,30 1,0 1,7 1-14 1-15 1,18 1-13 1,38 1-34 1,1 1,9 1-20 1,14 1,5 1-6 1,4 1,20 1-11 1-28 1,16 1,17 1-20 1,11 1-2 1,8 1-10 1,1 1-12 1,18 1-19 1,38 1-24 1-3 1,14 1-12 1,3 1-2 1-10 1-4 1,4 1,26 1-25 1,4 1-1 1,16 1,17 1-41 1,22 1-6 1-6 1,11 1-28 1,33 1-9 1-18 1,37 1-10 1,4 1-41 1,22 1-4 1,16 1,10 1-54 1,36 1-2 1,15 1-14 1-21 1,19 1-14 1,5 1,12 1-7 1,10 1-30 1,57 1-13 1-8 1-31 1-20 1,28 1,10 1,33 1-12 1-25 1,24 1,0 1-16 1,16 1-12 1-14 1-10 1,18 1,15 1-36 1-6 1,36 1-64 1,81 1-31 1,16 1,15 1-49 1,8 1,46 1-33 1,2 1,5 1,11 1,3 1-16 1-6 1,4 1,5 1,13 1-16 1,23 1-38 1,21 1,16 1-6 1-13 1-18 1,3 1,8 1,7 1-8 1-21 1,13 1,19 1,4 1-35 1,18 1-24 1,21 1,51 1-42 1-5 1-4 1-11 1-15 1,34 1-3 1,23 1-48 1,34 1,13 1-55 1,45 1-37 1,36 1,12 1-20 1,4 1-14 1,14 1,12 1-18 1,1 1,7 1,6 1-40 1,29 1-11 1,17 1,8 1-10L260,15l-1,5 -1-9 -1-12 -1,25 -1-40 -1,57 -1-28 -1-6 -1-18 -1,12 -1-6 -1,24 -1,9 -1-44 -1,30 -1-34 -1,42 -1-33 -1,19 -1-8 -1,3 -1,5 -1-5 -1,12 -1-8 -1-10 -1,10 -1,9 -1-3 -1-8 -1-25 -1,5 -1-6 -1,4 -1,13 -1-9 -1,29 -1,1 -1-2 -1-28 -1,14 -1-3 -1,34 -1-3 -1-24 -1,20 -1-8 -1-45 -1,33 -1,30 -1-19 -1,2 -1-16 -1-5 -1,26 -1-21 -1,7 -1,8 -1,8 -1-23 -1,9 -1-9 -1-51 -1,61 -1-20 -1,11 -1,22 -1-15 -1,6 -1-1 -1,9 -1-24 -1,15 -1-38 -1,23 -1,6 -1-8 -1,1 -1-1 -1,11 -1-18 -1,13 -1,25 -1-44 -1,32 -1,2 -1-15 -1-16 -1,13 -1,6 -1,18 -1-27 -1,12 -1-18 -1,40 -1-33 -1-13 -1,25 -1,6 -1-18 -1,4 -1-12 -1,26 -1-6 -1-9 -1,9 -1,7 -1,1 -1-47 -1,24 -1,8 -1-3 -1-10 -1,29 -1,15 -1-35 -1,1 -1,21 -1-32 -1,18 -1,10 -1-4 -1-5 -1-10 -1,25 -1-29 -1,4 -1,25 -1-12 -1-7 -1-40 -1,44 -1,7 -1-17 -1,11 -1-3 -1,7 -1-19 -1,10 -1,34 -1-17 -1-13 -1,12 -1-17 -1,7 -1-24 -1,26 -1-15 -1,12 -1,21 -1-18 -1-13 -1,9 -1,9 -1,1 -1-4 -1-19 -1,18 -1,11 -1-24 -1-2 -1,20 -1-3 -1,6 -1-2 -1-13 -1-25 -1,20 -1-2 -1,17 -1,3 -1-27 -1,18 -1,9 -1,16 -1-39 -1,10 -1-10 -1-21 -1,48 -1-14 -1-11 -1,31 -1-16 -1-10 -1-19 -1,36 -1,4 -1-53 -1,10 -1,10 -1,13 -1,6 -1-5 -1-1 -1,2 -1-45 -1,0 -1,10 -1,35 -1,8 -1,1 -1-3 -1,5 -1,0 -1-20 -1,1 -1-19 -1,48 -1-61 -1,52 -1-28 -1,26 -1-6 -1-4 -1,14 -1-28 -1,10 -1,23 -1,1 -1-35 -1-34 -1,53 -1-36 -1,35 -1-10 -1,10 -1,21 -1-65 -1,47 -1,15 -1-35 -1,22 -1-16 -1-1 -1-7 -1,21 -1,2 -1,4 -1-56 -1,45 -1-2 -1-27 -1,39 -1,0 -1-66 -1,53 -1,29 -1-12 -1-21 -1,8 -1-19 -1,45 -1-26 -1-4 -1,10 -1-4 -1,13 -1-13 -1,11Z" vector-effect="non-scaling-stroke"/>
<path transform="matrix(0.63192 -0.16615 0 -0.77187 107.006 152.408)" d="M-2,22.2l1-11 1,13 1-13 1,4 1-10 1,4 1,26 1-45 1,19 1-8 1,21 1,12 1-29 1-53 1,66 1,0 1-39 1,27 1,2 1-45 1,56 1-4 1-2 1-21 1,7 1,1 1,16 1-22 1,35 1-15 1-47 1,65 1-21 1-10 1,10 1-35 1,36 1-53 1,34 1,35 1-1 1-23 1-10 1,28 1-14 1,4 1,6 1-26 1,28 1-52 1,61 1-48 1,19 1-1 1,20 1,0 1-5 1,3 1-1 1-8 1-35 1-10 1,0 1,45 1-2 1,1 1,5 1-6 1-13 1-10 1-10 1,53 1-4 1-36 1,19 1,10 1,16 1-31 1,11 1,14 1-48 1,21 1,10 1-10 1,39 1-16 1-9 1-18 1,27 1-3 1-17 1,2 1-20 1,25 1,13 1,2 1-6 1,3 1-20 1,2 1,24 1-11 1-18 1,19 1,4 1-1 1-9 1-9 1,13 1,18 1-21 1-12 1,15 1-26 1,24 1-7 1,17 1-12 1,13 1,17 1-34 1-10 1,19 1-7 1,3 1-11 1,17 1-7 1-44 1,40 1,7 1,12 1-25 1-4 1,29 1-25 1,10 1,5 1,4 1-10 1-18 1,32 1-21 1-1 1,35 1-15 1-29 1,10 1,3 1-8 1-24 1,47 1-1 1-7 1-9 1,9 1,6 1-26 1,12 1-4 1,18 1-6 1-25 1,13 1,33 1-40 1,18 1-12 1,27 1-18 1-6 1-13 1,16 1,15 1-2 1-32 1,44 1-25 1-13 1,18 1-11 1,1 1-1 1,8 1-6 1-23 1,38 1-15 1,24 1-9 1,1 1-6 1,15 1-22 1-11 1,20 1-61 1,51 1,9 1-9 1,23 1-8 1-8 1-7 1,21 1-26 1,5 1,16 1-2 1,19 1-30 1-33 1,45 1,8 1-20 1,24 1,3 1-34 1,3 1-14 1,28 1,2 1-1 1-29 1,9 1-13 1-4 1,6 1-5 1,25 1,8 1,3 1-9 1-10 1,10 1,8 1-12 1,5 1-5 1-3 1,8 1-19 1,33 1-42 1,34 1-30 1,44 1-9 1-24 1,6 1-12 1,18 1,6 1,28 1-57 1,40 1-25 1,12 1,9 1-5L260,13l-1,15 -1-1 -1-17 -1-15 -1-8 -1,5 -1,17 -1,0 -1-8 -1,6 -1,2 -1-10 -1,14 -1,0 -1-23 -1,34 -1-56 -1,24 -1-4 -1,17 -1-5 -1,22 -1-14 -1,42 -1-56 -1,48 -1-23 -1-47 -1,37 -1,32 -1-38 -1,2 -1-8 -1,21 -1-7 -1-6 -1,9 -1,19 -1-38 -1,8 -1-48 -1,48 -1-22 -1,23 -1,0 -1,0 -1,15 -1-42 -1,18 -1,17 -1,12 -1-10 -1,3 -1-10 -1-4 -1,14 -1-6 -1-11 -1-1 -1,27 -1,0 -1-20 -1,10 -1-36 -1,35 -1,2 -1-14 -1,21 -1-1 -1,14 -1-42 -1,16 -1,22 -1-58 -1-26 -1,71 -1-31 -1,27 -1-18 -1,16 -1-12 -1,22 -1-18 -1-13 -1-32 -1,75 -1-14 -1-23 -1,28 -1-34 -1,18 -1-10 -1,14 -1-13 -1-6 -1,10 -1-16 -1,31 -1-32 -1,21 -1-17 -1,27 -1-2 -1,20 -1-11 -1-3 -1-23 -1,10 -1-44 -1,45 -1,5 -1,4 -1-2 -1-25 -1-9 -1-17 -1,42 -1-1 -1-21 -1,43 -1-33 -1,12 -1,3 -1-34 -1,47 -1-19 -1,2 -1,4 -1-27 -1,34 -1,9 -1,10 -1-31 -1-7 -1,15 -1-27 -1,31 -1-31 -1,4 -1,25 -1,3 -1-14 -1-22 -1,40 -1-28 -1,28 -1-20 -1-1 -1-9 -1,23 -1-16 -1,20 -1-12 -1-11 -1,13 -1-10 -1,13 -1-9 -1,6 -1-4 -1,1 -1-24 -1,32 -1,19 -1-16 -1-33 -1,32 -1-7 -1,11 -1-33 -1,19 -1,3 -1-8 -1,5 -1,13 -1-3 -1-19 -1,11 -1-23 -1,12 -1-11 -1,26 -1-11 -1-27 -1,51 -1-24 -1-3 -1,18 -1-13 -1-4 -1,5 -1-27 -1,38 -1,6 -1-24 -1-18 -1,50 -1-40 -1-5 -1,9 -1,18 -1-45 -1,46 -1,13 -1-16 -1,24 -1-27 -1-11 -1-6 -1,11 -1,15 -1-19 -1,2 -1,4 -1-8 -1,15 -1-10 -1-13 -1,28 -1,13 -1-14 -1-1 -1-2 -1,0 -1,12 -1-12 -1-25 -1-20 -1,60 -1-12 -1-26 -1,15 -1-29 -1,18 -1,10 -1,17 -1-13 -1,6 -1-13 -1,26 -1-34 -1,22 -1-7 -1,11 -1-14 -1-10 -1,21 -1-10 -1,12 -1-1 -1,8 -1-4 -1-2 -1-9 -1,8 -1-24 -1,21 -1-12 -1-4 -1,7Z" vector-effect="non-scaling-stroke"/>
<path transform="matrix(0.63192 -0.16615 0 -0.77187 108.268 152.974)" d="M-2,7.2l1-7 1,4 1,12 1-21 1,24 1-8 1,9 1,2 1,4 1-8 1,1 1-12 1,10 1-21 1,10 1,14 1-11 1,7 1-22 1,34 1-26 1,13 1-6 1,13 1-17 1-10 1-18 1,29 1-15 1,26 1,12 1-60 1,20 1,25 1,12 1-12 1,0 1,2 1,1 1,14 1-13 1-28 1,13 1,10 1-15 1,8 1-4 1-2 1,19 1-15 1-11 1,6 1,11 1,27 1-24 1,16 1-13 1-46 1,45 1-18 1-9 1,5 1,40 1-50 1,18 1,24 1-6 1-38 1,27 1-5 1,4 1,13 1-18 1,3 1,24 1-51 1,27 1,11 1-26 1,11 1-12 1,23 1-11 1,19 1,3 1-13 1-5 1,8 1-3 1-19 1,33 1-11 1,7 1-32 1,33 1,16 1-19 1-32 1,24 1-1 1,4 1-6 1,9 1-13 1,10 1-13 1,11 1,12 1-20 1,16 1-23 1,9 1,1 1,20 1-28 1,28 1-40 1,22 1,14 1-3 1-25 1-4 1,31 1-31 1,27 1-15 1,7 1,31 1-10 1-9 1-34 1,27 1-4 1-2 1,19 1-47 1,34 1-3 1-12 1,33 1-43 1,21 1,1 1-42 1,17 1,9 1,25 1,2 1-4 1-5 1-45 1,44 1-10 1,23 1,3 1,11 1-20 1,2 1-27 1,17 1-21 1,32 1-31 1,16 1-10 1,6 1,13 1-14 1,10 1-18 1,34 1-28 1,23 1,14 1-75 1,32 1,13 1,18 1-22 1,12 1-16 1,18 1-27 1,31 1-71 1,26 1,58 1-22 1-16 1,42 1-14 1,1 1-21 1,14 1-2 1-35 1,36 1-10 1,20 1,0 1-27 1,1 1,11 1,6 1-14 1,4 1,10 1-3 1,10 1-12 1-17 1-18 1,42 1-15 1,0 1,0 1-23 1,22 1-48 1,48 1-8 1,38 1-19 1-9 1,6 1,7 1-21 1,8 1-2 1,38 1-32 1-37 1,47 1,23 1-48 1,56 1-42 1,14 1-22 1,5 1-17 1,4 1-24 1,56 1-34 1,23 1,0 1-14 1,10 1-2 1-6 1,8 1,0 1-17 1-5 1,8 1,15 1,17 1,1 1-15L260,-2l-1,13 -1,0 -1-4 -1,15 -1,11 -1-30 -1-7 -1,27 -1,10 -1-29 -1,28 -1-32 -1,21 -1,2 -1,10 -1-43 -1,27 -1-11 -1-1 -1-16 -1,0 -1,15 -1-8 -1-5 -1,23 -1,22 -1-12 -1-35 -1,34 -1-14 -1-26 -1,19 -1-10 -1,17 -1,25 -1-33 -1,12 -1,5 -1-7 -1,11 -1,1 -1-13 -1-29 -1,2 -1,43 -1-3 -1-46 -1,6 -1,5 -1,35 -1-14 -1-10 -1,0 -1-3 -1-2 -1-2 -1,47 -1-12 -1-23 -1,6 -1-24 -1,26 -1,2 -1-8 -1,2 -1,25 -1-25 -1,5 -1-35 -1,34 -1,16 -1-22 -1,9 -1,7 -1-27 -1,10 -1,22 -1-11 -1-9 -1,25 -1-6 -1-29 -1,12 -1-15 -1,31 -1-15 -1,3 -1-8 -1,6 -1,16 -1,8 -1-40 -1,10 -1,14 -1,2 -1-18 -1,2 -1,9 -1-17 -1,34 -1-48 -1,52 -1-42 -1,13 -1-12 -1,18 -1,3 -1-31 -1,2 -1,26 -1-10 -1,6 -1-9 -1,11 -1-5 -1,9 -1-3 -1,1 -1,19 -1-26 -1,12 -1-23 -1-6 -1,37 -1-4 -1,4 -1-16 -1-33 -1,63 -1-35 -1,0 -1,7 -1-30 -1,25 -1,6 -1,6 -1,5 -1-6 -1-3 -1-1 -1,16 -1-39 -1,27 -1-9 -1,5 -1-4 -1,8 -1-17 -1,9 -1-4 -1,0 -1-8 -1,2 -1,24 -1,9 -1-16 -1-7 -1,10 -1-8 -1,8 -1,0 -1-31 -1,25 -1-32 -1,46 -1-59 -1-5 -1,63 -1-16 -1-24 -1,11 -1,1 -1,10 -1,18 -1-4 -1-10 -1-19 -1,15 -1-7 -1,30 -1-16 -1-3 -1,17 -1-25 -1,6 -1-20 -1-3 -1,29 -1-13 -1-30 -1,30 -1-47 -1,63 -1,10 -1-15 -1,1 -1-9 -1-10 -1,6 -1,16 -1-24 -1,28 -1-24 -1,23 -1-29 -1,40 -1-28 -1,11 -1-37 -1,29 -1-8 -1,0 -1,17 -1,6 -1-34 -1-12 -1,30 -1-33 -1,31 -1,21 -1-10 -1-5 -1-1 -1-19 -1,9 -1,9 -1,2 -1-6 -1-7 -1,15 -1-4 -1,22 -1-29 -1,18 -1-17 -1,10 -1-5 -1,8 -1,1 -1-7 -1-2 -1,0 -1-2 -1,9 -1-5 -1-11 -1-17 -1,3 -1,36 -1,2 -1-25 -1,32 -1-10 -1,13 -1-12 -1-25 -1,20 -1,10 -1,3 -1-2Z" vector-effect="non-scaling-stroke"/>
<path transform="matrix(0.63192 -0.16615 0 -0.77187 109.530 153.540)" d="M-2,27.2l1,2 1-3 1-10 1-20 1,25 1,12 1-13 1,10 1-32 1,25 1-2 1-36 1-3 1,17 1,11 1,5 1-9 1,2 1,0 1,2 1,7 1-1 1-8 1,5 1-10 1,17 1-18 1,29 1-22 1,4 1-15 1,7 1,6 1-2 1-9 1-9 1,19 1,1 1,5 1,10 1-21 1-31 1,33 1-30 1,12 1,34 1-6 1-17 1,0 1,8 1-29 1,37 1-11 1,28 1-40 1,29 1-23 1,24 1-28 1,24 1-16 1-6 1,10 1,9 1-1 1,15 1-10 1-63 1,47 1-30 1,30 1,13 1-29 1,3 1,20 1-6 1,25 1-17 1,3 1,16 1-30 1,7 1-15 1,19 1,10 1,4 1-18 1-10 1-1 1-11 1,24 1,16 1-63 1,5 1,59 1-46 1,32 1-25 1,31 1,0 1-8 1,8 1-10 1,7 1,16 1-9 1-24 1-2 1,8 1,0 1,4 1-9 1,17 1-8 1,4 1-5 1,9 1-27 1,39 1-16 1,1 1,3 1,6 1-5 1-6 1-6 1-25 1,30 1-7 1,0 1,35 1-63 1,33 1,16 1-4 1,4 1-37 1,6 1,23 1-12 1,26 1-19 1-1 1,3 1-9 1,5 1-11 1,9 1-6 1,10 1-26 1-2 1,31 1-3 1-18 1,12 1-13 1,42 1-52 1,48 1-34 1,17 1-9 1-2 1,18 1-2 1-14 1-10 1,40 1-8 1-16 1-6 1,8 1-3 1,15 1-31 1,15 1-12 1,29 1,6 1-25 1,9 1,11 1-22 1-10 1,27 1-7 1-9 1,22 1-16 1-34 1,35 1-5 1,25 1-25 1-2 1,8 1-2 1-26 1,24 1-6 1,23 1,12 1-47 1,2 1,2 1,3 1,0 1,10 1,14 1-35 1-5 1-6 1,46 1,3 1-43 1-2 1,29 1,13 1-1 1-11 1,7 1-5 1-12 1,33 1-25 1-17 1,10 1-19 1,26 1,14 1-34 1,35 1,12 1-22 1-23 1,5 1,8 1-15 1,0 1,16 1,1 1,11 1-27 1,43 1-10 1-2 1-21 1,32 1-28 1,29 1-10 1-27 1,7 1,30 1-11 1-15 1,4 1,0 1-13L260,-22l-1,27 -1,24 -1-39 -1,24 -1,3 -1-15 -1,7 -1,24 -1-63 -1,41 -1-37 -1,45 -1,2 -1-5 -1-21 -1,16 -1,30 -1-31 -1-20 -1,42 -1-39 -1,20 -1-15 -1,20 -1-30 -1,15 -1-30 -1,37 -1,5 -1,13 -1-18 -1-17 -1,23 -1-10 -1,24 -1-17 -1,7 -1-13 -1-61 -1,51 -1,24 -1-51 -1,28 -1,28 -1-38 -1,1 -1,22 -1-19 -1,17 -1-8 -1,8 -1,4 -1-28 -1,36 -1-18 -1-6 -1,22 -1-6 -1,12 -1-30 -1,12 -1-4 -1-17 -1,21 -1,11 -1-15 -1,4 -1-10 -1,15 -1-7 -1,7 -1,3 -1-16 -1,28 -1-18 -1,15 -1-28 -1,37 -1-36 -1,2 -1,15 -1-3 -1-7 -1,13 -1-6 -1-9 -1-35 -1,36 -1-3 -1,16 -1-21 -1-16 -1,51 -1-66 -1,48 -1-4 -1,11 -1-37 -1,37 -1-18 -1,6 -1,4 -1,0 -1-11 -1,9 -1,3 -1-14 -1,24 -1,22 -1-23 -1-2 -1,7 -1,18 -1-35 -1,6 -1,1 -1-17 -1,12 -1,5 -1-20 -1,4 -1,28 -1-4 -1-22 -1-4 -1,21 -1-16 -1-13 -1,30 -1-8 -1,4 -1,2 -1-4 -1,15 -1-29 -1-19 -1,25 -1-28 -1,25 -1,8 -1-38 -1,58 -1-12 -1-20 -1-11 -1,26 -1,13 -1-33 -1,11 -1,12 -1-36 -1-21 -1,72 -1-23 -1,5 -1,16 -1-32 -1,25 -1,3 -1-36 -1,20 -1,9 -1-10 -1,7 -1-6 -1-14 -1-4 -1,11 -1-3 -1,19 -1-2 -1-31 -1,47 -1-15 -1-28 -1,14 -1-1 -1,19 -1-10 -1-15 -1,19 -1-1 -1-6 -1,4 -1-23 -1,6 -1,26 -1-6 -1-18 -1,29 -1-14 -1,3 -1,9 -1-6 -1,4 -1-33 -1,30 -1-8 -1,21 -1-12 -1-8 -1-1 -1-32 -1,24 -1,5 -1,9 -1,4 -1-17 -1-10 -1,14 -1-5 -1,16 -1-5 -1-27 -1,12 -1,20 -1-17 -1-5 -1,9 -1,2 -1-7 -1,6 -1-19 -1,30 -1-7 -1,5 -1-7 -1-3 -1,7 -1-11 -1,3 -1,19 -1-31 -1-9 -1,7 -1,18 -1,9 -1-46 -1,31 -1-4 -1,11 -1-28 -1,42 -1-15 -1,12 -1-24 -1,1 -1,22 -1-29 -1,34 -1-13 -1,6 -1,20 -1-23 -1-4 -1-23 -1,21 -1-13 -1,23 -1-14Z" vector-effect="non-scaling-stroke"/>
<path transform="matrix(0.63192 -0.16615 0 -0.77187 110.792 154.106)" d="M-2,7.2l1,14 1-23 1,13 1-21 1,23 1,4 1,23 1-20 1-6 1,13 1-34 1,29 1-22 1-1 1,24 1-12 1,15 1-42 1,28 1-11 1,4 1-31 1,46 1-9 1-18 1-7 1,9 1,31 1-19 1-3 1,11 1-7 1,3 1,7 1-5 1,7 1-30 1,19 1-6 1,7 1-2 1-9 1,5 1,17 1-20 1-12 1,27 1,5 1-16 1,5 1-14 1,10 1,17 1-4 1-9 1-5 1-24 1,32 1,1 1,8 1,12 1-21 1,8 1-30 1,33 1-4 1,6 1-9 1-3 1,14 1-29 1,18 1,6 1-26 1-6 1,23 1-4 1,6 1,1 1-19 1,15 1,10 1-19 1,1 1-14 1,28 1,15 1-47 1,31 1,2 1-19 1,3 1-11 1,4 1,14 1,6 1-7 1,10 1-9 1-20 1,36 1-3 1-25 1,32 1-16 1-5 1,23 1-72 1,21 1,36 1-12 1-11 1,33 1-13 1-26 1,11 1,20 1,12 1-58 1,38 1-8 1-25 1,28 1-25 1,19 1,29 1-15 1,4 1-2 1-4 1,8 1-30 1,13 1,16 1-21 1,4 1,22 1,4 1-28 1-4 1,20 1-5 1-12 1,17 1-1 1-6 1,35 1-18 1-7 1,2 1,23 1-22 1-24 1,14 1-3 1-9 1,11 1,0 1-4 1-6 1,18 1-37 1,37 1-11 1,4 1-48 1,66 1-51 1,16 1,21 1-16 1,3 1-36 1,35 1,9 1,6 1-13 1,7 1,3 1-15 1-2 1,36 1-37 1,28 1-15 1,18 1-28 1,16 1-3 1-7 1,7 1-15 1,10 1-4 1,15 1-11 1-21 1,17 1,4 1-12 1,30 1-12 1,6 1-22 1,6 1,18 1-36 1,28 1-4 1-8 1,8 1-17 1,19 1-22 1-1 1,38 1-28 1-28 1,51 1-24 1-51 1,61 1,13 1-7 1,17 1-24 1,10 1-23 1,17 1,18 1-13 1-5 1-37 1,30 1-15 1,30 1-20 1,15 1-20 1,39 1-42 1,20 1,31 1-30 1-16 1,21 1,5 1-2 1-45 1,37 1-41 1,63 1-24 1-7 1,15 1-3 1-24 1,39 1-24 1-27L260,-6l-1,13 -1-1 -1-40 -1,35 -1,3 -1,3 -1-26 -1,33 -1-39 -1,49 -1-44 -1,13 -1,20 -1-16 -1,8 -1,15 -1-23 -1,21 -1,6 -1-22 -1-9 -1,2 -1,9 -1,11 -1-13 -1,25 -1-21 -1-23 -1,26 -1,2 -1-40 -1,38 -1-6 -1,2 -1,6 -1-26 -1,34 -1-7 -1,3 -1-13 -1-3 -1-2 -1,32 -1-23 -1-2 -1,5 -1-1 -1,4 -1-9 -1,22 -1-19 -1,12 -1-22 -1,5 -1,35 -1-52 -1,17 -1,1 -1-10 -1,8 -1,16 -1-29 -1,32 -1-9 -1-42 -1,54 -1-2 -1-28 -1-1 -1,53 -1-49 -1,14 -1-27 -1,28 -1-12 -1,24 -1-39 -1,10 -1,13 -1-1 -1,5 -1,0 -1,4 -1-5 -1-16 -1,19 -1,8 -1-13 -1,0 -1,10 -1,0 -1-20 -1,19 -1-36 -1,15 -1,17 -1-4 -1-30 -1,41 -1-26 -1,21 -1-9 -1,0 -1,0 -1-2 -1-20 -1,13 -1-19 -1,19 -1,15 -1,1 -1-11 -1,28 -1-10 -1-20 -1-4 -1-14 -1,25 -1,1 -1,15 -1-13 -1,15 -1-2 -1-4 -1-64 -1,36 -1-11 -1,34 -1-1 -1-3 -1-5 -1,1 -1-1 -1,12 -1-13 -1-4 -1,8 -1,23 -1-26 -1,0 -1,0 -1,4 -1,3 -1-13 -1,7 -1-8 -1,4 -1,10 -1-7 -1,6 -1,0 -1,16 -1-25 -1,28 -1-28 -1,4 -1,22 -1-8 -1-11 -1-23 -1-1 -1,20 -1,22 -1-27 -1,1 -1,25 -1-72 -1,67 -1,2 -1-12 -1-2 -1-2 -1-20 -1,28 -1,23 -1-11 -1-39 -1,18 -1-26 -1,40 -1-12 -1,24 -1-12 -1-2 -1-4 -1-4 -1,1 -1,1 -1-30 -1-35 -1,76 -1-4 -1-40 -1,28 -1-22 -1,4 -1,16 -1-4 -1,8 -1,4 -1,11 -1-50 -1,61 -1-33 -1,4 -1,6 -1,1 -1,1 -1-21 -1,5 -1-5 -1,8 -1,4 -1,6 -1-20 -1,23 -1,3 -1-38 -1,29 -1,1 -1,9 -1,7 -1-24 -1-14 -1,6 -1,9 -1-6 -1-11 -1,41 -1-11 -1-10 -1,39 -1-45 -1,11 -1-5 -1,14 -1,6 -1,3 -1-15 -1,5 -1-15 -1,12 -1-9 -1-2 -1,4 -1,9 -1-26 -1,5 -1,23 -1-16 -1,2 -1,11 -1-21 -1,33 -1-14 -1-10 -1,1 -1,23 -1-10 -1-13Z" vector-effect="non-scaling-stroke"/>
<path transform="matrix(0.63192 -0.16615 0 -0.77187 112.054 154.672)" d="M-2,5.2l1,13 1,10 1-23 1-1 1,10 1,14 1-33 1,21 1-11 1-2 1,16 1-23 1-5 1,26 1-9 1-4 1,2 1,9 1-12 1,15 1-5 1,15 1-3 1-6 1-14 1,5 1-11 1,45 1-39 1,10 1,11 1-41 1,11 1,6 1-9 1-6 1,14 1,24 1-7 1-9 1-1 1-29 1,38 1-3 1-23 1,20 1-6 1-4 1-8 1,5 1-5 1,21 1-1 1-1 1-6 1-4 1,33 1-61 1,50 1-11 1-4 1-8 1,4 1-16 1-4 1,22 1-28 1,40 1,4 1-76 1,35 1,30 1-1 1-1 1,4 1,4 1,2 1,12 1-24 1,12 1-40 1,26 1-18 1,39 1,11 1-23 1-28 1,20 1,2 1,2 1,12 1-2 1-67 1,72 1-25 1-1 1,27 1-22 1-20 1,1 1,23 1,11 1,8 1-22 1-4 1,28 1-28 1,25 1-16 1,0 1-6 1,7 1-10 1-4 1,8 1-7 1,13 1-3 1-4 1,0 1,0 1,26 1-23 1-8 1,4 1,13 1-12 1,1 1-1 1,5 1,3 1,1 1-34 1,11 1-36 1,64 1,4 1,2 1-15 1,13 1-15 1-1 1-25 1,14 1,4 1,20 1,10 1-28 1,11 1-1 1-15 1-19 1,19 1-13 1,20 1,2 1,0 1,0 1,9 1-21 1,26 1-41 1,30 1,4 1-17 1-15 1,36 1-19 1,20 1,0 1-10 1,0 1,13 1-8 1-19 1,16 1,5 1-4 1,0 1-5 1,1 1-13 1-10 1,39 1-24 1,12 1-28 1,27 1-14 1,49 1-53 1,1 1,28 1,2 1-54 1,42 1,9 1-32 1,29 1-16 1-8 1,10 1-1 1-17 1,52 1-35 1-5 1,22 1-12 1,19 1-22 1,9 1-4 1,1 1-5 1,2 1,23 1-32 1,2 1,3 1,13 1-3 1,7 1-34 1,26 1-6 1-2 1,6 1-38 1,40 1-2 1-26 1,23 1,21 1-25 1,13 1-11 1-9 1-2 1,9 1,22 1-6 1-21 1,23 1-15 1-8 1,16 1-20 1-13 1,44 1-49 1,39 1-33 1,26 1-3 1-3 1-35 1,40 1,1 1-13L260,4l-1-53 -1,25 -1,1 -1,36 -1-4 -1,12 -1-29 -1,18 -1-3 -1-13 -1,33 -1-32 -1-21 -1,14 -1,28 -1-24 -1,18 -1-27 -1,0 -1,31 -1-12 -1-20 -1,26 -1,15 -1-11 -1-20 -1,31 -1-16 -1,19 -1-39 -1,35 -1-16 -1,0 -1-19 -1,13 -1,9 -1,7 -1,9 -1-57 -1,38 -1,5 -1,14 -1-14 -1-11 -1,23 -1-6 -1-22 -1,4 -1,22 -1-9 -1-6 -1-9 -1-21 -1,16 -1,18 -1,15 -1-14 -1,7 -1,3 -1-14 -1-6 -1,8 -1-4 -1,1 -1-2 -1,12 -1,25 -1-44 -1,4 -1-14 -1,15 -1-6 -1,4 -1-54 -1,60 -1,8 -1,2 -1-16 -1-23 -1,6 -1,25 -1,3 -1-21 -1,11 -1-14 -1,15 -1-1 -1,5 -1-23 -1,40 -1,14 -1-17 -1-14 -1,8 -1,25 -1-43 -1,1 -1,2 -1,22 -1-7 -1-24 -1-3 -1,21 -1-4 -1-15 -1,0 -1,22 -1,3 -1,1 -1-37 -1,61 -1-35 -1,15 -1-9 -1,17 -1-16 -1-15 -1,10 -1,8 -1-2 -1,37 -1-33 -1-20 -1,2 -1,12 -1-37 -1,37 -1-9 -1-8 -1,24 -1-58 -1,68 -1-23 -1-47 -1,64 -1,3 -1-18 -1,40 -1-59 -1,31 -1-13 -1-2 -1-17 -1,15 -1-5 -1,20 -1-3 -1,9 -1-11 -1,11 -1-20 -1,13 -1-5 -1-1 -1-3 -1,18 -1-2 -1-1 -1-18 -1-21 -1,26 -1-29 -1,41 -1-43 -1,37 -1-29 -1,12 -1-9 -1,15 -1,17 -1-17 -1-6 -1,25 -1-17 -1-37 -1,52 -1,0 -1-22 -1,10 -1,8 -1-66 -1,19 -1,43 -1-12 -1-10 -1,12 -1-8 -1,34 -1-30 -1-10 -1-14 -1,34 -1,4 -1,2 -1-20 -1,21 -1,3 -1-39 -1,22 -1,7 -1,3 -1-4 -1,1 -1-2 -1-8 -1-4 -1,23 -1-1 -1,4 -1,6 -1-11 -1,0 -1-3 -1,21 -1-39 -1,11 -1,20 -1-10 -1-14 -1,1 -1-20 -1,20 -1-16 -1,25 -1-22 -1,18 -1-36 -1,14 -1,23 -1,15 -1-14 -1-3 -1,12 -1-49 -1,29 -1,42 -1-18 -1-20 -1-2 -1,11 -1,14 -1-11 -1-5 -1-3 -1,22 -1,2 -1-27 -1-22 -1,11 -1,10 -1-14 -1,16 -1,5 -1-4 -1,19 -1-29 -1,3 -1,27 -1,7 -1-31Z" vector-effect="non-scaling-stroke"/>
<path transform="matrix(0.63192 -0.16615 0 -0.77187 113.316 155.238)" d="M-2,2.2l1,31 1-7 1-27 1-3 1,29 1-19 1,4 1-5 1-16 1,14 1-10 1-11 1,22 1,27 1-2 1-22 1,3 1,5 1,11 1-14 1-11 1,2 1,20 1,18 1-42 1-29 1,49 1-12 1,3 1,14 1-15 1-23 1-14 1,36 1-18 1,22 1-25 1,16 1-20 1,20 1-1 1,14 1,10 1-20 1-11 1,39 1-21 1,3 1,0 1,11 1-6 1-4 1,1 1-23 1,4 1,8 1,2 1-1 1,4 1-3 1-7 1-22 1,39 1-3 1-21 1,20 1-2 1-4 1-34 1,14 1,10 1,30 1-34 1,8 1-12 1,10 1,12 1-43 1-19 1,66 1-8 1-10 1,22 1,0 1-52 1,37 1,17 1-25 1,6 1,17 1-17 1-15 1,9 1-12 1,29 1-37 1,43 1-41 1,29 1-26 1,21 1,18 1,1 1,2 1-18 1,3 1,1 1,5 1-13 1,20 1-11 1,11 1-9 1,3 1-20 1,5 1-15 1,17 1,2 1,13 1-31 1,59 1-40 1,18 1-3 1-64 1,47 1,23 1-68 1,58 1-24 1,8 1,9 1-37 1,37 1-12 1-2 1,20 1,33 1-37 1,2 1-8 1-10 1,15 1,16 1-17 1,9 1-15 1,35 1-61 1,37 1-1 1-3 1-22 1,0 1,15 1,4 1-21 1,3 1,24 1,7 1-22 1-2 1-1 1,43 1-25 1-8 1,14 1,17 1-14 1-40 1,23 1-5 1,1 1-15 1,14 1-11 1,21 1-3 1-25 1-6 1,23 1,16 1-2 1-8 1-60 1,54 1-4 1,6 1-15 1,14 1-4 1,44 1-25 1-12 1,2 1-1 1,4 1-8 1,6 1,14 1-3 1-7 1,14 1-15 1-18 1-16 1,21 1,9 1,6 1,9 1-22 1-4 1,22 1,6 1-23 1,11 1,14 1-14 1-5 1-38 1,57 1-9 1-7 1-9 1-13 1,19 1,0 1,16 1-35 1,39 1-19 1,16 1-31 1,20 1,11 1-15 1-26 1,20 1,12 1-31 1,0 1,27 1-18 1,24 1-28 1-14 1,21 1,32 1-33 1,13 1,3 1-18 1,29 1-12 1,4 1-36 1-1 1-25 1,53L260,33l-1-30 -1,5 -1-24 -1,18 -1,9 -1-62 -1,65 -1-41 -1,36 -1,14 -1-20 -1-2 -1,15 -1-30 -1,30 -1-32 -1,18 -1-14 -1,18 -1-10 -1,13 -1-7 -1,4 -1-8 -1-20 -1,34 -1-43 -1,66 -1-29 -1-4 -1,30 -1-30 -1,18 -1-3 -1,1 -1,18 -1,9 -1-40 -1-13 -1,25 -1-1 -1,6 -1-9 -1-1 -1-3 -1-9 -1-20 -1-19 -1,45 -1-22 -1,21 -1-24 -1,47 -1-23 -1-37 -1,55 -1-13 -1-18 -1,21 -1,7 -1-33 -1,21 -1-18 -1,16 -1,9 -1-15 -1,7 -1,8 -1-5 -1-30 -1,23 -1,11 -1-4 -1-15 -1-18 -1,5 -1,39 -1,11 -1-40 -1,5 -1,17 -1-3 -1-9 -1-1 -1,30 -1,4 -1-34 -1,0 -1-10 -1,11 -1,10 -1-2 -1-3 -1,9 -1-56 -1,45 -1,5 -1-47 -1,43 -1-2 -1-8 -1,15 -1-9 -1,12 -1-20 -1,28 -1-12 -1-49 -1,25 -1,13 -1,5 -1,2 -1-3 -1,10 -1-14 -1,24 -1,4 -1-17 -1-3 -1-1 -1,4 -1,0 -1-11 -1,3 -1-6 -1,5 -1,10 -1,6 -1-3 -1-9 -1,5 -1,11 -1-11 -1,8 -1-14 -1,13 -1-8 -1-23 -1,31 -1,0 -1-43 -1,31 -1,4 -1-23 -1,16 -1-25 -1,21 -1-14 -1,26 -1,8 -1-1 -1,4 -1-4 -1-25 -1-5 -1,23 -1,23 -1-21 -1,2 -1-2 -1,8 -1-4 -1-37 -1,25 -1-6 -1,13 -1-7 -1-1 -1,10 -1,8 -1-26 -1-1 -1-8 -1,19 -1-2 -1-8 -1-18 -1,39 -1-1 -1,16 -1,4 -1-25 -1,6 -1-26 -1-11 -1,45 -1-39 -1,9 -1-14 -1,39 -1-25 -1,25 -1-23 -1,8 -1,11 -1-4 -1,11 -1-40 -1,15 -1,16 -1,14 -1-59 -1,56 -1-14 -1-50 -1,49 -1-11 -1,21 -1-39 -1,28 -1-3 -1,1 -1-1 -1,17 -1,3 -1-29 -1-12 -1,25 -1,8 -1-9 -1,1 -1-14 -1,9 -1-4 -1,29 -1,11 -1-30 -1,13 -1-28 -1,24 -1,5 -1-33 -1,12 -1,18 -1-25 -1,13 -1-10 -1,31 -1-10 -1-18 -1,31 -1-35 -1,12 -1,3 -1-7 -1,1 -1,11 -1-47 -1,33 -1-4 -1,12 -1-16 -1,2 -1,19 -1-16 -1,9 -1,0 -1-1 -1,0 -1,14Z" vector-effect="non-scaling-stroke"/>
<path transform="matrix(0.63192 -0.16615 0 -0.77187 114.578 155.804)" d="M-2,24.2l1-14 1,0 1,1 1,0 1-9 1,16 1-19 1-2 1,16 1-12 1,4 1-33 1,47 1-11 1-1 1,7 1-3 1-12 1,35 1-31 1,18 1,10 1-31 1,10 1-13 1,25 1-18 1-12 1,33 1-5 1-24 1,28 1-13 1,30 1-11 1-29 1,4 1-9 1,14 1-1 1,9 1-8 1-25 1,12 1,29 1-3 1-17 1,1 1-1 1,3 1-28 1,39 1-21 1,11 1-49 1,50 1,14 1-56 1,59 1-14 1-16 1-15 1,40 1-11 1,4 1-11 1-8 1,23 1-25 1,25 1-39 1,14 1-9 1,39 1-45 1,11 1,26 1-6 1,25 1-4 1-16 1,1 1-39 1,18 1,8 1,2 1-19 1,8 1,1 1,26 1-8 1-10 1,1 1,7 1-13 1,6 1-25 1,37 1,4 1-8 1,2 1-2 1,21 1-23 1-23 1,5 1,25 1,4 1-4 1,1 1-8 1-26 1,14 1-21 1,25 1-16 1,23 1-4 1-31 1,43 1,0 1-31 1,23 1,8 1-13 1,14 1-8 1,11 1-11 1-5 1,9 1,3 1-6 1-10 1-5 1,6 1-3 1,11 1,0 1-4 1,1 1,3 1,17 1-4 1-24 1,14 1-10 1,3 1-2 1-5 1-13 1-25 1,49 1,12 1-28 1,20 1-12 1,9 1-15 1,8 1,2 1-43 1,47 1-5 1-45 1,56 1-9 1,3 1,2 1-10 1-11 1,10 1,0 1,34 1-4 1-30 1,1 1,9 1,3 1-17 1-5 1,40 1-11 1-39 1-5 1,18 1,15 1,4 1-11 1-23 1,30 1,5 1-8 1-7 1,15 1-9 1-16 1,18 1-21 1,33 1-7 1-21 1,18 1,13 1-55 1,37 1,23 1-47 1,24 1-21 1,22 1-45 1,19 1,20 1,9 1,3 1,1 1,9 1-6 1,1 1-25 1,13 1,40 1-9 1-18 1-1 1,3 1-18 1,30 1-30 1,4 1,29 1-66 1,43 1-34 1,20 1,8 1-4 1,7 1-13 1,10 1-18 1,14 1-18 1,32 1-30 1,30 1-15 1,2 1,20 1-14 1-36 1,41 1-65 1,62 1-9 1-18 1,24 1-5 1,30L260,30l-1-11 -1-3 -1-9 -1,14 -1,1 -1-7 -1-27 -1,18 -1,1 -1,6 -1-49 -1,58 -1-8 -1-2 -1,5 -1-13 -1-7 -1,6 -1-22 -1,24 -1-5 -1,11 -1,0 -1-2 -1,7 -1-4 -1-13 -1,12 -1-26 -1,49 -1-29 -1-6 -1-8 -1,28 -1-14 -1,4 -1-25 -1,29 -1-22 -1,15 -1-12 -1,36 -1-71 -1,40 -1,4 -1,7 -1-22 -1,2 -1,7 -1,6 -1-12 -1,26 -1-7 -1-28 -1,8 -1,31 -1-3 -1-40 -1,28 -1,27 -1-17 -1,4 -1-18 -1-21 -1,18 -1,6 -1,5 -1,10 -1-4 -1-7 -1-1 -1-41 -1,30 -1,16 -1-20 -1,10 -1,11 -1-28 -1,0 -1,50 -1-9 -1-13 -1-19 -1,32 -1-1 -1-8 -1,6 -1-19 -1-9 -1,6 -1-4 -1,3 -1,22 -1-33 -1,18 -1-2 -1,17 -1-11 -1-13 -1,14 -1,6 -1-5 -1-1 -1,4 -1-40 -1,36 -1-43 -1,56 -1-11 -1-4 -1-13 -1,16 -1,12 -1-7 -1-6 -1-15 -1,9 -1-11 -1,20 -1-12 -1-22 -1,40 -1-13 -1,2 -1,0 -1,3 -1,6 -1-3 -1,18 -1-15 -1-13 -1,15 -1-17 -1,4 -1,11 -1-7 -1-56 -1,51 -1-14 -1,6 -1,17 -1-4 -1,13 -1-12 -1,5 -1-15 -1-1 -1,21 -1-15 -1-3 -1,11 -1,4 -1-22 -1,7 -1-5 -1-23 -1,45 -1-2 -1-5 -1-1 -1-3 -1-10 -1-3 -1,8 -1,0 -1,6 -1-4 -1-7 -1-21 -1,35 -1-17 -1,35 -1-16 -1,0 -1-27 -1,24 -1-11 -1-17 -1,17 -1,21 -1-24 -1,7 -1,9 -1-12 -1,11 -1-14 -1,27 -1-27 -1-17 -1,35 -1-57 -1,32 -1,6 -1,9 -1,6 -1-8 -1,3 -1-21 -1,31 -1-11 -1-6 -1,3 -1,40 -1-55 -1-3 -1,32 -1-8 -1,7 -1-15 -1-1 -1,30 -1-36 -1-2 -1,4 -1,8 -1,2 -1-22 -1,26 -1-24 -1,20 -1,6 -1,4 -1-19 -1,5 -1-2 -1-4 -1,6 -1,9 -1-12 -1,5 -1-11 -1,11 -1-7 -1,25 -1-17 -1,3 -1,28 -1-41 -1,15 -1-3 -1,17 -1-12 -1,8 -1-2 -1-9 -1,23 -1-20 -1-13 -1,18 -1,0 -1,20 -1-32 -1-4 -1,7 -1,8 -1-11 -1,11 -1,6 -1-31 -1,10Z" vector-effect="non-scaling-stroke"/>
<path transform="matrix(0.63192 -0.16615 0 -0.77187 115.840 156.370)" d="M-2,6.2l1-10 1,31 1-6 1-11 1,11 1-8 1-7 1,4 1,32 1-20 1,0 1-18 1,13 1,20 1-23 1,9 1,2 1-8 1,12 1-17 1,3 1-15 1,41 1-28 1-3 1,17 1-25 1,7 1-11 1,11 1-5 1,12 1-9 1-6 1,4 1,2 1-5 1,19 1-4 1-6 1-20 1,24 1-26 1,22 1-2 1-8 1-4 1,2 1,36 1-30 1,1 1,15 1-7 1,8 1-32 1,3 1,55 1-40 1-3 1,6 1,11 1-31 1,21 1-3 1,8 1-6 1-9 1-6 1-32 1,57 1-35 1,17 1,27 1-27 1,14 1-11 1,12 1-9 1-7 1,24 1-21 1-17 1,17 1,11 1-24 1,27 1,0 1,16 1-35 1,17 1-35 1,21 1,7 1,4 1-6 1,0 1-8 1,3 1,10 1,3 1,1 1,5 1,2 1-45 1,23 1,5 1-7 1,22 1-4 1-11 1,3 1,15 1-21 1,1 1,15 1-5 1,12 1-13 1,4 1-17 1-6 1,14 1-51 1,56 1,7 1-11 1-4 1,17 1-15 1,13 1,15 1-18 1,3 1-6 1-3 1,0 1-2 1,13 1-40 1,22 1,12 1-20 1,11 1-9 1,15 1,6 1,7 1-12 1-16 1,13 1,4 1,11 1-56 1,43 1-36 1,40 1-4 1,1 1,5 1-6 1-14 1,13 1,11 1-17 1,2 1-18 1,33 1-22 1-3 1,4 1-6 1,9 1,19 1-6 1,8 1,1 1-32 1,19 1,13 1,9 1-50 1,0 1,28 1-11 1-10 1,20 1-16 1-30 1,41 1,1 1,7 1,4 1-10 1-5 1-6 1-18 1,21 1,18 1-4 1,17 1-27 1-28 1,40 1,3 1-31 1-8 1,28 1,7 1-26 1,12 1-6 1-7 1-2 1,22 1-7 1-4 1-40 1,71 1-36 1,12 1-15 1,22 1-29 1,25 1-4 1,14 1-28 1,8 1,6 1,29 1-49 1,26 1-12 1,13 1,4 1-7 1,2 1,0 1-11 1,5 1-24 1,22 1-6 1,7 1,13 1-5 1,2 1,8 1-58 1,49 1-6 1-1 1-18 1,27 1,7 1-1 1-14 1,9 1,3 1,11L260,9l-1-3 -1-5 -1-2 -1-5 -1,11 -1,8 -1-20 -1,16 -1-12 -1,1 -1,9 -1-5 -1,7 -1-3 -1-8 -1,17 -1,2 -1-12 -1-5 -1,6 -1-9 -1,33 -1-27 -1,10 -1,24 -1-30 -1-13 -1,15 -1,6 -1-50 -1,38 -1,0 -1,1 -1,3 -1,1 -1,20 -1-41 -1,42 -1-9 -1-1 -1-16 -1,29 -1-28 -1,10 -1-33 -1,20 -1,3 -1,28 -1-25 -1-1 -1,12 -1-1 -1-11 -1-5 -1,23 -1-14 -1-12 -1-25 -1,6 -1,20 -1,4 -1-4 -1,1 -1,12 -1-12 -1,33 -1-9 -1-14 -1-7 -1,24 -1-17 -1-16 -1,14 -1-8 -1,10 -1,15 -1-39 -1-16 -1,67 -1-28 -1-24 -1,42 -1-57 -1,59 -1-43 -1,12 -1,9 -1-17 -1,35 -1-29 -1,11 -1-12 -1,5 -1,11 -1-12 -1,9 -1-1 -1,25 -1-33 -1,12 -1-34 -1,24 -1,24 -1-12 -1-22 -1,22 -1,5 -1-11 -1,17 -1-6 -1-18 -1,15 -1-4 -1,10 -1-11 -1,16 -1-9 -1-6 -1,11 -1-14 -1,10 -1-8 -1,6 -1-30 -1,30 -1-2 -1,6 -1-19 -1,29 -1-10 -1-35 -1,32 -1-27 -1,18 -1,11 -1-34 -1,34 -1,2 -1,1 -1-11 -1,8 -1-8 -1,9 -1-29 -1,33 -1-2 -1-22 -1,9 -1,9 -1,1 -1,4 -1,2 -1-37 -1,28 -1,7 -1,6 -1-6 -1-9 -1-20 -1,27 -1-26 -1,9 -1-6 -1,24 -1-53 -1,36 -1,0 -1,4 -1-3 -1-4 -1,4 -1-16 -1,23 -1-15 -1,20 -1-18 -1,7 -1-8 -1,22 -1-7 -1,5 -1,1 -1-27 -1,29 -1,2 -1-8 -1-9 -1,26 -1-38 -1,2 -1,9 -1,27 -1-20 -1-21 -1,10 -1,12 -1-11 -1-55 -1,33 -1,39 -1-15 -1,16 -1-12 -1-8 -1-9 -1-9 -1,32 -1,9 -1-26 -1,27 -1-24 -1,5 -1-8 -1-33 -1,61 -1-2 -1-3 -1-55 -1,58 -1-2 -1-9 -1-23 -1,41 -1-36 -1,22 -1,3 -1-18 -1,9 -1-16 -1,8 -1-3 -1,13 -1-9 -1,10 -1,4 -1,3 -1-38 -1-5 -1,36 -1,5 -1,2 -1-62 -1,42 -1,15 -1,3 -1-32 -1,32 -1,7 -1-12 -1-30 -1,14 -1,21 -1-18 -1,20 -1,7 -1-14 -1-15 -1,28 -1-16 -1,17Z" vector-effect="non-scaling-stroke"/>
<path transform="matrix(0.63192 -0.16615 0 -0.77187 117.102 156.936)" d="M-2,29.2l1-17 1,16 1-28 1,15 1,14 1-7 1-20 1,18 1-21 1-14 1,30 1,12 1-7 1-32 1,32 1-3 1-15 1-42 1,62 1-2 1-5 1-36 1,5 1,38 1-3 1-4 1-10 1,9 1-13 1,3 1-8 1,16 1-9 1,18 1-3 1-22 1,36 1-41 1,23 1,9 1,2 1-58 1,55 1,3 1,2 1-61 1,33 1,8 1-5 1,24 1-27 1,26 1-9 1-32 1,9 1,9 1,8 1,12 1-16 1,15 1-39 1-33 1,55 1,11 1-12 1-10 1,21 1,20 1-27 1-9 1-2 1,38 1-26 1,9 1,8 1-2 1-29 1,27 1-1 1-5 1,7 1-22 1,8 1-7 1,18 1-20 1,15 1-23 1,16 1-4 1,4 1,3 1-4 1,0 1-36 1,53 1-24 1,6 1-9 1,26 1-27 1,20 1,9 1,6 1-6 1-7 1-28 1,37 1-2 1-4 1-1 1-9 1-9 1,22 1,2 1-33 1,29 1-9 1,8 1-8 1,11 1-1 1-2 1-34 1,34 1-11 1-18 1,27 1-32 1,35 1,10 1-29 1,19 1-6 1,2 1-30 1,30 1-6 1,8 1-10 1,14 1-11 1,6 1,9 1-16 1,11 1-10 1,4 1-15 1,18 1,6 1-17 1,11 1-5 1-22 1,22 1,12 1-24 1-24 1,34 1-12 1,33 1-25 1,1 1-9 1,12 1-11 1-5 1,12 1-11 1,29 1-35 1,17 1-9 1-12 1,43 1-59 1,57 1-42 1,24 1,28 1-67 1,16 1,39 1-15 1-10 1,8 1-14 1,16 1,17 1-24 1,7 1,14 1,9 1-33 1,12 1-12 1-1 1,4 1-4 1-20 1-6 1,25 1,12 1,14 1-23 1,5 1,11 1,1 1-12 1,1 1,25 1-28 1-3 1-20 1,33 1-10 1,28 1-29 1,16 1,1 1,9 1-42 1,41 1-20 1-1 1-3 1-1 1,0 1-38 1,50 1-6 1-15 1,13 1,30 1-24 1-10 1,27 1-33 1,9 1-6 1,5 1,12 1-2 1-17 1,8 1,3 1-7 1,5 1-9 1-1 1,12 1-16 1,20 1-8 1-11 1,5 1,2 1,5 1,3L260,11l-1,21 -1-57 -1,9 -1,37 -1-11 -1-8 -1,6 -1,20 -1,10 -1-28 -1-32 -1,10 -1,18 -1-20 -1,37 -1,17 -1-36 -1-7 -1,13 -1,14 -1-50 -1,21 -1-27 -1,34 -1,12 -1,10 -1-28 -1,8 -1,9 -1,8 -1,0 -1-14 -1-15 -1,19 -1-4 -1,1 -1,12 -1-62 -1,47 -1-1 -1-14 -1-1 -1,20 -1,0 -1-18 -1,10 -1-42 -1,51 -1,31 -1-16 -1-12 -1,12 -1-19 -1,9 -1,2 -1-14 -1-9 -1-4 -1,42 -1-45 -1,32 -1,2 -1-28 -1,20 -1,6 -1-24 -1,27 -1-15 -1,4 -1-15 -1,16 -1,4 -1-17 -1-2 -1,18 -1,1 -1-21 -1,6 -1,15 -1-23 -1-6 -1-5 -1,15 -1,5 -1,4 -1,0 -1-17 -1,15 -1-5 -1,30 -1-15 -1-12 -1,29 -1-10 -1-26 -1,6 -1,10 -1,6 -1-36 -1,37 -1-20 -1,4 -1,4 -1,29 -1-26 -1,7 -1-37 -1,21 -1-12 -1,38 -1-11 -1-20 -1,2 -1,11 -1,17 -1-48 -1,24 -1-9 -1,11 -1,16 -1,0 -1-37 -1,33 -1-17 -1-7 -1,35 -1-45 -1,23 -1-5 -1,4 -1,4 -1-22 -1,13 -1,18 -1,9 -1,5 -1-16 -1,3 -1,7 -1-26 -1,8 -1-20 -1,24 -1-13 -1,27 -1-17 -1,10 -1-11 -1-4 -1,9 -1-4 -1-7 -1,25 -1-16 -1,0 -1,10 -1-35 -1,18 -1,3 -1,0 -1-11 -1,32 -1,4 -1-20 -1,5 -1,14 -1-5 -1-20 -1,12 -1,9 -1-36 -1,31 -1-17 -1-8 -1,14 -1,15 -1-27 -1,11 -1,9 -1-21 -1,39 -1-29 -1,12 -1-22 -1,3 -1,11 -1,2 -1-4 -1-13 -1,8 -1-11 -1,26 -1,15 -1-56 -1,32 -1,16 -1-21 -1,2 -1-1 -1,5 -1,18 -1-39 -1,36 -1,2 -1-49 -1,15 -1,15 -1,16 -1-37 -1,29 -1-26 -1,18 -1,6 -1-17 -1,20 -1-27 -1,20 -1,22 -1-55 -1,31 -1-39 -1,41 -1,11 -1-21 -1-39 -1,36 -1,11 -1,3 -1,0 -1-11 -1,12 -1,15 -1-11 -1-15 -1,0 -1,9 -1,19 -1-12 -1,1 -1-12 -1-2 -1-7 -1,16 -1-31 -1,30 -1-4 -1-7 -1,13 -1-18 -1,7 -1-15 -1,29 -1-16 -1,5 -1,1 -1-16 -1,23 -1-8 -1-1 -1,3Z" vector-effect="non-scaling-stroke"/>
<path transform="matrix(0.63192 -0.16615 0 -0.77187 118.364 157.502)" d="M-2,9.2l1-3 1,1 1,8 1-23 1,16 1-1 1-5 1,16 1-29 1,15 1-7 1,18 1-13 1,7 1,4 1-30 1,31 1-16 1,7 1,2 1,12 1-1 1,12 1-19 1-9 1,0 1,15 1,11 1-15 1-12 1,11 1,0 1-3 1-11 1-36 1,39 1,21 1-11 1-41 1,39 1-31 1,55 1-22 1-20 1,27 1-20 1,17 1-6 1-18 1,26 1-29 1,37 1-16 1-15 1-15 1,49 1-2 1-36 1,39 1-18 1-5 1,1 1-2 1,21 1-16 1-32 1,56 1-15 1-26 1,11 1-8 1,13 1,4 1-2 1-11 1-3 1,22 1-12 1,29 1-39 1,21 1-9 1-11 1,27 1-15 1-14 1,8 1,17 1-31 1,36 1-9 1-12 1,20 1,5 1-14 1-5 1,20 1-4 1-32 1,11 1,0 1-3 1-18 1,35 1-10 1,0 1,16 1-25 1,7 1,4 1-9 1,4 1,11 1-10 1,17 1-27 1,13 1-24 1,20 1-8 1,26 1-7 1-3 1,16 1-5 1-9 1-18 1-13 1,22 1-4 1-4 1,5 1-23 1,45 1-35 1,7 1,17 1-33 1,37 1,0 1-16 1-11 1,9 1-24 1,48 1-17 1-11 1-2 1,20 1,11 1-38 1,12 1-21 1,37 1-7 1,26 1-29 1-4 1-4 1,20 1-37 1,36 1-6 1-10 1-6 1,26 1,10 1-29 1,12 1,15 1-30 1,5 1-15 1,17 1,0 1-4 1-5 1-15 1,5 1,6 1,23 1-15 1-6 1,21 1-1 1-18 1,2 1,17 1-4 1-16 1,15 1-4 1,15 1-27 1,24 1-6 1-20 1,28 1-2 1-32 1,45 1-42 1,4 1,9 1,14 1-2 1-9 1,19 1-12 1,12 1,16 1-31 1-51 1,42 1-10 1,18 1,0 1-20 1,1 1,14 1,1 1-47 1,62 1-12 1-1 1,4 1-19 1,15 1,14 1,0 1-8 1-9 1-8 1,28 1-10 1-12 1-34 1,27 1-21 1,50 1-14 1-13 1,7 1,36 1-17 1-37 1,20 1-18 1-10 1,32 1,28 1-10 1-20 1-6 1,8 1,11 1-37 1-9 1,57 1-21L260,12l-1-3 -1-4 -1,4 -1,13 -1-22 -1,13 -1-34 -1,40 -1,13 -1-37 -1,4 -1,7 -1-11 -1,27 -1-7 -1-5 -1,7 -1-22 -1,17 -1,6 -1-7 -1-15 -1,2 -1,8 -1,4 -1-17 -1,16 -1-5 -1-4 -1,17 -1-4 -1-11 -1,8 -1,7 -1-31 -1,34 -1,8 -1-31 -1,1 -1-18 -1,20 -1,1 -1,9 -1,4 -1-14 -1,19 -1-32 -1,27 -1-7 -1-22 -1,23 -1-14 -1-3 -1,26 -1-21 -1,19 -1-14 -1,4 -1,16 -1,0 -1-46 -1,35 -1,10 -1,7 -1-12 -1-14 -1,9 -1-2 -1-6 -1,11 -1-19 -1,23 -1,5 -1,14 -1-28 -1,5 -1-2 -1-40 -1,60 -1-29 -1,0 -1,1 -1,21 -1-13 -1,3 -1,1 -1-16 -1-6 -1,3 -1,10 -1,10 -1,1 -1-12 -1-6 -1,16 -1-5 -1-17 -1,8 -1,15 -1-41 -1,41 -1-23 -1-5 -1,24 -1-18 -1,9 -1,15 -1-16 -1,9 -1-18 -1,26 -1-19 -1,25 -1-29 -1,13 -1-5 -1,39 -1-44 -1,16 -1-3 -1,2 -1-26 -1,26 -1-22 -1,19 -1-6 -1,6 -1,0 -1-12 -1,16 -1-9 -1,7 -1,11 -1-23 -1,19 -1-33 -1,35 -1,3 -1-23 -1,14 -1-18 -1,8 -1-11 -1,4 -1,7 -1,11 -1-7 -1-3 -1,20 -1-7 -1-10 -1,17 -1,0 -1-15 -1-15 -1,9 -1-39 -1,23 -1,24 -1,1 -1-7 -1-13 -1,12 -1-4 -1-14 -1,8 -1,18 -1,0 -1,15 -1-67 -1,45 -1-48 -1,42 -1,11 -1-16 -1-5 -1,18 -1-4 -1,4 -1-4 -1,5 -1,1 -1,1 -1,7 -1-3 -1-33 -1,16 -1,12 -1,2 -1-4 -1,14 -1-19 -1-41 -1,38 -1,6 -1-10 -1,7 -1-11 -1,5 -1,7 -1-3 -1,1 -1-15 -1,23 -1-20 -1,16 -1-22 -1,14 -1,24 -1-19 -1,7 -1-33 -1,27 -1,0 -1,15 -1-42 -1,29 -1-2 -1,2 -1-37 -1,29 -1,30 -1-26 -1,4 -1-7 -1,7 -1-19 -1,4 -1,4 -1,17 -1-21 -1-13 -1,31 -1-19 -1,1 -1,19 -1-5 -1,7 -1-13 -1,27 -1-21 -1,31 -1-29 -1-18 -1,31 -1-35 -1,28 -1,0 -1-7 -1,0 -1,13 -1-16 -1,19 -1-57 -1,15 -1,23 -1-8 -1,1 -1,11 -1-7Z" vector-effect="non-scaling-stroke"/>
<path transform="matrix(0.63192 -0.16615 0 -0.77187 119.626 158.068)" d="M-2,3.2l1,7 1-11 1-1 1,8 1-23 1-15 1,57 1-19 1,16 1-13 1,0 1,7 1,0 1-28 1,35 1-31 1,18 1,29 1-31 1,21 1-27 1,13 1-7 1,5 1-19 1-1 1,19 1-31 1,13 1,21 1-17 1-4 1-4 1,19 1-7 1,7 1-4 1,26 1-30 1-29 1,37 1-2 1,2 1-29 1,42 1-15 1,0 1-27 1,33 1-7 1,19 1-24 1-14 1,22 1-16 1,20 1-23 1,15 1-1 1,3 1-7 1-5 1,11 1-7 1,10 1-6 1-38 1,41 1,19 1-14 1,4 1-2 1-12 1-16 1,33 1,3 1-7 1-1 1-1 1-5 1,4 1-4 1,4 1-18 1,5 1,16 1-11 1-42 1,48 1-45 1,67 1-15 1,0 1-18 1-8 1,14 1,4 1-12 1,13 1,7 1-1 1-24 1-23 1,39 1-9 1,15 1,15 1,0 1-17 1,10 1,7 1-20 1,3 1,7 1-11 1-7 1-4 1,11 1-8 1,18 1-14 1,23 1-3 1-35 1,33 1-19 1,23 1-11 1-7 1,9 1-16 1,12 1,0 1-6 1,6 1-19 1,22 1-26 1,26 1-2 1,3 1-16 1,44 1-39 1,5 1-13 1,29 1-25 1,19 1-26 1,18 1-9 1,16 1-15 1-9 1,18 1-24 1,5 1,23 1-41 1,41 1-15 1-8 1,17 1,5 1-16 1,6 1,12 1-1 1-10 1-10 1-3 1,6 1,16 1-1 1-3 1,13 1-21 1-1 1,0 1,29 1-60 1,40 1,2 1-5 1,28 1-14 1-5 1-23 1,19 1-11 1,6 1,2 1-9 1,14 1,12 1-7 1-10 1-35 1,46 1,0 1-16 1-4 1,14 1-19 1,21 1-26 1,3 1,14 1-23 1,22 1,7 1-27 1,32 1-19 1,14 1-4 1-9 1-1 1-20 1,18 1-1 1,31 1-8 1-34 1,31 1-7 1-8 1,11 1,4 1-17 1,4 1,5 1-16 1,17 1-4 1-8 1-2 1,15 1,7 1-6 1-17 1,22 1-7 1,5 1,7 1-27 1,11 1-7 1-4 1,37 1-13 1-40 1,34 1-13 1,22 1-13 1-4 1,4 1,3L260,31l-1-20 -1-8 -1,12 -1-23 -1-13 -1,35 -1-6 -1,6 -1-14 -1,14 -1,9 -1-20 -1-22 -1,28 -1,16 -1-15 -1,2 -1-6 -1,8 -1,12 -1-48 -1,30 -1-8 -1,16 -1-26 -1-36 -1,57 -1-21 -1,30 -1-19 -1,18 -1-5 -1,8 -1-22 -1,12 -1,0 -1-6 -1,17 -1-8 -1,4 -1-9 -1-14 -1-13 -1,42 -1-11 -1-63 -1,34 -1,22 -1-2 -1,2 -1-1 -1-6 -1-8 -1,5 -1,16 -1-5 -1-25 -1,19 -1-7 -1,14 -1,1 -1,0 -1-41 -1,58 -1-12 -1-28 -1,33 -1-29 -1,17 -1,5 -1-7 -1-31 -1,39 -1-7 -1-18 -1-1 -1,13 -1,5 -1-8 -1,16 -1,11 -1-13 -1-19 -1,22 -1-34 -1,36 -1-24 -1,14 -1,8 -1-19 -1,24 -1-15 -1,4 -1,13 -1-30 -1,5 -1,5 -1,1 -1,0 -1,18 -1-37 -1,24 -1-11 -1-4 -1-15 -1,33 -1-19 -1-3 -1,13 -1-1 -1-26 -1,41 -1-20 -1,3 -1,21 -1,3 -1-14 -1-11 -1-5 -1,4 -1,3 -1,7 -1,15 -1-20 -1-22 -1,35 -1-28 -1,1 -1,38 -1-23 -1-4 -1-1 -1,1 -1,25 -1-29 -1-8 -1,21 -1-23 -1,35 -1-34 -1,29 -1,16 -1-23 -1,2 -1-8 -1-5 -1,13 -1-32 -1,33 -1-22 -1,5 -1,37 -1-18 -1,12 -1-44 -1,23 -1-9 -1,9 -1,1 -1-26 -1,31 -1-5 -1,3 -1-9 -1,28 -1-9 -1-10 -1,14 -1-17 -1,18 -1-45 -1,43 -1-16 -1,12 -1-12 -1,2 -1-6 -1,10 -1,0 -1,8 -1-13 -1-2 -1-20 -1,33 -1-20 -1-30 -1,46 -1,6 -1,4 -1-37 -1,32 -1-27 -1,11 -1-9 -1,36 -1-6 -1-7 -1-10 -1-33 -1,53 -1-7 -1-6 -1-10 -1-20 -1,34 -1,0 -1-11 -1,11 -1-9 -1-22 -1,26 -1,4 -1-35 -1,23 -1,6 -1,10 -1-4 -1-17 -1,13 -1,12 -1-3 -1,5 -1,0 -1-26 -1,19 -1-15 -1-6 -1-40 -1,29 -1,24 -1-37 -1,33 -1,0 -1-23 -1,30 -1-17 -1,10 -1-4 -1-13 -1,4 -1,16 -1,12 -1-33 -1,36 -1-34 -1,27 -1,2 -1-22 -1,12 -1-18 -1,27 -1-6 -1,0 -1,6 -1-17 -1,0 -1,16 -1-15 -1-12 -1,1Z" vector-effect="non-scaling-stroke"/>
<path transform="matrix(0.63192 -0.16615 0 -0.77187 120.888 158.634)" d="M-2,-6.8l1-1 1,12 1,15 1-16 1,0 1,17 1-6 1,0 1,6 1-27 1,18 1-12 1,22 1-2 1-27 1,34 1-36 1,33 1-12 1-16 1-4 1,13 1,4 1-10 1,17 1-30 1,23 1,0 1-33 1,37 1-24 1-29 1,40 1,6 1,15 1-19 1,26 1,0 1-5 1,3 1-12 1-13 1,17 1,4 1-10 1-6 1-23 1,35 1-4 1-26 1,22 1,9 1-11 1,11 1,0 1-34 1,20 1,10 1,6 1,7 1-53 1,33 1,10 1,7 1,6 1-36 1,9 1-11 1,27 1-32 1,37 1-4 1-6 1-46 1,30 1,20 1-33 1,20 1,2 1,13 1-8 1,0 1-10 1,6 1-2 1,12 1-12 1,16 1-43 1,45 1-18 1,17 1-14 1,10 1,9 1-28 1,9 1-3 1,5 1-31 1,26 1-1 1-9 1,9 1-23 1,44 1-12 1,18 1-37 1-5 1,22 1-33 1,32 1-13 1,5 1,8 1-2 1,23 1-16 1-29 1,34 1-35 1,23 1-21 1,8 1,29 1-25 1-1 1,1 1,4 1,23 1-38 1-1 1,28 1-35 1,22 1,20 1-15 1-7 1-3 1-4 1,5 1,11 1,14 1-3 1-21 1-3 1,20 1-41 1,26 1,1 1-13 1,3 1,19 1-33 1,15 1,4 1,11 1-24 1,37 1-18 1,0 1-1 1-5 1-5 1,30 1-13 1-4 1,15 1-24 1,19 1-8 1-14 1,24 1-36 1,34 1-22 1,19 1,13 1-11 1-16 1,8 1-5 1-13 1,1 1,18 1,7 1-39 1,31 1,7 1-5 1-17 1,29 1-33 1,28 1,12 1-58 1,41 1,0 1-1 1-14 1,7 1-19 1,25 1,5 1-16 1-5 1,8 1,6 1,1 1-2 1,2 1-22 1-34 1,63 1,11 1-42 1,13 1,14 1,9 1-4 1,8 1-17 1,6 1,0 1-12 1,22 1-8 1,5 1-18 1,19 1-30 1,21 1-57 1,36 1,26 1-16 1,8 1-30 1,48 1-12 1-8 1,6 1-2 1,15 1-16 1-28 1,22 1,20 1-9 1-14 1,14 1-6 1,6 1-35 1,13 1,23 1-12 1,8 1,20L260,14l-1-25 -1-3 -1,13 -1-10 -1,46 -1,1 -1-25 -1,8 -1-11 -1-8 -1,12 -1-5 -1-6 -1-5 -1,11 -1,16 -1,0 -1-2 -1-4 -1-43 -1,33 -1,19 -1-70 -1,70 -1-18 -1,26 -1-19 -1-21 -1,37 -1-15 -1-10 -1-13 -1,16 -1,4 -1-34 -1,2 -1,22 -1,0 -1-12 -1,20 -1-9 -1,10 -1-31 -1-6 -1,18 -1,6 -1,12 -1-25 -1,33 -1,2 -1-24 -1,30 -1-24 -1,2 -1,13 -1-9 -1-8 -1-21 -1,20 -1,22 -1,5 -1-5 -1-27 -1,20 -1-7 -1-1 -1,2 -1,2 -1,15 -1-19 -1-1 -1,10 -1-15 -1,5 -1-7 -1-5 -1,7 -1-4 -1,2 -1-11 -1,40 -1-23 -1,36 -1-22 -1,0 -1-28 -1,10 -1,12 -1,5 -1-13 -1-10 -1-13 -1,39 -1-9 -1,0 -1-9 -1-23 -1,7 -1,42 -1-19 -1,3 -1-26 -1,11 -1,39 -1-34 -1-16 -1,3 -1,28 -1-35 -1,27 -1-12 -1,26 -1-16 -1-40 -1,43 -1,3 -1-18 -1-2 -1,15 -1,1 -1-5 -1-8 -1,19 -1-2 -1,14 -1,11 -1-37 -1,3 -1,0 -1,22 -1-18 -1-10 -1,4 -1,0 -1-3 -1-14 -1,24 -1-10 -1,26 -1-30 -1,8 -1-2 -1-6 -1,19 -1-27 -1,9 -1,5 -1-28 -1,32 -1-17 -1,30 -1-17 -1,0 -1,16 -1,1 -1,2 -1-2 -1-15 -1-9 -1,15 -1,2 -1-10 -1,6 -1-9 -1,27 -1-19 -1-16 -1,13 -1,22 -1-16 -1,1 -1-8 -1,0 -1,8 -1-16 -1-2 -1-2 -1,21 -1-3 -1,19 -1-36 -1,18 -1-11 -1-8 -1,21 -1,9 -1,16 -1-54 -1,16 -1,19 -1-2 -1-24 -1-1 -1,17 -1-5 -1,0 -1,9 -1-28 -1,41 -1-8 -1-22 -1,26 -1-33 -1,39 -1-16 -1,2 -1-4 -1,12 -1-36 -1,1 -1,30 -1-1 -1-8 -1,0 -1-13 -1,22 -1,5 -1-30 -1,28 -1-12 -1-17 -1,10 -1,13 -1-11 -1-2 -1,14 -1-3 -1,12 -1-32 -1-7 -1,30 -1-2 -1-16 -1,6 -1,5 -1-16 -1,40 -1-16 -1-14 -1-4 -1,4 -1,13 -1,11 -1-18 -1-9 -1,8 -1,4 -1,14 -1-39 -1,40 -1,7 -1-14 -1-27 -1,15 -1,2 -1-26 -1,25 -1-22 -1,18 -1-6Z" vector-effect="non-scaling-stroke"/>
<path transform="matrix(0.63192 -0.16615 0 -0.77187 122.150 159.200)" d="M-2,-1.8l1,6 1-18 1,22 1-25 1,26 1-2 1-15 1,27 1,14 1-7 1-40 1,39 1-14 1-4 1-8 1,9 1,18 1-11 1-13 1-4 1,4 1,14 1,16 1-40 1,16 1-5 1-6 1,16 1,2 1-30 1,7 1,32 1-12 1,3 1-14 1,2 1,11 1-13 1-10 1,17 1,12 1-28 1,30 1-5 1-22 1,13 1,0 1,8 1,1 1-30 1-1 1,36 1-12 1,4 1-2 1,16 1-39 1,33 1-26 1,22 1,8 1-41 1,28 1-9 1,0 1,5 1-17 1,1 1,24 1,2 1-19 1-16 1,54 1-16 1-9 1-21 1,8 1,11 1-18 1,36 1-19 1,3 1-21 1,2 1,2 1,16 1-8 1,0 1,8 1-1 1,16 1-22 1-13 1,16 1,19 1-27 1,9 1-6 1,10 1-2 1-15 1,9 1,15 1,2 1-2 1-1 1-16 1,0 1,17 1-30 1,17 1-32 1,28 1-5 1-9 1,27 1-19 1,6 1,2 1-8 1,30 1-26 1,10 1-24 1,14 1,3 1,0 1-4 1,10 1,18 1-22 1,0 1-3 1,37 1-11 1-14 1,2 1-19 1,8 1,5 1-1 1-15 1,2 1,18 1-3 1-43 1,40 1,16 1-26 1,12 1-27 1,35 1-28 1-3 1,16 1,34 1-39 1-11 1,26 1-3 1,19 1-42 1-7 1,23 1,9 1,0 1,9 1-39 1,13 1,10 1,13 1-5 1-12 1-10 1,28 1,0 1,22 1-36 1,23 1-40 1,11 1-2 1,4 1-7 1,5 1,7 1-5 1,15 1-10 1,1 1,19 1-15 1-2 1-2 1,1 1,7 1-20 1,27 1,5 1-5 1-22 1-20 1,21 1,8 1,9 1-13 1-2 1,24 1-30 1,24 1-2 1-33 1,25 1-12 1-6 1-18 1,6 1,31 1-10 1,9 1-20 1,12 1,0 1-22 1-2 1,34 1-4 1-16 1,13 1,10 1,15 1-37 1,21 1,19 1-26 1,18 1-70 1,70 1-19 1-33 1,43 1,4 1,2 1,0 1-16 1-11 1,5 1,6 1,5 1-12 1,8 1,11 1-8 1,25 1-1 1-46 1,10 1-13 1,3 1,25L260,-1l-1,1 -1,11 -1-1 -1-12 -1,18 -1,0 -1-39 -1,38 -1,5 -1-25 -1,2 -1,27 -1-21 -1,32 -1-32 -1,2 -1-21 -1,41 -1-24 -1-14 -1,27 -1,22 -1-27 -1-22 -1,17 -1,30 -1-68 -1,57 -1-13 -1,7 -1-16 -1,29 -1-35 -1,13 -1,2 -1-5 -1-7 -1,17 -1-6 -1,0 -1-7 -1,12 -1-15 -1,19 -1,1 -1-19 -1-10 -1-5 -1,21 -1-16 -1,35 -1-66 -1,43 -1,18 -1-16 -1,3 -1-39 -1,74 -1-34 -1-11 -1-3 -1,3 -1,19 -1-21 -1,3 -1,13 -1-31 -1,32 -1-21 -1-7 -1,26 -1-1 -1,7 -1-11 -1,1 -1-3 -1-10 -1,21 -1-2 -1-17 -1-13 -1,32 -1-4 -1,0 -1,19 -1-15 -1-13 -1,23 -1,7 -1-19 -1,39 -1-47 -1-1 -1-27 -1,21 -1-30 -1,69 -1-29 -1,1 -1,11 -1-20 -1,28 -1-13 -1-13 -1,4 -1,3 -1-17 -1,19 -1-21 -1,24 -1-29 -1,47 -1-38 -1,27 -1-32 -1-2 -1,20 -1-14 -1,8 -1,14 -1,4 -1,4 -1-13 -1-26 -1,26 -1-6 -1,18 -1-13 -1-9 -1,1 -1,6 -1-14 -1,19 -1,8 -1-21 -1,27 -1-12 -1,11 -1-6 -1-18 -1,16 -1-5 -1-5 -1,10 -1-30 -1,22 -1-44 -1,37 -1,10 -1-7 -1-32 -1,1 -1,40 -1-14 -1-7 -1,24 -1-6 -1-20 -1-18 -1,37 -1,6 -1,9 -1-12 -1,3 -1-11 -1-56 -1,55 -1,22 -1-41 -1,26 -1,20 -1-12 -1-32 -1,28 -1-7 -1,8 -1-6 -1,0 -1-2 -1,4 -1,9 -1,0 -1-14 -1-6 -1,5 -1-12 -1,14 -1-20 -1,55 -1-6 -1-29 -1,23 -1-17 -1-14 -1-5 -1,21 -1-10 -1,15 -1-20 -1,18 -1,11 -1-1 -1-3 -1-40 -1,19 -1-35 -1,38 -1-3 -1-1 -1-8 -1,21 -1-5 -1,3 -1-8 -1-11 -1,9 -1,15 -1-23 -1-15 -1,28 -1,13 -1-8 -1-14 -1,12 -1-17 -1,4 -1,6 -1-43 -1,42 -1,8 -1-13 -1,12 -1-9 -1-3 -1,12 -1,2 -1-39 -1,26 -1,15 -1-11 -1,19 -1-23 -1-24 -1,28 -1,9 -1,5 -1-19 -1,14 -1-16 -1,37 -1-29 -1-22 -1,17 -1,0 -1,12 -1,8 -1-24 -1,11 -1,2 -1-30Z" vector-effect="non-scaling-stroke"/>
<path transform="matrix(0.63192 -0.16615 0 -0.77187 123.412 159.766)" d="M-2,-19.8l1,30 1-2 1-11 1,24 1-8 1-12 1,0 1-17 1,22 1,29 1-37 1,16 1-14 1,19 1-5 1-9 1-28 1,24 1,23 1-19 1,11 1-15 1-26 1,39 1-2 1-12 1,3 1,9 1-12 1,13 1-8 1-42 1,43 1-6 1-4 1,17 1-12 1,14 1,8 1-13 1-28 1,15 1,23 1-15 1-9 1,11 1,8 1-3 1,5 1-21 1,8 1,1 1,3 1-38 1,35 1-19 1,40 1,3 1,1 1-11 1-18 1,20 1-15 1,10 1-21 1,5 1,14 1,17 1-23 1,29 1,6 1-55 1,20 1-14 1,12 1-5 1,6 1,14 1,0 1-9 1-4 1,2 1,0 1,6 1-8 1,7 1-28 1,32 1,12 1-20 1-26 1,41 1-22 1-55 1,56 1,11 1-3 1,12 1-9 1-6 1-37 1,18 1,20 1,6 1-24 1,7 1,14 1-40 1-1 1,32 1,7 1-10 1-37 1,44 1-22 1,30 1-10 1,5 1,5 1-16 1,18 1,6 1-11 1,12 1-27 1,21 1-8 1-19 1,14 1-6 1-1 1,9 1,13 1-18 1,6 1-26 1,26 1,13 1-4 1-4 1-14 1-8 1,14 1-20 1,2 1,32 1-27 1,38 1-47 1,29 1-24 1,21 1-19 1,17 1-3 1-4 1,13 1,13 1-28 1,20 1-11 1-1 1,29 1-69 1,30 1-21 1,27 1,1 1,47 1-39 1,19 1-7 1-23 1,13 1,15 1-19 1,0 1,4 1-32 1,13 1,17 1,2 1-21 1,10 1,3 1-1 1,11 1-7 1,1 1-26 1,7 1,21 1-32 1,31 1-13 1-3 1,21 1-19 1-3 1,3 1,11 1,34 1-74 1,39 1-3 1,16 1-18 1-43 1,66 1-35 1,16 1-21 1,5 1,10 1,19 1-1 1-19 1,15 1-12 1,7 1,0 1,6 1-17 1,7 1,5 1-2 1-13 1,35 1-29 1,16 1-7 1,13 1-57 1,68 1-30 1-17 1,22 1,27 1-22 1-27 1,14 1,24 1-41 1,21 1-2 1,32 1-32 1,21 1-27 1-2 1,25 1-5 1-38 1,39 1,0 1-18 1,12 1,1 1-11 1-1L260,2l-1-34 -1,49 -1-12 -1,21 -1-9 -1-30 -1,38 -1-34 -1,9 -1-4 -1,32 -1-19 -1,4 -1-17 -1-1 -1,10 -1,4 -1,4 -1-2 -1,10 -1-37 -1,16 -1,0 -1,30 -1-28 -1,6 -1,23 -1-20 -1-2 -1-3 -1,12 -1-34 -1,26 -1-7 -1-12 -1,27 -1,4 -1-18 -1,1 -1,10 -1-24 -1,39 -1-12 -1-5 -1-6 -1,10 -1,4 -1-27 -1,31 -1-3 -1-9 -1-16 -1-4 -1,17 -1,0 -1-6 -1,2 -1,4 -1-16 -1,1 -1,20 -1-7 -1-21 -1,28 -1-14 -1,2 -1,17 -1-15 -1-27 -1,22 -1,10 -1,12 -1-33 -1,13 -1-8 -1,31 -1-12 -1-10 -1,21 -1-8 -1-25 -1,6 -1,10 -1,9 -1-8 -1,8 -1-26 -1,19 -1,8 -1,5 -1,8 -1-14 -1,11 -1-27 -1,8 -1,10 -1-16 -1,8 -1,16 -1-28 -1,8 -1-19 -1,35 -1-22 -1-1 -1-7 -1-1 -1,10 -1-4 -1,11 -1,12 -1-8 -1,1 -1-28 -1,11 -1,24 -1-9 -1-15 -1,17 -1,8 -1-8 -1-10 -1,2 -1,23 -1-9 -1-16 -1-24 -1,29 -1-11 -1,16 -1-2 -1-21 -1-4 -1,58 -1-28 -1-27 -1-18 -1,26 -1,4 -1,20 -1-18 -1,12 -1-20 -1,15 -1-25 -1,6 -1,6 -1,20 -1-45 -1,26 -1,14 -1-14 -1,8 -1,12 -1-40 -1,6 -1,33 -1,10 -1-31 -1-33 -1,54 -1-27 -1,22 -1,25 -1-14 -1-26 -1-16 -1,26 -1-23 -1,18 -1,21 -1-6 -1-19 -1,7 -1-2 -1,3 -1-4 -1,26 -1-35 -1,6 -1,22 -1-1 -1-16 -1,32 -1-10 -1-22 -1,4 -1-32 -1,19 -1,14 -1-29 -1,43 -1-38 -1,9 -1,23 -1,0 -1-25 -1,0 -1,11 -1,14 -1-4 -1-20 -1,28 -1-7 -1-3 -1-3 -1-23 -1,21 -1,21 -1-30 -1,34 -1-55 -1,49 -1-32 -1,15 -1,7 -1-50 -1,46 -1,10 -1-10 -1-17 -1,19 -1-11 -1,13 -1-18 -1-7 -1,28 -1-33 -1-5 -1,34 -1,0 -1-55 -1,64 -1-17 -1,11 -1-16 -1-1 -1,13 -1-16 -1-21 -1,32 -1-13 -1,26 -1-25 -1,18 -1-5 -1,14 -1-25 -1,6 -1,18 -1,7 -1,5 -1-54 -1,32 -1-31 -1,18 -1-10 -1,9 -1,2 -1,3Z" vector-effect="non-scaling-stroke"/>
<path transform="matrix(0.63192 -0.16615 0 -0.77187 124.674 160.332)" d="M-2,4.2l1-3 1-2 1-9 1,10 1-18 1,31 1-32 1,54 1-5 1-7 1-18 1-6 1,25 1-14 1,5 1-18 1,25 1-26 1,13 1-32 1,21 1,16 1-13 1,1 1,16 1-11 1,17 1-64 1,55 1,0 1-34 1,5 1,33 1-28 1,7 1,18 1-13 1,11 1-19 1,17 1,10 1-10 1-46 1,50 1-7 1-15 1,32 1-49 1,55 1-34 1,30 1-21 1-21 1,23 1,3 1,3 1,7 1-28 1,20 1,4 1-14 1-11 1,0 1,25 1,0 1-23 1-9 1,38 1-43 1,29 1-14 1-19 1,32 1-4 1,22 1,10 1-32 1,16 1,1 1-22 1-6 1,35 1-26 1,4 1-3 1,2 1-7 1,19 1,6 1-21 1-18 1,23 1-26 1,16 1,26 1,14 1-25 1-22 1,27 1-54 1,33 1,31 1-10 1-33 1-6 1,40 1-12 1-8 1,14 1-14 1-26 1,45 1-20 1-6 1-6 1,25 1-15 1,20 1-12 1,18 1-20 1-4 1-26 1,18 1,27 1,28 1-58 1,4 1,21 1,2 1-16 1,11 1-29 1,24 1,16 1,9 1-23 1-2 1,10 1,8 1-8 1-17 1,15 1,9 1-24 1-11 1,28 1-1 1,8 1-12 1-11 1,4 1-10 1,1 1,7 1,1 1,22 1-35 1,19 1-8 1,28 1-16 1-8 1,16 1-10 1-8 1,27 1-11 1,14 1-8 1-5 1-8 1-19 1,26 1-8 1,8 1-9 1-10 1-6 1,25 1,8 1-21 1,10 1,12 1-31 1,8 1-13 1,33 1-12 1-10 1-22 1,27 1,15 1-17 1-2 1,14 1-28 1,21 1,7 1-20 1-1 1,16 1-4 1-2 1,6 1,0 1-17 1,4 1,16 1,9 1,3 1-31 1,27 1-4 1-10 1,6 1,5 1,12 1-39 1,24 1-10 1-1 1,18 1-4 1-27 1,12 1,7 1-26 1,34 1-12 1,3 1,2 1,20 1-23 1-6 1,28 1-30 1,0 1-16 1,37 1-10 1,2 1-4 1-4 1-10 1,1 1,17 1-4 1,19 1-32 1,4 1-9 1,34 1-38 1,30 1,9 1-21 1,12 1-49 1,34L260,3l-1,15 -1-9 -1-9 -1,36 -1-24 -1,8 -1-5 -1-5 -1-14 -1-16 -1,46 -1-30 -1,9 -1-19 -1-5 -1,47 -1-32 -1,20 -1-13 -1,7 -1,27 -1-59 -1,17 -1,19 -1-38 -1,5 -1,17 -1-4 -1-29 -1,15 -1,29 -1-9 -1,22 -1-5 -1-7 -1-15 -1,1 -1-4 -1,19 -1-3 -1,5 -1-14 -1,14 -1-22 -1,26 -1-17 -1,2 -1,5 -1-16 -1,10 -1,4 -1-12 -1,17 -1,4 -1-3 -1-36 -1,59 -1-40 -1,9 -1,6 -1-3 -1,6 -1-1 -1,21 -1-14 -1-5 -1,1 -1-33 -1,7 -1,13 -1,11 -1-23 -1,27 -1-27 -1,5 -1-14 -1,27 -1-57 -1,36 -1,22 -1-9 -1,10 -1,1 -1-3 -1-9 -1,0 -1-8 -1,17 -1,7 -1-14 -1-3 -1,10 -1,3 -1-1 -1,2 -1-7 -1,17 -1-26 -1,34 -1-24 -1,6 -1,12 -1-15 -1-21 -1,22 -1-18 -1,14 -1-11 -1,48 -1-51 -1,34 -1,1 -1-21 -1,22 -1,4 -1-40 -1,9 -1,14 -1-12 -1-42 -1,52 -1-15 -1-19 -1,23 -1,18 -1,0 -1-7 -1-5 -1,6 -1-3 -1,1 -1,10 -1-13 -1,2 -1-15 -1-4 -1-1 -1,17 -1,27 -1-31 -1,10 -1-17 -1,23 -1-23 -1-9 -1,24 -1-38 -1,41 -1,3 -1-20 -1,7 -1,27 -1-34 -1,26 -1-19 -1,7 -1-1 -1,8 -1-12 -1-3 -1,18 -1-27 -1-9 -1-9 -1,48 -1,1 -1-39 -1,52 -1-25 -1-19 -1,27 -1-15 -1,22 -1-14 -1-22 -1,10 -1-5 -1,13 -1,22 -1-36 -1,21 -1-27 -1,14 -1-29 -1,27 -1,18 -1-7 -1-21 -1,32 -1-11 -1-7 -1-46 -1,69 -1-19 -1,0 -1,2 -1-1 -1,8 -1,2 -1-12 -1-1 -1-14 -1,8 -1-6 -1,20 -1-13 -1-1 -1-23 -1,34 -1,10 -1-13 -1,16 -1-7 -1-16 -1,17 -1-3 -1-37 -1,26 -1,7 -1,12 -1-1 -1-2 -1-15 -1-4 -1,2 -1,9 -1-5 -1,3 -1-7 -1,22 -1-44 -1,35 -1-32 -1-2 -1,30 -1-14 -1,11 -1,4 -1,9 -1-26 -1,38 -1-23 -1,8 -1-13 -1,14 -1-9 -1,11 -1-13 -1,6 -1-29 -1,41 -1-36 -1,23 -1,6 -1-18 -1-1 -1,4 -1,1 -1,8 -1-32Z" vector-effect="non-scaling-stroke"/>
<path transform="matrix(0.63192 -0.16615 0 -0.77187 125.936 160.898)" d="M-2,-14.8l1,32 1-8 1-1 1-4 1,1 1,18 1-6 1-23 1,36 1-41 1,29 1-6 1,13 1-11 1,9 1-14 1,13 1-8 1,23 1-38 1,26 1-9 1-4 1-11 1,14 1-30 1,2 1,32 1-35 1,44 1-22 1,7 1-3 1,5 1-9 1-2 1,4 1,15 1,2 1,1 1-12 1-7 1-26 1,37 1,3 1-17 1,16 1,7 1-16 1,13 1-10 1-34 1,23 1,1 1,13 1-20 1,6 1-8 1,14 1,1 1,12 1-2 1-8 1,1 1-2 1,0 1,19 1-69 1,46 1,7 1,11 1-32 1,21 1,7 1-18 1-27 1,29 1-14 1,27 1-21 1,36 1-22 1-13 1,5 1-10 1,22 1,14 1-22 1,15 1-27 1,19 1,25 1-52 1,39 1-1 1-48 1,9 1,9 1,27 1-18 1,3 1,12 1-8 1,1 1-7 1,19 1-26 1,34 1-27 1-7 1,20 1-3 1-41 1,38 1-24 1,9 1,23 1-23 1,17 1-10 1,31 1-27 1-17 1,1 1,4 1,15 1-2 1,13 1-10 1-1 1,3 1-6 1,5 1,7 1,0 1-18 1-23 1,19 1,15 1-52 1,42 1,12 1-14 1-9 1,40 1-4 1-22 1,21 1-1 1-34 1,51 1-48 1,11 1-14 1,18 1-22 1,21 1,15 1-12 1-6 1,24 1-34 1,26 1-17 1,7 1-2 1,1 1-3 1-10 1,3 1,14 1-7 1-17 1,8 1,0 1,9 1,3 1-1 1-10 1,9 1-22 1-36 1,57 1-27 1,14 1-5 1,27 1-27 1,23 1-11 1-13 1-7 1,33 1-1 1,5 1,14 1-21 1,1 1-6 1,3 1-6 1-9 1,40 1-59 1,36 1,3 1-4 1-17 1,12 1-4 1-10 1,16 1-5 1-2 1,17 1-26 1,22 1-14 1,14 1-5 1,3 1-19 1,4 1-1 1,15 1,7 1,5 1-22 1,9 1-29 1-15 1,29 1,4 1-17 1-5 1,38 1-19 1-17 1,59 1-27 1-7 1,13 1-20 1,32 1-47 1,5 1,19 1-9 1,30 1-46 1,16 1,14 1,5 1,5 1-8 1,24 1-36 1,9 1,9 1-15L260,34l-1-24 -1-20 -1,16 -1,18 -1-14 -1-16 -1,26 -1,11 -1-39 -1,33 -1-33 -1,15 -1-8 -1-14 -1,17 -1,13 -1-18 -1,7 -1,6 -1-11 -1,13 -1,15 -1-46 -1,30 -1-7 -1-11 -1-46 -1,71 -1,2 -1,1 -1-4 -1-15 -1-2 -1,5 -1,8 -1-13 -1,5 -1-7 -1,4 -1-35 -1,14 -1,33 -1-22 -1,7 -1,28 -1-16 -1-21 -1,14 -1,10 -1,7 -1-38 -1,27 -1-2 -1-1 -1,17 -1-17 -1,6 -1,19 -1-22 -1-7 -1-21 -1,29 -1,8 -1,2 -1-12 -1,1 -1,1 -1,11 -1-28 -1,15 -1,14 -1-15 -1,11 -1-32 -1,38 -1-47 -1,36 -1-6 -1,3 -1,6 -1-5 -1,2 -1,4 -1-9 -1-4 -1,4 -1-9 -1-17 -1,18 -1,8 -1,5 -1,15 -1-17 -1-4 -1-5 -1,17 -1,1 -1-46 -1,35 -1-3 -1,2 -1,11 -1-6 -1,11 -1-41 -1,23 -1-17 -1,50 -1-48 -1,26 -1,6 -1-2 -1-23 -1-22 -1,22 -1,17 -1-38 -1,30 -1,26 -1-12 -1-10 -1-64 -1,75 -1-9 -1,12 -1-21 -1,0 -1-2 -1,6 -1,21 -1-35 -1,4 -1,7 -1-8 -1,1 -1-10 -1,25 -1,22 -1-30 -1,3 -1-1 -1-4 -1-10 -1-19 -1,27 -1-23 -1,22 -1,4 -1-10 -1,23 -1-46 -1,32 -1-2 -1,4 -1-36 -1,53 -1-11 -1-8 -1,8 -1,3 -1,9 -1-16 -1,7 -1-8 -1,28 -1-24 -1,0 -1,20 -1-54 -1,14 -1,9 -1,2 -1,2 -1-12 -1,28 -1-42 -1,28 -1-17 -1,24 -1,0 -1-4 -1-21 -1,15 -1,3 -1-3 -1-6 -1,37 -1-10 -1-22 -1-1 -1-16 -1,17 -1,21 -1-11 -1,17 -1-25 -1-36 -1,40 -1-22 -1,21 -1,7 -1,18 -1-10 -1,13 -1-23 -1-15 -1-13 -1,4 -1,14 -1,2 -1,5 -1-11 -1,9 -1-7 -1,37 -1-50 -1-1 -1,15 -1,13 -1-17 -1,19 -1,22 -1-18 -1,12 -1-3 -1-28 -1,26 -1-13 -1-39 -1,53 -1-56 -1-7 -1,15 -1,26 -1-7 -1,18 -1-5 -1-3 -1-2 -1,7 -1-26 -1,16 -1-4 -1,1 -1,5 -1,6 -1,5 -1-15 -1,23 -1-2 -1-2 -1,2 -1,9 -1-11 -1-9 -1-13 -1,3 -1-1 -1-4 -1,20Z" vector-effect="non-scaling-stroke"/>
<path transform="matrix(0.63192 -0.16615 0 -0.77187 127.198 161.464)" d="M-2,18.2l1-20 1,4 1,1 1-3 1,13 1,9 1,11 1-9 1-2 1,2 1,2 1-23 1,15 1-5 1-6 1-5 1-1 1,4 1-16 1,26 1-7 1,2 1,3 1,5 1-18 1,7 1-26 1-15 1,7 1,56 1-53 1,39 1,13 1-26 1,28 1,3 1-12 1,18 1-22 1-19 1,17 1-13 1-15 1,1 1,50 1-37 1,7 1-9 1,11 1-5 1-2 1-14 1-4 1,13 1,15 1,23 1-13 1,10 1-18 1-7 1-21 1,22 1-40 1,36 1,25 1-17 1,11 1-21 1-17 1,16 1,1 1,22 1,10 1-37 1,6 1,3 1-3 1-15 1,21 1,4 1,0 1-24 1,17 1-28 1,42 1-28 1,12 1-2 1-2 1-9 1-14 1,54 1-20 1,0 1,24 1-28 1,8 1-7 1,16 1-9 1-3 1-8 1,8 1,11 1-53 1,36 1-4 1,2 1-32 1,46 1-23 1,10 1-4 1-22 1,23 1-27 1,19 1,10 1,4 1,1 1-3 1,30 1-22 1-25 1,10 1-1 1,8 1-7 1-4 1,35 1-21 1-6 1,2 1,0 1,21 1-12 1,9 1-75 1,64 1,10 1,12 1-26 1-30 1,38 1-17 1-22 1,22 1,23 1,2 1-6 1-26 1,48 1-50 1,17 1-23 1,41 1-11 1,6 1-11 1-2 1,3 1-35 1,46 1-1 1-17 1,5 1,4 1,17 1-15 1-5 1-8 1-18 1,17 1,9 1-4 1,4 1,9 1-4 1-2 1,5 1-6 1-3 1,6 1-36 1,47 1-38 1,32 1-11 1,15 1-14 1-15 1,28 1-11 1-1 1-1 1,12 1-2 1-8 1-29 1,21 1,7 1,22 1-19 1-6 1,17 1-17 1,1 1,2 1-27 1,38 1-7 1-10 1-14 1,21 1,16 1-28 1-7 1,22 1-33 1-14 1,35 1-4 1,7 1-5 1,13 1-8 1-5 1,2 1,15 1,4 1-1 1-2 1-71 1,46 1,11 1,7 1-30 1,46 1-15 1-13 1,11 1-6 1-7 1,18 1-13 1-17 1,14 1,8 1-15 1,33 1-33 1,39 1-11 1-26 1,16 1,14 1-18 1-16 1,20 1,24L260,14l-1-17 -1,18 -1,11 -1-16 -1,3 -1-1 -1,11 -1-29 -1,25 -1,13 -1-14 -1,12 -1,0 -1-26 -1,24 -1-10 -1-6 -1,17 -1-10 -1,1 -1-4 -1-34 -1,27 -1,7 -1-8 -1-6 -1,18 -1-24 -1-4 -1,18 -1,10 -1-28 -1,19 -1,5 -1-6 -1,13 -1-21 -1,14 -1,14 -1-36 -1,11 -1,30 -1-40 -1,11 -1,3 -1,1 -1-36 -1-9 -1,35 -1-9 -1-25 -1,43 -1-31 -1,45 -1-15 -1-8 -1-2 -1-16 -1,16 -1,10 -1-6 -1,12 -1-12 -1,5 -1,6 -1-3 -1-2 -1,13 -1-28 -1,16 -1,9 -1-22 -1,30 -1-34 -1,20 -1-2 -1,18 -1-19 -1-33 -1,25 -1-4 -1,12 -1-6 -1,13 -1-9 -1,1 -1-39 -1,39 -1-12 -1-7 -1,11 -1,12 -1,17 -1-6 -1-14 -1,2 -1-31 -1,31 -1-40 -1,19 -1,21 -1-4 -1-5 -1,2 -1,4 -1,30 -1-29 -1-1 -1,5 -1,6 -1-1 -1-4 -1,7 -1-3 -1,5 -1-4 -1-17 -1-1 -1,15 -1-13 -1,3 -1-24 -1,21 -1,13 -1-14 -1,12 -1-19 -1,18 -1-36 -1,11 -1,18 -1-1 -1-36 -1,39 -1-8 -1,15 -1-12 -1-20 -1,15 -1,6 -1-1 -1-11 -1,8 -1,12 -1-1 -1,9 -1,15 -1-66 -1,31 -1,17 -1,1 -1-10 -1-6 -1,1 -1,15 -1,0 -1-10 -1-5 -1-7 -1-10 -1,42 -1-40 -1,13 -1-8 -1-3 -1,22 -1-21 -1,16 -1,0 -1,14 -1-57 -1,59 -1-11 -1-20 -1,44 -1-38 -1,25 -1,2 -1-36 -1,20 -1,18 -1-45 -1,33 -1-25 -1,23 -1,1 -1,1 -1-32 -1,35 -1-6 -1-25 -1,19 -1,5 -1,20 -1-4 -1-31 -1-20 -1,42 -1-11 -1,12 -1-5 -1-14 -1,12 -1-5 -1,7 -1-3 -1,4 -1-32 -1,15 -1,21 -1-12 -1,21 -1,5 -1-21 -1-20 -1,26 -1,5 -1-22 -1,13 -1-8 -1-18 -1,23 -1,7 -1-12 -1-3 -1,0 -1,8 -1-18 -1,12 -1,40 -1-38 -1-4 -1,10 -1-7 -1-51 -1,60 -1,10 -1,7 -1-25 -1-21 -1,33 -1-11 -1-31 -1,52 -1-14 -1-4 -1-11 -1-24 -1,55 -1-32 -1-51 -1,63 -1-3 -1,15 -1-1 -1-29 -1,38 -1-7 -1-6 -1,2Z" vector-effect="non-scaling-stroke"/>
<path transform="matrix(0.63192 -0.16615 0 -0.77187 128.460 162.030)" d="M-2,21.2l1-2 1,6 1,7 1-38 1,29 1,1 1-15 1,3 1-63 1,51 1,32 1-55 1,24 1,11 1,4 1,14 1-52 1,31 1,11 1-33 1,21 1,25 1-7 1-10 1-60 1,51 1,7 1-10 1,4 1,38 1-40 1-12 1,18 1-8 1,0 1,3 1,12 1-7 1-23 1,18 1,8 1-13 1,22 1-5 1-26 1,20 1,21 1-5 1-21 1,12 1-21 1-15 1,32 1-4 1,3 1-7 1,5 1-12 1,14 1,5 1-12 1,11 1-42 1,20 1,31 1,4 1-20 1-5 1-19 1,25 1,6 1-35 1,32 1-1 1-1 1-23 1,25 1-33 1,45 1-18 1-20 1,36 1-2 1-25 1,38 1-44 1,20 1,11 1-59 1,57 1-14 1,0 1-16 1,21 1-22 1,3 1,8 1-13 1,40 1-42 1,10 1,7 1,5 1,10 1,0 1-15 1-1 1,6 1,10 1-1 1-17 1-31 1,66 1-15 1-9 1,1 1-12 1-8 1,11 1,1 1-6 1-15 1,20 1,12 1-15 1,8 1-39 1,36 1,1 1-18 1-11 1,36 1-18 1,19 1-12 1,14 1-13 1-21 1,24 1-3 1,13 1-15 1,1 1,17 1,4 1-5 1,3 1-7 1,4 1,1 1-6 1-5 1,1 1,29 1-30 1-4 1-2 1,5 1,4 1-21 1-19 1,40 1-31 1,31 1-2 1,14 1,6 1-17 1-12 1-11 1,7 1,12 1-39 1,39 1-1 1,9 1-13 1,6 1-12 1,4 1-25 1,33 1,19 1-18 1,2 1-20 1,34 1-30 1,22 1-9 1-16 1,28 1-13 1,2 1,3 1-6 1-5 1,12 1-12 1,6 1-10 1-16 1,16 1,2 1,8 1,15 1-45 1,31 1-43 1,25 1,9 1-35 1,9 1,36 1-1 1-3 1-11 1,40 1-30 1-11 1,36 1-14 1-14 1,21 1-13 1,6 1-5 1-19 1,28 1-10 1-18 1,4 1,24 1-18 1,6 1,8 1-7 1-27 1,34 1,4 1-1 1,10 1-17 1,6 1,10 1-24 1,26 1,0 1-12 1,14 1-13 1-25 1,29 1-11 1,1 1-3 1,16 1-11 1-18 1,17L260,-7l-1,15 -1,27 -1-33 -1,4 -1,4 -1-9 -1-7 -1,15 -1-21 -1,29 -1-35 -1,32 -1-22 -1-29 -1,64 -1-26 -1,16 -1-11 -1,9 -1-15 -1,8 -1-23 -1,20 -1,12 -1,0 -1-44 -1,39 -1-13 -1,3 -1-13 -1-11 -1,39 -1-2 -1-17 -1,21 -1-17 -1-6 -1,5 -1-18 -1,36 -1-31 -1,21 -1,4 -1-1 -1-38 -1,7 -1,41 -1-37 -1,30 -1-50 -1,37 -1,13 -1-9 -1,19 -1-31 -1,7 -1,23 -1-27 -1,19 -1-14 -1,0 -1,8 -1,4 -1,8 -1,10 -1-56 -1,21 -1-9 -1,32 -1-22 -1-9 -1,42 -1-3 -1,2 -1-28 -1,0 -1,7 -1,8 -1-43 -1,41 -1,2 -1-18 -1,14 -1,8 -1-31 -1,14 -1,3 -1,26 -1-14 -1-8 -1-34 -1,5 -1,16 -1-7 -1,21 -1,16 -1-20 -1,15 -1-19 -1,15 -1-8 -1-34 -1,23 -1,3 -1,31 -1-17 -1-8 -1-1 -1-4 -1-29 -1,8 -1,46 -1-28 -1,7 -1-18 -1,7 -1,21 -1,6 -1-29 -1,0 -1,4 -1,16 -1-34 -1,38 -1-5 -1,6 -1-16 -1-1 -1,8 -1-17 -1,8 -1,5 -1,8 -1-5 -1,14 -1-11 -1-10 -1,1 -1,13 -1-3 -1-36 -1,27 -1,16 -1-33 -1-22 -1-9 -1,58 -1-14 -1,3 -1-16 -1,24 -1-27 -1-5 -1,45 -1,3 -1-35 -1-5 -1,26 -1-14 -1-21 -1,26 -1,4 -1-19 -1-1 -1,14 -1-3 -1-15 -1,39 -1-3 -1-20 -1,12 -1-19 -1,11 -1,6 -1,8 -1-28 -1,41 -1-25 -1-10 -1,31 -1-35 -1,31 -1,6 -1,0 -1-13 -1-27 -1,17 -1-5 -1,5 -1,3 -1-5 -1,19 -1-7 -1-7 -1,6 -1-7 -1,10 -1-9 -1-20 -1,48 -1-28 -1-5 -1,17 -1-1 -1-6 -1-14 -1,9 -1,0 -1-17 -1,24 -1-3 -1-15 -1,35 -1-24 -1-2 -1-5 -1,11 -1,5 -1-17 -1-7 -1-10 -1,16 -1,14 -1-24 -1,15 -1-4 -1,0 -1-9 -1-17 -1,26 -1,44 -1-49 -1,3 -1,8 -1,8 -1-42 -1,32 -1,4 -1-32 -1,48 -1-17 -1-15 -1,16 -1-34 -1,36 -1-65 -1,71 -1-3 -1-7 -1,6 -1-20 -1,10 -1-9 -1,11 -1,13 -1-11 -1,16 -1,6 -1-25 -1,25Z" vector-effect="non-scaling-stroke"/>
<path transform="matrix(0.63192 -0.16615 0 -0.77187 129.722 162.596)" d="M-2,31.2l1-25 1,25 1-6 1-16 1,11 1-13 1-11 1,9 1-10 1,20 1-6 1,7 1,3 1-71 1,65 1-36 1,34 1-16 1,15 1,17 1-48 1,32 1-4 1-32 1,42 1-8 1-8 1-3 1,49 1-44 1-26 1,17 1,9 1,0 1,4 1-15 1,24 1-14 1-16 1,10 1,7 1,17 1-5 1-11 1,5 1,2 1,24 1-35 1,15 1,3 1-24 1,17 1,0 1-9 1,14 1,6 1,1 1-17 1,5 1,28 1-48 1,20 1,9 1-10 1,7 1-6 1,7 1,7 1-19 1,5 1-3 1-5 1,5 1-17 1,27 1,13 1,0 1-6 1-31 1,35 1-31 1,10 1,25 1-41 1,28 1-8 1-6 1-11 1,19 1-12 1,20 1,3 1-39 1,15 1,3 1-14 1,1 1,19 1-4 1-26 1,21 1,14 1-26 1,5 1,35 1-3 1-45 1,5 1,27 1-24 1,16 1-3 1,14 1-58 1,9 1,22 1,33 1-16 1-27 1,36 1,3 1-13 1-1 1,10 1,11 1-14 1,5 1-8 1-5 1-8 1,17 1-8 1,1 1,16 1-6 1,5 1-38 1,34 1-16 1-4 1,0 1,29 1-6 1-21 1-7 1,18 1-7 1,28 1-46 1-8 1,29 1,4 1,1 1,8 1,17 1-31 1-3 1-23 1,34 1,8 1-15 1,19 1-15 1,20 1-16 1-21 1,7 1-16 1-5 1,34 1,8 1,14 1-26 1-3 1-14 1,31 1-8 1-14 1,18 1-2 1-41 1,43 1-8 1-7 1,0 1,28 1-2 1,3 1-42 1,9 1,22 1-32 1,9 1-21 1,56 1-10 1-8 1-4 1-8 1,0 1,14 1-19 1,27 1-23 1-7 1,31 1-19 1,9 1-13 1-37 1,50 1-30 1,37 1-41 1-7 1,38 1,1 1-4 1-21 1,31 1-36 1,18 1-5 1,6 1,17 1-21 1,17 1,2 1-39 1,11 1,13 1-3 1,13 1-39 1,44 1,0 1-12 1-20 1,23 1-8 1,15 1-9 1,11 1-16 1,26 1-64 1,29 1,22 1-32 1,35 1-29 1,21 1-15 1,7 1,9 1-4 1-4 1,33 1-27 1-15L260,9l-1-2 -1,4 -1,8 -1-23 -1,11 -1,5 -1,14 -1-21 -1-8 -1-1 -1,17 -1,16 -1-5 -1-17 -1-3 -1-9 -1,14 -1,8 -1-3 -1,4 -1-6 -1,11 -1-14 -1-40 -1,43 -1-22 -1,12 -1,19 -1-14 -1-6 -1,1 -1,25 -1,4 -1-46 -1,37 -1-9 -1-23 -1-1 -1,11 -1,13 -1-19 -1,26 -1,1 -1,3 -1-3 -1-9 -1,12 -1,4 -1,9 -1-66 -1,29 -1-19 -1,24 -1-8 -1,11 -1,5 -1-17 -1,27 -1-17 -1-4 -1,29 -1,3 -1-29 -1,12 -1,2 -1-1 -1-21 -1,8 -1,3 -1-8 -1-14 -1,29 -1-6 -1-25 -1,9 -1,4 -1-14 -1,6 -1,1 -1-9 -1,36 -1-2 -1-22 -1,24 -1-25 -1,41 -1-18 -1,21 -1-43 -1,19 -1-18 -1,21 -1-20 -1-2 -1-26 -1,23 -1,36 -1-58 -1,41 -1-6 -1,9 -1-3 -1-15 -1,19 -1-4 -1,16 -1-41 -1,30 -1-3 -1-22 -1,27 -1,10 -1-12 -1,12 -1-15 -1-2 -1,5 -1-24 -1,21 -1-16 -1,29 -1-8 -1-31 -1,30 -1-17 -1-35 -1,64 -1-42 -1,16 -1,4 -1-3 -1,17 -1-17 -1-9 -1,2 -1,14 -1-5 -1-4 -1,29 -1-3 -1-23 -1,27 -1-32 -1-1 -1,28 -1,6 -1-22 -1,0 -1,2 -1-12 -1-3 -1-3 -1,22 -1-3 -1,6 -1-42 -1,36 -1-6 -1-6 -1,21 -1-17 -1-12 -1,24 -1,11 -1-18 -1-16 -1,8 -1-13 -1,39 -1-3 -1-9 -1,8 -1-3 -1-10 -1-5 -1,10 -1,22 -1-37 -1,13 -1,6 -1-24 -1,25 -1-3 -1,13 -1-37 -1,30 -1-4 -1-8 -1,17 -1-21 -1-2 -1,4 -1-7 -1-1 -1,29 -1-40 -1,18 -1-28 -1,31 -1,6 -1-22 -1,9 -1,0 -1,1 -1-9 -1,0 -1-16 -1,33 -1-4 -1-5 -1,9 -1,2 -1-7 -1-4 -1-4 -1,4 -1,9 -1,3 -1,6 -1-18 -1,17 -1-12 -1-29 -1,32 -1,16 -1-15 -1-16 -1,20 -1-17 -1,2 -1-6 -1,17 -1-4 -1-16 -1,23 -1-12 -1,15 -1-15 -1,11 -1,1 -1-8 -1,12 -1,4 -1-25 -1,15 -1-18 -1,11 -1,16 -1-19 -1,24 -1-24 -1-2 -1,17 -1-57 -1,43 -1,26 -1-25 -1,19 -1-35 -1,6Z" vector-effect="non-scaling-stroke"/>
<path transform="matrix(0.63192 -0.16615 0 -0.77187 130.984 163.162)" d="M-2,-2.8l1-6 1,35 1-19 1,25 1-26 1-43 1,57 1-17 1,2 1,24 1-24 1,19 1-16 1-11 1,18 1-15 1,25 1-4 1-12 1,8 1-1 1-11 1,15 1-15 1,12 1-23 1,16 1,4 1-17 1,6 1-2 1,17 1-20 1,16 1,15 1-16 1-32 1,29 1,12 1-17 1,18 1-6 1-3 1-9 1-4 1,4 1,4 1,7 1-2 1-9 1,5 1,4 1-33 1,16 1,0 1,9 1-1 1,0 1-9 1,22 1-6 1-31 1,28 1-18 1,40 1-29 1,1 1,7 1-4 1,2 1,21 1-17 1,8 1,4 1-30 1,37 1-13 1,3 1-25 1,24 1-6 1-13 1,37 1-22 1-10 1,5 1,10 1,3 1-8 1,9 1,3 1-39 1,13 1-8 1,16 1,18 1-11 1-24 1,12 1,17 1-21 1,6 1,6 1-36 1,42 1-6 1,3 1-22 1,3 1,3 1,12 1-2 1,0 1,22 1-6 1-28 1,1 1,32 1-27 1,23 1,3 1-29 1,4 1,5 1-14 1-2 1,9 1,17 1-17 1,3 1-4 1-16 1,42 1-64 1,35 1,17 1-30 1,31 1,8 1-29 1,16 1-21 1,24 1-5 1,2 1,15 1-12 1,12 1-10 1-27 1,22 1,3 1-30 1,41 1-16 1,4 1-19 1,15 1,3 1-9 1,6 1-41 1,58 1-36 1-23 1,26 1,2 1,20 1-21 1,18 1-19 1,43 1-21 1,18 1-41 1,25 1-24 1,22 1,2 1-36 1,9 1-1 1-6 1,14 1-4 1-9 1,25 1,6 1-29 1,14 1,8 1-3 1-8 1,21 1,1 1-2 1-12 1,29 1-3 1-29 1,4 1,17 1-27 1,17 1-5 1-11 1,8 1-24 1,19 1-29 1,66 1-9 1-4 1-12 1,9 1,3 1-3 1-1 1-26 1,19 1-13 1-11 1,1 1,23 1,9 1-37 1,46 1-4 1-25 1-1 1,6 1,14 1-19 1-12 1,22 1-43 1,40 1,14 1-11 1,6 1-4 1,3 1-8 1-14 1,9 1,3 1,17 1,5 1-16 1-17 1,1 1,8 1,21 1-14 1-5 1-11 1,23 1-8 1-4 1,2L260,-2l-1,8 -1,22 -1-67 -1,9 -1,29 -1,30 -1-34 -1,24 -1-4 -1-17 -1,3 -1-36 -1,44 -1-18 -1,21 -1-14 -1,8 -1,15 -1-30 -1-18 -1,48 -1-24 -1,23 -1-25 -1,13 -1,0 -1,0 -1-2 -1,1 -1-3 -1,21 -1-38 -1,6 -1,15 -1-7 -1,2 -1,8 -1,0 -1-2 -1,4 -1,6 -1-15 -1,10 -1,7 -1-15 -1-4 -1,10 -1-42 -1,42 -1,16 -1-16 -1-13 -1,32 -1-23 -1-2 -1,10 -1,4 -1-10 -1-6 -1-8 -1-2 -1-47 -1,71 -1,1 -1-6 -1-10 -1,15 -1,1 -1-6 -1-9 -1,3 -1,10 -1,6 -1-24 -1,5 -1,40 -1-42 -1,17 -1-14 -1-9 -1,19 -1,9 -1-6 -1,4 -1-22 -1,9 -1-7 -1,3 -1,22 -1-35 -1,22 -1,16 -1-4 -1-24 -1,22 -1-2 -1-23 -1,17 -1-8 -1-24 -1-38 -1,61 -1,4 -1-7 -1,34 -1-15 -1-5 -1,2 -1-12 -1,15 -1-6 -1,14 -1-36 -1,2 -1,12 -1-15 -1,10 -1-2 -1-25 -1,39 -1-19 -1,10 -1,8 -1,1 -1-20 -1-6 -1,15 -1-1 -1,31 -1-34 -1,5 -1,11 -1-15 -1,11 -1-19 -1-37 -1,69 -1-38 -1,15 -1,14 -1-20 -1,30 -1-32 -1,13 -1,4 -1-1 -1-9 -1-42 -1,42 -1,29 -1-22 -1,8 -1-17 -1-6 -1,16 -1,2 -1,5 -1,6 -1,3 -1-32 -1,32 -1,9 -1-31 -1-17 -1,34 -1-17 -1-34 -1,64 -1-18 -1,0 -1-22 -1,14 -1,13 -1-6 -1,8 -1-11 -1,15 -1-25 -1,22 -1-43 -1,39 -1-12 -1-8 -1,5 -1-9 -1,17 -1,8 -1-47 -1,63 -1-27 -1-3 -1-11 -1,6 -1-9 -1,27 -1,12 -1-28 -1,0 -1-3 -1,22 -1-10 -1,1 -1-9 -1,6 -1,9 -1-41 -1,41 -1-28 -1-8 -1,22 -1-1 -1-7 -1,19 -1,5 -1-12 -1,4 -1-15 -1,2 -1,17 -1-23 -1-7 -1,31 -1-7 -1-26 -1-20 -1,39 -1-17 -1,26 -1-15 -1-9 -1-2 -1,25 -1,5 -1-30 -1-5 -1,13 -1-1 -1,19 -1-14 -1-14 -1,18 -1,16 -1-4 -1,1 -1-46 -1-2 -1,49 -1-29 -1,15 -1,14 -1-4 -1-22 -1,5 -1-12 -1,0 -1,10 -1-10 -1,25 -1-20 -1,26Z" vector-effect="non-scaling-stroke"/>
<path transform="matrix(0.63192 -0.16615 0 -0.77187 132.246 163.728)" d="M-2,17.2l1-26 1,20 1-25 1,10 1-10 1,0 1,12 1-5 1,22 1,4 1-14 1-15 1,29 1-49 1,2 1,46 1-1 1,4 1-16 1-18 1,14 1,14 1-19 1,1 1-13 1,5 1,30 1-5 1-25 1,2 1,9 1,15 1-26 1,17 1-39 1,20 1,26 1,7 1-31 1,7 1,23 1-17 1-2 1,15 1-4 1,12 1-5 1-19 1,7 1,1 1-22 1,8 1,28 1-41 1,41 1-9 1-6 1,9 1-1 1,10 1-22 1,3 1,0 1,28 1-12 1-27 1,9 1-6 1,11 1,3 1,27 1-63 1,47 1-8 1-17 1,9 1-5 1,8 1,12 1-39 1,43 1-22 1,25 1-15 1,11 1-8 1,6 1-13 1-14 1,22 1,0 1,18 1-64 1,34 1,17 1-34 1,17 1,31 1-9 1-32 1,32 1-3 1-6 1-5 1-2 1-16 1,6 1,17 1-8 1,22 1-29 1-42 1,42 1,9 1,1 1-4 1-13 1,32 1-30 1,20 1-14 1-15 1,38 1-69 1,37 1,19 1-11 1,15 1-11 1-5 1,34 1-31 1,1 1-15 1,6 1,20 1-1 1-8 1-10 1,19 1-39 1,25 1,2 1-10 1,15 1-12 1-2 1,36 1-14 1,6 1-15 1,12 1-2 1,5 1,15 1-34 1,7 1-4 1-61 1,38 1,24 1,8 1-17 1,23 1,2 1-22 1,24 1,4 1-16 1-22 1,35 1-22 1-3 1,7 1-9 1,22 1-4 1,6 1-9 1-19 1,9 1,14 1-17 1,42 1-40 1-5 1,24 1-6 1-10 1-3 1,9 1,6 1-1 1-15 1,10 1,6 1-1 1-71 1,47 1,2 1,8 1,6 1,10 1-4 1-10 1,2 1,23 1-32 1,13 1,16 1-16 1-42 1,42 1-10 1,4 1,15 1-7 1-10 1,15 1-6 1-4 1,2 1,0 1-8 1-2 1,7 1-15 1-6 1,38 1-21 1,3 1-1 1,2 1,0 1,0 1-13 1,25 1-23 1,24 1-48 1,18 1,30 1-15 1-8 1,14 1-21 1,18 1-44 1,36 1-3 1,17 1,4 1-24 1,34 1-30 1-29 1-9 1,67 1-22 1-8L260,21l-1-19 -1,3 -1,8 -1,25 -1-35 -1,12 -1-21 -1,29 -1-13 -1-9 -1-20 -1,49 -1-5 -1-23 -1-2 -1,24 -1,2 -1-19 -1-25 -1,30 -1-13 -1,11 -1,2 -1,3 -1-2 -1-30 -1,2 -1,14 -1,0 -1,22 -1,6 -1-40 -1,25 -1-17 -1-17 -1,43 -1-30 -1,17 -1,8 -1,36 -1-31 -1-15 -1-16 -1,21 -1-8 -1,12 -1,2 -1-16 -1,19 -1-32 -1,31 -1-22 -1,21 -1,9 -1-24 -1-18 -1,0 -1,15 -1,17 -1-10 -1,1 -1-17 -1,11 -1-13 -1,11 -1,5 -1-20 -1,6 -1,26 -1-30 -1,27 -1,11 -1-46 -1,22 -1,28 -1-25 -1-24 -1,52 -1-25 -1,12 -1-3 -1-16 -1,7 -1-4 -1,9 -1,4 -1-11 -1-1 -1,19 -1-9 -1-2 -1,10 -1-53 -1,41 -1-9 -1,18 -1-30 -1,10 -1,0 -1,26 -1-51 -1,15 -1-30 -1,58 -1-17 -1,2 -1-4 -1-21 -1,15 -1,19 -1-3 -1,24 -1-29 -1,12 -1-1 -1-28 -1,24 -1-10 -1-10 -1,40 -1-34 -1,15 -1-5 -1-9 -1,1 -1-25 -1,41 -1-6 -1,29 -1-28 -1,7 -1-1 -1,9 -1-46 -1,26 -1,25 -1-11 -1-15 -1-5 -1,11 -1-2 -1,8 -1-44 -1,9 -1,37 -1-16 -1,30 -1-12 -1-24 -1,21 -1-2 -1-11 -1-34 -1,42 -1-17 -1,16 -1,10 -1-26 -1-39 -1,45 -1-2 -1,5 -1,26 -1-21 -1,12 -1-8 -1-4 -1-10 -1,22 -1-1 -1-55 -1,41 -1-3 -1,25 -1-53 -1,35 -1,2 -1,26 -1-36 -1,18 -1-56 -1,31 -1,5 -1,32 -1-26 -1,30 -1-7 -1-26 -1-27 -1,35 -1-7 -1-7 -1,23 -1-3 -1-27 -1-7 -1,26 -1,18 -1-8 -1,14 -1-26 -1-45 -1,60 -1-7 -1-13 -1,6 -1-20 -1,5 -1,20 -1-39 -1,45 -1-11 -1,2 -1,1 -1,10 -1-10 -1-14 -1,7 -1-15 -1-5 -1,31 -1-33 -1,17 -1,8 -1,1 -1-3 -1,13 -1-30 -1,19 -1-25 -1,36 -1-1 -1,22 -1-29 -1-19 -1,1 -1,10 -1-2 -1-4 -1,26 -1-54 -1,23 -1,17 -1-7 -1-6 -1,42 -1-34 -1,1 -1,19 -1-15 -1,8 -1,17 -1-21 -1,3 -1-12 -1,9 -1-19 -1,40 -1-9 -1-24Z" vector-effect="non-scaling-stroke"/>
<path transform="matrix(0.63192 -0.16615 0 -0.77187 133.508 164.294)" d="M-2,0.2l1,24 1,9 1-40 1,19 1-9 1,12 1-3 1,21 1-17 1-8 1,15 1-19 1-1 1,34 1-42 1,6 1,7 1-17 1-23 1,54 1-26 1,4 1,2 1-10 1-1 1,19 1,29 1-22 1,1 1-36 1,25 1-19 1,30 1-13 1,3 1-1 1-8 1-17 1,33 1-31 1,5 1,15 1-7 1,14 1,10 1-10 1-1 1-2 1,11 1-45 1,39 1-20 1-5 1,20 1-6 1,13 1,7 1-60 1,45 1,26 1-14 1,8 1-18 1-26 1,7 1,27 1,3 1-23 1,7 1,7 1-35 1,27 1,26 1,7 1-30 1,26 1-32 1-5 1-31 1,56 1-18 1,36 1-26 1-2 1-35 1,53 1-25 1,3 1-41 1,55 1,1 1-22 1,10 1,4 1,8 1-12 1,21 1-26 1-5 1,2 1-45 1,39 1,26 1-10 1-16 1,17 1-42 1,34 1,11 1,2 1-21 1,24 1,12 1-30 1,16 1-37 1-9 1,44 1-8 1,2 1-11 1,5 1,15 1,11 1-25 1-26 1,46 1-9 1,1 1-7 1,28 1-29 1,6 1-41 1,25 1-1 1,9 1,5 1-15 1,34 1-40 1,10 1,10 1-24 1,28 1,1 1-12 1,29 1-24 1,3 1-19 1-15 1,21 1,4 1-2 1,17 1-58 1,30 1-15 1,51 1-26 1,0 1-10 1,30 1-18 1,9 1-41 1,53 1-10 1,2 1,9 1-19 1,1 1,11 1-4 1-9 1,4 1-7 1,16 1,3 1-12 1,25 1-52 1,24 1,25 1-28 1-22 1,46 1-11 1-27 1,30 1-26 1-6 1,20 1-5 1-11 1,13 1-11 1,17 1-1 1,10 1-17 1-15 1,0 1,18 1,24 1-9 1-21 1,22 1-31 1,32 1-19 1,16 1-2 1-12 1,8 1-21 1,16 1,15 1,31 1-36 1-8 1-17 1,30 1-43 1,17 1,17 1-25 1,40 1-6 1-22 1,0 1-14 1-2 1,30 1,2 1-3 1-2 1-11 1,13 1-30 1,25 1,19 1-2 1-24 1,2 1,23 1,5 1-49 1,20 1,9 1,13 1-29 1,21 1-12 1,35 1-25 1-8 1-3 1,19L260,34l-1-43 -1,14 -1,21 -1,4 -1-26 -1,8 -1,0 -1,1 -1-8 -1-30 -1,42 -1,4 -1,6 -1-20 -1-13 -1-16 -1,28 -1,8 -1-31 -1,5 -1,21 -1-11 -1,18 -1-4 -1-3 -1-12 -1,17 -1-28 -1,36 -1-11 -1,2 -1-11 -1-31 -1,39 -1,4 -1-7 -1-20 -1,20 -1-13 -1,20 -1,11 -1-28 -1,11 -1-20 -1,18 -1-22 -1,34 -1-1 -1-7 -1,7 -1,10 -1-29 -1,2 -1,22 -1-22 -1,15 -1,7 -1-5 -1,4 -1-10 -1-6 -1-13 -1-11 -1,14 -1-24 -1,39 -1-17 -1-1 -1,43 -1-41 -1,16 -1,2 -1-23 -1,22 -1-5 -1,5 -1,0 -1,12 -1-3 -1-13 -1,9 -1-9 -1-9 -1,8 -1-2 -1,20 -1-1 -1-38 -1,41 -1-32 -1-11 -1,0 -1,12 -1,15 -1-12 -1,14 -1,2 -1-19 -1-15 -1,12 -1-14 -1,34 -1,14 -1-15 -1-7 -1,3 -1-8 -1,11 -1-2 -1,6 -1-22 -1,18 -1,5 -1,12 -1,2 -1-24 -1-5 -1,17 -1-13 -1-2 -1,20 -1-17 -1,1 -1-20 -1,16 -1,16 -1,4 -1-10 -1-11 -1,10 -1-8 -1,3 -1,11 -1-3 -1-5 -1,9 -1-13 -1,4 -1,6 -1-15 -1,0 -1-23 -1,31 -1-19 -1,24 -1-13 -1,16 -1-26 -1,2 -1,9 -1-10 -1,22 -1-15 -1,9 -1-31 -1,25 -1-3 -1,6 -1,13 -1-8 -1-2 -1-23 -1,35 -1,5 -1-16 -1-3 -1,9 -1-1 -1-23 -1,5 -1,3 -1,27 -1-17 -1-9 -1,32 -1-20 -1-18 -1,15 -1-8 -1-13 -1,10 -1,22 -1-16 -1,7 -1-17 -1-4 -1-3 -1,33 -1-29 -1-6 -1,4 -1-8 -1,37 -1-21 -1,18 -1,5 -1-46 -1,44 -1,1 -1-43 -1-3 -1,27 -1-52 -1,45 -1,12 -1,18 -1-21 -1-2 -1,7 -1-4 -1,23 -1-23 -1-36 -1,43 -1,4 -1-10 -1,15 -1-9 -1-2 -1,8 -1,6 -1-27 -1-27 -1,12 -1-8 -1,50 -1-11 -1,11 -1-40 -1,22 -1,11 -1,2 -1-11 -1,16 -1-18 -1-12 -1,22 -1-12 -1,13 -1-34 -1,20 -1-7 -1,35 -1-19 -1-1 -1-9 -1,20 -1-28 -1,47 -1-27 -1,6 -1,14 -1-18 -1-30 -1,20 -1,23 -1-4 -1-11 -1,7 -1-24Z" vector-effect="non-scaling-stroke"/>
<path transform="matrix(0.63192 -0.16615 0 -0.77187 134.770 164.860)" d="M-2,-4.8l1,24 1-7 1,11 1,4 1-23 1-20 1,30 1,18 1-14 1-6 1,27 1-47 1,28 1-20 1,9 1,1 1,19 1-35 1,7 1-20 1,34 1-13 1,12 1-22 1,12 1,18 1-16 1,11 1-2 1-11 1-22 1,40 1-11 1,11 1-50 1,8 1-12 1,27 1,27 1-6 1-8 1,2 1,9 1-15 1,10 1-4 1-43 1,36 1,23 1-23 1,4 1-7 1,2 1,21 1-18 1-12 1-45 1,52 1-27 1,3 1,43 1-1 1-44 1,46 1-5 1-18 1,21 1-37 1,8 1-4 1,6 1,29 1-33 1,3 1,4 1,17 1-7 1,16 1-22 1-10 1,13 1,8 1-15 1,18 1,20 1-32 1,9 1,17 1-27 1-3 1-5 1,23 1,1 1-9 1,3 1,16 1-5 1-35 1,23 1,2 1,8 1-13 1-6 1,3 1-25 1,31 1-9 1,15 1-22 1,10 1-9 1-2 1,26 1-16 1,13 1-24 1,19 1-31 1,23 1,0 1,15 1-6 1-4 1,13 1-9 1,5 1,3 1-11 1-3 1,8 1-10 1,11 1,10 1-4 1-16 1-16 1,20 1-1 1,17 1-20 1,2 1,13 1-17 1,5 1,24 1-2 1-12 1-5 1-18 1,22 1-6 1,2 1-11 1,8 1-3 1,7 1,15 1-14 1-34 1,14 1-12 1,15 1,19 1-2 1-14 1,12 1-15 1-12 1,0 1,11 1,32 1-41 1,38 1,1 1-20 1,2 1-8 1,9 1,9 1-9 1,13 1,3 1-12 1,0 1-5 1,5 1-22 1,23 1-2 1-16 1,41 1-43 1,1 1,17 1-39 1,24 1-14 1,11 1,13 1,6 1,10 1-4 1,5 1-7 1-15 1,22 1-22 1-2 1,29 1-10 1-7 1,7 1,1 1-34 1,22 1-18 1,20 1-11 1,28 1-11 1-20 1,13 1-20 1,20 1,7 1-4 1-39 1,31 1,11 1-2 1,11 1-36 1,28 1-17 1,12 1,3 1,4 1-18 1,11 1-21 1-5 1,31 1-8 1-28 1,16 1,13 1,20 1-6 1-4 1-42 1,30 1,8 1-1 1,0 1-8 1,26 1-4 1-21 1-14 1,43L260,24l-1-5 -1-11 -1-13 -1,19 -1,13 -1-22 -1-43 -1,73 -1-48 -1,0 -1,14 -1,16 -1-10 -1-1 -1,2 -1-7 -1-16 -1-11 -1-5 -1,53 -1-22 -1,19 -1-7 -1-28 -1,24 -1-6 -1,19 -1-5 -1-14 -1,12 -1-12 -1,21 -1-26 -1,11 -1-34 -1,55 -1-17 -1-4 -1-2 -1-2 -1,15 -1-36 -1,43 -1-14 -1,19 -1-15 -1-3 -1,13 -1-21 -1,26 -1-48 -1,23 -1,14 -1-7 -1,7 -1-26 -1,21 -1-20 -1,14 -1-14 -1,29 -1,4 -1-18 -1,7 -1-5 -1-21 -1,27 -1-2 -1-14 -1,16 -1,10 -1,2 -1-27 -1,14 -1-19 -1,4 -1-13 -1-4 -1,43 -1-15 -1,4 -1,23 -1-23 -1-4 -1,2 -1-26 -1,18 -1,8 -1,0 -1,19 -1-13 -1-39 -1,39 -1-16 -1-6 -1-15 -1,13 -1,14 -1-41 -1,56 -1-6 -1-20 -1,17 -1-25 -1,19 -1-16 -1,8 -1,22 -1,13 -1-15 -1-53 -1,46 -1-4 -1,8 -1-11 -1-7 -1,3 -1,15 -1-11 -1,6 -1,1 -1,4 -1,11 -1-22 -1-20 -1,22 -1-6 -1-9 -1,41 -1-35 -1,3 -1,8 -1,1 -1-23 -1,9 -1,12 -1-1 -1-1 -1,6 -1-11 -1,3 -1,2 -1,1 -1-10 -1-8 -1-2 -1,16 -1,7 -1,11 -1-6 -1-7 -1,2 -1-11 -1-22 -1-2 -1,31 -1-4 -1-5 -1-6 -1,13 -1-24 -1,24 -1-5 -1,12 -1-10 -1,6 -1-3 -1-25 -1,22 -1-13 -1,9 -1,23 -1-32 -1,30 -1-5 -1-7 -1-12 -1,12 -1-19 -1,30 -1-13 -1,18 -1-5 -1-6 -1-29 -1,9 -1,10 -1,17 -1-21 -1-13 -1,50 -1-35 -1-8 -1,19 -1,2 -1-5 -1,1 -1,7 -1-22 -1,18 -1-19 -1-12 -1,22 -1,16 -1,7 -1-29 -1,6 -1,1 -1,17 -1-14 -1-9 -1-10 -1,29 -1-31 -1-18 -1,23 -1,24 -1-1 -1-58 -1,45 -1,13 -1,10 -1-19 -1,4 -1-9 -1,9 -1-2 -1,10 -1-12 -1-13 -1,21 -1-8 -1-6 -1,34 -1-28 -1-40 -1,54 -1-24 -1,13 -1-3 -1,27 -1-59 -1,19 -1-9 -1,34 -1-37 -1,40 -1-13 -1-15 -1,10 -1-4 -1,24 -1,2 -1-29 -1,21 -1-24 -1,25 -1-19 -1-12 -1,24Z" vector-effect="non-scaling-stroke"/>
<path transform="matrix(0.63192 -0.16615 0 -0.77187 136.032 165.426)" d="M-2,14.2l1-24 1,12 1,19 1-25 1,24 1-21 1,29 1-2 1-24 1,4 1-10 1,15 1,13 1-40 1,37 1-34 1,9 1-19 1,59 1-27 1,3 1-13 1,24 1-54 1,40 1,28 1-34 1,6 1,8 1-21 1,13 1,12 1-10 1,2 1-9 1,9 1-4 1,19 1-10 1-13 1-45 1,58 1,1 1-24 1-23 1,18 1,31 1-29 1,10 1,9 1,14 1-17 1-1 1-6 1,29 1-7 1-16 1-22 1,12 1,19 1-18 1,22 1-7 1-1 1,5 1-2 1-19 1,8 1,35 1-50 1,13 1,21 1-17 1-10 1-9 1,29 1,6 1,5 1-18 1,13 1-30 1,19 1-12 1,12 1,7 1,5 1-30 1,32 1-23 1-9 1,13 1-22 1,25 1,3 1-6 1,10 1-12 1,5 1-24 1,24 1-13 1,6 1,5 1,4 1-31 1,2 1,22 1,11 1-2 1,7 1,6 1-11 1-7 1-16 1,2 1,8 1,10 1-1 1-2 1-3 1,11 1-6 1,1 1,1 1-12 1-9 1,23 1-1 1-8 1-3 1,35 1-41 1,9 1,6 1-22 1,20 1,22 1-11 1-4 1-1 1-6 1,11 1-15 1-3 1,7 1,11 1-8 1,4 1-46 1,53 1,15 1-13 1-22 1-8 1,16 1-19 1,25 1-17 1,20 1,6 1-56 1,41 1-14 1-13 1,15 1,6 1,16 1-39 1,39 1,13 1-19 1,0 1-8 1-18 1,26 1-2 1,4 1,23 1-23 1-4 1,15 1-43 1,4 1,13 1-4 1,19 1-14 1,27 1-2 1-10 1-16 1,14 1,2 1-27 1,21 1,5 1-7 1,18 1-4 1-29 1,14 1-14 1,20 1-21 1,26 1-7 1,7 1-14 1-23 1,48 1-26 1,21 1-13 1,3 1,15 1-19 1,14 1-43 1,36 1-15 1,2 1,2 1,4 1,17 1-55 1,34 1-11 1,26 1-21 1,12 1-12 1,14 1,5 1-19 1,6 1-24 1,28 1,7 1-19 1,22 1-53 1,5 1,11 1,16 1,7 1-2 1,1 1,10 1-16 1-14 1,0 1,48 1-73 1,43 1,22 1-13 1-19 1,13 1,11 1,5L260,-24l-1,17 -1,32 -1-25 -1-3 -1,18 -1-11 -1,17 -1-34 -1,14 -1-12 -1,21 -1-5 -1,35 -1-48 -1,20 -1-33 -1,32 -1,5 -1,3 -1-15 -1-12 -1,37 -1-40 -1,43 -1-26 -1-9 -1,4 -1,0 -1,23 -1-15 -1,23 -1-18 -1-21 -1,12 -1,24 -1-29 -1,3 -1,9 -1-9 -1-1 -1,22 -1-6 -1,8 -1-6 -1-14 -1-4 -1,14 -1-10 -1-10 -1-12 -1,29 -1-5 -1,5 -1,12 -1-25 -1,24 -1-1 -1-13 -1-5 -1,18 -1-38 -1-6 -1,13 -1-16 -1,16 -1,28 -1-24 -1,20 -1-11 -1-6 -1,9 -1,9 -1,6 -1,12 -1-12 -1-16 -1-29 -1,30 -1-7 -1,18 -1-9 -1,25 -1-29 -1-6 -1,15 -1-4 -1-14 -1,24 -1-3 -1-8 -1-23 -1,9 -1-9 -1,19 -1,9 -1-5 -1-36 -1,29 -1,17 -1,10 -1-29 -1-1 -1,22 -1-42 -1,35 -1,1 -1-8 -1,1 -1,0 -1,19 -1-58 -1,33 -1,23 -1-13 -1,17 -1-43 -1,18 -1-6 -1,22 -1,2 -1-11 -1,0 -1-15 -1,19 -1-38 -1,22 -1,15 -1-18 -1,2 -1,2 -1,15 -1-18 -1,6 -1-1 -1,17 -1-13 -1-9 -1-46 -1,58 -1,15 -1-25 -1,12 -1-1 -1,2 -1-23 -1,12 -1-2 -1,2 -1-13 -1,30 -1,3 -1,8 -1-45 -1,26 -1,1 -1-19 -1,17 -1-58 -1,39 -1,11 -1,21 -1-10 -1-12 -1,14 -1-38 -1-6 -1,50 -1-4 -1-36 -1,56 -1-39 -1,10 -1-16 -1,4 -1,19 -1-25 -1,23 -1-1 -1-49 -1,38 -1,7 -1-13 -1,28 -1-22 -1-21 -1,39 -1-27 -1,30 -1-38 -1,30 -1-23 -1,30 -1-30 -1,16 -1,1 -1,13 -1-11 -1,2 -1,25 -1-11 -1,2 -1-12 -1-19 -1-3 -1,24 -1-1 -1,13 -1-11 -1-8 -1,11 -1-29 -1,30 -1-33 -1,5 -1,25 -1-11 -1-11 -1-3 -1,18 -1,1 -1,6 -1-13 -1-18 -1,26 -1,11 -1-52 -1,25 -1-11 -1,27 -1-14 -1,17 -1,22 -1-33 -1,3 -1-53 -1,47 -1-9 -1,8 -1-3 -1,4 -1,13 -1,13 -1,5 -1-15 -1-6 -1-33 -1,21 -1,25 -1-23 -1,24 -1-44 -1,46 -1-9 -1-27 -1,14 -1,26 -1-40 -1,33 -1-33 -1,4Z" vector-effect="non-scaling-stroke"/>
<path transform="matrix(0.63192 -0.16615 0 -0.77187 137.294 165.992)" d="M-2,-0.8l1-4 1,33 1-33 1,40 1-26 1-14 1,27 1,9 1-46 1,44 1-24 1,23 1-25 1-21 1,33 1,6 1,15 1-5 1-13 1-13 1-4 1,3 1-8 1,9 1-47 1,53 1-3 1,33 1-22 1-17 1,14 1-27 1,11 1-25 1,52 1-11 1-26 1,18 1,13 1-6 1-1 1-18 1,3 1,11 1,11 1-25 1-5 1,33 1-30 1,29 1-11 1,8 1,11 1-13 1,1 1-24 1,3 1,19 1,12 1-2 1,11 1-25 1-2 1,11 1-13 1-1 1-16 1,30 1-30 1,23 1-30 1,38 1-30 1,27 1-39 1,21 1,22 1-28 1,13 1-7 1-38 1,49 1,1 1-23 1,25 1-19 1-4 1,16 1-10 1,39 1-56 1,36 1,4 1-50 1,6 1,38 1-14 1,12 1,10 1-21 1-11 1-39 1,58 1-17 1,19 1-1 1-26 1,45 1-8 1-3 1-30 1,13 1-2 1,2 1-12 1,23 1-2 1,1 1-12 1,25 1-15 1-58 1,46 1,9 1,13 1-17 1,1 1-6 1,18 1-15 1-2 1-2 1,18 1-15 1-22 1,38 1-19 1,15 1,0 1,11 1-2 1-22 1,6 1-18 1,43 1-17 1,13 1-23 1-33 1,58 1-19 1,0 1-1 1,8 1-1 1-35 1,42 1-22 1,1 1,29 1-10 1-17 1-29 1,36 1,5 1-9 1-19 1,9 1-9 1,23 1,8 1,3 1-24 1,14 1,4 1-15 1,6 1,29 1-25 1,9 1-18 1,7 1-30 1,29 1,16 1,12 1-12 1-6 1-9 1-9 1,6 1,11 1-20 1,24 1-28 1-16 1,16 1-13 1,6 1,38 1-18 1,5 1,13 1,1 1-24 1,25 1-12 1-5 1,5 1-29 1,12 1,10 1,10 1-14 1,4 1,14 1,6 1-8 1,6 1-22 1,1 1,9 1-9 1-3 1,29 1-24 1-12 1,21 1,18 1-23 1,15 1-23 1,0 1-4 1,9 1,26 1-43 1,40 1-37 1,12 1,15 1-3 1-5 1-32 1,33 1-20 1,48 1-35 1,5 1-21 1,12 1-14 1,34 1-17 1,11 1-18 1,3 1,25 1-32 1-17L260,26l-1-10 -1-16 -1-15 -1,19 -1,5 -1-5 -1,15 -1-66 -1,63 -1-2 -1,6 -1,2 -1-2 -1-23 -1,17 -1-16 -1,16 -1-6 -1,10 -1-31 -1,25 -1-8 -1,1 -1,17 -1-32 -1-4 -1,36 -1-2 -1,13 -1-38 -1,14 -1-11 -1,21 -1-18 -1-22 -1,24 -1-46 -1,63 -1-25 -1,3 -1-8 -1,19 -1-1 -1-25 -1,24 -1-10 -1,2 -1-16 -1,21 -1-1 -1,12 -1-31 -1,25 -1,9 -1-5 -1,0 -1-12 -1-1 -1,8 -1,38 -1-44 -1,7 -1,7 -1-11 -1,20 -1-18 -1-17 -1,13 -1,35 -1-33 -1-37 -1,53 -1-28 -1,11 -1-8 -1,14 -1,4 -1,0 -1,2 -1-7 -1-4 -1,2 -1,10 -1,0 -1-5 -1,14 -1-27 -1-14 -1,18 -1,3 -1,21 -1-17 -1,13 -1-20 -1-16 -1,5 -1,18 -1-11 -1-6 -1,16 -1-2 -1,10 -1-20 -1,4 -1,3 -1,6 -1-6 -1-36 -1,23 -1,20 -1,5 -1-7 -1-14 -1,14 -1,0 -1-20 -1,5 -1,23 -1-1 -1,6 -1-42 -1,12 -1-11 -1,41 -1,2 -1-12 -1-20 -1,21 -1-6 -1-18 -1,17 -1,8 -1-6 -1,25 -1-30 -1-21 -1,36 -1-25 -1,9 -1-5 -1,18 -1-4 -1-44 -1,34 -1,5 -1-41 -1,38 -1-1 -1,28 -1-11 -1-16 -1,5 -1,0 -1-16 -1,20 -1,4 -1-14 -1,10 -1-14 -1,14 -1,8 -1-12 -1,5 -1-37 -1,18 -1-25 -1,30 -1-3 -1,17 -1,0 -1-13 -1,21 -1-34 -1,31 -1,0 -1-6 -1-37 -1,8 -1,23 -1,8 -1,5 -1-17 -1,5 -1,18 -1,6 -1-17 -1,8 -1-9 -1,2 -1-9 -1,6 -1,13 -1-19 -1-2 -1-9 -1,17 -1-11 -1,2 -1-2 -1,5 -1,0 -1,2 -1-23 -1,17 -1,29 -1-38 -1-26 -1,59 -1,1 -1-26 -1,1 -1,5 -1,15 -1-17 -1,22 -1-61 -1,37 -1,25 -1-8 -1-39 -1,12 -1,36 -1-16 -1-15 -1-8 -1,27 -1-5 -1-51 -1,72 -1-31 -1,4 -1-12 -1-4 -1,37 -1-31 -1,3 -1,11 -1,2 -1,20 -1-20 -1-10 -1,6 -1-6 -1,18 -1-15 -1,11 -1-13 -1-27 -1,24 -1,9 -1-22 -1,42 -1-50 -1,13 -1-20 -1,52 -1-42 -1,30 -1-42 -1,50Z" vector-effect="non-scaling-stroke"/>
<path transform="matrix(0.63192 -0.16615 0 -0.77187 138.556 166.558)" d="M-2,21.2l1-50 1,42 1-30 1,42 1-52 1,20 1-13 1,50 1-42 1,22 1-9 1-24 1,27 1,13 1-11 1,15 1-18 1,6 1-6 1,10 1,20 1-20 1-2 1-11 1-3 1,31 1-37 1,4 1,12 1-4 1,31 1-72 1,51 1,5 1-27 1,8 1,15 1,16 1-36 1-12 1,39 1,8 1-25 1-37 1,61 1-22 1,17 1-15 1-5 1-1 1,26 1-1 1-59 1,26 1,38 1-29 1-17 1,23 1-2 1,0 1-5 1,2 1-2 1,11 1-17 1,9 1,2 1,19 1-13 1-6 1,9 1-2 1,9 1-8 1,17 1-6 1-18 1-5 1,17 1-5 1-8 1-23 1-8 1,37 1,6 1,0 1-31 1,34 1-21 1,13 1,0 1-17 1,3 1-30 1,25 1-18 1,37 1-5 1,12 1-8 1-14 1,14 1-10 1,14 1-4 1-20 1,16 1,0 1-5 1,16 1,11 1-28 1,1 1-38 1,41 1-5 1-34 1,44 1,4 1-18 1,5 1-9 1,25 1-36 1,21 1,30 1-25 1,6 1-8 1-17 1,18 1,6 1-21 1,20 1,12 1-2 1-41 1,11 1-12 1,42 1-6 1,1 1-23 1-5 1,20 1,0 1-14 1,14 1,7 1-5 1-20 1-23 1,36 1,6 1-6 1-3 1-4 1,20 1-10 1,2 1-16 1,6 1,11 1-18 1-5 1,16 1,20 1-13 1,17 1-21 1-3 1-18 1,14 1,27 1-14 1,5 1,0 1-10 1-2 1,4 1,7 1-2 1,0 1-4 1-14 1,8 1-11 1,28 1-53 1,37 1,33 1-35 1-13 1,17 1,18 1-20 1,11 1-7 1-7 1,44 1-38 1-8 1,1 1,12 1,0 1,5 1-9 1-25 1,31 1-12 1,1 1-21 1,16 1-2 1,10 1-24 1,25 1,1 1-19 1,8 1-3 1,25 1-63 1,46 1-24 1,22 1,18 1-21 1,11 1-14 1,38 1-13 1,2 1-36 1,4 1,32 1-17 1-1 1,8 1-25 1,31 1-10 1,6 1-16 1,16 1-17 1,23 1,2 1-2 1-6 1,2 1-63 1,66 1-15 1,5 1-5 1-19 1,15 1,16 1,10L260,8l-1,2 -1-6 -1,12 -1-23 -1,28 -1-14 -1,15 -1-13 -1,6 -1-18 -1,19 -1-24 -1,17 -1-5 -1,5 -1,4 -1,11 -1-20 -1,9 -1-11 -1,33 -1-7 -1-33 -1,14 -1-7 -1,8 -1-4 -1-16 -1,22 -1,1 -1,8 -1,2 -1-10 -1-4 -1,4 -1-25 -1,21 -1,7 -1-9 -1-13 -1,44 -1-25 -1-7 -1-15 -1,28 -1-13 -1-15 -1,45 -1-37 -1,9 -1,14 -1-16 -1,2 -1,22 -1-53 -1,37 -1-3 -1-20 -1,6 -1,13 -1-19 -1,4 -1-3 -1,15 -1,3 -1-3 -1,14 -1-16 -1,4 -1-1 -1-2 -1-5 -1,20 -1-18 -1,2 -1,1 -1,2 -1-1 -1-31 -1,54 -1-15 -1-14 -1-4 -1,7 -1-10 -1-1 -1,35 -1-26 -1-6 -1,13 -1,3 -1-22 -1,6 -1-25 -1,31 -1,12 -1-2 -1,15 -1-30 -1,9 -1-15 -1,20 -1,14 -1-2 -1-31 -1,7 -1-9 -1-6 -1,14 -1,23 -1-14 -1,18 -1-27 -1,18 -1-31 -1,43 -1-20 -1,8 -1-17 -1-22 -1,35 -1,14 -1-2 -1-27 -1,5 -1,25 -1-25 -1,4 -1,1 -1,4 -1-28 -1,10 -1,3 -1,22 -1-17 -1,13 -1,13 -1-24 -1,20 -1-22 -1,20 -1,2 -1-25 -1-15 -1,10 -1,21 -1-8 -1,10 -1-7 -1-33 -1,29 -1-11 -1,4 -1-10 -1,22 -1,13 -1-2 -1-14 -1-16 -1-3 -1,9 -1,27 -1-31 -1,17 -1,6 -1-8 -1-38 -1,41 -1-2 -1-18 -1,12 -1-8 -1,11 -1,8 -1,17 -1-19 -1,2 -1,5 -1,5 -1-12 -1,4 -1,12 -1-21 -1,7 -1-1 -1,3 -1,5 -1-27 -1,45 -1-7 -1-21 -1-3 -1,15 -1-40 -1,14 -1,7 -1,2 -1,35 -1-27 -1-17 -1,23 -1-4 -1-6 -1,1 -1,8 -1-2 -1,12 -1-22 -1,13 -1-25 -1,11 -1-22 -1,21 -1,10 -1,1 -1,13 -1-21 -1,5 -1-16 -1,7 -1,1 -1-1 -1,29 -1-32 -1,20 -1-7 -1-22 -1,17 -1-4 -1-6 -1,22 -1,4 -1-6 -1-11 -1,20 -1-15 -1,5 -1-26 -1-8 -1,19 -1,10 -1-5 -1,12 -1-5 -1-11 -1,4 -1,4 -1,9 -1,0 -1-15 -1,6 -1-3 -1-16 -1-8 -1,19 -1,15 -1-13 -1-10 -1,43 -1-27Z" vector-effect="non-scaling-stroke"/>
<path transform="matrix(0.63192 -0.16615 0 -0.77187 139.818 167.124)" d="M-2,13.2l1,27 1-43 1,10 1,13 1-15 1-19 1,8 1,16 1,3 1-6 1,15 1,0 1-9 1-4 1-4 1,11 1,5 1-12 1,5 1-10 1-19 1,8 1,26 1-5 1,15 1-20 1,11 1,6 1-4 1-22 1,6 1,4 1-17 1,22 1,7 1-20 1,32 1-29 1,1 1-1 1-7 1,16 1-5 1,21 1-13 1-1 1-10 1-21 1,22 1-11 1,25 1-13 1,22 1-12 1,2 1-8 1-1 1,6 1,4 1-23 1,17 1,27 1-35 1-2 1-7 1-14 1,40 1-15 1,3 1,21 1,7 1-45 1,27 1-5 1-3 1,1 1-7 1,21 1-12 1-4 1,12 1-5 1-5 1-2 1,19 1-17 1-8 1-11 1,8 1-12 1,18 1,2 1-41 1,38 1,8 1-6 1-17 1,31 1-27 1-9 1,3 1,16 1,14 1,2 1-13 1-22 1,10 1-4 1,11 1-29 1,33 1,7 1-10 1,8 1-21 1-10 1,15 1,25 1-2 1-20 1,22 1-20 1,24 1-13 1-13 1,17 1-22 1-3 1-10 1,28 1-4 1-1 1-4 1,25 1-25 1-5 1,27 1,2 1-14 1-35 1,22 1,17 1-8 1,20 1-43 1,31 1-18 1,27 1-18 1,14 1-23 1-14 1,6 1,9 1-7 1,31 1,2 1-14 1-20 1,15 1-9 1,30 1-15 1,2 1-12 1-31 1,25 1-6 1,22 1-3 1-13 1,6 1,26 1-35 1,1 1,10 1-7 1,4 1,14 1,15 1-54 1,31 1,1 1-2 1-1 1-2 1,18 1-20 1,5 1,2 1,1 1-4 1,16 1-14 1,3 1-3 1-15 1,3 1-4 1,19 1-13 1-6 1,20 1,3 1-37 1,53 1-22 1-2 1,16 1-14 1-9 1,37 1-45 1,15 1,13 1-28 1,15 1,7 1,25 1-44 1,13 1,9 1-7 1-21 1,25 1-4 1,4 1,10 1-2 1-8 1-1 1-22 1,16 1,4 1-8 1,7 1-14 1,33 1,7 1-33 1,11 1-9 1,20 1-11 1-4 1-5 1,5 1-17 1,24 1-19 1,18 1-6 1,13 1-15 1,14 1-28 1,23 1-12 1,6 1-2L260,25l-1-35 -1,13 -1,5 -1-3 -1,13 -1-1 -1-20 -1-11 -1,13 -1,12 -1,25 -1-39 -1,6 -1,5 -1,0 -1-7 -1,8 -1,8 -1,8 -1-40 -1,0 -1,22 -1,15 -1-1 -1-6 -1,2 -1,3 -1-31 -1,20 -1,8 -1-14 -1,6 -1-52 -1,60 -1-13 -1,28 -1-47 -1,48 -1-23 -1-5 -1-55 -1,50 -1,14 -1,7 -1,25 -1-39 -1,27 -1-26 -1,13 -1-8 -1-9 -1-11 -1,9 -1-4 -1,14 -1-14 -1-6 -1,26 -1,7 -1-15 -1-1 -1,4 -1,10 -1-7 -1-2 -1-5 -1,6 -1,20 -1-33 -1,33 -1-50 -1,6 -1,22 -1-5 -1-43 -1,69 -1-26 -1-9 -1,11 -1,1 -1-4 -1,7 -1-18 -1,26 -1-37 -1,21 -1,22 -1-39 -1,17 -1,0 -1-8 -1,0 -1,10 -1-6 -1,14 -1-6 -1,5 -1-10 -1,4 -1-20 -1,42 -1-14 -1-10 -1,1 -1,29 -1-18 -1-62 -1,69 -1-25 -1,0 -1,5 -1-3 -1-18 -1,33 -1-37 -1,3 -1,35 -1-10 -1,11 -1-13 -1,9 -1,1 -1-11 -1-7 -1-9 -1,6 -1,25 -1-31 -1,24 -1,1 -1-4 -1-33 -1,13 -1,43 -1-33 -1-18 -1,21 -1,2 -1-6 -1-12 -1,7 -1,8 -1-35 -1,47 -1-4 -1-7 -1,3 -1,4 -1-31 -1-16 -1,11 -1,27 -1,10 -1-28 -1,27 -1,20 -1-42 -1-2 -1,27 -1,6 -1-6 -1,7 -1-35 -1,36 -1-2 -1-15 -1,4 -1,6 -1-1 -1,20 -1-27 -1,5 -1,0 -1-29 -1,23 -1-28 -1,30 -1-1 -1,10 -1-21 -1,3 -1-11 -1,31 -1-47 -1,29 -1,3 -1-2 -1,21 -1-19 -1,8 -1,14 -1-29 -1-2 -1,25 -1,7 -1-20 -1,6 -1-8 -1,6 -1,14 -1,10 -1-15 -1-5 -1-26 -1,11 -1,0 -1,19 -1-12 -1,14 -1-24 -1,23 -1-23 -1,12 -1-11 -1-2 -1,11 -1-25 -1,30 -1,11 -1-37 -1,24 -1-8 -1-12 -1,31 -1-17 -1-14 -1,28 -1-24 -1,18 -1-7 -1,15 -1,8 -1-2 -1-71 -1,85 -1-61 -1,38 -1-20 -1-44 -1,75 -1-29 -1-21 -1,39 -1-20 -1,3 -1,13 -1-3 -1-3 -1-1 -1-5 -1,9 -1,7 -1-18 -1,20 -1-7 -1,19 -1-15 -1-5 -1-6 -1-13Z" vector-effect="non-scaling-stroke"/>
<path transform="matrix(0.63192 -0.16615 0 -0.77187 141.080 167.690)" d="M-2,-6.8l1,13 1,6 1,5 1,15 1-19 1,7 1-20 1,18 1-7 1-9 1,5 1,1 1,3 1,3 1-13 1-3 1,20 1-39 1,21 1,29 1-75 1,44 1,20 1-38 1,61 1-85 1,71 1,2 1-8 1-15 1,7 1-18 1,24 1-28 1,14 1,17 1-31 1,12 1,8 1-24 1,37 1-11 1-30 1,25 1-11 1,2 1,11 1-12 1,23 1-23 1,24 1-14 1,12 1-19 1,0 1-11 1,26 1,5 1,15 1-10 1-14 1-6 1,8 1-6 1,20 1-7 1-25 1,2 1,29 1-14 1-8 1,19 1-21 1,2 1-3 1-29 1,47 1-31 1,11 1-3 1,21 1-10 1,1 1-30 1,28 1-23 1,29 1,0 1-5 1,27 1-20 1,1 1-6 1-4 1,15 1,2 1-36 1,35 1-7 1,6 1-6 1-27 1,2 1,42 1-20 1-27 1,28 1-10 1-27 1-11 1,16 1,31 1-4 1-3 1,7 1,4 1-47 1,35 1-8 1-7 1,12 1,6 1-2 1-21 1,18 1,33 1-43 1-13 1,33 1,4 1-1 1-24 1,31 1-25 1-6 1,9 1,7 1,11 1-1 1-9 1,13 1-11 1,10 1-35 1-3 1,37 1-33 1,18 1,3 1-5 1,0 1,25 1-69 1,62 1,18 1-29 1-1 1,10 1,14 1-42 1,20 1-4 1,10 1-5 1,6 1-14 1,6 1-10 1,0 1,8 1,0 1-17 1,39 1-22 1-21 1,37 1-26 1,18 1-7 1,4 1-1 1-11 1,9 1,26 1-69 1,43 1,5 1-22 1-6 1,50 1-33 1,33 1-20 1-6 1,5 1,2 1,7 1-10 1-4 1,1 1,15 1-7 1-26 1,6 1,14 1-14 1,4 1-9 1,11 1,9 1,8 1-13 1,26 1-27 1,39 1-25 1-7 1-14 1-50 1,55 1,5 1,23 1-48 1,47 1-28 1,13 1-60 1,52 1-6 1,14 1-8 1-20 1,31 1-3 1-2 1,6 1,1 1-15 1-22 1,0 1,40 1-8 1-8 1-8 1,7 1,0 1-5 1-6 1,39 1-25 1-12 1-13 1,11 1,20 1,1 1-13 1,3 1-5 1-13 1,35L260,-5l-1,22 -1-44 -1,51 -1-60 -1,34 -1-7 -1,24 -1-9 -1,15 -1,6 -1-19 -1,3 -1,19 -1-35 -1,17 -1,3 -1-12 -1,1 -1,8 -1,8 -1-22 -1,4 -1,0 -1,16 -1-8 -1,16 -1-9 -1-30 -1-16 -1,36 -1,4 -1,11 -1-24 -1,25 -1-18 -1,2 -1-18 -1-3 -1,10 -1,6 -1,17 -1-22 -1,0 -1-18 -1,22 -1-9 -1,3 -1,23 -1,23 -1-43 -1,9 -1-14 -1,17 -1-13 -1,9 -1,10 -1-10 -1-14 -1-9 -1-28 -1,34 -1,39 -1-10 -1-22 -1,2 -1,23 -1-14 -1-11 -1,25 -1,0 -1-2 -1-22 -1,4 -1,21 -1-25 -1-17 -1,24 -1,6 -1-23 -1,44 -1-17 -1,8 -1-31 -1,31 -1-5 -1,1 -1-27 -1,6 -1,28 -1-20 -1,3 -1,7 -1-11 -1,0 -1,5 -1,25 -1-39 -1,32 -1-1 -1-3 -1-25 -1,34 -1-24 -1-16 -1,13 -1,9 -1-16 -1,11 -1-3 -1-16 -1-3 -1,17 -1-6 -1-5 -1,7 -1-33 -1,25 -1,18 -1,0 -1,5 -1-3 -1-7 -1-4 -1-12 -1-8 -1,18 -1,9 -1,6 -1,11 -1-26 -1,4 -1,25 -1-28 -1-10 -1,13 -1,12 -1-30 -1-7 -1,14 -1,10 -1,13 -1,14 -1-53 -1,39 -1-2 -1-4 -1-13 -1,27 -1-36 -1,29 -1-6 -1-24 -1,2 -1,28 -1-26 -1,43 -1-34 -1,33 -1-40 -1,22 -1-19 -1,5 -1,11 -1-20 -1,29 -1-19 -1,8 -1,8 -1-21 -1-22 -1,39 -1-24 -1,16 -1,18 -1,14 -1-53 -1,32 -1-13 -1,18 -1,0 -1-13 -1,6 -1-29 -1-1 -1,8 -1,13 -1-7 -1-8 -1,10 -1-9 -1,7 -1-4 -1,23 -1,1 -1,28 -1-28 -1-15 -1,12 -1-20 -1-6 -1,25 -1-34 -1,36 -1,4 -1-1 -1-13 -1-6 -1,36 -1-22 -1-25 -1,28 -1-3 -1,7 -1-9 -1,2 -1,2 -1,12 -1-31 -1,13 -1,0 -1,4 -1,13 -1-1 -1-41 -1,7 -1,32 -1-13 -1,20 -1-16 -1,2 -1-5 -1,29 -1-58 -1,12 -1,23 -1-24 -1,22 -1,19 -1-21 -1-3 -1-29 -1,6 -1,34 -1-11 -1,2 -1-6 -1-23 -1,29 -1-11 -1,6 -1,2 -1-20 -1,15 -1,4 -1-22 -1,32 -1-10 -1,4 -1-14 -1,13Z" vector-effect="non-scaling-stroke"/>
<path transform="matrix(0.63192 -0.16615 0 -0.77187 142.342 168.256)" d="M-2,13.2l1-13 1,14 1-4 1,10 1-32 1,22 1-4 1-15 1,20 1-2 1-6 1,11 1-29 1,23 1,6 1-2 1,11 1-34 1-6 1,29 1,3 1,21 1-19 1-22 1,24 1-23 1-12 1,58 1-29 1,5 1-2 1,16 1-20 1,13 1-32 1-7 1,41 1,1 1-13 1-4 1,0 1-13 1,31 1-12 1-2 1-2 1,9 1-7 1,3 1-28 1,25 1,22 1-36 1,6 1,13 1,1 1-4 1-36 1,34 1-25 1,6 1,20 1-12 1,15 1,28 1-28 1-1 1-23 1,4 1-7 1,9 1-10 1,8 1,7 1-13 1-8 1,1 1,29 1-6 1,13 1,0 1-18 1,13 1-32 1,53 1-14 1-18 1-16 1,24 1-39 1,22 1,21 1-8 1-8 1,19 1-29 1,20 1-11 1-5 1,19 1-22 1,40 1-33 1,34 1-43 1,26 1-28 1-2 1,24 1,6 1-29 1,36 1-27 1,13 1,4 1,2 1-39 1,53 1-14 1-13 1-10 1-14 1,7 1,30 1-12 1-13 1,10 1,28 1-25 1-4 1,26 1-11 1-6 1-9 1-18 1,8 1,12 1,4 1,7 1,3 1-5 1,0 1-18 1-25 1,33 1-7 1,5 1,6 1-17 1,3 1,16 1,3 1-11 1,16 1-9 1-13 1,16 1,24 1-34 1,25 1,3 1,1 1-32 1,39 1-25 1-5 1,0 1,11 1-7 1-3 1,20 1-28 1-6 1,27 1-1 1,5 1-31 1,31 1-8 1,17 1-44 1,23 1-6 1-24 1,17 1,25 1-21 1-4 1,22 1,2 1,0 1-25 1,11 1,14 1-23 1-2 1,22 1,10 1-39 1-34 1,28 1,9 1,14 1,10 1-10 1-9 1,13 1-17 1,14 1-9 1,43 1-23 1-23 1-3 1,9 1-22 1,18 1,0 1,22 1-17 1-6 1-10 1,3 1,18 1-2 1,18 1-25 1,24 1-11 1-4 1-36 1,16 1,30 1,9 1-16 1,8 1-16 1,0 1-4 1,22 1-8 1-8 1-1 1,12 1-3 1-17 1,35 1-19 1-3 1,19 1-6 1-15 1,9 1-24 1,7 1-34 1,60 1-51 1,44 1-22L260,22l-1-1 -1-32 -1,9 -1,20 -1-9 -1-6 -1-15 -1,28 -1,0 -1-6 -1-28 -1,49 -1-41 -1-9 -1,21 -1,11 -1-18 -1,10 -1,7 -1-26 -1,27 -1,9 -1-19 -1-7 -1,24 -1-13 -1,23 -1-10 -1-2 -1,0 -1,3 -1-73 -1,55 -1-1 -1,23 -1-37 -1,23 -1,27 -1-27 -1,8 -1-6 -1-6 -1,22 -1-25 -1,23 -1,1 -1-23 -1-4 -1-5 -1,13 -1-6 -1,0 -1,20 -1-24 -1,18 -1,3 -1-25 -1,11 -1,11 -1-21 -1,13 -1-23 -1,22 -1,6 -1,8 -1-29 -1,18 -1-20 -1,24 -1-1 -1-13 -1,21 -1-14 -1-8 -1,0 -1-15 -1-4 -1,31 -1-13 -1,4 -1,31 -1-58 -1,24 -1,17 -1-18 -1,15 -1,8 -1-17 -1,8 -1,25 -1-39 -1,24 -1-50 -1,57 -1-17 -1-46 -1,35 -1,1 -1,5 -1-43 -1,26 -1,42 -1-31 -1,13 -1-34 -1,33 -1,21 -1-41 -1,11 -1-16 -1,20 -1,16 -1-56 -1,38 -1,17 -1-15 -1,10 -1-7 -1,8 -1,1 -1-7 -1-6 -1,2 -1,4 -1,8 -1-21 -1,16 -1-9 -1,0 -1-1 -1,13 -1-21 -1,9 -1-8 -1-4 -1-22 -1,39 -1-6 -1,8 -1-24 -1-8 -1,23 -1-10 -1-1 -1,4 -1-2 -1,23 -1-7 -1,0 -1,8 -1-33 -1,44 -1-3 -1-20 -1,10 -1-2 -1-39 -1,30 -1,0 -1-38 -1,28 -1-30 -1,28 -1,14 -1,1 -1-1 -1,1 -1-5 -1,16 -1,7 -1-8 -1,2 -1-12 -1,6 -1,16 -1-15 -1-14 -1-19 -1,22 -1-8 -1,11 -1-5 -1-9 -1,8 -1,22 -1-29 -1,12 -1-53 -1,56 -1,0 -1-9 -1,36 -1-24 -1-19 -1,8 -1,8 -1-2 -1-20 -1,11 -1,7 -1,7 -1-8 -1-11 -1,16 -1-11 -1,12 -1-9 -1,13 -1-28 -1,6 -1,5 -1-7 -1-14 -1,34 -1,4 -1-26 -1,29 -1-37 -1,19 -1,9 -1-7 -1,14 -1-17 -1,5 -1-3 -1,8 -1,8 -1-17 -1,12 -1-9 -1,4 -1-5 -1,6 -1-22 -1,29 -1,8 -1,4 -1-44 -1,16 -1-10 -1,36 -1-11 -1-6 -1,5 -1,1 -1,4 -1-15 -1-6 -1-53 -1,48 -1,5 -1,20 -1,24 -1-20 -1-4 -1-36 -1,20 -1-20 -1,6 -1,15Z" vector-effect="non-scaling-stroke"/>
<path transform="matrix(0.63192 -0.16615 0 -0.77187 143.604 168.822)" d="M-2,5.2l1-15 1-6 1,20 1-20 1,36 1,4 1,20 1-24 1-20 1-5 1-48 1,53 1,6 1,15 1-4 1-1 1-5 1,6 1,11 1-36 1,10 1-16 1,44 1-4 1-8 1-29 1,22 1-6 1,5 1-4 1,9 1-12 1,17 1-8 1-8 1,3 1-5 1,17 1-14 1,7 1-9 1-19 1,37 1-29 1,26 1-4 1-34 1,14 1,7 1-5 1-6 1,28 1-13 1,9 1-12 1,11 1-16 1,11 1,8 1-7 1-7 1-11 1,20 1,2 1-8 1-8 1,19 1,24 1-36 1,9 1,0 1-56 1,53 1-12 1,29 1-22 1-8 1,9 1,5 1-11 1,8 1-22 1,19 1,14 1,15 1-16 1-6 1,12 1-2 1,8 1-7 1-16 1,5 1-1 1,1 1-1 1-14 1-28 1,30 1-28 1,38 1,0 1-30 1,39 1,2 1-10 1,20 1,3 1-44 1,33 1-8 1,0 1,7 1-23 1,2 1-4 1,1 1,10 1-23 1,8 1,24 1-8 1,6 1-39 1,22 1,4 1,8 1-9 1,21 1-13 1,1 1,0 1,9 1-16 1,21 1-8 1-4 1-2 1,6 1,7 1-1 1-8 1,7 1-10 1,15 1-17 1-38 1,56 1-16 1-20 1,16 1-11 1,41 1-21 1-33 1,34 1-13 1,31 1-42 1-26 1,43 1-5 1-1 1-35 1,46 1,17 1-57 1,50 1-24 1,39 1-25 1-8 1,17 1-8 1-15 1,18 1-17 1-24 1,58 1-31 1-4 1,13 1-31 1,4 1,15 1,0 1,8 1,14 1-21 1,13 1,1 1-24 1,20 1-18 1,29 1-8 1-6 1-22 1,23 1-13 1,21 1-11 1-11 1,25 1-3 1-18 1,24 1-20 1,0 1,6 1-13 1,5 1,4 1,23 1-1 1-23 1,25 1-22 1,6 1,6 1-8 1,27 1-27 1-23 1,37 1-23 1,1 1-55 1,73 1-3 1,0 1,2 1,10 1-23 1,13 1-24 1,7 1,19 1-9 1-27 1,26 1-7 1-10 1,18 1-11 1-21 1,9 1,41 1-49 1,28 1,6 1,0 1-28 1,15 1,6 1,9 1-20 1-9 1,32 1,1L260,13l-1,0 -1-27 -1-2 -1,21 -1,10 -1-2 -1,25 -1-36 -1,13 -1,7 -1,5 -1-23 -1,0 -1,25 -1-33 -1,2 -1,13 -1,7 -1-4 -1-9 -1,3 -1-4 -1,16 -1-13 -1,16 -1-30 -1,6 -1,1 -1,6 -1-1 -1-3 -1,9 -1,12 -1-12 -1-38 -1,36 -1-63 -1,54 -1,8 -1,2 -1,0 -1-14 -1,6 -1-6 -1,9 -1,17 -1-25 -1,22 -1-20 -1,22 -1,4 -1-36 -1,21 -1,8 -1-18 -1,1 -1,9 -1-8 -1,0 -1-24 -1,47 -1-9 -1,1 -1-15 -1-4 -1,7 -1,4 -1-6 -1,4 -1,14 -1-17 -1,9 -1-22 -1,12 -1,6 -1-17 -1-1 -1,20 -1-5 -1-6 -1,23 -1-7 -1,17 -1-6 -1-34 -1-13 -1,12 -1,13 -1,4 -1-13 -1,6 -1,21 -1-32 -1,37 -1-11 -1-1 -1-8 -1,18 -1,1 -1-33 -1,28 -1-20 -1-5 -1,15 -1,23 -1-12 -1-28 -1-4 -1-3 -1,44 -1-35 -1,0 -1,12 -1-4 -1-32 -1,33 -1-11 -1,25 -1-21 -1-4 -1,11 -1-22 -1,37 -1,0 -1,16 -1-10 -1-57 -1,47 -1-4 -1-3 -1,9 -1-10 -1-10 -1,13 -1,1 -1-40 -1,60 -1-36 -1,7 -1,0 -1-14 -1,21 -1,9 -1-28 -1,48 -1-26 -1-30 -1,1 -1,5 -1,2 -1,27 -1-24 -1,8 -1-6 -1,29 -1-17 -1-11 -1,10 -1-12 -1,21 -1-39 -1,6 -1-4 -1,23 -1,13 -1,16 -1-22 -1-16 -1,10 -1-20 -1,21 -1,3 -1-8 -1-10 -1,6 -1,1 -1,7 -1,7 -1,15 -1-43 -1,31 -1-17 -1,5 -1-28 -1,19 -1,11 -1,0 -1,20 -1-51 -1,58 -1-16 -1,4 -1-5 -1,14 -1-14 -1,1 -1,1 -1-2 -1-27 -1,36 -1-16 -1-6 -1-4 -1-4 -1,24 -1,6 -1-12 -1-18 -1,35 -1-36 -1,33 -1-9 -1-4 -1-8 -1,4 -1-8 -1,39 -1-17 -1-39 -1,25 -1-57 -1,66 -1,6 -1-21 -1,8 -1,8 -1-37 -1,30 -1-11 -1,21 -1-10 -1,6 -1-3 -1-10 -1-8 -1,10 -1,14 -1,3 -1-38 -1,39 -1-30 -1,14 -1,1 -1-6 -1,11 -1,7 -1-14 -1,21 -1-13 -1-8 -1-4 -1,30 -1-27 -1,0 -1-40 -1,31 -1,38 -1-48 -1,28 -1-16Z" vector-effect="non-scaling-stroke"/>
<path transform="matrix(0.63192 -0.16615 0 -0.77187 144.866 169.388)" d="M-2,0.2l1,16 1-28 1,48 1-38 1-31 1,40 1,0 1,27 1-30 1,4 1,8 1,13 1-21 1,14 1-7 1-11 1,6 1-1 1-14 1,30 1-39 1,38 1-3 1-14 1-10 1,8 1,10 1,3 1-6 1,10 1-21 1,11 1-30 1,37 1-8 1-8 1,21 1-6 1-66 1,57 1-25 1,39 1,17 1-39 1,8 1-4 1,8 1,4 1,9 1-33 1,36 1-35 1,18 1,12 1-6 1-24 1,4 1,4 1,6 1,16 1-36 1,27 1,2 1-1 1-1 1,14 1-14 1,5 1-4 1,16 1-58 1,51 1-20 1,0 1-11 1-19 1,28 1-5 1,17 1-31 1,43 1-15 1-7 1-7 1-1 1-6 1,10 1,8 1-3 1-21 1,20 1-10 1,16 1,22 1-16 1-13 1-23 1,4 1-6 1,39 1-21 1,12 1-10 1,11 1,17 1-29 1,6 1-8 1,24 1-27 1-2 1-5 1-1 1,30 1,26 1-48 1,28 1-9 1-21 1,14 1,0 1-7 1,36 1-60 1,40 1-1 1-13 1,10 1,10 1-9 1,3 1,4 1-47 1,57 1,10 1-16 1,0 1-37 1,22 1-11 1,4 1,21 1-25 1,11 1-33 1,32 1,4 1-12 1,0 1,35 1-44 1,3 1,4 1,28 1,12 1-23 1-15 1,5 1,20 1-28 1,33 1-1 1-18 1,8 1,1 1,11 1-37 1,32 1-21 1-6 1,13 1-4 1-13 1-12 1,13 1,34 1,6 1-17 1,7 1-23 1,6 1,5 1-20 1,1 1,17 1-6 1-12 1,22 1-9 1,17 1-14 1-4 1,6 1-4 1-7 1,4 1,15 1-1 1,9 1-47 1,24 1,0 1,8 1-9 1-1 1,18 1-8 1-21 1,36 1-4 1-22 1,20 1-22 1,25 1-17 1-9 1,6 1-6 1,14 1,0 1-2 1-8 1-54 1,63 1-36 1,38 1,12 1-12 1-9 1,3 1,1 1-6 1-1 1-6 1,30 1-16 1,13 1-16 1,4 1-3 1,9 1,4 1-7 1-13 1-2 1,33 1-25 1,0 1,23 1-5 1-7 1-13 1,36 1-25 1,2 1-10 1-21 1,2 1,27 1,0L260,34l-1-22 -1,9 -1-18 -1-10 -1,37 -1-9 -1-32 -1,13 -1,13 -1,13 -1-42 -1,46 -1-47 -1,7 -1,6 -1,10 -1,1 -1-32 -1,31 -1-19 -1,8 -1,6 -1,5 -1-10 -1,29 -1-13 -1-11 -1-18 -1,19 -1-11 -1,39 -1-25 -1,20 -1-13 -1,1 -1,3 -1,1 -1,10 -1-28 -1-1 -1,13 -1-17 -1-5 -1,18 -1-13 -1,13 -1,26 -1-34 -1,9 -1,8 -1-57 -1,37 -1,14 -1-27 -1,4 -1,36 -1-5 -1-38 -1,31 -1-5 -1-3 -1-6 -1,25 -1-13 -1,19 -1-10 -1-29 -1-14 -1,34 -1,11 -1,3 -1-35 -1,21 -1-9 -1,15 -1-10 -1-27 -1,36 -1-20 -1-11 -1,15 -1,0 -1,18 -1-24 -1,11 -1,7 -1-10 -1-8 -1-7 -1,22 -1-11 -1-29 -1,40 -1,33 -1-33 -1,2 -1-24 -1,19 -1-6 -1,26 -1,5 -1-17 -1,3 -1-9 -1-18 -1,26 -1,14 -1-35 -1,13 -1-5 -1,15 -1-2 -1-9 -1-10 -1,23 -1-32 -1-1 -1,21 -1-28 -1,20 -1-2 -1-9 -1,8 -1,29 -1,2 -1-32 -1-6 -1,34 -1-3 -1-16 -1,6 -1,4 -1-34 -1,23 -1,8 -1-7 -1,4 -1,8 -1-26 -1,15 -1-13 -1,21 -1-12 -1,4 -1-33 -1,55 -1-13 -1-19 -1,6 -1-5 -1,6 -1,3 -1,3 -1-25 -1,19 -1-13 -1,34 -1-4 -1-13 -1-4 -1,28 -1-39 -1,25 -1-23 -1,41 -1-28 -1,19 -1-14 -1,0 -1-6 -1,6 -1,24 -1-29 -1,6 -1,12 -1,9 -1-35 -1,7 -1-7 -1,8 -1-7 -1-6 -1,18 -1-8 -1,1 -1,4 -1,13 -1-15 -1-1 -1,1 -1-3 -1,14 -1-18 -1,26 -1-5 -1-10 -1,16 -1-41 -1,15 -1,14 -1,0 -1-52 -1,41 -1,3 -1-15 -1,19 -1,4 -1-18 -1,34 -1-15 -1-4 -1-20 -1,28 -1-10 -1,25 -1-32 -1-6 -1-10 -1,16 -1,31 -1-30 -1,2 -1,15 -1-15 -1,24 -1-30 -1,21 -1-11 -1,1 -1,2 -1,1 -1,3 -1,2 -1,4 -1-15 -1,14 -1-10 -1,9 -1-31 -1,13 -1,25 -1-7 -1,1 -1-14 -1-15 -1,19 -1-23 -1-4 -1,13 -1,7 -1,10 -1-27 -1,24 -1-8 -1-2 -1-1 -1-31 -1,45 -1-23 -1,16Z" vector-effect="non-scaling-stroke"/>
<path transform="matrix(0.63192 -0.16615 0 -0.77187 146.128 169.954)" d="M-2,9.2l1-16 1,23 1-45 1,31 1,1 1,2 1,8 1-24 1,27 1-10 1-7 1-13 1,4 1,23 1-19 1,15 1,14 1-1 1,7 1-25 1-13 1,31 1-9 1,10 1-14 1,15 1-4 1-2 1-3 1-1 1-2 1-1 1,11 1-21 1,30 1-24 1,15 1-15 1-2 1,30 1-31 1-16 1,10 1,6 1,32 1-25 1,10 1-28 1,20 1,4 1,15 1-34 1,18 1-4 1-19 1,15 1-3 1-41 1,52 1,0 1-14 1-15 1,41 1-16 1,10 1,5 1-26 1,18 1-14 1,3 1-1 1,1 1,15 1-13 1-4 1-1 1,8 1-18 1,6 1,7 1-8 1,7 1-7 1,35 1-9 1-12 1-6 1,29 1-24 1-6 1,6 1,0 1,14 1-19 1,28 1-41 1,23 1-25 1,39 1-28 1,4 1,13 1,4 1-34 1,13 1-19 1,25 1-3 1-3 1-6 1,5 1-6 1,19 1,13 1-55 1,33 1-4 1,12 1-21 1,13 1-15 1,26 1-8 1-4 1,7 1-8 1-23 1,34 1-4 1-6 1,16 1,3 1-34 1,6 1,32 1-2 1-29 1-8 1,9 1,2 1-20 1,28 1-21 1,1 1,32 1-23 1,10 1,9 1,2 1-15 1,5 1-13 1,35 1-14 1-26 1,18 1,9 1-3 1,17 1-5 1-26 1,6 1-19 1,24 1-2 1,33 1-33 1-40 1,29 1,11 1-22 1,7 1,8 1,10 1-7 1-11 1,24 1-18 1,0 1-15 1,11 1,20 1-36 1,27 1,10 1-15 1,9 1-21 1,35 1-3 1-11 1-34 1,14 1,29 1,10 1-19 1,13 1-25 1,6 1,3 1,5 1-31 1,38 1,5 1-36 1-4 1,27 1-14 1-37 1,57 1-8 1-9 1,34 1-26 1-13 1,13 1-18 1,5 1,17 1-13 1,1 1,28 1-10 1-1 1-3 1-1 1,13 1-20 1,25 1-39 1,11 1-19 1,18 1,11 1,13 1-29 1,10 1-5 1-6 1-8 1,19 1-31 1,32 1-1 1-10 1-6 1-7 1,47 1-46 1,42 1-13 1-13 1-13 1,32 1,9 1-37 1,10 1,18 1-9 1,22L260,10l-1-12 -1,1 -1,24 -1-1 -1-33 -1,28 -1-22 -1,17 -1,24 -1-27 -1,3 -1,20 -1-30 -1-6 -1,26 -1-25 -1,24 -1-20 -1,25 -1-16 -1,1 -1-16 -1,37 -1-51 -1,26 -1,9 -1-25 -1-2 -1,28 -1-54 -1,49 -1-9 -1-14 -1-3 -1-2 -1,19 -1-6 -1,24 -1-54 -1,24 -1,29 -1-27 -1,7 -1,21 -1-7 -1,5 -1-6 -1-32 -1,36 -1,6 -1-14 -1,2 -1-15 -1,6 -1-12 -1,19 -1,12 -1-25 -1,5 -1,25 -1-14 -1-24 -1,26 -1,17 -1-13 -1-20 -1,10 -1,29 -1-39 -1,23 -1-37 -1,1 -1,20 -1-11 -1,29 -1-5 -1,4 -1,1 -1-46 -1,20 -1,33 -1-7 -1-31 -1,12 -1-7 -1-2 -1,41 -1-37 -1-6 -1,25 -1-14 -1,13 -1-42 -1,44 -1-21 -1,18 -1-55 -1,48 -1-13 -1,20 -1-10 -1-40 -1,45 -1,1 -1,4 -1-30 -1,32 -1-14 -1-11 -1,16 -1,1 -1,17 -1-21 -1,18 -1,0 -1-15 -1,12 -1-9 -1,9 -1-9 -1-16 -1,5 -1,23 -1-54 -1,43 -1-20 -1,3 -1-4 -1,23 -1,0 -1-8 -1-15 -1-7 -1,4 -1,13 -1-4 -1-14 -1,30 -1-46 -1,41 -1-9 -1,3 -1-1 -1-15 -1-10 -1,6 -1,35 -1-17 -1,18 -1,9 -1-37 -1,32 -1-16 -1-12 -1,4 -1,3 -1,7 -1,2 -1-18 -1-6 -1,26 -1-9 -1,0 -1-3 -1,1 -1,17 -1-52 -1,37 -1,3 -1-1 -1-23 -1,33 -1-5 -1,16 -1-17 -1,24 -1-24 -1,6 -1-11 -1-6 -1,1 -1,2 -1,34 -1-36 -1-5 -1-4 -1,19 -1-10 -1,23 -1-18 -1-10 -1,24 -1-8 -1-18 -1,14 -1-9 -1,14 -1,18 -1-21 -1-13 -1,17 -1-4 -1-15 -1,18 -1-18 -1,0 -1-4 -1,1 -1,4 -1-31 -1,58 -1-11 -1-8 -1-1 -1,20 -1-22 -1-3 -1,28 -1-21 -1-17 -1,29 -1-27 -1,20 -1-2 -1-5 -1-24 -1,23 -1,3 -1,1 -1-35 -1,35 -1,3 -1-14 -1,19 -1,4 -1-15 -1,15 -1,19 -1-28 -1,8 -1,8 -1-11 -1-12 -1,17 -1-32 -1-9 -1,31 -1-11 -1,9 -1,10 -1,1 -1-16 -1-12 -1,19 -1,25 -1-34 -1,7 -1,2 -1,0 -1,12Z" vector-effect="non-scaling-stroke"/>
<path transform="matrix(0.63192 -0.16615 0 -0.77187 147.390 170.520)" d="M-2,21.2l1-12 1,0 1-2 1-7 1,34 1-25 1-19 1,12 1,16 1-1 1-10 1-9 1,11 1-31 1,9 1,32 1-17 1,12 1,11 1-8 1-8 1,28 1-19 1-15 1,15 1-4 1-19 1,14 1-3 1-35 1,35 1-1 1-3 1-23 1,24 1,5 1,2 1-20 1,27 1-29 1,17 1,21 1-28 1,3 1,22 1-20 1,1 1,8 1,11 1-58 1,31 1-4 1-1 1,4 1,0 1,18 1-18 1,15 1,4 1-17 1,13 1,21 1-18 1-14 1,9 1-14 1,18 1,8 1-24 1,10 1,18 1-23 1,10 1-19 1,4 1,5 1,36 1-34 1-2 1-1 1,6 1,11 1-6 1,24 1-24 1,17 1-16 1,5 1-33 1,23 1,1 1-3 1-37 1,52 1-17 1-1 1,3 1,0 1,9 1-26 1,6 1,18 1-2 1-7 1-3 1-4 1,12 1,16 1-32 1,37 1-9 1-18 1,17 1-35 1-6 1,10 1,15 1,1 1-3 1,9 1-41 1,46 1-30 1,14 1,4 1-13 1-4 1,7 1,15 1,8 1,0 1-23 1,4 1-3 1,20 1-43 1,54 1-23 1-5 1,16 1,9 1-9 1,9 1-12 1,15 1,0 1-18 1,21 1-17 1-1 1-16 1,11 1,14 1-32 1,30 1-4 1-1 1-45 1,40 1,10 1-20 1,13 1-48 1,55 1-18 1,21 1-44 1,42 1-13 1,14 1-25 1,6 1,37 1-41 1,2 1,7 1-12 1,31 1,7 1-33 1-20 1,46 1-1 1-4 1,5 1-29 1,11 1-20 1-1 1,37 1-23 1,39 1-29 1-10 1,20 1,13 1-17 1-26 1,24 1,14 1-25 1-5 1,25 1-12 1-19 1,12 1-6 1,15 1-2 1,14 1-6 1-36 1,32 1,6 1-5 1,7 1-21 1-7 1,27 1-29 1-24 1,54 1-24 1,6 1-19 1,2 1,3 1,14 1,9 1-49 1,54 1-28 1,2 1,25 1-9 1-26 1,51 1-37 1,16 1-1 1,16 1-25 1,20 1-24 1,25 1-26 1,6 1,30 1-20 1-3 1,27 1-24 1-17 1,22 1-28 1,33 1,1 1-24 1-1 1,12L260,24l-1-17 -1-13 -1,18 -1,16 -1-19 -1,18 -1-37 -1-1 -1,39 -1-27 -1-11 -1,17 -1-53 -1,52 -1,11 -1-30 -1,32 -1-26 -1,35 -1-27 -1,8 -1-8 -1,4 -1,22 -1-17 -1-22 -1,38 -1-20 -1,7 -1,8 -1-48 -1,71 -1-26 -1-41 -1,36 -1,2 -1-9 -1-4 -1,15 -1,6 -1,11 -1-51 -1,31 -1-5 -1-3 -1-8 -1-1 -1-3 -1,19 -1-15 -1,26 -1-6 -1-5 -1,17 -1-7 -1-35 -1,54 -1-25 -1-13 -1,23 -1-9 -1,13 -1-17 -1,15 -1-41 -1,17 -1-3 -1,15 -1-15 -1,0 -1-10 -1,2 -1,1 -1,10 -1,2 -1,12 -1,22 -1-20 -1-15 -1,5 -1-17 -1,5 -1,17 -1,1 -1-16 -1-1 -1,3 -1-12 -1,16 -1,8 -1-22 -1,32 -1-38 -1-14 -1,38 -1-14 -1,41 -1-29 -1,14 -1-13 -1,4 -1-16 -1-15 -1,26 -1-4 -1,5 -1-19 -1,37 -1,13 -1-90 -1,47 -1,29 -1-45 -1,45 -1-24 -1,16 -1,11 -1-13 -1-24 -1,2 -1-11 -1,29 -1-4 -1-16 -1,13 -1-22 -1,17 -1-24 -1,25 -1-3 -1,17 -1-5 -1,0 -1,7 -1-15 -1,14 -1-20 -1,17 -1,24 -1-11 -1-39 -1,1 -1,5 -1,16 -1-14 -1,33 -1-20 -1-23 -1,18 -1-16 -1,32 -1-17 -1-7 -1,28 -1-17 -1,18 -1,8 -1-27 -1-1 -1-13 -1,17 -1-31 -1-12 -1,39 -1-17 -1,19 -1,21 -1,0 -1-1 -1-33 -1,37 -1-14 -1,26 -1-86 -1,40 -1,19 -1-27 -1,20 -1,12 -1,3 -1-4 -1-30 -1,51 -1-75 -1,62 -1-11 -1-13 -1-37 -1,32 -1,14 -1-10 -1-27 -1,39 -1,1 -1-18 -1,17 -1,0 -1-23 -1-7 -1,27 -1,0 -1-26 -1,3 -1,14 -1,27 -1-27 -1,2 -1,15 -1-22 -1-16 -1,52 -1-21 -1-3 -1-31 -1,6 -1-11 -1,27 -1-14 -1-1 -1,11 -1,11 -1-21 -1,9 -1,17 -1,0 -1,6 -1-8 -1-6 -1-17 -1,37 -1-33 -1,23 -1,9 -1-7 -1,25 -1-23 -1-39 -1,25 -1,3 -1,23 -1-5 -1-42 -1,27 -1,0 -1,17 -1-18 -1-14 -1-40 -1,54 -1,6 -1-17 -1,23 -1-42 -1,38 -1-11 -1,12 -1-9 -1-16 -1,17 -1-33Z" vector-effect="non-scaling-stroke"/>
<path transform="matrix(0.63192 -0.16615 0 -0.77187 148.652 171.086)" d="M-2,-20.8l1,33 1-17 1,16 1,9 1-12 1,11 1-38 1,42 1-23 1,17 1-6 1-54 1,40 1,14 1,18 1-17 1,0 1-27 1,42 1,5 1-23 1-3 1-25 1,39 1,23 1-25 1,7 1-9 1-23 1,33 1-37 1,17 1,6 1,8 1-6 1,0 1-17 1-9 1,21 1-11 1-11 1,1 1,14 1-27 1,11 1-6 1,31 1,3 1,21 1-52 1,16 1,22 1-15 1-2 1,27 1-27 1-14 1-3 1,26 1,0 1-27 1,7 1,23 1,0 1-17 1,18 1-1 1-39 1,27 1,10 1-14 1-32 1,37 1,13 1,11 1-62 1,75 1-51 1,30 1,4 1-3 1-12 1-20 1,27 1-19 1-40 1,86 1-26 1,14 1-37 1,33 1,1 1,0 1-21 1-19 1,17 1-39 1,12 1,31 1-17 1,13 1,1 1,27 1-8 1-18 1,17 1-28 1,7 1,17 1-32 1,16 1-18 1,23 1,20 1-33 1,14 1-16 1-5 1-1 1,39 1,11 1-24 1-17 1,20 1-14 1,15 1-7 1,0 1,5 1-17 1,3 1-25 1,24 1-17 1,22 1-13 1,16 1,4 1-29 1,11 1-2 1,24 1,13 1-11 1-16 1,24 1-45 1,45 1-29 1-47 1,90 1-13 1-37 1,19 1-5 1,4 1-26 1,15 1,16 1-4 1,13 1-14 1,29 1-41 1,14 1-38 1,14 1,38 1-32 1,22 1-8 1-16 1,12 1-3 1,1 1,16 1-1 1-17 1-5 1,17 1-5 1,15 1,20 1-22 1-12 1-2 1-10 1-1 1-2 1,10 1,0 1,15 1-15 1,3 1-17 1,41 1-15 1,17 1-13 1,9 1-23 1,13 1,25 1-54 1,35 1,7 1-17 1,5 1,6 1-26 1,15 1-19 1,3 1,1 1,8 1,3 1,5 1-31 1,51 1-11 1-6 1-15 1,4 1,9 1-2 1-36 1,41 1,26 1-71 1,48 1-8 1-7 1,20 1-38 1,22 1,17 1-22 1-4 1,8 1-8 1,27 1-35 1,26 1-32 1,30 1-11 1-52 1,53 1-17 1,11 1,27 1-39 1,1 1,37 1-18 1,19 1-16 1-18 1,13 1,17L260,29l-1-22 -1-7 -1,10 -1-1 -1-4 -1,1 -1,15 -1,9 -1-15 -1,9 -1-29 -1,33 -1-44 -1,5 -1-6 -1,27 -1,18 -1-6 -1-9 -1,13 -1-11 -1-1 -1-14 -1-1 -1,13 -1,12 -1-5 -1-2 -1-11 -1,1 -1,19 -1-29 -1,46 -1-37 -1,6 -1-14 -1,20 -1-8 -1-17 -1,8 -1,17 -1-21 -1,16 -1-2 -1-23 -1,13 -1,33 -1-44 -1,11 -1,22 -1-13 -1-18 -1,9 -1-3 -1-39 -1,53 -1,10 -1-2 -1-10 -1,6 -1,11 -1-34 -1,10 -1,17 -1-18 -1,10 -1-6 -1-24 -1,34 -1,10 -1-3 -1,1 -1-1 -1-7 -1-5 -1-8 -1-5 -1,5 -1,21 -1-8 -1-34 -1,28 -1,15 -1-37 -1-5 -1,12 -1-13 -1,25 -1,24 -1-15 -1-12 -1,9 -1-18 -1,10 -1,1 -1,15 -1-2 -1-12 -1-13 -1-17 -1,25 -1-2 -1,10 -1-25 -1,33 -1-13 -1,1 -1,20 -1-3 -1,0 -1-3 -1-20 -1,19 -1-3 -1-6 -1-10 -1-5 -1,11 -1-32 -1,32 -1,1 -1,0 -1-12 -1,7 -1,8 -1-7 -1-37 -1,63 -1-40 -1-14 -1,29 -1-5 -1,15 -1-6 -1-6 -1-10 -1,16 -1,7 -1-22 -1-14 -1,16 -1,6 -1,20 -1-8 -1-8 -1,1 -1-11 -1,43 -1-29 -1-2 -1-14 -1,15 -1-17 -1,8 -1,17 -1-4 -1-3 -1,16 -1,14 -1-17 -1-14 -1,4 -1,19 -1-35 -1-10 -1,30 -1,6 -1-15 -1-36 -1,26 -1-33 -1,32 -1,27 -1-26 -1,13 -1-12 -1,3 -1-5 -1,12 -1,17 -1-34 -1,27 -1-15 -1,3 -1,2 -1,4 -1,2 -1-2 -1,9 -1-16 -1-11 -1,13 -1-19 -1,13 -1,1 -1,15 -1-17 -1,5 -1-5 -1,5 -1,5 -1,8 -1,21 -1-28 -1-28 -1,54 -1-3 -1-36 -1,14 -1,6 -1-20 -1-4 -1,16 -1-1 -1-12 -1,11 -1-41 -1,56 -1-18 -1,6 -1-1 -1-6 -1,0 -1-14 -1-30 -1,67 -1-47 -1,26 -1-13 -1,3 -1,27 -1-4 -1-30 -1,34 -1,9 -1-18 -1-16 -1,19 -1-52 -1,32 -1-16 -1,9 -1,12 -1,17 -1,0 -1-22 -1-2 -1,26 -1-19 -1-8 -1-4 -1,33 -1,16 -1-30 -1-24 -1,19 -1-8 -1,7 -1,16 -1-16Z" vector-effect="non-scaling-stroke"/>
<path transform="matrix(0.63192 -0.16615 0 -0.77187 149.914 171.652)" d="M-2,4.2l1,16 1-16 1-7 1,8 1-19 1,24 1,30 1-16 1-33 1,4 1,8 1,19 1-26 1,2 1,22 1,0 1-17 1-12 1-9 1,16 1-32 1,52 1-19 1,16 1,18 1-9 1-34 1,30 1,4 1-27 1-3 1,13 1-26 1,47 1-67 1,30 1,14 1,0 1,6 1,1 1-6 1,18 1-56 1,41 1-11 1,12 1,1 1-16 1,4 1,20 1-6 1-14 1,36 1,3 1-54 1,28 1,28 1-21 1-8 1-5 1-5 1,5 1-5 1,17 1-15 1-1 1-13 1,19 1-13 1,11 1,16 1-9 1,2 1-2 1-4 1-2 1-3 1,15 1-27 1,34 1-17 1-12 1,5 1-3 1,12 1-13 1,26 1-27 1-32 1,33 1-26 1,36 1,15 1-6 1-30 1,10 1,35 1-19 1-4 1,14 1,17 1-14 1-16 1,3 1,4 1-17 1-8 1,17 1-15 1,14 1,2 1,29 1-43 1,11 1-1 1,8 1,8 1-20 1-6 1-16 1,14 1,22 1-7 1-16 1,10 1,6 1,6 1-15 1,5 1-29 1,14 1,40 1-63 1,37 1,7 1-8 1-7 1,12 1,0 1-1 1-32 1,32 1-11 1,5 1,10 1,6 1,3 1-19 1,20 1,3 1,0 1,3 1-20 1-1 1,13 1-33 1,25 1-10 1,2 1-25 1,17 1,13 1,12 1,2 1-15 1-1 1-10 1,18 1-9 1,12 1,15 1-24 1-25 1,13 1-12 1,5 1,37 1-15 1-28 1,34 1,8 1-21 1-5 1,5 1,8 1,5 1,7 1,1 1-1 1,3 1-10 1-34 1,24 1,6 1-10 1,18 1-17 1-10 1,34 1-11 1-6 1,10 1,2 1-10 1-53 1,39 1,3 1-9 1,18 1,13 1-22 1-11 1,44 1-33 1-13 1,23 1,2 1-16 1,21 1-17 1-8 1,17 1,8 1-20 1,14 1-6 1,37 1-46 1,29 1-19 1-1 1,11 1,2 1,5 1-12 1-13 1,1 1,14 1,1 1,11 1-13 1,9 1,6 1-18 1-27 1,6 1-5 1,44 1-33 1,29 1-9 1,15 1-9 1-15 1-1 1,4 1,1 1-10 1,7 1,22L260,-29l-1,59 -1-23 -1,12 -1-15 -1,11 -1-22 -1,16 -1,1 -1,21 -1-16 -1-8 -1-4 -1,8 -1-26 -1,31 -1-25 -1,37 -1-35 -1-23 -1,21 -1-14 -1,7 -1,27 -1-6 -1-8 -1,0 -1,15 -1-47 -1,39 -1-29 -1,29 -1,4 -1,0 -1,5 -1-11 -1-4 -1,22 -1,11 -1-19 -1,22 -1-32 -1,11 -1-1 -1-17 -1,19 -1-12 -1,19 -1-27 -1,15 -1-4 -1-1 -1-1 -1,19 -1-7 -1-9 -1,2 -1,13 -1-15 -1,15 -1-7 -1-7 -1-26 -1,13 -1,0 -1,18 -1-18 -1,10 -1,16 -1-29 -1,25 -1-52 -1,57 -1-15 -1,10 -1-2 -1-7 -1,10 -1,1 -1-2 -1-23 -1-21 -1,58 -1,2 -1-29 -1,15 -1-23 -1,42 -1-22 -1,8 -1-4 -1-9 -1,12 -1-20 -1-3 -1,9 -1,0 -1-7 -1-1 -1,7 -1,5 -1-14 -1,19 -1-4 -1-11 -1,21 -1-3 -1-17 -1-17 -1,20 -1,18 -1-34 -1,8 -1,25 -1-38 -1,38 -1-18 -1-8 -1,4 -1,20 -1-13 -1,1 -1,8 -1,2 -1-51 -1,32 -1,14 -1-6 -1,9 -1-6 -1-13 -1,12 -1,16 -1-19 -1,15 -1-36 -1,42 -1-19 -1,0 -1,8 -1-12 -1,29 -1,3 -1-14 -1-32 -1,19 -1-19 -1,25 -1-12 -1-11 -1,26 -1-12 -1-18 -1,17 -1,3 -1-5 -1,8 -1-11 -1,16 -1-3 -1-8 -1-13 -1,38 -1-21 -1,1 -1,7 -1,17 -1-16 -1-29 -1,28 -1-6 -1,13 -1-16 -1-1 -1-4 -1-27 -1,24 -1,23 -1-12 -1-6 -1-6 -1,18 -1,21 -1-34 -1-6 -1,21 -1-19 -1,22 -1-13 -1,17 -1-31 -1-7 -1,10 -1,17 -1-22 -1,12 -1,9 -1,3 -1-17 -1-25 -1,29 -1,4 -1-7 -1-19 -1-15 -1,33 -1-8 -1-1 -1,15 -1-6 -1-12 -1,29 -1-23 -1,6 -1-9 -1,48 -1-20 -1-13 -1-10 -1,18 -1-17 -1,11 -1-12 -1,9 -1-2 -1-26 -1,10 -1,21 -1,20 -1-44 -1,25 -1-6 -1,1 -1-22 -1,30 -1,0 -1,0 -1,11 -1-16 -1,8 -1-7 -1,3 -1-6 -1,11 -1-46 -1,27 -1,15 -1-25 -1,5 -1,3 -1-14 -1,23 -1,23 -1-16 -1,0 -1-14 -1-16 -1,20 -1-33 -1,24 -1,22Z" vector-effect="non-scaling-stroke"/>
<path transform="matrix(0.63192 -0.16615 0 -0.77187 151.176 172.218)" d="M-2,16.2l1-22 1-24 1,33 1-20 1,16 1,14 1,0 1,16 1-23 1-23 1,14 1-3 1-5 1,25 1-15 1-27 1,46 1-11 1,6 1-3 1,7 1-8 1,16 1-11 1,0 1,0 1-30 1,22 1-1 1,6 1-25 1,44 1-20 1-21 1-10 1,26 1,2 1-9 1,12 1-11 1,17 1-18 1,10 1,13 1,20 1-48 1,9 1-6 1,23 1-29 1,12 1,6 1-15 1,1 1,8 1-33 1,15 1,19 1,7 1-4 1-29 1,25 1,17 1-3 1-9 1-12 1,22 1-17 1-10 1,7 1,31 1-17 1,13 1-22 1,19 1-21 1,6 1,34 1-21 1-18 1,6 1,6 1,12 1-23 1-24 1,27 1,4 1,1 1,16 1-13 1,6 1-28 1,29 1,16 1-17 1-7 1-1 1,21 1-38 1,13 1,8 1,3 1-16 1,11 1-8 1,5 1-3 1-17 1,18 1,12 1-26 1,11 1,12 1-25 1,19 1-19 1,32 1,14 1-3 1-29 1,12 1-8 1,0 1,19 1-42 1,36 1-15 1,19 1-16 1-12 1,13 1,6 1-9 1,6 1-14 1-32 1,51 1-2 1-8 1-1 1,13 1-20 1-4 1,8 1,18 1-38 1,38 1-25 1-8 1,34 1-18 1-20 1,17 1,17 1,3 1-21 1,11 1,4 1-19 1,14 1-5 1-7 1,1 1,7 1,0 1-9 1,3 1,20 1-12 1,9 1,4 1-8 1,22 1-42 1,23 1-15 1,29 1-2 1-58 1,21 1,23 1,2 1-1 1-10 1,7 1,2 1-10 1,15 1-57 1,52 1-25 1,29 1-16 1-10 1,18 1-18 1,0 1-13 1,26 1,7 1,7 1-15 1,15 1-13 1-2 1,9 1,7 1-19 1,1 1,1 1,4 1-15 1,27 1-19 1,12 1-19 1,17 1,1 1-11 1,32 1-22 1,19 1-11 1-22 1,4 1,11 1-5 1,0 1-4 1-29 1,29 1-39 1,47 1-15 1,0 1,8 1,6 1-27 1-7 1,14 1-21 1,23 1,35 1-37 1,25 1-31 1,26 1-8 1,4 1,8 1,16 1-21 1-1 1-16 1,22 1-11 1,15 1-12 1,23 1-59L260,-2l-1,5 -1,14 -1-36 -1,45 -1-10 -1,0 -1-16 -1-2 -1-26 -1,55 -1-27 -1,9 -1-11 -1,30 -1-19 -1,2 -1,9 -1-15 -1-15 -1,27 -1-2 -1-11 -1,3 -1,30 -1-35 -1-12 -1,16 -1-5 -1,8 -1-5 -1,3 -1,0 -1,20 -1-29 -1,19 -1,8 -1,8 -1-1 -1-25 -1-29 -1,21 -1,1 -1,7 -1-4 -1,3 -1,5 -1-29 -1,30 -1-41 -1,38 -1-9 -1-12 -1,6 -1-18 -1,32 -1,25 -1-11 -1-11 -1,13 -1-61 -1,40 -1-4 -1,4 -1-6 -1,15 -1-34 -1,25 -1,14 -1-4 -1-8 -1,11 -1-46 -1,47 -1-2 -1,15 -1,3 -1-33 -1,16 -1-2 -1,10 -1-22 -1,2 -1,30 -1-17 -1-11 -1,14 -1,20 -1-38 -1-11 -1-11 -1,37 -1-12 -1-2 -1-6 -1,10 -1,16 -1-31 -1,10 -1-8 -1,20 -1-11 -1,13 -1-6 -1-4 -1-10 -1,20 -1-32 -1-5 -1,16 -1,18 -1-4 -1-17 -1,14 -1,22 -1-18 -1-2 -1,26 -1,2 -1-12 -1-23 -1-3 -1,22 -1-17 -1,5 -1-15 -1,18 -1,5 -1-19 -1,13 -1-15 -1-1 -1,28 -1-18 -1,17 -1-20 -1,13 -1,0 -1,7 -1-39 -1,16 -1,14 -1-18 -1-12 -1,39 -1-3 -1-13 -1,0 -1-12 -1,34 -1-20 -1,18 -1-15 -1-3 -1-2 -1,28 -1-13 -1-13 -1-7 -1,18 -1-7 -1,1 -1,11 -1,7 -1-13 -1-2 -1-9 -1-54 -1,66 -1-11 -1-8 -1,14 -1,6 -1-16 -1-39 -1,30 -1,5 -1,3 -1-24 -1,34 -1-5 -1,8 -1-36 -1,13 -1,20 -1-9 -1,10 -1,9 -1-7 -1,2 -1-10 -1-11 -1,25 -1-12 -1,4 -1,0 -1-16 -1-10 -1,17 -1,2 -1,23 -1,1 -1-19 -1-9 -1,22 -1-26 -1-12 -1-4 -1,30 -1-55 -1,49 -1,14 -1-39 -1,30 -1,10 -1,2 -1-8 -1-33 -1,28 -1,3 -1,3 -1-12 -1-6 -1,15 -1-2 -1,0 -1,3 -1-35 -1,36 -1-14 -1,5 -1,3 -1,2 -1-23 -1,21 -1-9 -1,4 -1-12 -1,10 -1,0 -1,3 -1,4 -1,0 -1-40 -1,34 -1-4 -1-13 -1,22 -1-23 -1,22 -1,4 -1-11 -1,4 -1-11 -1,4 -1,8 -1,6 -1-5 -1,10 -1-25 -1,16Z" vector-effect="non-scaling-stroke"/>
<path transform="matrix(0.63192 -0.16615 0 -0.77187 152.438 172.784)" d="M-2,8.2l1-16 1,25 1-10 1,5 1-6 1-8 1-4 1,11 1-4 1,11 1-4 1-22 1,23 1-22 1,13 1,4 1-34 1,40 1,0 1-4 1-3 1,0 1-10 1,12 1-4 1,9 1-21 1,23 1-2 1-3 1-5 1,14 1-36 1,35 1-3 1,0 1,2 1-15 1,6 1,12 1-3 1-3 1-28 1,33 1,8 1-2 1-10 1-30 1,39 1-14 1-49 1,55 1-30 1,4 1,12 1,26 1-22 1,9 1,19 1-1 1-23 1-2 1-17 1,10 1,16 1,0 1-4 1,12 1-25 1,11 1,10 1-2 1,7 1-9 1-10 1,9 1-20 1-13 1,36 1-8 1,5 1-34 1,24 1-3 1-5 1-30 1,39 1,16 1-6 1-14 1,8 1,11 1-66 1,54 1,9 1,2 1,13 1-7 1-11 1-1 1,7 1-18 1,7 1,13 1,13 1-28 1,2 1,3 1,15 1-18 1,20 1-34 1,12 1,0 1,13 1,3 1-39 1,12 1,18 1-14 1-16 1,39 1-7 1,0 1-13 1,20 1-17 1,18 1-28 1,1 1,15 1-13 1,19 1-5 1-18 1,15 1-5 1,17 1-22 1,3 1,23 1,12 1-2 1-26 1,2 1,18 1-22 1-14 1,17 1,4 1-18 1-16 1,5 1,32 1-20 1,10 1,4 1,6 1-13 1,11 1-20 1,8 1-10 1,31 1-16 1-10 1,6 1,2 1,12 1-37 1,11 1,11 1,38 1-20 1-14 1,11 1,17 1-30 1-2 1,22 1-10 1,2 1-16 1,33 1-3 1-15 1,2 1-47 1,46 1-11 1,8 1,4 1-14 1-25 1,34 1-15 1,6 1-4 1,4 1-40 1,61 1-13 1,11 1,11 1-25 1-32 1,18 1-6 1,12 1,9 1-38 1,41 1-30 1,29 1-5 1-3 1,4 1-7 1-1 1-21 1,29 1,25 1,1 1-8 1-8 1-19 1,29 1-20 1,0 1-3 1,5 1-8 1,5 1-16 1,12 1,35 1-30 1-3 1,11 1,2 1-27 1,15 1,15 1-9 1-2 1,19 1-30 1,11 1-9 1,27 1-55 1,26 1,2 1,16 1,0 1,10 1-45 1,36 1-14 1-5L260,-3l-1,2 -1,8 -1-11 -1,10 -1,26 -1-7 -1-18 -1,0 -1-17 -1,16 -1,0 -1,1 -1-5 -1-29 -1,21 -1,8 -1,16 -1,8 -1-34 -1-10 -1,22 -1-13 -1,30 -1-30 -1,23 -1-64 -1,76 -1-23 -1-18 -1,8 -1,25 -1-1 -1-31 -1,6 -1-11 -1,10 -1,41 -1-24 -1,2 -1-3 -1,4 -1-8 -1,29 -1-57 -1,13 -1,5 -1,20 -1-17 -1,19 -1-18 -1-2 -1,18 -1-23 -1,7 -1-7 -1-8 -1,40 -1-15 -1-31 -1,15 -1,25 -1-39 -1,30 -1-13 -1,26 -1-12 -1-2 -1-16 -1,17 -1,8 -1-10 -1,10 -1-19 -1,8 -1,9 -1-17 -1,31 -1-27 -1,19 -1-27 -1,6 -1,10 -1-26 -1,37 -1-12 -1-20 -1,5 -1,11 -1-8 -1,5 -1,7 -1-6 -1-1 -1-9 -1,21 -1,10 -1-35 -1,34 -1-19 -1-23 -1,31 -1-12 -1,30 -1-23 -1,35 -1-50 -1,13 -1-1 -1,23 -1-10 -1,10 -1-52 -1,41 -1,4 -1-25 -1-5 -1,22 -1,11 -1-19 -1,11 -1-3 -1-14 -1-19 -1,44 -1-11 -1-5 -1,13 -1-35 -1,3 -1,17 -1-1 -1,4 -1,8 -1-13 -1,21 -1,0 -1,0 -1-33 -1,20 -1-20 -1,16 -1,2 -1-18 -1,7 -1,14 -1,27 -1-21 -1-18 -1,4 -1-24 -1,28 -1,11 -1,2 -1-35 -1-12 -1,41 -1-35 -1,30 -1,7 -1,17 -1-18 -1-8 -1,4 -1-3 -1-4 -1,8 -1-1 -1-5 -1,6 -1-11 -1-5 -1-2 -1,27 -1,7 -1-19 -1-23 -1,14 -1,6 -1,28 -1-18 -1-4 -1,17 -1-6 -1-28 -1,30 -1-34 -1-3 -1,25 -1-21 -1,14 -1-1 -1,30 -1-20 -1-22 -1,15 -1,3 -1-11 -1,4 -1,25 -1-13 -1-19 -1,23 -1-24 -1,9 -1-24 -1,29 -1-4 -1-1 -1-2 -1,17 -1-12 -1-17 -1,13 -1,5 -1,6 -1,15 -1-31 -1,1 -1,8 -1,8 -1,12 -1-19 -1-3 -1-1 -1,6 -1-1 -1,7 -1,4 -1,0 -1,8 -1-53 -1,27 -1-2 -1,28 -1-21 -1,5 -1,11 -1-18 -1-1 -1-13 -1,18 -1-2 -1,4 -1-56 -1,58 -1,5 -1-17 -1,26 -1,3 -1-44 -1,21 -1-1 -1-19 -1,35 -1-25 -1,17 -1-23 -1,19 -1,5 -1,3Z" vector-effect="non-scaling-stroke"/>
<path transform="matrix(0.63192 -0.16615 0 -0.77187 153.700 173.350)" d="M-2,19.2l1-3 1-5 1-19 1,23 1-17 1,25 1-35 1,19 1,1 1-21 1,44 1-3 1-26 1,17 1-5 1-58 1,56 1-4 1,2 1-18 1,13 1,1 1,18 1-11 1-5 1,21 1-28 1,2 1-27 1,53 1-8 1,0 1-4 1-7 1,1 1-6 1,1 1,3 1,19 1-12 1-8 1-8 1-1 1,31 1-15 1-6 1-5 1-13 1,17 1,12 1-17 1,2 1,1 1,4 1-29 1,24 1-9 1,24 1-23 1,19 1,13 1-25 1-4 1,11 1-3 1-15 1,22 1,20 1-30 1,1 1-14 1,21 1-25 1,3 1,34 1-30 1,28 1,6 1-17 1,4 1,18 1-28 1-6 1-14 1,23 1,19 1-7 1-27 1,2 1,5 1,11 1-6 1,5 1,1 1-8 1,4 1,3 1-4 1,8 1,18 1-17 1-7 1-30 1,35 1-41 1,12 1,35 1-2 1-11 1-28 1,24 1-4 1,18 1,21 1-27 1-14 1-7 1,18 1-2 1-16 1,20 1-20 1,33 1,0 1,0 1-21 1,13 1-8 1-4 1,1 1-17 1-3 1,35 1-13 1,5 1,11 1-44 1,19 1,14 1,3 1-11 1,19 1-11 1-22 1,5 1,25 1-4 1-41 1,52 1-10 1,10 1-23 1,1 1-13 1,50 1-35 1,23 1-30 1,12 1-31 1,23 1,19 1-34 1,35 1-10 1-21 1,9 1,1 1,6 1-7 1-5 1,8 1-11 1-5 1,20 1,12 1-37 1,26 1-10 1-6 1,27 1-19 1,27 1-31 1,17 1-9 1-8 1,19 1-10 1,10 1-8 1-17 1,16 1,2 1,12 1-26 1,13 1-30 1,39 1-25 1-15 1,31 1,15 1-40 1,8 1,7 1-7 1,23 1-18 1,2 1,18 1-19 1,17 1-20 1-5 1-13 1,57 1-29 1,8 1-4 1,3 1-2 1,24 1-41 1-10 1,11 1-6 1,31 1,1 1-25 1-8 1,18 1,23 1-76 1,64 1-23 1,30 1-30 1,13 1-22 1,10 1,34 1-8 1-16 1-8 1-21 1,29 1,5 1-1 1,0 1-16 1,17 1,0 1,18 1,7 1-26 1-10 1,11 1-8 1-2L260,8l-1-1 -1,1 -1,2 -1,12 -1-29 -1-4 -1,19 -1,17 -1-25 -1-53 -1,25 -1,25 -1-31 -1,41 -1,16 -1-19 -1,5 -1-3 -1,11 -1-16 -1-18 -1,24 -1-1 -1,13 -1-35 -1,50 -1-22 -1,0 -1-16 -1,14 -1-16 -1-2 -1,6 -1-6 -1,21 -1-6 -1,7 -1-35 -1,14 -1,12 -1-23 -1,13 -1,13 -1-4 -1,4 -1,3 -1-43 -1,11 -1,40 -1-12 -1-15 -1,26 -1-40 -1,11 -1,38 -1,5 -1-13 -1-5 -1,5 -1-32 -1,41 -1-27 -1,19 -1-1 -1-1 -1-3 -1-9 -1,14 -1,0 -1-35 -1,14 -1,14 -1,4 -1,6 -1-15 -1-3 -1-2 -1,13 -1-16 -1,1 -1,6 -1,4 -1-11 -1,25 -1-37 -1,2 -1,16 -1-6 -1,14 -1-18 -1,12 -1-1 -1,10 -1-40 -1,21 -1,7 -1-22 -1,43 -1-14 -1-21 -1,7 -1,31 -1-34 -1-10 -1,18 -1-1 -1,6 -1-9 -1,4 -1-6 -1,11 -1,12 -1-15 -1,19 -1-37 -1,11 -1-2 -1,11 -1-7 -1,22 -1-30 -1,13 -1-1 -1,3 -1,20 -1-3 -1-43 -1,28 -1,9 -1-23 -1,23 -1-41 -1,42 -1-51 -1,44 -1-22 -1-19 -1,35 -1-7 -1,10 -1,1 -1,10 -1-25 -1,16 -1-20 -1,17 -1-2 -1-15 -1,23 -1,3 -1-12 -1,0 -1,9 -1-4 -1-12 -1-3 -1,41 -1-26 -1-16 -1,9 -1-33 -1,8 -1,34 -1-25 -1,28 -1-8 -1,14 -1-18 -1,13 -1-9 -1,9 -1,7 -1-22 -1,6 -1-17 -1,15 -1,1 -1,6 -1-9 -1-1 -1,26 -1-24 -1-2 -1,1 -1,14 -1,7 -1-18 -1-5 -1-30 -1,45 -1-20 -1-10 -1,37 -1-4 -1-14 -1-6 -1-10 -1,20 -1-8 -1,9 -1-12 -1,29 -1-11 -1-9 -1,10 -1-12 -1,10 -1-7 -1-20 -1,30 -1,16 -1-36 -1,11 -1,10 -1-38 -1,44 -1-16 -1-21 -1,20 -1,1 -1-3 -1-7 -1,20 -1-12 -1-12 -1,27 -1-27 -1-3 -1,9 -1-19 -1,27 -1-2 -1-7 -1-43 -1,48 -1,5 -1,1 -1-24 -1,17 -1-29 -1,12 -1-14 -1,28 -1-16 -1,32 -1-10 -1-14 -1,16 -1,3 -1,2 -1-15 -1,2 -1,24 -1-17 -1-16 -1,9 -1-7 -1,10 -1,7 -1-3Z" vector-effect="non-scaling-stroke"/>
</g>
<line x1="27.5" y1="178.5" x2="27.5" y2="55" stroke="#555555" stroke-width="1.0"/>
<line x1="27.5" y1="178.5" x2="153.7" y2="235.1" stroke="#555555" stroke-width="1.0"/>
<line x1="153.7" y1="235.1" x2="318" y2="191.9" stroke="#555555" stroke-width="1.0"/>
<line x1="27.5" y1="178.5" x2="24.2" y2="177" stroke="#555555" stroke-width="1.0"/>
<line x1="27.5" y1="147.6" x2="24.2" y2="146.2" stroke="#555555" stroke-width="1.0"/>
<line x1="27.5" y1="116.8" x2="24.2" y2="115.3" stroke="#555555" stroke-width="1.0"/>
<line x1="27.5" y1="85.9" x2="24.2" y2="84.4" stroke="#555555" stroke-width="1.0"/>
<line x1="27.5" y1="55" x2="24.2" y2="53.5" stroke="#555555" stroke-width="1.0"/>
<line x1="153.7" y1="235.1" x2="150.2" y2="236" stroke="#555555" stroke-width="1.0"/>
<line x1="92.1" y1="207.5" x2="88.6" y2="208.4" stroke="#555555" stroke-width="1.0"/>
<line x1="30.5" y1="179.8" x2="27" y2="180.7" stroke="#555555" stroke-width="1.0"/>
<line x1="153.7" y1="235.1" x2="157" y2="236.6" stroke="#555555" stroke-width="1.0"/>
<line x1="185.8" y1="226.7" x2="189.1" y2="228.1" stroke="#555555" stroke-width="1.0"/>
<line x1="217.9" y1="218.2" x2="221.2" y2="219.7" stroke="#555555" stroke-width="1.0"/>
<line x1="250" y1="209.8" x2="253.3" y2="211.3" stroke="#555555" stroke-width="1.0"/>
<line x1="282.1" y1="201.3" x2="285.3" y2="202.8" stroke="#555555" stroke-width="1.0"/>
<line x1="314.1" y1="192.9" x2="317.4" y2="194.4" stroke="#555555" stroke-width="1.0"/>
<text x="18.6" y="55.8" font-size="8.3" fill="#3a3a3a" text-anchor="end">40</text>
<text x="18.6" y="87.2" font-size="8.3" fill="#3a3a3a" text-anchor="end">20</text>
<text x="18.6" y="118.4" font-size="8.3" fill="#3a3a3a" text-anchor="end">0</text>
<text x="18.6" y="149.2" font-size="8.3" fill="#3a3a3a" text-anchor="end">-20</text>
<text x="18.6" y="179.1" font-size="8.3" fill="#3a3a3a" text-anchor="end">-40</text>
<text x="12" y="190.7" font-size="8.3" fill="#3a3a3a" text-anchor="middle">1000</text>
<text x="76.2" y="218.5" font-size="8.3" fill="#3a3a3a" text-anchor="middle">500</text>
<text x="143" y="246.5" font-size="8.3" fill="#3a3a3a" text-anchor="middle">0</text>
<text x="162.8" y="247.8" font-size="8.3" fill="#3a3a3a" text-anchor="middle">0</text>
<text x="201.1" y="239.2" font-size="8.3" fill="#3a3a3a" text-anchor="middle">200</text>
<text x="232.9" y="230.5" font-size="8.3" fill="#3a3a3a" text-anchor="middle">400</text>
<text x="265.1" y="221.8" font-size="8.3" fill="#3a3a3a" text-anchor="middle">600</text>
<text x="297.6" y="213.4" font-size="8.3" fill="#3a3a3a" text-anchor="middle">800</text>
<text x="332.4" y="205" font-size="8.3" fill="#3a3a3a" text-anchor="middle">1000</text>
<text x="4.2" y="16.8" font-size="15.5" font-weight="bold" fill="#000" textLength="19.6" lengthAdjust="spacingAndGlyphs">(a)</text>
<line x1="435.3" y1="21.4" x2="435.3" y2="221.9" stroke="#ebebeb" stroke-width="0.8" stroke-dasharray="1 2"/>
<line x1="450.3" y1="21.4" x2="450.3" y2="221.9" stroke="#ebebeb" stroke-width="0.8" stroke-dasharray="1 2"/>
<line x1="460.9" y1="21.4" x2="460.9" y2="221.9" stroke="#ebebeb" stroke-width="0.8" stroke-dasharray="1 2"/>
<line x1="469.2" y1="21.4" x2="469.2" y2="221.9" stroke="#ebebeb" stroke-width="0.8" stroke-dasharray="1 2"/>
<line x1="476" y1="21.4" x2="476" y2="221.9" stroke="#ebebeb" stroke-width="0.8" stroke-dasharray="1 2"/>
<line x1="481.7" y1="21.4" x2="481.7" y2="221.9" stroke="#ebebeb" stroke-width="0.8" stroke-dasharray="1 2"/>
<line x1="486.6" y1="21.4" x2="486.6" y2="221.9" stroke="#ebebeb" stroke-width="0.8" stroke-dasharray="1 2"/>
<line x1="491" y1="21.4" x2="491" y2="221.9" stroke="#ebebeb" stroke-width="0.8" stroke-dasharray="1 2"/>
<line x1="520.5" y1="21.4" x2="520.5" y2="221.9" stroke="#ebebeb" stroke-width="0.8" stroke-dasharray="1 2"/>
<line x1="535.5" y1="21.4" x2="535.5" y2="221.9" stroke="#ebebeb" stroke-width="0.8" stroke-dasharray="1 2"/>
<line x1="546.2" y1="21.4" x2="546.2" y2="221.9" stroke="#ebebeb" stroke-width="0.8" stroke-dasharray="1 2"/>
<line x1="554.5" y1="21.4" x2="554.5" y2="221.9" stroke="#ebebeb" stroke-width="0.8" stroke-dasharray="1 2"/>
<line x1="561.2" y1="21.4" x2="561.2" y2="221.9" stroke="#ebebeb" stroke-width="0.8" stroke-dasharray="1 2"/>
<line x1="566.9" y1="21.4" x2="566.9" y2="221.9" stroke="#ebebeb" stroke-width="0.8" stroke-dasharray="1 2"/>
<line x1="571.9" y1="21.4" x2="571.9" y2="221.9" stroke="#ebebeb" stroke-width="0.8" stroke-dasharray="1 2"/>
<line x1="576.2" y1="21.4" x2="576.2" y2="221.9" stroke="#ebebeb" stroke-width="0.8" stroke-dasharray="1 2"/>
<line x1="605.8" y1="21.4" x2="605.8" y2="221.9" stroke="#ebebeb" stroke-width="0.8" stroke-dasharray="1 2"/>
<line x1="620.8" y1="21.4" x2="620.8" y2="221.9" stroke="#ebebeb" stroke-width="0.8" stroke-dasharray="1 2"/>
<line x1="631.5" y1="21.4" x2="631.5" y2="221.9" stroke="#ebebeb" stroke-width="0.8" stroke-dasharray="1 2"/>
<line x1="639.7" y1="21.4" x2="639.7" y2="221.9" stroke="#ebebeb" stroke-width="0.8" stroke-dasharray="1 2"/>
<line x1="646.5" y1="21.4" x2="646.5" y2="221.9" stroke="#ebebeb" stroke-width="0.8" stroke-dasharray="1 2"/>
<line x1="652.2" y1="21.4" x2="652.2" y2="221.9" stroke="#ebebeb" stroke-width="0.8" stroke-dasharray="1 2"/>
<line x1="657.1" y1="21.4" x2="657.1" y2="221.9" stroke="#ebebeb" stroke-width="0.8" stroke-dasharray="1 2"/>
<line x1="661.5" y1="21.4" x2="661.5" y2="221.9" stroke="#ebebeb" stroke-width="0.8" stroke-dasharray="1 2"/>
<line x1="409.6" y1="214.3" x2="665.4" y2="214.3" stroke="#ebebeb" stroke-width="0.8" stroke-dasharray="1 2"/>
<line x1="409.6" y1="191.2" x2="665.4" y2="191.2" stroke="#ebebeb" stroke-width="0.8" stroke-dasharray="1 2"/>
<line x1="409.6" y1="180.6" x2="665.4" y2="180.6" stroke="#ebebeb" stroke-width="0.8" stroke-dasharray="1 2"/>
<line x1="409.6" y1="170.7" x2="665.4" y2="170.7" stroke="#ebebeb" stroke-width="0.8" stroke-dasharray="1 2"/>
<line x1="409.6" y1="161.4" x2="665.4" y2="161.4" stroke="#ebebeb" stroke-width="0.8" stroke-dasharray="1 2"/>
<line x1="409.6" y1="144" x2="665.4" y2="144" stroke="#ebebeb" stroke-width="0.8" stroke-dasharray="1 2"/>
<line x1="409.6" y1="136" x2="665.4" y2="136" stroke="#ebebeb" stroke-width="0.8" stroke-dasharray="1 2"/>
<line x1="409.6" y1="128.2" x2="665.4" y2="128.2" stroke="#ebebeb" stroke-width="0.8" stroke-dasharray="1 2"/>
<line x1="409.6" y1="120.9" x2="665.4" y2="120.9" stroke="#ebebeb" stroke-width="0.8" stroke-dasharray="1 2"/>
<line x1="409.6" y1="107" x2="665.4" y2="107" stroke="#ebebeb" stroke-width="0.8" stroke-dasharray="1 2"/>
<line x1="409.6" y1="100.5" x2="665.4" y2="100.5" stroke="#ebebeb" stroke-width="0.8" stroke-dasharray="1 2"/>
<line x1="409.6" y1="94.1" x2="665.4" y2="94.1" stroke="#ebebeb" stroke-width="0.8" stroke-dasharray="1 2"/>
<line x1="409.6" y1="88.1" x2="665.4" y2="88.1" stroke="#ebebeb" stroke-width="0.8" stroke-dasharray="1 2"/>
<line x1="409.6" y1="76.5" x2="665.4" y2="76.5" stroke="#ebebeb" stroke-width="0.8" stroke-dasharray="1 2"/>
<line x1="409.6" y1="71" x2="665.4" y2="71" stroke="#ebebeb" stroke-width="0.8" stroke-dasharray="1 2"/>
<line x1="409.6" y1="65.7" x2="665.4" y2="65.7" stroke="#ebebeb" stroke-width="0.8" stroke-dasharray="1 2"/>
<line x1="409.6" y1="60.5" x2="665.4" y2="60.5" stroke="#ebebeb" stroke-width="0.8" stroke-dasharray="1 2"/>
<line x1="409.6" y1="50.6" x2="665.4" y2="50.6" stroke="#ebebeb" stroke-width="0.8" stroke-dasharray="1 2"/>
<line x1="409.6" y1="45.8" x2="665.4" y2="45.8" stroke="#ebebeb" stroke-width="0.8" stroke-dasharray="1 2"/>
<line x1="409.6" y1="41.2" x2="665.4" y2="41.2" stroke="#ebebeb" stroke-width="0.8" stroke-dasharray="1 2"/>
<line x1="409.6" y1="36.7" x2="665.4" y2="36.7" stroke="#ebebeb" stroke-width="0.8" stroke-dasharray="1 2"/>
<line x1="409.6" y1="28" x2="665.4" y2="28" stroke="#ebebeb" stroke-width="0.8" stroke-dasharray="1 2"/>
<line x1="409.6" y1="23.9" x2="665.4" y2="23.9" stroke="#ebebeb" stroke-width="0.8" stroke-dasharray="1 2"/>
<line x1="494.9" y1="21.4" x2="494.9" y2="221.9" stroke="#e6e6e6" stroke-width="1"/>
<line x1="580.1" y1="21.4" x2="580.1" y2="221.9" stroke="#e6e6e6" stroke-width="1"/>
<line x1="409.6" y1="202.3" x2="665.4" y2="202.3" stroke="#e6e6e6" stroke-width="1"/>
<line x1="409.6" y1="152.5" x2="665.4" y2="152.5" stroke="#e6e6e6" stroke-width="1"/>
<line x1="409.6" y1="113.8" x2="665.4" y2="113.8" stroke="#e6e6e6" stroke-width="1"/>
<line x1="409.6" y1="82.2" x2="665.4" y2="82.2" stroke="#e6e6e6" stroke-width="1"/>
<line x1="409.6" y1="55.5" x2="665.4" y2="55.5" stroke="#e6e6e6" stroke-width="1"/>
<line x1="409.6" y1="32.3" x2="665.4" y2="32.3" stroke="#e6e6e6" stroke-width="1"/>
<rect x="409.6" y="21.4" width="255.8" height="200.5" fill="none" stroke="#9c9c9c" stroke-width="1.2"/>
<line x1="409.6" y1="221.9" x2="409.6" y2="219.4" stroke="#555" stroke-width="0.8"/>
<line x1="409.6" y1="21.4" x2="409.6" y2="23.9" stroke="#555" stroke-width="0.8"/>
<line x1="435.3" y1="221.9" x2="435.3" y2="220.4" stroke="#555" stroke-width="0.8"/>
<line x1="435.3" y1="21.4" x2="435.3" y2="22.9" stroke="#555" stroke-width="0.8"/>
<line x1="450.3" y1="221.9" x2="450.3" y2="220.4" stroke="#555" stroke-width="0.8"/>
<line x1="450.3" y1="21.4" x2="450.3" y2="22.9" stroke="#555" stroke-width="0.8"/>
<line x1="460.9" y1="221.9" x2="460.9" y2="220.4" stroke="#555" stroke-width="0.8"/>
<line x1="460.9" y1="21.4" x2="460.9" y2="22.9" stroke="#555" stroke-width="0.8"/>
<line x1="469.2" y1="221.9" x2="469.2" y2="220.4" stroke="#555" stroke-width="0.8"/>
<line x1="469.2" y1="21.4" x2="469.2" y2="22.9" stroke="#555" stroke-width="0.8"/>
<line x1="476" y1="221.9" x2="476" y2="220.4" stroke="#555" stroke-width="0.8"/>
<line x1="476" y1="21.4" x2="476" y2="22.9" stroke="#555" stroke-width="0.8"/>
<line x1="481.7" y1="221.9" x2="481.7" y2="220.4" stroke="#555" stroke-width="0.8"/>
<line x1="481.7" y1="21.4" x2="481.7" y2="22.9" stroke="#555" stroke-width="0.8"/>
<line x1="486.6" y1="221.9" x2="486.6" y2="220.4" stroke="#555" stroke-width="0.8"/>
<line x1="486.6" y1="21.4" x2="486.6" y2="22.9" stroke="#555" stroke-width="0.8"/>
<line x1="491" y1="221.9" x2="491" y2="220.4" stroke="#555" stroke-width="0.8"/>
<line x1="491" y1="21.4" x2="491" y2="22.9" stroke="#555" stroke-width="0.8"/>
<line x1="494.9" y1="221.9" x2="494.9" y2="219.4" stroke="#555" stroke-width="0.8"/>
<line x1="494.9" y1="21.4" x2="494.9" y2="23.9" stroke="#555" stroke-width="0.8"/>
<line x1="520.5" y1="221.9" x2="520.5" y2="220.4" stroke="#555" stroke-width="0.8"/>
<line x1="520.5" y1="21.4" x2="520.5" y2="22.9" stroke="#555" stroke-width="0.8"/>
<line x1="535.5" y1="221.9" x2="535.5" y2="220.4" stroke="#555" stroke-width="0.8"/>
<line x1="535.5" y1="21.4" x2="535.5" y2="22.9" stroke="#555" stroke-width="0.8"/>
<line x1="546.2" y1="221.9" x2="546.2" y2="220.4" stroke="#555" stroke-width="0.8"/>
<line x1="546.2" y1="21.4" x2="546.2" y2="22.9" stroke="#555" stroke-width="0.8"/>
<line x1="554.5" y1="221.9" x2="554.5" y2="220.4" stroke="#555" stroke-width="0.8"/>
<line x1="554.5" y1="21.4" x2="554.5" y2="22.9" stroke="#555" stroke-width="0.8"/>
<line x1="561.2" y1="221.9" x2="561.2" y2="220.4" stroke="#555" stroke-width="0.8"/>
<line x1="561.2" y1="21.4" x2="561.2" y2="22.9" stroke="#555" stroke-width="0.8"/>
<line x1="566.9" y1="221.9" x2="566.9" y2="220.4" stroke="#555" stroke-width="0.8"/>
<line x1="566.9" y1="21.4" x2="566.9" y2="22.9" stroke="#555" stroke-width="0.8"/>
<line x1="571.9" y1="221.9" x2="571.9" y2="220.4" stroke="#555" stroke-width="0.8"/>
<line x1="571.9" y1="21.4" x2="571.9" y2="22.9" stroke="#555" stroke-width="0.8"/>
<line x1="576.2" y1="221.9" x2="576.2" y2="220.4" stroke="#555" stroke-width="0.8"/>
<line x1="576.2" y1="21.4" x2="576.2" y2="22.9" stroke="#555" stroke-width="0.8"/>
<line x1="580.1" y1="221.9" x2="580.1" y2="219.4" stroke="#555" stroke-width="0.8"/>
<line x1="580.1" y1="21.4" x2="580.1" y2="23.9" stroke="#555" stroke-width="0.8"/>
<line x1="605.8" y1="221.9" x2="605.8" y2="220.4" stroke="#555" stroke-width="0.8"/>
<line x1="605.8" y1="21.4" x2="605.8" y2="22.9" stroke="#555" stroke-width="0.8"/>
<line x1="620.8" y1="221.9" x2="620.8" y2="220.4" stroke="#555" stroke-width="0.8"/>
<line x1="620.8" y1="21.4" x2="620.8" y2="22.9" stroke="#555" stroke-width="0.8"/>
<line x1="631.5" y1="221.9" x2="631.5" y2="220.4" stroke="#555" stroke-width="0.8"/>
<line x1="631.5" y1="21.4" x2="631.5" y2="22.9" stroke="#555" stroke-width="0.8"/>
<line x1="639.7" y1="221.9" x2="639.7" y2="220.4" stroke="#555" stroke-width="0.8"/>
<line x1="639.7" y1="21.4" x2="639.7" y2="22.9" stroke="#555" stroke-width="0.8"/>
<line x1="646.5" y1="221.9" x2="646.5" y2="220.4" stroke="#555" stroke-width="0.8"/>
<line x1="646.5" y1="21.4" x2="646.5" y2="22.9" stroke="#555" stroke-width="0.8"/>
<line x1="652.2" y1="221.9" x2="652.2" y2="220.4" stroke="#555" stroke-width="0.8"/>
<line x1="652.2" y1="21.4" x2="652.2" y2="22.9" stroke="#555" stroke-width="0.8"/>
<line x1="657.1" y1="221.9" x2="657.1" y2="220.4" stroke="#555" stroke-width="0.8"/>
<line x1="657.1" y1="21.4" x2="657.1" y2="22.9" stroke="#555" stroke-width="0.8"/>
<line x1="661.5" y1="221.9" x2="661.5" y2="220.4" stroke="#555" stroke-width="0.8"/>
<line x1="661.5" y1="21.4" x2="661.5" y2="22.9" stroke="#555" stroke-width="0.8"/>
<line x1="665.4" y1="221.9" x2="665.4" y2="219.4" stroke="#555" stroke-width="0.8"/>
<line x1="665.4" y1="21.4" x2="665.4" y2="23.9" stroke="#555" stroke-width="0.8"/>
<line x1="409.6" y1="214.3" x2="411.1" y2="214.3" stroke="#555" stroke-width="0.8"/>
<line x1="665.4" y1="214.3" x2="663.9" y2="214.3" stroke="#555" stroke-width="0.8"/>
<line x1="409.6" y1="202.3" x2="412.1" y2="202.3" stroke="#555" stroke-width="0.8"/>
<line x1="665.4" y1="202.3" x2="662.9" y2="202.3" stroke="#555" stroke-width="0.8"/>
<line x1="409.6" y1="191.2" x2="411.1" y2="191.2" stroke="#555" stroke-width="0.8"/>
<line x1="665.4" y1="191.2" x2="663.9" y2="191.2" stroke="#555" stroke-width="0.8"/>
<line x1="409.6" y1="180.6" x2="411.1" y2="180.6" stroke="#555" stroke-width="0.8"/>
<line x1="665.4" y1="180.6" x2="663.9" y2="180.6" stroke="#555" stroke-width="0.8"/>
<line x1="409.6" y1="170.7" x2="411.1" y2="170.7" stroke="#555" stroke-width="0.8"/>
<line x1="665.4" y1="170.7" x2="663.9" y2="170.7" stroke="#555" stroke-width="0.8"/>
<line x1="409.6" y1="161.4" x2="411.1" y2="161.4" stroke="#555" stroke-width="0.8"/>
<line x1="665.4" y1="161.4" x2="663.9" y2="161.4" stroke="#555" stroke-width="0.8"/>
<line x1="409.6" y1="152.5" x2="412.1" y2="152.5" stroke="#555" stroke-width="0.8"/>
<line x1="665.4" y1="152.5" x2="662.9" y2="152.5" stroke="#555" stroke-width="0.8"/>
<line x1="409.6" y1="144" x2="411.1" y2="144" stroke="#555" stroke-width="0.8"/>
<line x1="665.4" y1="144" x2="663.9" y2="144" stroke="#555" stroke-width="0.8"/>
<line x1="409.6" y1="136" x2="411.1" y2="136" stroke="#555" stroke-width="0.8"/>
<line x1="665.4" y1="136" x2="663.9" y2="136" stroke="#555" stroke-width="0.8"/>
<line x1="409.6" y1="128.2" x2="411.1" y2="128.2" stroke="#555" stroke-width="0.8"/>
<line x1="665.4" y1="128.2" x2="663.9" y2="128.2" stroke="#555" stroke-width="0.8"/>
<line x1="409.6" y1="120.9" x2="411.1" y2="120.9" stroke="#555" stroke-width="0.8"/>
<line x1="665.4" y1="120.9" x2="663.9" y2="120.9" stroke="#555" stroke-width="0.8"/>
<line x1="409.6" y1="113.8" x2="412.1" y2="113.8" stroke="#555" stroke-width="0.8"/>
<line x1="665.4" y1="113.8" x2="662.9" y2="113.8" stroke="#555" stroke-width="0.8"/>
<line x1="409.6" y1="107" x2="411.1" y2="107" stroke="#555" stroke-width="0.8"/>
<line x1="665.4" y1="107" x2="663.9" y2="107" stroke="#555" stroke-width="0.8"/>
<line x1="409.6" y1="100.5" x2="411.1" y2="100.5" stroke="#555" stroke-width="0.8"/>
<line x1="665.4" y1="100.5" x2="663.9" y2="100.5" stroke="#555" stroke-width="0.8"/>
<line x1="409.6" y1="94.1" x2="411.1" y2="94.1" stroke="#555" stroke-width="0.8"/>
<line x1="665.4" y1="94.1" x2="663.9" y2="94.1" stroke="#555" stroke-width="0.8"/>
<line x1="409.6" y1="88.1" x2="411.1" y2="88.1" stroke="#555" stroke-width="0.8"/>
<line x1="665.4" y1="88.1" x2="663.9" y2="88.1" stroke="#555" stroke-width="0.8"/>
<line x1="409.6" y1="82.2" x2="412.1" y2="82.2" stroke="#555" stroke-width="0.8"/>
<line x1="665.4" y1="82.2" x2="662.9" y2="82.2" stroke="#555" stroke-width="0.8"/>
<line x1="409.6" y1="76.5" x2="411.1" y2="76.5" stroke="#555" stroke-width="0.8"/>
<line x1="665.4" y1="76.5" x2="663.9" y2="76.5" stroke="#555" stroke-width="0.8"/>
<line x1="409.6" y1="71" x2="411.1" y2="71" stroke="#555" stroke-width="0.8"/>
<line x1="665.4" y1="71" x2="663.9" y2="71" stroke="#555" stroke-width="0.8"/>
<line x1="409.6" y1="65.7" x2="411.1" y2="65.7" stroke="#555" stroke-width="0.8"/>
<line x1="665.4" y1="65.7" x2="663.9" y2="65.7" stroke="#555" stroke-width="0.8"/>
<line x1="409.6" y1="60.5" x2="411.1" y2="60.5" stroke="#555" stroke-width="0.8"/>
<line x1="665.4" y1="60.5" x2="663.9" y2="60.5" stroke="#555" stroke-width="0.8"/>
<line x1="409.6" y1="55.5" x2="412.1" y2="55.5" stroke="#555" stroke-width="0.8"/>
<line x1="665.4" y1="55.5" x2="662.9" y2="55.5" stroke="#555" stroke-width="0.8"/>
<line x1="409.6" y1="50.6" x2="411.1" y2="50.6" stroke="#555" stroke-width="0.8"/>
<line x1="665.4" y1="50.6" x2="663.9" y2="50.6" stroke="#555" stroke-width="0.8"/>
<line x1="409.6" y1="45.8" x2="411.1" y2="45.8" stroke="#555" stroke-width="0.8"/>
<line x1="665.4" y1="45.8" x2="663.9" y2="45.8" stroke="#555" stroke-width="0.8"/>
<line x1="409.6" y1="41.2" x2="411.1" y2="41.2" stroke="#555" stroke-width="0.8"/>
<line x1="665.4" y1="41.2" x2="663.9" y2="41.2" stroke="#555" stroke-width="0.8"/>
<line x1="409.6" y1="36.7" x2="411.1" y2="36.7" stroke="#555" stroke-width="0.8"/>
<line x1="665.4" y1="36.7" x2="663.9" y2="36.7" stroke="#555" stroke-width="0.8"/>
<line x1="409.6" y1="32.3" x2="412.1" y2="32.3" stroke="#555" stroke-width="0.8"/>
<line x1="665.4" y1="32.3" x2="662.9" y2="32.3" stroke="#555" stroke-width="0.8"/>
<line x1="409.6" y1="28" x2="411.1" y2="28" stroke="#555" stroke-width="0.8"/>
<line x1="665.4" y1="28" x2="663.9" y2="28" stroke="#555" stroke-width="0.8"/>
<line x1="409.6" y1="23.9" x2="411.1" y2="23.9" stroke="#555" stroke-width="0.8"/>
<line x1="665.4" y1="23.9" x2="663.9" y2="23.9" stroke="#555" stroke-width="0.8"/>
<text transform="translate(405.6,205.2) scale(1,1.1)" font-size="8" text-anchor="end" font-weight="bold" fill="#222">3</text>
<text transform="translate(405.6,155.4) scale(1,1.1)" font-size="8" text-anchor="end" font-weight="bold" fill="#222">4</text>
<text transform="translate(405.6,116.7) scale(1,1.1)" font-size="8" text-anchor="end" font-weight="bold" fill="#222">5</text>
<text transform="translate(405.6,85.1) scale(1,1.1)" font-size="8" text-anchor="end" font-weight="bold" fill="#222">6</text>
<text transform="translate(405.6,58.4) scale(1,1.1)" font-size="8" text-anchor="end" font-weight="bold" fill="#222">7</text>
<text transform="translate(405.6,35.2) scale(1,1.1)" font-size="8" text-anchor="end" font-weight="bold" fill="#222">8</text>
<text transform="translate(408.6,235.2) scale(1,1.1)" font-size="8" font-weight="bold" fill="#222" text-anchor="middle">10<tspan font-size="5.8" dy="-3">0</tspan></text>
<text transform="translate(493.9,235.2) scale(1,1.1)" font-size="8" font-weight="bold" fill="#222" text-anchor="middle">10<tspan font-size="5.8" dy="-3">1</tspan></text>
<text transform="translate(579.1,235.2) scale(1,1.1)" font-size="8" font-weight="bold" fill="#222" text-anchor="middle">10<tspan font-size="5.8" dy="-3">2</tspan></text>
<text transform="translate(664.4,235.2) scale(1,1.1)" font-size="8" font-weight="bold" fill="#222" text-anchor="middle">10<tspan font-size="5.8" dy="-3">3</tspan></text>
<path d="M409.6,221.6 L410.9,218.1 L412.1,214.5 L413.4,210.8 L414.7,207.2 L415.9,203.5 L417.2,199.8 L418.4,196 L419.7,192.2 L421,188.3 L422.2,184.5 L423.5,180.6 L424.8,176.7 L426,172.9 L427.3,169 L428.6,165.1 L429.8,161.2 L431.1,157.3 L432.3,153.3 L433.6,149.4 L434.9,145.5 L436.1,141.7 L437.4,137.9 L438.7,134.2 L439.9,130.6 L441.2,127 L442.5,123.4 L443.7,119.9 L445,116.5 L446.3,113.1 L447.5,109.7 L448.8,106.4 L450,103.2 L451.3,100 L452.6,96.9 L453.8,93.8 L455.1,90.8 L456.4,87.8 L457.6,84.9 L458.9,82 L460.2,79.2 L461.4,76.4 L462.7,73.6 L463.9,70.9 L465.2,68.2 L466.5,65.6 L467.7,63.2 L469,60.9 L470.3,58.8 L471.5,56.8 L472.8,54.8 L474.1,53 L475.3,51.1 L476.6,49.2 L477.8,47.4 L479.1,45.6 L480.4,44 L481.6,42.4 L482.9,40.9 L484.2,39.5 L485.4,38.1 L486.7,36.8 L488,35.5 L489.2,34.2 L490.5,33.1 L491.8,32 L493,31 L494.3,30 L495.5,29.1 L496.8,28.2 L498.1,27.3 L499.3,26.5 L500.6,25.9 L501.9,25.2 L503.1,24.6 L504.4,24.2 L505.7,23.8 L506.9,23.4 L508.2,23.1 L509.4,22.9 L510.7,22.8 L512,22.6 L513.2,22.5 L514.5,22.5 L515.8,22.5 L517,22.5 L518.3,22.5 L519.6,22.5 L520.8,22.5 L522.1,22.5 L523.3,22.6 L524.6,22.6 L525.9,22.6 L527.1,22.6 L528.4,22.6 L529.7,22.6 L530.9,22.6 L532.2,22.6 L533.5,22.6 L534.7,22.6 L536,22.6 L537.3,22.6 L538.5,22.6 L539.8,22.6 L541,22.7 L542.3,22.7 L543.6,22.7 L544.8,22.7 L546.1,22.7 L547.4,22.7 L548.6,22.7 L549.9,22.7 L551.2,22.7 L552.4,22.7 L553.7,22.7 L554.9,22.7 L556.2,22.7 L557.5,22.7 L558.7,22.7 L560,22.7 L565,22.6 L572,22.3 L580,22.2 L587,22 L593.8,21.9 L599,22.6 L604.8,23.3 L607.5,22.4 L610.3,22 L614,23 L617.2,23.7 L621.4,22.2 L624,22.9 L626.9,23.2 L629.5,22.4 L632.4,22.2 L634.5,23 L636.6,23.1 L638.5,22.5 L640.7,22.6" fill="none" stroke="#0072BD" stroke-width="2" stroke-linejoin="round"/>
<line x1="469" y1="61.5" x2="469" y2="221.9" stroke="#ff0000" stroke-width="2.2"/>
<clipPath id="arcclip"><rect x="400" y="190" width="60" height="32.3"/></clipPath>
<path d="M418.5,208.9 A8.0,8.0 0 1 1 427.8,221.6" fill="none" stroke="#ff0000" stroke-width="5.4" clip-path="url(#arcclip)"/>
<text x="447.3" y="210.6" font-size="23" text-anchor="middle" font-weight="bold" fill="#ff0000">&#945;</text>
<text x="469.2" y="238.5" font-size="15" text-anchor="middle" font-weight="bold" fill="#ff0000">&#958;</text>
<text x="402.5" y="12.8" font-size="14" text-anchor="start" font-weight="bold" fill="#000" textLength="267" lengthAdjust="spacingAndGlyphs">1-D Height-Height Correlation Function</text>
<line x1="403.7" y1="15.3" x2="668.3" y2="15.3" stroke="#000" stroke-width="1.3"/>
<text x="375.5" y="24" font-size="15" text-anchor="start" font-weight="bold" fill="#000" textLength="16.5" lengthAdjust="spacingAndGlyphs">(c)</text>
<text transform="translate(391.2,148.8) rotate(-90)" font-size="14.2" font-weight="bold" fill="#000" textLength="60.7" lengthAdjust="spacingAndGlyphs">G(r) (nm)</text>
<text x="523.2" y="253.9" font-size="13.5" text-anchor="start" font-weight="bold" fill="#000" textLength="41.1" lengthAdjust="spacingAndGlyphs">r (nm)</text>
<line x1="74.7" y1="296.9" x2="74.7" y2="495.8" stroke="#ebebeb" stroke-width="0.8" stroke-dasharray="1 2"/>
<line x1="89.7" y1="296.9" x2="89.7" y2="495.8" stroke="#ebebeb" stroke-width="0.8" stroke-dasharray="1 2"/>
<line x1="100.3" y1="296.9" x2="100.3" y2="495.8" stroke="#ebebeb" stroke-width="0.8" stroke-dasharray="1 2"/>
<line x1="108.6" y1="296.9" x2="108.6" y2="495.8" stroke="#ebebeb" stroke-width="0.8" stroke-dasharray="1 2"/>
<line x1="115.3" y1="296.9" x2="115.3" y2="495.8" stroke="#ebebeb" stroke-width="0.8" stroke-dasharray="1 2"/>
<line x1="121" y1="296.9" x2="121" y2="495.8" stroke="#ebebeb" stroke-width="0.8" stroke-dasharray="1 2"/>
<line x1="126" y1="296.9" x2="126" y2="495.8" stroke="#ebebeb" stroke-width="0.8" stroke-dasharray="1 2"/>
<line x1="130.3" y1="296.9" x2="130.3" y2="495.8" stroke="#ebebeb" stroke-width="0.8" stroke-dasharray="1 2"/>
<line x1="159.9" y1="296.9" x2="159.9" y2="495.8" stroke="#ebebeb" stroke-width="0.8" stroke-dasharray="1 2"/>
<line x1="174.9" y1="296.9" x2="174.9" y2="495.8" stroke="#ebebeb" stroke-width="0.8" stroke-dasharray="1 2"/>
<line x1="185.5" y1="296.9" x2="185.5" y2="495.8" stroke="#ebebeb" stroke-width="0.8" stroke-dasharray="1 2"/>
<line x1="193.8" y1="296.9" x2="193.8" y2="495.8" stroke="#ebebeb" stroke-width="0.8" stroke-dasharray="1 2"/>
<line x1="200.6" y1="296.9" x2="200.6" y2="495.8" stroke="#ebebeb" stroke-width="0.8" stroke-dasharray="1 2"/>
<line x1="206.3" y1="296.9" x2="206.3" y2="495.8" stroke="#ebebeb" stroke-width="0.8" stroke-dasharray="1 2"/>
<line x1="211.2" y1="296.9" x2="211.2" y2="495.8" stroke="#ebebeb" stroke-width="0.8" stroke-dasharray="1 2"/>
<line x1="215.6" y1="296.9" x2="215.6" y2="495.8" stroke="#ebebeb" stroke-width="0.8" stroke-dasharray="1 2"/>
<line x1="245.1" y1="296.9" x2="245.1" y2="495.8" stroke="#ebebeb" stroke-width="0.8" stroke-dasharray="1 2"/>
<line x1="260.1" y1="296.9" x2="260.1" y2="495.8" stroke="#ebebeb" stroke-width="0.8" stroke-dasharray="1 2"/>
<line x1="270.8" y1="296.9" x2="270.8" y2="495.8" stroke="#ebebeb" stroke-width="0.8" stroke-dasharray="1 2"/>
<line x1="279" y1="296.9" x2="279" y2="495.8" stroke="#ebebeb" stroke-width="0.8" stroke-dasharray="1 2"/>
<line x1="285.8" y1="296.9" x2="285.8" y2="495.8" stroke="#ebebeb" stroke-width="0.8" stroke-dasharray="1 2"/>
<line x1="291.5" y1="296.9" x2="291.5" y2="495.8" stroke="#ebebeb" stroke-width="0.8" stroke-dasharray="1 2"/>
<line x1="296.4" y1="296.9" x2="296.4" y2="495.8" stroke="#ebebeb" stroke-width="0.8" stroke-dasharray="1 2"/>
<line x1="300.8" y1="296.9" x2="300.8" y2="495.8" stroke="#ebebeb" stroke-width="0.8" stroke-dasharray="1 2"/>
<line x1="49" y1="465.9" x2="304.7" y2="465.9" stroke="#ebebeb" stroke-width="0.8" stroke-dasharray="1 2"/>
<line x1="49" y1="448.4" x2="304.7" y2="448.4" stroke="#ebebeb" stroke-width="0.8" stroke-dasharray="1 2"/>
<line x1="49" y1="435.9" x2="304.7" y2="435.9" stroke="#ebebeb" stroke-width="0.8" stroke-dasharray="1 2"/>
<line x1="49" y1="426.3" x2="304.7" y2="426.3" stroke="#ebebeb" stroke-width="0.8" stroke-dasharray="1 2"/>
<line x1="49" y1="418.4" x2="304.7" y2="418.4" stroke="#ebebeb" stroke-width="0.8" stroke-dasharray="1 2"/>
<line x1="49" y1="411.8" x2="304.7" y2="411.8" stroke="#ebebeb" stroke-width="0.8" stroke-dasharray="1 2"/>
<line x1="49" y1="406" x2="304.7" y2="406" stroke="#ebebeb" stroke-width="0.8" stroke-dasharray="1 2"/>
<line x1="49" y1="400.9" x2="304.7" y2="400.9" stroke="#ebebeb" stroke-width="0.8" stroke-dasharray="1 2"/>
<line x1="49" y1="366.4" x2="304.7" y2="366.4" stroke="#ebebeb" stroke-width="0.8" stroke-dasharray="1 2"/>
<line x1="49" y1="348.9" x2="304.7" y2="348.9" stroke="#ebebeb" stroke-width="0.8" stroke-dasharray="1 2"/>
<line x1="49" y1="336.5" x2="304.7" y2="336.5" stroke="#ebebeb" stroke-width="0.8" stroke-dasharray="1 2"/>
<line x1="49" y1="326.8" x2="304.7" y2="326.8" stroke="#ebebeb" stroke-width="0.8" stroke-dasharray="1 2"/>
<line x1="49" y1="319" x2="304.7" y2="319" stroke="#ebebeb" stroke-width="0.8" stroke-dasharray="1 2"/>
<line x1="49" y1="312.3" x2="304.7" y2="312.3" stroke="#ebebeb" stroke-width="0.8" stroke-dasharray="1 2"/>
<line x1="49" y1="306.5" x2="304.7" y2="306.5" stroke="#ebebeb" stroke-width="0.8" stroke-dasharray="1 2"/>
<line x1="49" y1="301.5" x2="304.7" y2="301.5" stroke="#ebebeb" stroke-width="0.8" stroke-dasharray="1 2"/>
<line x1="134.2" y1="296.9" x2="134.2" y2="495.8" stroke="#e6e6e6" stroke-width="1"/>
<line x1="219.5" y1="296.9" x2="219.5" y2="495.8" stroke="#e6e6e6" stroke-width="1"/>
<line x1="49" y1="396.4" x2="304.7" y2="396.4" stroke="#e6e6e6" stroke-width="1"/>
<rect x="49" y="296.9" width="255.7" height="198.9" fill="none" stroke="#9c9c9c" stroke-width="1.2"/>
<line x1="49" y1="495.8" x2="49" y2="493.3" stroke="#555" stroke-width="0.8"/>
<line x1="49" y1="296.9" x2="49" y2="299.4" stroke="#555" stroke-width="0.8"/>
<line x1="74.7" y1="495.8" x2="74.7" y2="494.3" stroke="#555" stroke-width="0.8"/>
<line x1="74.7" y1="296.9" x2="74.7" y2="298.4" stroke="#555" stroke-width="0.8"/>
<line x1="89.7" y1="495.8" x2="89.7" y2="494.3" stroke="#555" stroke-width="0.8"/>
<line x1="89.7" y1="296.9" x2="89.7" y2="298.4" stroke="#555" stroke-width="0.8"/>
<line x1="100.3" y1="495.8" x2="100.3" y2="494.3" stroke="#555" stroke-width="0.8"/>
<line x1="100.3" y1="296.9" x2="100.3" y2="298.4" stroke="#555" stroke-width="0.8"/>
<line x1="108.6" y1="495.8" x2="108.6" y2="494.3" stroke="#555" stroke-width="0.8"/>
<line x1="108.6" y1="296.9" x2="108.6" y2="298.4" stroke="#555" stroke-width="0.8"/>
<line x1="115.3" y1="495.8" x2="115.3" y2="494.3" stroke="#555" stroke-width="0.8"/>
<line x1="115.3" y1="296.9" x2="115.3" y2="298.4" stroke="#555" stroke-width="0.8"/>
<line x1="121" y1="495.8" x2="121" y2="494.3" stroke="#555" stroke-width="0.8"/>
<line x1="121" y1="296.9" x2="121" y2="298.4" stroke="#555" stroke-width="0.8"/>
<line x1="126" y1="495.8" x2="126" y2="494.3" stroke="#555" stroke-width="0.8"/>
<line x1="126" y1="296.9" x2="126" y2="298.4" stroke="#555" stroke-width="0.8"/>
<line x1="130.3" y1="495.8" x2="130.3" y2="494.3" stroke="#555" stroke-width="0.8"/>
<line x1="130.3" y1="296.9" x2="130.3" y2="298.4" stroke="#555" stroke-width="0.8"/>
<line x1="134.2" y1="495.8" x2="134.2" y2="493.3" stroke="#555" stroke-width="0.8"/>
<line x1="134.2" y1="296.9" x2="134.2" y2="299.4" stroke="#555" stroke-width="0.8"/>
<line x1="159.9" y1="495.8" x2="159.9" y2="494.3" stroke="#555" stroke-width="0.8"/>
<line x1="159.9" y1="296.9" x2="159.9" y2="298.4" stroke="#555" stroke-width="0.8"/>
<line x1="174.9" y1="495.8" x2="174.9" y2="494.3" stroke="#555" stroke-width="0.8"/>
<line x1="174.9" y1="296.9" x2="174.9" y2="298.4" stroke="#555" stroke-width="0.8"/>
<line x1="185.5" y1="495.8" x2="185.5" y2="494.3" stroke="#555" stroke-width="0.8"/>
<line x1="185.5" y1="296.9" x2="185.5" y2="298.4" stroke="#555" stroke-width="0.8"/>
<line x1="193.8" y1="495.8" x2="193.8" y2="494.3" stroke="#555" stroke-width="0.8"/>
<line x1="193.8" y1="296.9" x2="193.8" y2="298.4" stroke="#555" stroke-width="0.8"/>
<line x1="200.6" y1="495.8" x2="200.6" y2="494.3" stroke="#555" stroke-width="0.8"/>
<line x1="200.6" y1="296.9" x2="200.6" y2="298.4" stroke="#555" stroke-width="0.8"/>
<line x1="206.3" y1="495.8" x2="206.3" y2="494.3" stroke="#555" stroke-width="0.8"/>
<line x1="206.3" y1="296.9" x2="206.3" y2="298.4" stroke="#555" stroke-width="0.8"/>
<line x1="211.2" y1="495.8" x2="211.2" y2="494.3" stroke="#555" stroke-width="0.8"/>
<line x1="211.2" y1="296.9" x2="211.2" y2="298.4" stroke="#555" stroke-width="0.8"/>
<line x1="215.6" y1="495.8" x2="215.6" y2="494.3" stroke="#555" stroke-width="0.8"/>
<line x1="215.6" y1="296.9" x2="215.6" y2="298.4" stroke="#555" stroke-width="0.8"/>
<line x1="219.5" y1="495.8" x2="219.5" y2="493.3" stroke="#555" stroke-width="0.8"/>
<line x1="219.5" y1="296.9" x2="219.5" y2="299.4" stroke="#555" stroke-width="0.8"/>
<line x1="245.1" y1="495.8" x2="245.1" y2="494.3" stroke="#555" stroke-width="0.8"/>
<line x1="245.1" y1="296.9" x2="245.1" y2="298.4" stroke="#555" stroke-width="0.8"/>
<line x1="260.1" y1="495.8" x2="260.1" y2="494.3" stroke="#555" stroke-width="0.8"/>
<line x1="260.1" y1="296.9" x2="260.1" y2="298.4" stroke="#555" stroke-width="0.8"/>
<line x1="270.8" y1="495.8" x2="270.8" y2="494.3" stroke="#555" stroke-width="0.8"/>
<line x1="270.8" y1="296.9" x2="270.8" y2="298.4" stroke="#555" stroke-width="0.8"/>
<line x1="279" y1="495.8" x2="279" y2="494.3" stroke="#555" stroke-width="0.8"/>
<line x1="279" y1="296.9" x2="279" y2="298.4" stroke="#555" stroke-width="0.8"/>
<line x1="285.8" y1="495.8" x2="285.8" y2="494.3" stroke="#555" stroke-width="0.8"/>
<line x1="285.8" y1="296.9" x2="285.8" y2="298.4" stroke="#555" stroke-width="0.8"/>
<line x1="291.5" y1="495.8" x2="291.5" y2="494.3" stroke="#555" stroke-width="0.8"/>
<line x1="291.5" y1="296.9" x2="291.5" y2="298.4" stroke="#555" stroke-width="0.8"/>
<line x1="296.4" y1="495.8" x2="296.4" y2="494.3" stroke="#555" stroke-width="0.8"/>
<line x1="296.4" y1="296.9" x2="296.4" y2="298.4" stroke="#555" stroke-width="0.8"/>
<line x1="300.8" y1="495.8" x2="300.8" y2="494.3" stroke="#555" stroke-width="0.8"/>
<line x1="300.8" y1="296.9" x2="300.8" y2="298.4" stroke="#555" stroke-width="0.8"/>
<line x1="304.7" y1="495.8" x2="304.7" y2="493.3" stroke="#555" stroke-width="0.8"/>
<line x1="304.7" y1="296.9" x2="304.7" y2="299.4" stroke="#555" stroke-width="0.8"/>
<line x1="49" y1="495.8" x2="51.5" y2="495.8" stroke="#555" stroke-width="0.8"/>
<line x1="304.7" y1="495.8" x2="302.2" y2="495.8" stroke="#555" stroke-width="0.8"/>
<line x1="49" y1="465.9" x2="50.5" y2="465.9" stroke="#555" stroke-width="0.8"/>
<line x1="304.7" y1="465.9" x2="303.2" y2="465.9" stroke="#555" stroke-width="0.8"/>
<line x1="49" y1="448.4" x2="50.5" y2="448.4" stroke="#555" stroke-width="0.8"/>
<line x1="304.7" y1="448.4" x2="303.2" y2="448.4" stroke="#555" stroke-width="0.8"/>
<line x1="49" y1="435.9" x2="50.5" y2="435.9" stroke="#555" stroke-width="0.8"/>
<line x1="304.7" y1="435.9" x2="303.2" y2="435.9" stroke="#555" stroke-width="0.8"/>
<line x1="49" y1="426.3" x2="50.5" y2="426.3" stroke="#555" stroke-width="0.8"/>
<line x1="304.7" y1="426.3" x2="303.2" y2="426.3" stroke="#555" stroke-width="0.8"/>
<line x1="49" y1="418.4" x2="50.5" y2="418.4" stroke="#555" stroke-width="0.8"/>
<line x1="304.7" y1="418.4" x2="303.2" y2="418.4" stroke="#555" stroke-width="0.8"/>
<line x1="49" y1="411.8" x2="50.5" y2="411.8" stroke="#555" stroke-width="0.8"/>
<line x1="304.7" y1="411.8" x2="303.2" y2="411.8" stroke="#555" stroke-width="0.8"/>
<line x1="49" y1="406" x2="50.5" y2="406" stroke="#555" stroke-width="0.8"/>
<line x1="304.7" y1="406" x2="303.2" y2="406" stroke="#555" stroke-width="0.8"/>
<line x1="49" y1="400.9" x2="50.5" y2="400.9" stroke="#555" stroke-width="0.8"/>
<line x1="304.7" y1="400.9" x2="303.2" y2="400.9" stroke="#555" stroke-width="0.8"/>
<line x1="49" y1="396.4" x2="51.5" y2="396.4" stroke="#555" stroke-width="0.8"/>
<line x1="304.7" y1="396.4" x2="302.2" y2="396.4" stroke="#555" stroke-width="0.8"/>
<line x1="49" y1="366.4" x2="50.5" y2="366.4" stroke="#555" stroke-width="0.8"/>
<line x1="304.7" y1="366.4" x2="303.2" y2="366.4" stroke="#555" stroke-width="0.8"/>
<line x1="49" y1="348.9" x2="50.5" y2="348.9" stroke="#555" stroke-width="0.8"/>
<line x1="304.7" y1="348.9" x2="303.2" y2="348.9" stroke="#555" stroke-width="0.8"/>
<line x1="49" y1="336.5" x2="50.5" y2="336.5" stroke="#555" stroke-width="0.8"/>
<line x1="304.7" y1="336.5" x2="303.2" y2="336.5" stroke="#555" stroke-width="0.8"/>
<line x1="49" y1="326.8" x2="50.5" y2="326.8" stroke="#555" stroke-width="0.8"/>
<line x1="304.7" y1="326.8" x2="303.2" y2="326.8" stroke="#555" stroke-width="0.8"/>
<line x1="49" y1="319" x2="50.5" y2="319" stroke="#555" stroke-width="0.8"/>
<line x1="304.7" y1="319" x2="303.2" y2="319" stroke="#555" stroke-width="0.8"/>
<line x1="49" y1="312.3" x2="50.5" y2="312.3" stroke="#555" stroke-width="0.8"/>
<line x1="304.7" y1="312.3" x2="303.2" y2="312.3" stroke="#555" stroke-width="0.8"/>
<line x1="49" y1="306.5" x2="50.5" y2="306.5" stroke="#555" stroke-width="0.8"/>
<line x1="304.7" y1="306.5" x2="303.2" y2="306.5" stroke="#555" stroke-width="0.8"/>
<line x1="49" y1="301.5" x2="50.5" y2="301.5" stroke="#555" stroke-width="0.8"/>
<line x1="304.7" y1="301.5" x2="303.2" y2="301.5" stroke="#555" stroke-width="0.8"/>
<line x1="49" y1="296.9" x2="51.5" y2="296.9" stroke="#555" stroke-width="0.8"/>
<line x1="304.7" y1="296.9" x2="302.2" y2="296.9" stroke="#555" stroke-width="0.8"/>
<text transform="translate(48,508.6) scale(1,1.15)" font-size="8" font-weight="bold" fill="#222" text-anchor="middle">10<tspan font-size="5.8" dy="-3">-3</tspan></text>
<text transform="translate(133.2,508.6) scale(1,1.15)" font-size="8" font-weight="bold" fill="#222" text-anchor="middle">10<tspan font-size="5.8" dy="-3">-2</tspan></text>
<text transform="translate(218.5,508.6) scale(1,1.15)" font-size="8" font-weight="bold" fill="#222" text-anchor="middle">10<tspan font-size="5.8" dy="-3">-1</tspan></text>
<text transform="translate(303.7,508.6) scale(1,1.15)" font-size="8" font-weight="bold" fill="#222" text-anchor="middle">10<tspan font-size="5.8" dy="-3">0</tspan></text>
<text transform="translate(45.5,499.8) scale(1,1.15)" font-size="8" font-weight="bold" fill="#222" text-anchor="end">10<tspan font-size="5.8" dy="-3">3</tspan></text>
<text transform="translate(45.5,400.4) scale(1,1.15)" font-size="8" font-weight="bold" fill="#222" text-anchor="end">10<tspan font-size="5.8" dy="-3">4</tspan></text>
<text transform="translate(45.5,300.9) scale(1,1.15)" font-size="8" font-weight="bold" fill="#222" text-anchor="end">10<tspan font-size="5.8" dy="-3">5</tspan></text>
<path d="M79.1,321 L81.6,321.3 L84.1,321.6 L86.5,322 L89,322.3 L91.5,322.6 L94,322.9 L96.5,323.2 L99,323.5 L101.4,323.9 L103.9,324.2 L106.4,324.5 L109,324 L111.7,323.5 L114.3,323 L116.9,322.5 L119.6,322 L122.2,321.5 L124.9,321.6 L127.6,321.8 L130.2,321.9 L132.9,322 L135.8,321 L138.6,320 L141.5,319 L144.7,320.9 L147.8,322.7 L150.3,323.8 L152.8,324.8 L156.1,325.6 L159.4,326.5 L161.5,328.1 L163.6,329.6 L165.6,331.2 L167.7,332.8 L171.3,330.1 L173.4,331.7 L175.5,333.2 L177.6,334.8 L180.6,333.1 L183.4,335.1 L185,337.9 L186.6,340.7 L191.3,341.5 L192.5,344 L193.6,346.5 L195.7,346.5 L196.9,349 L198.2,351.5 L200.7,354.8 L203.2,357.3 L204,359.7 L205.7,361.7 L206.9,363.9 L208,366.1 L209.7,368.1 L210.6,370.5 L212.3,373 L213.8,375.5 L215.6,377.9 L216.7,380.8 L218.7,383.2 L219.7,386.2 L221,388.4 L222.2,390.6 L222.6,393.2 L223.8,395.5 L225.5,397.5 L226.1,400 L226.8,403.1 L228,405.9 L229.7,408.6 L230.7,411.2 L231.9,413.7 L233.5,415.9 L234.8,418.4 L235.5,421.1 L237.1,423.4 L237.8,426.1 L239.2,428.3 L240.3,430.6 L241.6,432.8 L242.2,435.3 L243.4,437.6 L244.1,440.1 L245.5,442.2 L246.5,444.6 L247.7,446.8 L249,449.2 L250,451.6 L251.5,453.9 L252.9,456.2 L253.5,458.9 L254.7,461.3 L256.1,463.6 L257.7,465.8 L258.8,468.1 L260.4,470.1 L261.8,472.2 L263,474.4 L264.5,476.5 L265.2,479.1 L266.7,481.1 L268.6,483.5 L270,486.3 L272.2,488.5 L273.9,491 L276.3,493.2 L279.3,494.6" fill="none" stroke="#0072BD" stroke-width="2.1" stroke-linejoin="round"/>
<line x1="198.2" y1="356.4" x2="198.2" y2="495.8" stroke="#ff0000" stroke-width="2.2"/>
<rect x="253.5" y="303.3" width="44.5" height="11.4" fill="#fff" stroke="#7a7a7a" stroke-width="0.8"/>
<line x1="256.2" y1="309.1" x2="279" y2="309.1" stroke="#0072BD" stroke-width="1.8"/>
<text transform="translate(280.9,311.9) scale(1,1.1)" font-size="7.2" text-anchor="start" font-weight="bold" fill="#111" textLength="13.4" lengthAdjust="spacingAndGlyphs">Im 1</text>
<text x="170.3" y="511.6" font-size="16.5" text-anchor="start" font-weight="normal" fill="#ff0000" textLength="38.5" lengthAdjust="spacingAndGlyphs">1/2&#960;&#958;</text>
<text x="51.5" y="287.9" font-size="14" text-anchor="start" font-weight="bold" fill="#000" textLength="256.5" lengthAdjust="spacingAndGlyphs">Circularly Averaged Fourier Transform</text>
<line x1="51.9" y1="290.3" x2="307.9" y2="290.3" stroke="#000" stroke-width="1.3"/>
<text x="1.5" y="286" font-size="15" text-anchor="start" font-weight="bold" fill="#000" textLength="18.5" lengthAdjust="spacingAndGlyphs">(b)</text>
<text transform="translate(25.2,474.1) rotate(-90)" font-size="14.2" font-weight="bold" fill="#000" textLength="151.2" lengthAdjust="spacingAndGlyphs">F(k) (Circularly Averaged)</text>
<text x="116.8" y="531" font-size="13.5" font-weight="bold" fill="#000" textLength="143" lengthAdjust="spacingAndGlyphs">Spatial frequency (nm<tspan font-size="8" dy="-5">-1</tspan><tspan dy="5">)</tspan></text>
<rect x="405.6" y="297.7" width="255.5" height="202.3" fill="none" stroke="#9c9c9c" stroke-width="1.2"/>
<line x1="405.6" y1="500" x2="405.6" y2="497.5" stroke="#555" stroke-width="0.8"/>
<line x1="405.6" y1="297.7" x2="405.6" y2="300.2" stroke="#555" stroke-width="0.8"/>
<text transform="translate(405.6,512.3) scale(1,1.2)" font-size="8" text-anchor="middle" font-weight="bold" fill="#222">1.85</text>
<line x1="456.7" y1="500" x2="456.7" y2="497.5" stroke="#555" stroke-width="0.8"/>
<line x1="456.7" y1="297.7" x2="456.7" y2="300.2" stroke="#555" stroke-width="0.8"/>
<text transform="translate(456.7,512.3) scale(1,1.2)" font-size="8" text-anchor="middle" font-weight="bold" fill="#222">1.9</text>
<line x1="507.8" y1="500" x2="507.8" y2="497.5" stroke="#555" stroke-width="0.8"/>
<line x1="507.8" y1="297.7" x2="507.8" y2="300.2" stroke="#555" stroke-width="0.8"/>
<text transform="translate(507.8,512.3) scale(1,1.2)" font-size="8" text-anchor="middle" font-weight="bold" fill="#222">1.95</text>
<line x1="558.9" y1="500" x2="558.9" y2="497.5" stroke="#555" stroke-width="0.8"/>
<line x1="558.9" y1="297.7" x2="558.9" y2="300.2" stroke="#555" stroke-width="0.8"/>
<text transform="translate(558.9,512.3) scale(1,1.2)" font-size="8" text-anchor="middle" font-weight="bold" fill="#222">2</text>
<line x1="610" y1="500" x2="610" y2="497.5" stroke="#555" stroke-width="0.8"/>
<line x1="610" y1="297.7" x2="610" y2="300.2" stroke="#555" stroke-width="0.8"/>
<text transform="translate(610,512.3) scale(1,1.2)" font-size="8" text-anchor="middle" font-weight="bold" fill="#222">2.05</text>
<line x1="661.1" y1="500" x2="661.1" y2="497.5" stroke="#555" stroke-width="0.8"/>
<line x1="661.1" y1="297.7" x2="661.1" y2="300.2" stroke="#555" stroke-width="0.8"/>
<text transform="translate(661.1,512.3) scale(1,1.2)" font-size="8" text-anchor="middle" font-weight="bold" fill="#222">2.1</text>
<line x1="405.6" y1="500" x2="408.1" y2="500" stroke="#555" stroke-width="0.8"/>
<line x1="661.1" y1="500" x2="658.6" y2="500" stroke="#555" stroke-width="0.8"/>
<text transform="translate(401.5,503.4) scale(1,1.2)" font-size="8" text-anchor="end" font-weight="bold" fill="#222">0.6</text>
<line x1="405.6" y1="471.1" x2="408.1" y2="471.1" stroke="#555" stroke-width="0.8"/>
<line x1="661.1" y1="471.1" x2="658.6" y2="471.1" stroke="#555" stroke-width="0.8"/>
<text transform="translate(401.5,474.5) scale(1,1.2)" font-size="8" text-anchor="end" font-weight="bold" fill="#222">0.8</text>
<line x1="405.6" y1="442.2" x2="408.1" y2="442.2" stroke="#555" stroke-width="0.8"/>
<line x1="661.1" y1="442.2" x2="658.6" y2="442.2" stroke="#555" stroke-width="0.8"/>
<text transform="translate(401.5,445.6) scale(1,1.2)" font-size="8" text-anchor="end" font-weight="bold" fill="#222">1</text>
<line x1="405.6" y1="413.3" x2="408.1" y2="413.3" stroke="#555" stroke-width="0.8"/>
<line x1="661.1" y1="413.3" x2="658.6" y2="413.3" stroke="#555" stroke-width="0.8"/>
<text transform="translate(401.5,416.7) scale(1,1.2)" font-size="8" text-anchor="end" font-weight="bold" fill="#222">1.2</text>
<line x1="405.6" y1="384.4" x2="408.1" y2="384.4" stroke="#555" stroke-width="0.8"/>
<line x1="661.1" y1="384.4" x2="658.6" y2="384.4" stroke="#555" stroke-width="0.8"/>
<text transform="translate(401.5,387.8) scale(1,1.2)" font-size="8" text-anchor="end" font-weight="bold" fill="#222">1.4</text>
<line x1="405.6" y1="355.5" x2="408.1" y2="355.5" stroke="#555" stroke-width="0.8"/>
<line x1="661.1" y1="355.5" x2="658.6" y2="355.5" stroke="#555" stroke-width="0.8"/>
<text transform="translate(401.5,358.9) scale(1,1.2)" font-size="8" text-anchor="end" font-weight="bold" fill="#222">1.6</text>
<line x1="405.6" y1="326.6" x2="408.1" y2="326.6" stroke="#555" stroke-width="0.8"/>
<line x1="661.1" y1="326.6" x2="658.6" y2="326.6" stroke="#555" stroke-width="0.8"/>
<text transform="translate(401.5,330) scale(1,1.2)" font-size="8" text-anchor="end" font-weight="bold" fill="#222">1.8</text>
<line x1="405.6" y1="297.7" x2="408.1" y2="297.7" stroke="#555" stroke-width="0.8"/>
<line x1="661.1" y1="297.7" x2="658.6" y2="297.7" stroke="#555" stroke-width="0.8"/>
<text transform="translate(401.5,301.1) scale(1,1.2)" font-size="8" text-anchor="end" font-weight="bold" fill="#222">2</text>
<path d="M417.3,471.2 L418.7,467.1 L420.1,463.1 L421.5,459.2 L422.9,455.3 L424.3,451.5 L425.7,447.8 L427.1,444.1 L428.4,440.5 L429.8,436.9 L431.2,433.5 L432.6,430 L434,426.7 L435.4,423.4 L436.8,420.1 L438.2,416.9 L439.6,413.8 L441,410.8 L442.4,407.8 L443.8,404.8 L445.2,401.9 L446.6,399.1 L448,396.3 L449.4,393.6 L450.7,390.9 L452.1,388.3 L453.5,385.8 L454.9,383.3 L456.3,380.8 L457.7,378.4 L459.1,376 L460.5,373.7 L461.9,371.5 L463.3,369.3 L464.7,367.1 L466.1,365 L467.5,362.9 L468.9,360.9 L470.3,358.9 L471.6,356.9 L473,355 L474.4,353.1 L475.8,351.3 L477.2,349.5 L478.6,347.8 L480,346.1 L481.4,344.4 L482.8,342.8 L484.2,341.2 L485.6,339.6 L487,338.1 L488.4,336.6 L489.8,335.1 L491.2,333.6 L492.6,332.2 L493.9,330.9 L495.3,329.5 L496.7,328.2 L498.1,326.9 L499.5,325.7 L500.9,324.4 L502.3,323.2 L503.7,322.1 L505.1,320.9 L506.5,319.8 L507.9,318.7 L509.3,317.6 L510.7,316.6 L512.1,315.6 L513.5,314.6 L514.8,313.6 L516.2,312.7 L517.6,311.8 L519,310.9 L520.4,310 L521.8,309.2 L523.2,308.4 L524.6,307.6 L526,306.9 L527.4,306.1 L528.8,305.4 L530.2,304.8 L531.6,304.1 L533,303.5 L534.4,302.9 L535.7,302.3 L537.1,301.8 L538.5,301.3 L539.9,300.9 L541.3,300.4 L542.7,300 L544.1,299.6 L545.5,299.3 L546.9,299 L548.3,298.8 L549.7,298.5 L551.1,298.3 L552.5,298.2 L553.9,298.1 L555.3,298 L556.7,298 L558,298.1 L559.4,298.1 L560.8,298.3 L562.2,298.5 L563.6,298.7 L565,299 L566.4,299.3 L567.8,299.7 L569.2,300.2 L570.6,300.7 L572,301.3 L573.4,301.9 L574.8,302.6 L576.2,303.4 L577.6,304.3 L578.9,305.2 L580.3,306.2 L581.7,307.3 L583.1,308.5 L584.5,309.8 L585.9,311.1 L587.3,312.6 L588.7,314.1 L590.1,315.8 L591.5,317.5 L592.9,319.3 L594.3,321.3 L595.7,323.3 L597.1,325.5 L598.5,327.8 L599.9,330.2 L601.2,332.7 L602.6,335.4 L604,338.2 L605.4,341.1 L606.8,344.2 L608.2,347.4 L609.6,350.7 L611,354.2" fill="none" stroke="#0072BD" stroke-width="1.8"/>
<path d="M420.8,472.3 L420.8,519.6" fill="none" stroke="#ff0000" stroke-width="2.3" stroke-dasharray="8.1 6.4"/>
<path d="M420.8,472.3 L696.5,472.3" fill="none" stroke="#ff0000" stroke-width="2.3" stroke-dasharray="8.1 6.4"/>
<path d="M610.7,356.7 L610.7,509.8" fill="none" stroke="#ff0000" stroke-width="2.3" stroke-dasharray="8.1 6.4"/>
<path d="M610.7,356.7 L688,356.7" fill="none" stroke="#ff0000" stroke-width="2.3" stroke-dasharray="8.1 6.4"/>
<line x1="427.5" y1="504.5" x2="596.5" y2="504.5" stroke="#ff0000" stroke-width="1.6"/>
<path d="M423.1,504.5 L428.3,501.8 L428.3,507.2 Z" fill="#ff0000"/>
<path d="M600.8,504.5 L595.6,501.8 L595.6,507.2 Z" fill="#ff0000"/>
<line x1="676.3" y1="361" x2="676.3" y2="467" stroke="#ff0000" stroke-width="1.6"/>
<path d="M676.3,356.9 L673.6,362 L679,362 Z" fill="#ff0000"/>
<path d="M676.3,471.6 L673.6,466.4 L679,466.4 Z" fill="#ff0000"/>
<text x="482.5" y="286.6" font-size="13" text-anchor="start" font-weight="bold" fill="#000" textLength="91" lengthAdjust="spacingAndGlyphs">MF Spectrum</text>
<line x1="482.9" y1="289" x2="573.9" y2="289" stroke="#000" stroke-width="1.3"/>
<text x="365.5" y="283.5" font-size="15" text-anchor="start" font-weight="bold" fill="#000" textLength="19" lengthAdjust="spacingAndGlyphs">(d)</text>
<text transform="translate(383,330.1) rotate(-90)" font-size="19" font-weight="bold" fill="#000" textLength="34.2" lengthAdjust="spacingAndGlyphs">F(&#945;)</text>
<text x="655" y="532.2" font-size="21" text-anchor="middle" font-weight="bold" fill="#000">&#945;</text>
<text x="500" y="535.2" font-size="20" text-anchor="start" font-weight="normal" fill="#ff0000" textLength="23.5" lengthAdjust="spacingAndGlyphs">&#948;&#945;</text>
<text x="706" y="451.1" font-size="20" text-anchor="start" font-weight="normal" fill="#ff0000" textLength="18.5" lengthAdjust="spacingAndGlyphs">&#948;f</text>
</svg></body></html>
